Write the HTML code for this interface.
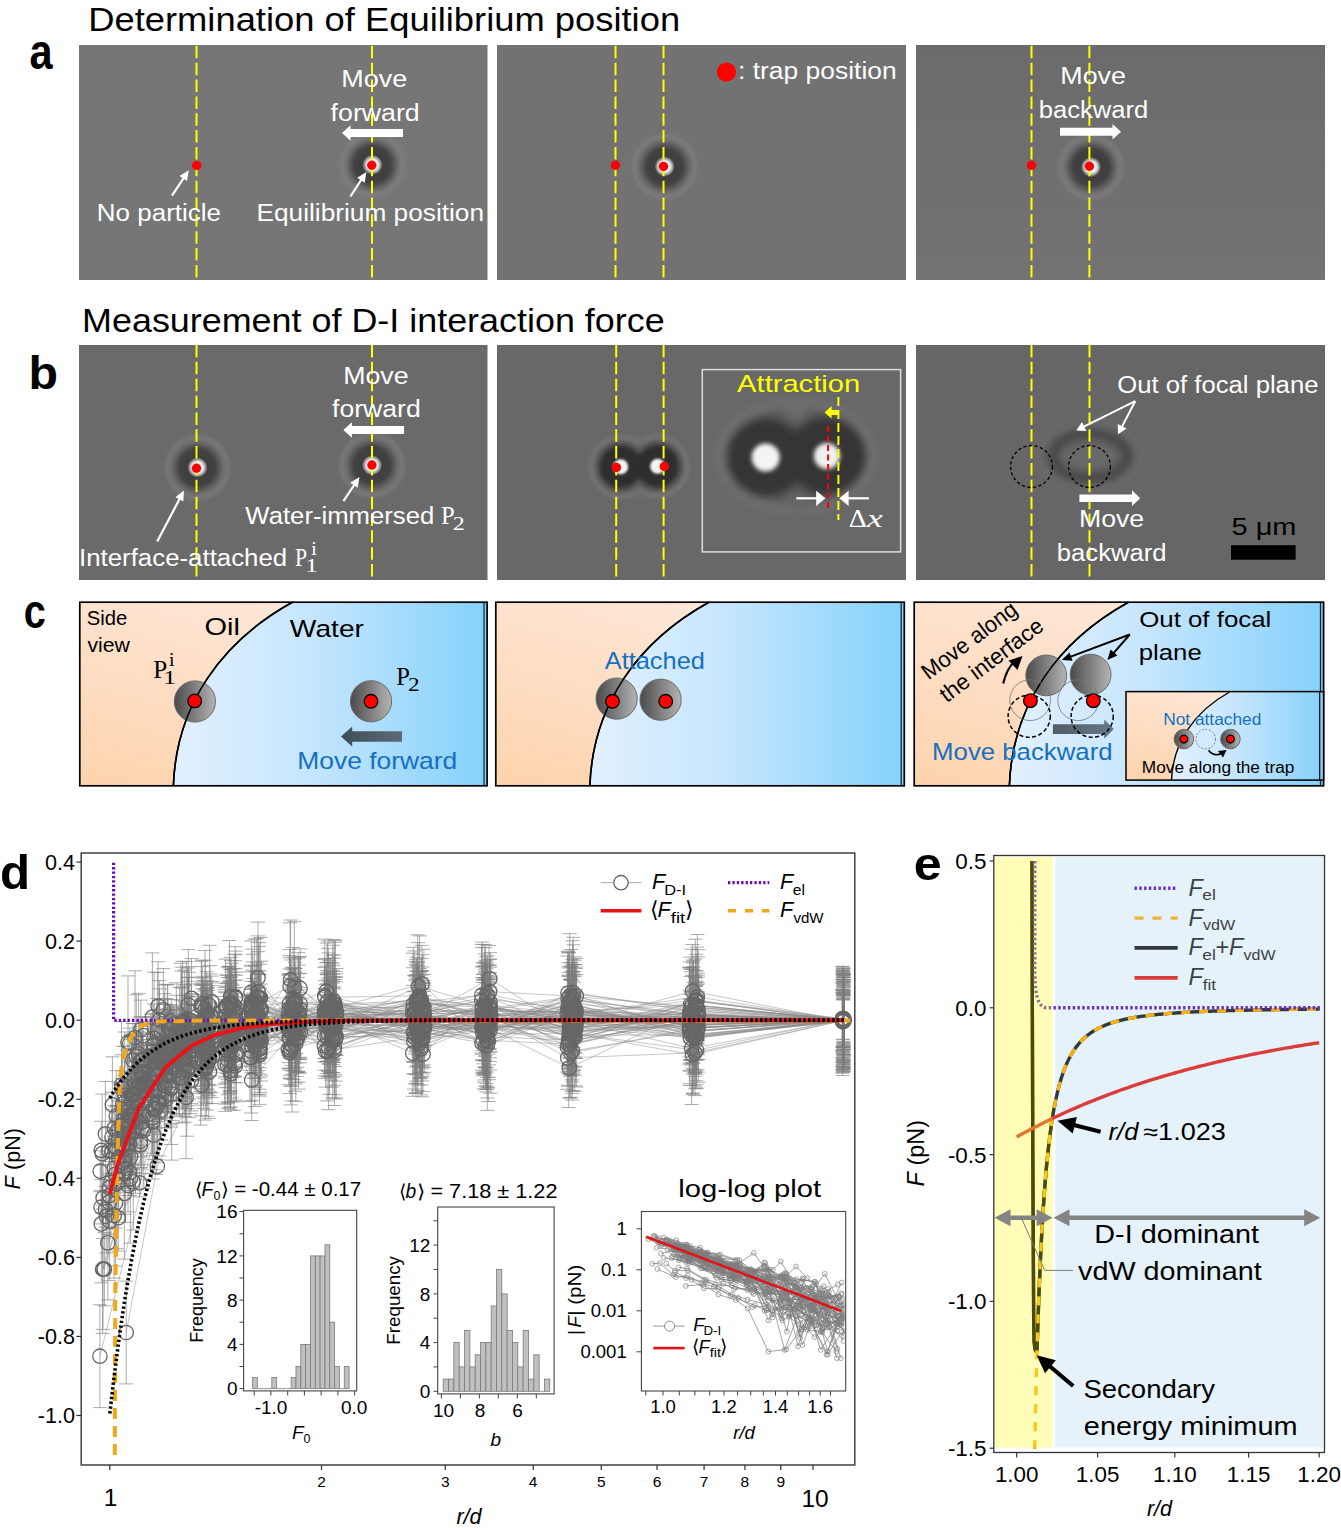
<!DOCTYPE html>
<html><head><meta charset="utf-8"><title>Figure</title>
<style>
html,body{margin:0;padding:0;background:#fff;}
body{width:1341px;height:1528px;overflow:hidden;}
svg{display:block;font-family:"Liberation Sans", sans-serif;}
</style></head><body>
<svg width="1341" height="1528" viewBox="0 0 1341 1528">
<defs>
<radialGradient id="pA" cx="0.5" cy="0.5" r="0.5">
 <stop offset="0" stop-color="#f8f8f8"/>
 <stop offset="0.15" stop-color="#f0f0f0"/>
 <stop offset="0.22" stop-color="#a0a0a0"/>
 <stop offset="0.28" stop-color="#3e3e3e"/>
 <stop offset="0.5" stop-color="#424242"/>
 <stop offset="0.61" stop-color="#585858"/>
 <stop offset="0.7" stop-color="#686868" stop-opacity="0.8"/>
 <stop offset="0.86" stop-color="#8a8a8a" stop-opacity="0.35"/>
 <stop offset="1" stop-color="#777777" stop-opacity="0"/>
</radialGradient>
<radialGradient id="pBig" cx="0.5" cy="0.5" r="0.5">
 <stop offset="0" stop-color="#ffffff"/>
 <stop offset="0.16" stop-color="#f0f0f0"/>
 <stop offset="0.26" stop-color="#6a6a6a"/>
 <stop offset="0.34" stop-color="#363636"/>
 <stop offset="0.7" stop-color="#383838"/>
 <stop offset="0.85" stop-color="#555555" stop-opacity="0.7"/>
 <stop offset="1" stop-color="#6a6a6a" stop-opacity="0"/>
</radialGradient>
<radialGradient id="blurRing" cx="0.5" cy="0.5" r="0.5">
 <stop offset="0" stop-color="#707070" stop-opacity="0.2"/>
 <stop offset="0.55" stop-color="#6c6c6c" stop-opacity="0.3"/>
 <stop offset="0.78" stop-color="#454545" stop-opacity="0.9"/>
 <stop offset="0.9" stop-color="#555555" stop-opacity="0.5"/>
 <stop offset="1" stop-color="#666666" stop-opacity="0"/>
</radialGradient>
<linearGradient id="peach" x1="0" y1="1" x2="0.6" y2="0">
 <stop offset="0" stop-color="#fdd3ad"/>
 <stop offset="1" stop-color="#fee8da"/>
</linearGradient>
<linearGradient id="blue" x1="0" y1="0" x2="1" y2="0">
 <stop offset="0" stop-color="#e2f0ff"/>
 <stop offset="0.45" stop-color="#c4e5fd"/>
 <stop offset="1" stop-color="#84d1fb"/>
</linearGradient>
<linearGradient id="ball" x1="0" y1="0" x2="1" y2="0">
 <stop offset="0" stop-color="#4a4a4a"/>
 <stop offset="1" stop-color="#b4b4b4"/>
</linearGradient>
<linearGradient id="ballH" x1="0" y1="0" x2="1" y2="0">
 <stop offset="0" stop-color="#505050"/>
 <stop offset="1" stop-color="#a8a8a8"/>
</linearGradient>
<linearGradient id="slate" x1="0" y1="0" x2="1" y2="0">
 <stop offset="0" stop-color="#3f4d59"/>
 <stop offset="1" stop-color="#5d6b78"/>
</linearGradient>
<linearGradient id="ga3" x1="0" y1="0" x2="0" y2="1"><stop offset="0" stop-color="#6b6b6b"/><stop offset="1" stop-color="#737373"/></linearGradient><filter id="bl2" x="-50%" y="-50%" width="200%" height="200%"><feGaussianBlur stdDeviation="2.2"/></filter><filter id="bl1" x="-50%" y="-50%" width="200%" height="200%"><feGaussianBlur stdDeviation="1.2"/></filter><filter id="bl4" x="-50%" y="-50%" width="200%" height="200%"><feGaussianBlur stdDeviation="4"/></filter><clipPath id="cp79"><rect x="79.8" y="602" width="407.3" height="184"/></clipPath><clipPath id="cp495"><rect x="495.8" y="602" width="408.49999999999994" height="184"/></clipPath><clipPath id="cp914"><rect x="914.2" y="602" width="409.39999999999986" height="184"/></clipPath><clipPath id="clipD"><rect x="82.2" y="854" width="771.5999999999999" height="610"/></clipPath><clipPath id="clipL"><rect x="642.4" y="1212.5" width="202.30000000000007" height="177.5"/></clipPath><clipPath id="clipY"><rect x="994" y="857" width="58.6" height="591"/></clipPath></defs>
<rect width="1341" height="1528" fill="#fff"/>
<text x="88.22" y="31.0" font-size="32.40" fill="#000" textLength="591.9" lengthAdjust="spacingAndGlyphs">Determination of Equilibrium position</text>
<text x="82.05" y="331.8" font-size="32.40" fill="#000" textLength="582.6" lengthAdjust="spacingAndGlyphs">Measurement of D-I interaction force</text>
<text x="29.49" y="69.0" font-size="50.00" fill="#000" textLength="23.1" lengthAdjust="spacingAndGlyphs" font-weight="bold">a</text>
<text x="28.52" y="388.8" font-size="46.50" fill="#000" textLength="29.5" lengthAdjust="spacingAndGlyphs" font-weight="bold">b</text>
<text x="23.85" y="628.0" font-size="48.00" fill="#000" textLength="22.0" lengthAdjust="spacingAndGlyphs" font-weight="bold">c</text>
<text x="-0.02" y="888.6" font-size="49.00" fill="#000" textLength="30.1" lengthAdjust="spacingAndGlyphs" font-weight="bold">d</text>
<text x="913.84" y="880.0" font-size="47.00" fill="#000" textLength="27.9" lengthAdjust="spacingAndGlyphs" font-weight="bold">e</text>
<rect x="79" y="45" width="408.5" height="235" fill="#767676"/>
<rect x="497" y="45" width="409" height="235" fill="#727272"/>
<rect x="916" y="45" width="409" height="235" fill="url(#ga3)"/>
<rect x="79" y="345" width="408.5" height="235" fill="#6a6a6a"/>
<rect x="497" y="345" width="409" height="235" fill="#686868"/>
<rect x="916" y="345" width="409" height="235" fill="#666666"/>
<circle cx="372.5" cy="164.8" r="36" fill="url(#pA)"/>
<line x1="196.5" y1="45" x2="196.5" y2="280" stroke="#ffff00" stroke-width="2" stroke-dasharray="12.5 4.35" stroke-dashoffset="-0.85"/>
<line x1="372" y1="45" x2="372" y2="280" stroke="#ffff00" stroke-width="2" stroke-dasharray="12.5 4.35" stroke-dashoffset="-0.85"/>
<circle cx="196.7" cy="165.4" r="4.7" fill="#ff0000"/>
<circle cx="371.8" cy="165.2" r="4.7" fill="#ff0000"/>
<line x1="172.0" y1="195.6" x2="183.8" y2="177.8" stroke="#ffffff" stroke-width="2.2"/>
<polygon points="188.8,170.3 187.0,181.1 179.5,176.1" fill="#ffffff"/>
<line x1="350.4" y1="196.5" x2="361.5" y2="179.4" stroke="#ffffff" stroke-width="2.2"/>
<polygon points="366.4,171.9 364.7,182.7 357.2,177.8" fill="#ffffff"/>
<polygon points="403.0,129.0 350.5,129.0 350.5,125.2 342.0,133.0 350.5,140.8 350.5,137.0 403.0,137.0" fill="#ffffff" />
<text x="341.29" y="87.0" font-size="23.18" fill="#ffffff" textLength="65.9" lengthAdjust="spacingAndGlyphs">Move</text>
<text x="330.62" y="120.5" font-size="23.18" fill="#ffffff" textLength="89.1" lengthAdjust="spacingAndGlyphs">forward</text>
<text x="96.87" y="220.5" font-size="23.18" fill="#ffffff" textLength="124.1" lengthAdjust="spacingAndGlyphs">No particle</text>
<text x="256.45" y="220.8" font-size="23.18" fill="#ffffff" textLength="227.6" lengthAdjust="spacingAndGlyphs">Equilibrium position</text>
<circle cx="664.7" cy="166.5" r="36" fill="url(#pA)"/>
<line x1="615.5" y1="45" x2="615.5" y2="280" stroke="#ffff00" stroke-width="2" stroke-dasharray="12.5 4.35" stroke-dashoffset="-0.85"/>
<line x1="663.5" y1="45" x2="663.5" y2="280" stroke="#ffff00" stroke-width="2" stroke-dasharray="12.5 4.35" stroke-dashoffset="-0.85"/>
<circle cx="615.5" cy="165.3" r="4.7" fill="#ff0000"/>
<circle cx="663.5" cy="166.5" r="4.7" fill="#ff0000"/>
<circle cx="726.5" cy="72" r="9.6" fill="#ff0000"/>
<text x="737.99" y="79.1" font-size="23.18" fill="#ffffff" textLength="158.7" lengthAdjust="spacingAndGlyphs">: trap position</text>
<circle cx="1091" cy="167" r="36" fill="url(#pA)"/>
<line x1="1031.5" y1="45" x2="1031.5" y2="280" stroke="#ffff00" stroke-width="2" stroke-dasharray="12.5 4.35" stroke-dashoffset="-0.85"/>
<line x1="1089.4" y1="45" x2="1089.4" y2="280" stroke="#ffff00" stroke-width="2" stroke-dasharray="12.5 4.35" stroke-dashoffset="-0.85"/>
<circle cx="1031.5" cy="165.2" r="4.7" fill="#ff0000"/>
<circle cx="1089.4" cy="166.3" r="4.7" fill="#ff0000"/>
<polygon points="1060.0,127.7 1112.5,127.7 1112.5,123.9 1121.0,131.7 1112.5,139.4 1112.5,135.7 1060.0,135.7" fill="#ffffff" />
<text x="1060.30" y="84.0" font-size="23.18" fill="#ffffff" textLength="65.7" lengthAdjust="spacingAndGlyphs">Move</text>
<text x="1038.75" y="117.8" font-size="23.18" fill="#ffffff" textLength="109.5" lengthAdjust="spacingAndGlyphs">backward</text>
<circle cx="197.5" cy="467.5" r="36" fill="url(#pA)"/>
<circle cx="372" cy="465.2" r="36" fill="url(#pA)"/>
<line x1="196.5" y1="345" x2="196.5" y2="580" stroke="#ffff00" stroke-width="2" stroke-dasharray="12.5 4.35" stroke-dashoffset="0"/>
<line x1="372" y1="345" x2="372" y2="580" stroke="#ffff00" stroke-width="2" stroke-dasharray="12.5 4.35" stroke-dashoffset="0"/>
<circle cx="196.5" cy="468.2" r="4.7" fill="#ff0000"/>
<circle cx="371.9" cy="465" r="4.7" fill="#ff0000"/>
<line x1="157.2" y1="541.6" x2="179.8" y2="498.5" stroke="#ffffff" stroke-width="2.2"/>
<polygon points="184.0,490.5 183.3,501.4 175.4,497.3" fill="#ffffff"/>
<line x1="343.4" y1="501.2" x2="354.5" y2="484.5" stroke="#ffffff" stroke-width="2.2"/>
<polygon points="359.5,477.0 357.7,487.8 350.2,482.8" fill="#ffffff"/>
<polygon points="404.1,426.0 351.9,426.0 351.9,422.2 343.4,430.0 351.9,437.8 351.9,434.0 404.1,434.0" fill="#ffffff" />
<text x="343.21" y="384.0" font-size="23.18" fill="#ffffff" textLength="65.4" lengthAdjust="spacingAndGlyphs">Move</text>
<text x="332.02" y="416.9" font-size="23.18" fill="#ffffff" textLength="88.7" lengthAdjust="spacingAndGlyphs">forward</text>
<text x="245.39" y="523.5" font-size="23.18" fill="#ffffff" textLength="188.9" lengthAdjust="spacingAndGlyphs">Water-immersed</text>
<text x="441.09" y="523.5" font-size="25.00" fill="#ffffff" font-family='"Liberation Serif", serif' textLength="13.7" lengthAdjust="spacingAndGlyphs">P</text>
<text x="452.75" y="529.8" font-size="18.50" fill="#ffffff" font-family='"Liberation Serif", serif' textLength="12.0" lengthAdjust="spacingAndGlyphs">2</text>
<text x="79.02" y="566.0" font-size="23.18" fill="#ffffff" textLength="208.2" lengthAdjust="spacingAndGlyphs">Interface-attached</text>
<text x="295.07" y="566.0" font-size="25.00" fill="#ffffff" font-family='"Liberation Serif", serif' textLength="12.1" lengthAdjust="spacingAndGlyphs">P</text>
<text x="305.38" y="572.3" font-size="18.50" fill="#ffffff" font-family='"Liberation Serif", serif' textLength="12.6" lengthAdjust="spacingAndGlyphs">1</text>
<text x="311.39" y="555.2" font-size="18.50" fill="#ffffff" font-family='"Liberation Serif", serif' textLength="5.5" lengthAdjust="spacingAndGlyphs">i</text>
<g filter="url(#bl2)">
<circle cx="620.7" cy="466.8" r="31" fill="#7c7c7c"/><circle cx="657.6" cy="466.3" r="31" fill="#7c7c7c"/>
<circle cx="620.7" cy="466.8" r="27.5" fill="#5a5a5a"/><circle cx="657.6" cy="466.3" r="27.5" fill="#5a5a5a"/>
<circle cx="620.7" cy="466.8" r="22" fill="#2e2e2e"/><circle cx="657.6" cy="466.3" r="22" fill="#2e2e2e"/>
<ellipse cx="639" cy="442" rx="6" ry="4" fill="#707070"/><ellipse cx="639" cy="491" rx="6" ry="4" fill="#707070"/>
</g>
<g filter="url(#bl1)"><circle cx="620.7" cy="466.8" r="7.5" fill="#f4f4f4"/><circle cx="657.6" cy="466.3" r="7.5" fill="#f4f4f4"/></g>
<line x1="616.2" y1="345" x2="616.2" y2="580" stroke="#ffff00" stroke-width="2" stroke-dasharray="12.5 4.35" stroke-dashoffset="0"/>
<line x1="663.6" y1="345" x2="663.6" y2="580" stroke="#ffff00" stroke-width="2" stroke-dasharray="12.5 4.35" stroke-dashoffset="0"/>
<circle cx="616.4" cy="467.5" r="4.7" fill="#ff0000"/>
<circle cx="664.3" cy="466.5" r="4.7" fill="#ff0000"/>
<rect x="702.3" y="369.6" width="198.3" height="182.3" fill="none" stroke="#dcdcdc" stroke-width="1.5"/>
<g filter="url(#bl4)">
<ellipse cx="796" cy="456" rx="80" ry="56" fill="#747474"/>
<ellipse cx="796" cy="456" rx="72" ry="50" fill="#5c5c5c"/>
<circle cx="765.7" cy="457.5" r="40" fill="#343434"/><circle cx="826.9" cy="456" r="40" fill="#343434"/>
<ellipse cx="796" cy="411" rx="11" ry="9" fill="#6c6c6c"/><ellipse cx="798" cy="502" rx="11" ry="9" fill="#666666"/>
</g>
<g filter="url(#bl2)"><circle cx="765.7" cy="457.5" r="14" fill="#f4f4f4"/><circle cx="826.9" cy="456" r="13" fill="#f0f0f0"/></g>
<line x1="828.1" y1="426" x2="828.1" y2="508" stroke="#ff0000" stroke-width="2" stroke-dasharray="6 3.5"/>
<line x1="838.4" y1="397" x2="838.4" y2="520" stroke="#ffff00" stroke-width="2" stroke-dasharray="9 4"/>
<polygon points="838.4,409.9 831.6,409.9 831.6,406.1 824.6,412.4 831.6,418.6 831.6,414.9 838.4,414.9" fill="#ffff00" />
<line x1="796.3" y1="498.3" x2="817.2" y2="498.3" stroke="#ffffff" stroke-width="2.2"/>
<polygon points="825.4,498.3 816.2,505.9 816.2,490.7" fill="#ffffff"/>
<line x1="869.0" y1="498.3" x2="847.6" y2="498.3" stroke="#ffffff" stroke-width="2.2"/>
<polygon points="839.4,498.3 848.6,490.7 848.6,505.9" fill="#ffffff"/>
<text x="737.14" y="392.2" font-size="23.46" fill="#ffff00" textLength="123.0" lengthAdjust="spacingAndGlyphs">Attraction</text>
<text x="848.73" y="527.0" font-size="25.00" fill="#ffffff" font-family='"Liberation Serif", serif' textLength="18.1" lengthAdjust="spacingAndGlyphs">Δ</text>
<text x="866.94" y="527.0" font-size="25.00" fill="#ffffff" font-family='"Liberation Serif", serif' textLength="15.8" lengthAdjust="spacingAndGlyphs" font-style="italic">x</text>
<g filter="url(#bl4)"><ellipse cx="1090" cy="456" rx="37" ry="22" fill="#6a6a6a" stroke="#3e3e3e" stroke-width="12" opacity="0.8"/><ellipse cx="1090" cy="456" rx="50" ry="34" fill="none" stroke="#707070" stroke-width="5" opacity="0.6"/></g>
<line x1="1031.5" y1="345" x2="1031.5" y2="580" stroke="#ffff00" stroke-width="2" stroke-dasharray="12.5 4.35" stroke-dashoffset="0"/>
<line x1="1089.5" y1="345" x2="1089.5" y2="580" stroke="#ffff00" stroke-width="2" stroke-dasharray="12.5 4.35" stroke-dashoffset="0"/>
<circle cx="1031.5" cy="466.5" r="20.9" fill="none" stroke="#000" stroke-width="1.3" stroke-dasharray="3.2 2.4"/>
<circle cx="1089.5" cy="466.5" r="20.9" fill="none" stroke="#000" stroke-width="1.3" stroke-dasharray="3.2 2.4"/>
<line x1="1135.2" y1="401.2" x2="1083.4" y2="426.9" stroke="#ffffff" stroke-width="2"/>
<polygon points="1076.2,430.4 1082.0,421.9 1086.5,430.9" fill="#ffffff"/>
<line x1="1135.2" y1="401.2" x2="1121.7" y2="427.1" stroke="#ffffff" stroke-width="2"/>
<polygon points="1118.0,434.2 1117.7,423.9 1126.6,428.5" fill="#ffffff"/>
<polygon points="1079.4,494.4 1132.0,494.4 1132.0,490.3 1140.2,498.2 1132.0,506.1 1132.0,502.0 1079.4,502.0" fill="#ffffff" />
<text x="1117.18" y="393.2" font-size="23.18" fill="#ffffff" textLength="201.3" lengthAdjust="spacingAndGlyphs">Out of focal plane</text>
<text x="1078.91" y="526.7" font-size="23.18" fill="#ffffff" textLength="65.3" lengthAdjust="spacingAndGlyphs">Move</text>
<text x="1056.85" y="560.9" font-size="23.18" fill="#ffffff" textLength="109.6" lengthAdjust="spacingAndGlyphs">backward</text>
<text x="1231.54" y="535.2" font-size="23.18" fill="#000" textLength="64.9" lengthAdjust="spacingAndGlyphs">5 μm</text>
<rect x="1231" y="545.2" width="64.6" height="14.5" fill="#000"/>
<g clip-path="url(#cp79)">
<rect x="79.8" y="602" width="407.3" height="184" fill="url(#peach)"/>
<path transform="translate(0,0)" d="M292.8,602 C221.6,641.2 176.1,705.1 173.4,785.8 L489.1,785.8 L489.1,600 Z" fill="url(#blue)"/>
<path transform="translate(0,0)" d="M292.8,602 C221.6,641.2 176.1,705.1 173.4,785.8" fill="none" stroke="#000" stroke-width="1.6"/>
</g>
<line x1="484.0" y1="602.5" x2="484.0" y2="785.5" stroke="#1a2a33" stroke-width="1.3"/>
<rect x="79.8" y="602.2" width="407.3" height="183.6" fill="none" stroke="#000" stroke-width="1.7"/>
<g clip-path="url(#cp495)">
<rect x="495.8" y="602" width="408.49999999999994" height="184" fill="url(#peach)"/>
<path transform="translate(416.5,0)" d="M292.8,602 C221.6,641.2 176.1,705.1 173.4,785.8 L489.79999999999995,785.8 L489.79999999999995,600 Z" fill="url(#blue)"/>
<path transform="translate(416.5,0)" d="M292.8,602 C221.6,641.2 176.1,705.1 173.4,785.8" fill="none" stroke="#000" stroke-width="1.6"/>
</g>
<line x1="901.1999999999999" y1="602.5" x2="901.1999999999999" y2="785.5" stroke="#1a2a33" stroke-width="1.3"/>
<rect x="495.8" y="602.2" width="408.49999999999994" height="183.6" fill="none" stroke="#000" stroke-width="1.7"/>
<g clip-path="url(#cp914)">
<rect x="914.2" y="602" width="409.39999999999986" height="184" fill="url(#peach)"/>
<path transform="translate(836,0)" d="M292.8,602 C221.6,641.2 176.1,705.1 173.4,785.8 L489.5999999999999,785.8 L489.5999999999999,600 Z" fill="url(#blue)"/>
<path transform="translate(836,0)" d="M292.8,602 C221.6,641.2 176.1,705.1 173.4,785.8" fill="none" stroke="#000" stroke-width="1.6"/>
</g>
<line x1="1320.5" y1="602.5" x2="1320.5" y2="785.5" stroke="#1a2a33" stroke-width="1.3"/>
<rect x="914.2" y="602.2" width="409.39999999999986" height="183.6" fill="none" stroke="#000" stroke-width="1.7"/>
<circle cx="194.9" cy="701.5" r="20.6" fill="url(#ball)" stroke="#6a6a6a" stroke-width="1"/>
<path d="M292.8,602 C221.6,641.2 176.1,705.1 173.4,785.8" fill="none" stroke="#000" stroke-width="1.6"/>
<circle cx="194.7" cy="700.9" r="6.8" fill="#ff0000" stroke="#000" stroke-width="1.3"/>
<circle cx="371" cy="701.3" r="20.6" fill="url(#ball)" stroke="#6a6a6a" stroke-width="1"/>
<circle cx="371" cy="701.3" r="6.8" fill="#ff0000" stroke="#000" stroke-width="1.3"/>
<text x="86.68" y="624.7" font-size="19.55" fill="#000" textLength="40.5" lengthAdjust="spacingAndGlyphs">Side</text>
<text x="87.53" y="652.4" font-size="19.55" fill="#000" textLength="42.4" lengthAdjust="spacingAndGlyphs">view</text>
<text x="204.53" y="635.0" font-size="24.44" fill="#000" textLength="35.4" lengthAdjust="spacingAndGlyphs">Oil</text>
<text x="289.88" y="636.6" font-size="24.44" fill="#000" textLength="74.1" lengthAdjust="spacingAndGlyphs">Water</text>
<text x="153.27" y="677.5" font-size="25.50" fill="#000" font-family='"Liberation Serif", serif' textLength="14.0" lengthAdjust="spacingAndGlyphs">P</text>
<text x="163.25" y="683.5" font-size="18.50" fill="#000" font-family='"Liberation Serif", serif' textLength="12.8" lengthAdjust="spacingAndGlyphs">1</text>
<text x="169.09" y="666.0" font-size="18.50" fill="#000" font-family='"Liberation Serif", serif' textLength="5.5" lengthAdjust="spacingAndGlyphs">i</text>
<text x="396.29" y="685.0" font-size="25.50" fill="#000" font-family='"Liberation Serif", serif' textLength="13.7" lengthAdjust="spacingAndGlyphs">P</text>
<text x="407.98" y="691.3" font-size="18.50" fill="#000" font-family='"Liberation Serif", serif' textLength="11.6" lengthAdjust="spacingAndGlyphs">2</text>
<polygon points="402.0,731.3 352.2,731.3 352.2,726.6 341.0,736.5 352.2,746.4 352.2,741.7 402.0,741.7" fill="url(#slate)" />
<text x="297.23" y="769.0" font-size="23.46" fill="#1570c0" textLength="160.1" lengthAdjust="spacingAndGlyphs">Move forward</text>
<circle cx="616.6" cy="698.6" r="20.6" fill="url(#ball)" stroke="#6a6a6a" stroke-width="1"/>
<g transform="translate(416.5,0)"><path d="M292.8,602 C221.6,641.2 176.1,705.1 173.4,785.8" fill="none" stroke="#000" stroke-width="1.6"/></g>
<circle cx="612.5" cy="701.3" r="6.8" fill="#ff0000" stroke="#000" stroke-width="1.3"/>
<circle cx="660.6" cy="699.7" r="20.6" fill="url(#ball)" stroke="#6a6a6a" stroke-width="1"/>
<circle cx="665.7" cy="701.3" r="6.8" fill="#ff0000" stroke="#000" stroke-width="1.3"/>
<text x="604.75" y="668.6" font-size="23.46" fill="#1570c0" textLength="100.1" lengthAdjust="spacingAndGlyphs">Attached</text>
<circle cx="1046.2" cy="675.4" r="20.4" fill="url(#ball)" stroke="#6a6a6a" stroke-width="1"/>
<circle cx="1090.6" cy="674.6" r="20.4" fill="url(#ball)" stroke="#6a6a6a" stroke-width="1"/>
<g transform="translate(836,0)"><path d="M292.8,602 C221.6,641.2 176.1,705.1 173.4,785.8" fill="none" stroke="#000" stroke-width="1.6"/></g>
<circle cx="1030.1" cy="700.2" r="20.4" fill="none" stroke="#777" stroke-width="0.8"/>
<circle cx="1078.2" cy="700.2" r="20.4" fill="none" stroke="#777" stroke-width="0.8"/>
<polygon points="1052.9,724.3 1104.2,724.3 1104.2,719.5 1113.8,729.1 1104.2,738.7 1104.2,733.9 1052.9,733.9" fill="url(#slate)" opacity="0.9"/>
<circle cx="1029.2" cy="716.2" r="21.1" fill="none" stroke="#000" stroke-width="1.5" stroke-dasharray="4 2.5"/>
<circle cx="1092.2" cy="716.2" r="21.1" fill="none" stroke="#000" stroke-width="1.5" stroke-dasharray="4 2.5"/>
<circle cx="1030.4" cy="700.7" r="6.8" fill="#ff0000" stroke="#000" stroke-width="1.3"/>
<circle cx="1093.3" cy="700.7" r="6.8" fill="#ff0000" stroke="#000" stroke-width="1.3"/>
<text x="932.09" y="760.3" font-size="23.46" fill="#1570c0" textLength="180.5" lengthAdjust="spacingAndGlyphs">Move backward</text>
<line x1="1129.8" y1="634.5" x2="1070.1" y2="656.9" stroke="#000" stroke-width="2"/>
<polygon points="1061.7,660.1 1069.5,652.4 1072.6,660.8" fill="#000"/>
<line x1="1129.8" y1="634.5" x2="1113.3" y2="653.3" stroke="#000" stroke-width="2"/>
<polygon points="1107.4,660.1 1110.6,649.6 1117.4,655.5" fill="#000"/>
<text x="1139.18" y="626.6" font-size="22.91" fill="#000" textLength="132.1" lengthAdjust="spacingAndGlyphs">Out of focal</text>
<text x="1138.74" y="659.5" font-size="22.91" fill="#000" textLength="63.0" lengthAdjust="spacingAndGlyphs">plane</text>
<g transform="translate(930,679.5) rotate(-37)">
<text x="-1.80" y="0.0" font-size="22.63" fill="#000" textLength="113.2" lengthAdjust="spacingAndGlyphs">Move along</text>
</g>
<g transform="translate(947,703) rotate(-37)">
<text x="-0.34" y="0.0" font-size="22.63" fill="#000" textLength="123.3" lengthAdjust="spacingAndGlyphs">the interface</text>
</g>
<path d="M1003.2,683.4 Q1007,668 1015,661" fill="none" stroke="#000" stroke-width="2.2"/>
<polygon points="1022.5,656 1008.5,660.5 1017.5,670" fill="#000"/>
<g>
<clipPath id="clipIn"><rect x="1126" y="691.6" width="197.6" height="88.5"/></clipPath>
<g clip-path="url(#clipIn)">
<rect x="1126" y="691.6" width="197.6" height="88.5" fill="url(#peach)"/>
<path d="M1229.6,692 C1194.9,711.1 1172.8,742.2 1171.5,780.5 L1324,780.5 L1324,691.6 Z" fill="url(#blue)"/>
<path d="M1229.6,692 C1194.9,711.1 1172.8,742.2 1171.5,780.5" fill="none" stroke="#000" stroke-width="1.4"/>
</g>
<rect x="1126" y="691.6" width="197.6" height="88.5" fill="none" stroke="#000" stroke-width="1.5"/>
<line x1="1319.7" y1="691.6" x2="1319.7" y2="780" stroke="#000" stroke-width="1.2"/>
</g>
<circle cx="1183.9" cy="739.1" r="9.8" fill="url(#ball)" stroke="#6a6a6a" stroke-width="1"/>
<circle cx="1183.9" cy="739.1" r="3.9" fill="#ff0000" stroke="#000" stroke-width="1.3"/>
<circle cx="1205.7" cy="739.1" r="9.8" fill="none" stroke="#666" stroke-width="0.8" stroke-dasharray="2 1.5"/>
<circle cx="1230.4" cy="739.1" r="9.8" fill="url(#ball)" stroke="#6a6a6a" stroke-width="1"/>
<circle cx="1230.4" cy="739.1" r="3.9" fill="#ff0000" stroke="#000" stroke-width="1.3"/>
<text x="1163.18" y="724.5" font-size="16.48" fill="#1570c0" textLength="98.1" lengthAdjust="spacingAndGlyphs">Not attached</text>
<text x="1141.78" y="773.0" font-size="15.64" fill="#000" textLength="152.7" lengthAdjust="spacingAndGlyphs">Move along the trap</text>
<path d="M1208.5,750.3 Q1214,757.5 1222,753" fill="none" stroke="#000" stroke-width="1.6"/>
<polygon points="1226.5,750 1218,751 1223,757.5" fill="#000"/>
<rect x="81.2" y="853" width="773.5999999999999" height="612" fill="#fff" stroke="#333333" stroke-width="1.4"/>
<line x1="76.4" y1="862.1" x2="81.2" y2="862.1" stroke="#333333" stroke-width="1.2"/>
<text x="75.00" y="869.7" font-size="21.60" fill="#000" text-anchor="end">0.4</text>
<line x1="76.4" y1="941.1" x2="81.2" y2="941.1" stroke="#333333" stroke-width="1.2"/>
<text x="75.00" y="948.7" font-size="21.60" fill="#000" text-anchor="end">0.2</text>
<line x1="76.4" y1="1020.2" x2="81.2" y2="1020.2" stroke="#333333" stroke-width="1.2"/>
<text x="75.00" y="1027.8" font-size="21.60" fill="#000" text-anchor="end">0.0</text>
<line x1="76.4" y1="1099.3" x2="81.2" y2="1099.3" stroke="#333333" stroke-width="1.2"/>
<text x="75.00" y="1106.9" font-size="21.60" fill="#000" text-anchor="end">-0.2</text>
<line x1="76.4" y1="1178.3" x2="81.2" y2="1178.3" stroke="#333333" stroke-width="1.2"/>
<text x="75.00" y="1185.9" font-size="21.60" fill="#000" text-anchor="end">-0.4</text>
<line x1="76.4" y1="1257.4" x2="81.2" y2="1257.4" stroke="#333333" stroke-width="1.2"/>
<text x="75.00" y="1265.0" font-size="21.60" fill="#000" text-anchor="end">-0.6</text>
<line x1="76.4" y1="1336.4" x2="81.2" y2="1336.4" stroke="#333333" stroke-width="1.2"/>
<text x="75.00" y="1344.0" font-size="21.60" fill="#000" text-anchor="end">-0.8</text>
<line x1="76.4" y1="1415.5" x2="81.2" y2="1415.5" stroke="#333333" stroke-width="1.2"/>
<text x="75.00" y="1423.1" font-size="21.60" fill="#000" text-anchor="end">-1.0</text>
<line x1="109.8" y1="1465" x2="109.8" y2="1470" stroke="#333333" stroke-width="1.2"/>
<line x1="321.5" y1="1465" x2="321.5" y2="1470" stroke="#333333" stroke-width="1.2"/>
<line x1="445.3" y1="1465" x2="445.3" y2="1470" stroke="#333333" stroke-width="1.2"/>
<line x1="533.2" y1="1465" x2="533.2" y2="1470" stroke="#333333" stroke-width="1.2"/>
<line x1="601.3" y1="1465" x2="601.3" y2="1470" stroke="#333333" stroke-width="1.2"/>
<line x1="657.0" y1="1465" x2="657.0" y2="1470" stroke="#333333" stroke-width="1.2"/>
<line x1="704.1" y1="1465" x2="704.1" y2="1470" stroke="#333333" stroke-width="1.2"/>
<line x1="744.9" y1="1465" x2="744.9" y2="1470" stroke="#333333" stroke-width="1.2"/>
<line x1="780.8" y1="1465" x2="780.8" y2="1470" stroke="#333333" stroke-width="1.2"/>
<line x1="813.0" y1="1465" x2="813.0" y2="1470" stroke="#333333" stroke-width="1.2"/>
<text x="321.48" y="1486.5" font-size="15.50" fill="#000" text-anchor="middle">2</text>
<text x="445.31" y="1486.5" font-size="15.50" fill="#000" text-anchor="middle">3</text>
<text x="533.17" y="1486.5" font-size="15.50" fill="#000" text-anchor="middle">4</text>
<text x="601.32" y="1486.5" font-size="15.50" fill="#000" text-anchor="middle">5</text>
<text x="657.00" y="1486.5" font-size="15.50" fill="#000" text-anchor="middle">6</text>
<text x="704.07" y="1486.5" font-size="15.50" fill="#000" text-anchor="middle">7</text>
<text x="744.85" y="1486.5" font-size="15.50" fill="#000" text-anchor="middle">8</text>
<text x="780.82" y="1486.5" font-size="15.50" fill="#000" text-anchor="middle">9</text>
<text x="110.50" y="1506.0" font-size="24.44" fill="#000" text-anchor="middle">1</text>
<text x="815.00" y="1507.0" font-size="24.44" fill="#000" text-anchor="middle">10</text>
<text x="469.00" y="1524.0" font-size="21.60" fill="#000" text-anchor="middle" font-style="italic">r/d</text>
<g transform="translate(19.7,1189.5) rotate(-90)">
<text x="0.00" y="0.0" font-size="21.60" fill="#000" font-style="italic">F</text>
<text x="19.50" y="0.0" font-size="21.60" fill="#000">(pN)</text>
</g>
<g clip-path="url(#clipD)">
<path d="M129.0,1126.2 151.1,1060.7 182.1,1082.9 205.0,1009.8 225.1,1031.8 255.7,1016.0 288.7,1018.5 329.7,1028.8 413.4,1032.4 482.4,1007.7 571.1,1014.5 696.8,1000.1 842.5,1020.9M125.5,1168.2 160.9,1110.7 189.3,1066.9 209.4,1058.1 228.0,1045.4 261.4,1009.7 289.7,1028.9 329.5,1027.6 421.9,1039.4 483.0,1023.2 571.7,1006.9 689.6,1028.4 843.5,1020.1M117.0,1131.0 141.4,1071.8 151.2,1078.7 180.3,1049.6 207.2,1045.5 235.2,1010.8 259.5,1045.0 298.8,1023.1 327.8,1001.3 417.7,1034.5 484.9,1031.1 575.3,1011.5 698.0,1015.4 842.6,1020.1M105.5,1209.6 124.9,1135.0 157.4,1076.7 171.0,1029.7 211.1,1016.9 231.9,1035.4 251.3,1007.0 291.3,1019.6 328.6,1024.7 417.1,1030.5 482.7,1017.9 575.0,1037.1 698.4,1015.9 843.2,1018.8M109.1,1150.6 134.0,1094.7 157.2,1101.3 171.1,1088.7 200.8,1063.0 227.9,1059.9 252.7,1007.6 296.7,1038.1 336.0,1012.1 418.1,998.8 490.2,1006.7 576.3,1022.7 698.0,1021.5 843.0,1020.7M136.8,1102.6 170.4,1072.5 184.7,1050.3 204.8,1019.7 231.2,1008.2 251.1,1002.3 288.4,1049.6 336.2,1036.4 420.6,1037.4 486.5,1020.4 575.8,1028.4 693.3,1017.0 843.9,1019.8M124.6,1086.8 139.6,1087.1 151.8,1083.3 182.6,1021.6 203.5,1044.6 227.8,1030.7 258.9,1004.8 294.4,1017.9 331.3,1015.9 421.9,1020.0 490.0,1014.9 571.3,1013.8 694.9,1025.0 843.2,1019.2M121.5,1085.0 143.9,1066.3 167.4,1050.6 174.0,1024.4 205.8,1067.2 230.7,996.6 253.6,1015.1 290.6,1047.7 328.3,1006.1 421.4,1001.9 481.8,995.2 572.3,1016.2 693.3,1017.7 842.3,1018.5M101.3,1150.4 141.2,1072.7 159.4,1020.2 177.9,1028.1 207.3,1012.9 235.7,997.1 252.8,1019.2 289.8,1052.6 330.8,1015.2 415.5,1034.9 482.6,1013.5 568.7,1041.3 689.7,1021.1 842.7,1019.6M104.4,1269.2 124.3,1193.4 165.5,1046.5 176.1,1071.0 202.5,1007.8 225.4,1021.7 259.8,1027.9 298.8,1018.4 332.6,1006.1 416.1,1008.6 483.8,1012.8 569.9,1023.6 693.5,1010.7 842.6,1020.2M143.8,1130.3 152.8,1109.0 186.1,1097.5 208.4,1061.3 224.9,1064.4 259.7,1020.9 299.1,1015.2 332.1,1040.7 421.6,1027.6 489.1,1021.4 568.5,1020.1 694.1,1037.3 843.2,1020.2M111.0,1182.2 138.4,1075.2 154.0,1069.5 186.4,1044.1 212.4,1041.3 230.5,1050.4 254.2,1041.9 294.1,1018.4 332.7,1008.8 422.0,983.9 487.3,1045.0 573.1,1013.7 690.0,1021.3 842.6,1019.7M142.4,1075.1 152.4,1051.6 188.1,1034.6 206.7,1030.0 235.2,998.0 258.1,997.7 291.1,1024.4 335.3,1007.5 418.6,1031.3 481.8,1027.2 567.3,1014.1 693.8,1018.3 843.1,1019.6M142.5,1086.2 168.5,1027.8 187.9,1035.1 208.2,1043.2 235.6,1017.0 261.0,1025.9 295.0,1001.8 333.2,1027.5 413.2,1015.1 488.3,1006.7 571.4,1029.2 696.2,1005.1 843.5,1020.2M109.7,1221.1 128.4,1132.8 161.8,1070.4 189.5,1032.7 209.6,1005.5 229.5,1037.9 254.6,1000.6 294.7,1017.6 329.0,1021.2 416.8,1020.4 482.2,1007.8 569.8,1044.4 698.1,1014.0 842.5,1019.9M134.1,1131.7 159.4,1090.2 182.4,1077.8 200.9,1048.2 234.0,1045.3 252.3,1017.6 299.4,1014.6 332.3,1034.1 416.3,1000.0 482.8,1025.7 569.6,1041.0 695.1,1020.0 843.6,1021.1M130.4,1178.6 153.8,1135.1 187.6,1070.9 209.5,1071.7 230.6,1073.8 252.0,1023.3 300.0,988.4 328.2,1009.9 422.6,1015.4 483.7,1025.5 569.3,1067.9 696.2,1007.4 842.8,1018.5M114.2,1215.4 126.4,1148.3 149.5,1113.8 176.6,1029.9 204.8,1026.8 236.1,1052.6 251.0,992.4 300.0,1009.7 326.9,1010.8 417.0,1027.8 489.2,1028.2 574.8,1027.4 693.3,1020.4 842.4,1020.1M109.5,1187.7 133.1,1119.6 170.0,1057.4 190.9,1050.2 205.2,1037.1 227.5,1024.5 254.8,1045.9 294.3,987.9 335.7,1021.6 414.8,1014.6 489.0,1024.0 574.0,1034.8 696.8,1035.3 843.7,1021.0M112.4,1104.8 135.0,1037.5 157.6,1029.7 186.4,1019.9 202.9,1022.8 227.5,1025.7 252.5,1006.0 290.1,986.2 335.2,1039.6 419.7,1000.3 484.6,1014.4 570.9,1053.1 698.3,1027.3 843.2,1020.6M129.0,1138.1 153.9,1074.1 170.7,1054.6 204.5,1046.4 232.7,1011.9 251.7,1026.9 292.1,1045.0 326.9,1006.7 422.3,1012.9 486.7,999.1 567.8,1008.4 690.2,1028.6 843.0,1019.5M140.5,1144.7 151.4,1089.9 183.9,1046.6 205.0,1022.6 230.6,1031.3 251.3,1057.5 291.7,1045.5 330.8,1021.5 423.9,1007.0 482.6,1016.5 571.8,1011.4 696.6,1025.5 844.1,1019.9M133.8,1079.7 150.3,1056.3 188.5,1032.2 201.9,1003.8 231.8,1017.5 256.2,1006.7 295.9,1026.7 328.1,1018.1 417.8,1001.2 487.0,1015.2 571.2,1017.3 695.3,1036.5 843.1,1021.6M136.3,1056.2 153.7,1045.8 191.5,998.3 206.5,1015.0 236.1,1027.2 260.7,1022.9 290.2,1017.1 334.0,1001.1 424.0,1028.3 482.2,1018.7 570.5,1026.9 696.2,1038.1 842.6,1019.0M128.0,1042.2 158.1,1006.0 187.6,1030.6 203.7,1034.0 236.5,1008.0 256.6,1002.9 292.6,1014.5 333.7,1024.7 418.0,1019.2 483.2,1020.1 574.1,1026.3 689.7,1012.5 843.8,1019.9M105.4,1133.9 124.8,1085.3 163.3,1009.8 189.2,1041.9 210.0,1020.7 229.4,1004.5 252.7,1020.9 288.3,1015.2 332.3,1002.5 419.5,1016.9 484.8,1028.1 573.2,992.5 693.4,1011.5 844.0,1018.7M109.1,1202.3 125.0,1159.6 154.6,1109.2 171.3,1046.7 204.6,1036.9 233.6,1004.7 258.0,1034.3 298.5,1027.0 333.1,1012.1 415.9,1027.5 486.7,1039.4 571.3,1008.8 696.5,1038.3 843.3,1020.4M140.5,1141.3 152.7,1121.9 171.1,1087.3 201.8,1045.4 235.8,1037.8 253.7,1022.4 289.9,1026.6 324.7,995.9 413.1,1014.7 488.0,1011.4 573.1,1037.6 695.7,1001.2 843.6,1019.4M111.8,1151.7 138.2,1087.1 157.5,1056.6 177.5,1054.1 212.2,1027.8 230.6,1070.8 259.9,1051.9 295.8,1020.4 324.7,1035.9 417.7,998.9 485.6,1022.2 574.3,1010.8 692.5,1005.0 843.6,1019.5M115.3,1174.4 131.5,1116.5 158.1,1091.6 189.6,1067.3 201.5,1035.9 235.3,1055.1 249.8,1057.4 290.7,1017.0 327.6,1051.1 423.6,1013.9 486.2,1027.2 570.7,999.8 697.4,1014.4 842.7,1019.7M143.3,1092.5 165.2,1048.6 172.7,1049.9 212.2,1056.7 225.7,1037.9 254.2,1022.6 300.2,1023.3 334.1,1050.9 421.6,1020.3 485.6,1034.7 569.0,1002.8 695.1,1036.5 842.5,1020.7M118.3,1217.8 139.6,1182.9 164.9,1085.7 184.1,1050.0 203.5,1025.7 229.6,1019.7 255.1,1017.1 295.8,1043.6 329.4,1023.5 420.9,1048.9 490.1,1002.3 568.9,1038.5 695.3,1005.5 843.7,1020.4M118.4,1138.9 137.8,1102.2 157.2,1074.6 176.3,1030.0 203.2,1035.0 233.5,1018.0 260.9,1038.8 294.7,1002.6 327.1,1002.0 422.4,1021.7 485.2,1006.8 569.2,1019.8 690.5,1019.3 843.7,1020.2M115.6,1147.0 142.6,1077.3 167.8,1054.0 171.7,1061.6 210.6,1029.5 235.5,1014.1 259.1,997.7 289.9,1038.1 334.5,1047.2 420.4,1013.6 481.7,1000.2 567.3,1046.8 698.0,1009.4 843.5,1020.2M121.7,1125.5 133.5,1105.9 161.2,1069.2 189.0,1032.8 200.5,1046.0 234.7,1063.4 255.2,1023.2 295.1,1031.7 332.5,1030.3 422.9,1037.1 485.1,1017.6 571.1,1033.5 698.1,1014.5 842.4,1020.6M143.3,1035.6 163.6,1042.1 187.5,1030.9 204.5,1046.5 228.3,1039.7 253.2,1039.7 295.4,1033.6 332.2,1037.9 422.2,1032.2 482.0,1042.9 573.9,1014.1 697.4,997.0 843.3,1019.9M124.9,1102.5 128.4,1120.3 156.1,1108.3 179.7,1078.5 204.4,1051.2 229.7,1032.4 257.3,1028.5 299.6,1023.0 325.0,997.3 419.6,995.9 482.0,1018.6 568.3,1018.3 696.7,1021.1 843.4,1020.7M102.2,1153.6 136.3,1100.1 164.8,1047.8 180.5,1045.9 211.8,1041.7 227.5,1041.3 261.2,1040.9 297.0,1039.3 324.5,1014.9 412.8,1053.1 487.6,1021.6 574.7,1015.5 690.0,1014.4 842.9,1020.8M118.7,1157.7 141.8,1113.8 157.7,1103.6 185.3,1065.6 207.9,1058.7 235.4,1065.9 259.4,1055.0 291.7,1032.4 324.4,1013.0 415.8,1024.7 485.5,1029.5 572.6,1018.2 696.8,1016.2 843.9,1021.0M139.9,1084.1 168.5,1045.8 181.8,1022.7 206.3,1016.3 231.6,1036.9 251.8,1031.2 290.6,979.8 326.6,1011.7 421.2,1030.0 485.0,1024.6 572.4,997.9 693.0,1028.0 843.2,1020.2M124.7,1122.7 141.4,1103.4 159.5,1054.1 190.8,1029.7 211.6,1033.2 225.2,1049.5 256.8,996.9 293.1,998.6 325.8,1013.9 424.3,1015.6 484.0,1020.6 572.4,1000.9 695.2,1027.9 844.1,1020.2M106.3,1216.3 127.9,1107.5 152.6,1059.9 185.1,1059.3 200.6,1032.7 233.2,1033.3 251.9,1030.8 288.6,1025.8 335.7,1037.8 415.3,1021.7 490.2,1006.0 575.2,1013.5 697.4,1030.8 842.6,1020.9M129.8,1043.1 154.1,1038.3 180.9,1040.2 204.0,1018.5 227.6,1035.3 252.0,1011.4 292.7,1035.1 336.5,1012.0 424.8,1025.3 490.1,1010.1 568.1,998.7 691.9,1015.0 843.9,1020.0M131.6,1101.4 166.9,1048.4 183.1,1029.3 203.0,1039.2 225.2,1031.8 258.4,1015.2 293.2,1004.2 333.2,1019.9 413.3,1004.3 489.1,1005.1 570.3,1029.6 697.0,1000.5 843.9,1018.7M123.8,1119.6 123.2,1143.5 170.2,1065.0 175.4,1058.6 202.7,1047.4 225.7,1047.7 252.6,1029.2 298.2,1011.9 324.7,1008.5 413.8,1041.2 488.0,1030.4 569.0,1007.5 689.4,1025.4 843.4,1021.0M114.3,1168.0 132.2,1132.7 170.5,1067.4 187.8,1043.1 211.6,1037.7 234.4,1010.9 259.8,1035.3 288.9,1020.9 330.7,1024.0 424.3,1025.2 490.2,1030.2 569.5,1027.8 693.2,1027.5 843.5,1019.6M142.5,1078.6 160.6,1053.0 176.4,1067.4 206.2,1025.4 231.0,1002.9 251.3,1037.4 289.7,1031.6 326.0,1017.7 416.2,1003.9 485.4,1007.3 569.9,1019.2 691.5,1035.3 842.5,1020.5M101.3,1223.9 141.4,1122.5 159.1,1102.9 171.8,1066.6 205.2,1069.0 229.8,1028.6 258.5,1004.8 289.5,1003.7 327.1,1035.8 424.3,1028.7 488.4,1041.3 568.7,1008.3 692.4,1031.2 842.9,1019.6M116.7,1183.8 129.8,1172.4 166.4,1099.0 188.7,1031.0 206.6,1053.5 229.9,1036.3 251.7,1080.0 292.0,1033.7 326.1,1026.3 419.7,1032.9 487.0,1040.2 568.0,993.1 697.7,1009.3 842.9,1019.8M121.5,1088.3 132.3,1095.3 163.0,1057.2 191.8,1033.8 204.7,1045.0 230.9,1030.0 259.5,1037.9 290.3,1031.6 328.3,1008.4 424.5,1016.9 489.2,1020.8 572.0,1021.4 690.3,1037.8 843.9,1020.8M123.5,1134.0 144.0,1083.0 161.9,1061.1 179.4,1057.3 202.0,1004.2 226.3,1005.9 258.8,1037.3 289.5,1016.9 325.6,1050.9 414.7,1037.6 486.4,1020.2 574.8,1016.1 694.9,1031.9 843.8,1018.6M142.2,1059.5 154.8,1062.0 179.0,1058.4 209.3,1035.2 227.1,1006.9 253.3,1003.9 298.9,1017.7 330.3,1010.4 422.3,1026.8 483.9,1031.1 568.8,1011.0 692.6,1014.2 842.6,1021.6M116.3,1116.1 143.2,1081.1 154.0,1044.3 190.8,1059.1 206.7,1043.2 227.2,1044.6 255.0,1044.9 289.8,1016.6 333.0,1017.4 415.8,1024.0 489.9,1025.9 572.6,1031.8 692.7,1020.2 842.8,1020.1M134.6,1093.7 168.4,1087.1 189.0,1040.7 202.1,1029.2 227.8,1053.9 249.8,1025.3 296.5,1024.8 332.5,1026.7 416.9,1018.5 485.4,1009.2 573.3,996.4 695.7,1020.6 842.8,1019.4M112.0,1137.2 123.7,1144.9 167.8,1048.3 183.6,1058.9 201.0,1046.8 227.4,1065.3 250.8,1007.3 297.9,1017.5 326.9,1016.4 423.8,1023.8 488.5,1027.7 568.0,1044.2 695.6,1000.9 843.0,1020.4M107.9,1242.9 129.5,1143.4 152.5,1083.3 185.7,1056.0 208.7,1060.5 227.3,1022.3 252.4,1028.3 294.5,1008.9 329.8,1022.5 424.0,1011.2 484.9,1010.9 570.0,1012.2 697.4,1017.6 842.6,1019.9M143.6,1059.1 161.7,1032.2 172.9,1033.3 206.5,1057.3 229.8,1043.8 251.8,1045.7 294.9,1015.3 324.4,1046.0 423.8,1009.9 487.5,996.5 573.0,1032.8 697.8,1024.4 843.5,1019.2M142.0,1128.6 160.2,1062.4 181.3,1029.5 202.4,1024.2 228.1,1054.4 256.6,1036.9 289.2,1037.7 332.8,1040.5 414.6,1012.7 485.7,1014.3 576.1,1010.3 690.1,1025.5 842.4,1019.8M138.6,1054.1 170.3,1021.1 191.1,1020.6 208.1,1004.5 234.3,1031.9 250.2,1035.6 296.5,1038.7 331.8,1024.0 416.2,1008.0 486.9,993.9 576.0,1013.3 693.7,1028.3 843.5,1020.2M122.7,1104.1 135.5,1088.6 151.2,1057.3 179.4,1042.3 201.4,1043.2 229.8,1026.8 260.0,1009.0 295.0,1019.4 333.1,1009.7 421.9,1005.6 482.7,1032.6 576.3,995.9 695.9,1034.1 842.5,1020.9M132.9,1060.1 169.8,1028.4 186.1,1050.5 201.0,1006.8 231.8,1005.8 250.7,1028.5 295.0,1000.5 334.2,1008.3 414.0,1032.4 490.1,1018.0 573.4,1020.9 691.6,1048.3 842.7,1020.2M117.1,1149.0 133.1,1094.5 153.0,1082.7 188.6,1051.1 205.3,1026.7 235.1,1031.9 257.0,1015.3 289.1,1009.1 328.4,1033.6 415.3,1020.7 489.8,978.8 572.7,1031.7 689.7,1016.5 842.6,1021.8M135.5,1126.7 168.2,1050.7 190.6,1051.8 208.8,1026.2 228.2,1027.9 258.8,1022.8 297.3,1038.6 330.6,1014.8 420.4,1009.5 484.8,1015.5 572.3,1051.1 693.0,1030.5 842.4,1020.5M134.5,1111.3 158.8,1060.0 189.1,1020.1 201.3,1026.3 230.4,1002.5 260.5,997.8 291.6,1009.4 327.5,1014.8 412.9,1013.5 483.1,1040.2 569.7,1044.3 695.7,1020.3 842.7,1021.3M100.2,1171.2 136.3,1074.1 156.8,1055.4 181.2,1046.6 207.8,1050.7 227.6,1031.4 255.2,1034.7 288.4,1028.9 335.7,1026.3 419.5,1043.1 490.7,1014.8 567.7,1057.9 694.9,1052.8 843.6,1020.5M115.6,1203.2 143.9,1114.6 154.5,1090.6 186.8,1070.0 201.6,1084.8 224.7,1047.9 251.1,1051.2 288.9,1026.1 330.5,1025.0 419.4,1026.1 483.3,1017.3 575.8,1023.9 692.6,991.1 842.6,1021.1M109.4,1195.4 127.2,1111.4 165.8,1043.5 184.4,1021.3 204.1,1061.4 236.5,1040.9 252.1,1041.1 295.2,1002.7 326.3,991.2 423.1,1054.1 489.6,991.6 569.7,996.0 696.2,1007.0 843.8,1019.2M140.9,1029.5 164.9,1045.2 189.4,1023.6 212.4,1016.9 224.8,1016.6 252.4,1001.9 297.9,1028.0 332.8,1020.7 413.0,1009.1 486.3,1026.5 569.4,1003.5 693.2,1035.2 842.5,1020.2M115.6,1140.3 122.9,1146.3 164.3,1060.8 184.6,1033.4 207.1,1042.0 231.2,1046.2 257.9,1038.6 300.2,1004.1 335.0,1004.4 421.4,1000.3 485.3,1013.8 570.2,1031.7 693.1,1023.8 844.1,1020.2M128.0,1185.4 165.5,1066.3 178.7,1073.0 209.2,1050.5 229.3,1029.9 255.9,1044.8 295.7,1025.2 332.7,1020.3 416.6,1011.8 487.4,1036.7 572.2,1040.2 691.3,1007.1 843.4,1020.0M103.1,1197.9 130.5,1117.8 166.8,1062.8 181.8,1031.8 206.0,1025.7 225.5,1007.7 254.3,1026.1 300.4,1032.1 332.9,1017.6 418.1,1025.5 486.0,1015.9 574.6,1006.4 696.2,1023.1 842.6,1020.0M128.9,1126.8 166.9,1073.4 178.2,1026.2 205.2,1048.8 231.5,1043.7 260.8,1019.0 290.6,1050.2 336.2,1015.8 421.3,1046.0 485.0,1022.1 573.4,1023.4 692.3,1017.9 842.4,1020.0M103.0,1269.2 124.7,1173.7 165.7,1056.2 182.7,1035.9 201.1,1037.4 232.8,1027.5 258.2,991.9 294.1,1025.1 325.0,1018.4 421.1,1011.5 485.5,1046.0 572.6,1003.9 698.4,1014.7 843.8,1021.2M124.7,1095.6 123.8,1162.3 156.4,1056.7 182.1,1047.6 205.5,1037.1 231.4,1035.0 253.5,1029.6 291.6,1016.5 334.1,1036.1 416.2,1022.9 488.1,1011.1 574.6,1012.0 694.7,1024.8 843.1,1019.8M130.6,1157.1 152.9,1117.6 171.7,1094.0 209.0,1051.4 224.9,1037.0 259.7,1025.6 291.8,1007.2 327.2,1024.0 419.7,1034.9 484.6,1016.9 572.4,1026.4 690.7,1004.5 844.0,1020.6M102.6,1269.2 133.3,1181.8 168.0,1076.2 183.4,1064.1 207.1,1048.2 225.5,1047.9 251.2,1011.5 291.5,1016.4 335.3,1017.1 422.9,1038.5 483.7,1026.5 575.7,1020.7 689.6,1031.6 843.4,1020.5M114.2,1128.3 140.8,1060.6 168.2,1034.4 180.9,1023.4 202.3,1059.1 225.6,1023.3 260.2,1049.0 289.6,1018.8 330.5,1017.3 419.2,997.4 482.7,1006.6 571.5,1017.5 690.8,1015.7 843.3,1020.4M101.1,1207.2 128.1,1120.0 162.5,1082.3 191.5,1079.9 201.0,1044.1 232.0,1029.9 258.0,977.8 298.2,1033.0 328.6,1047.6 422.5,1020.4 485.9,1026.5 575.7,1027.2 689.4,1018.8 844.0,1020.5M133.2,1086.4 152.4,1017.1 188.3,1005.0 211.9,1001.9 235.5,1019.7 258.6,1033.3 298.4,1020.2 334.2,1004.8 419.8,1023.7 485.6,1033.6 574.8,1033.7 696.5,1050.3 843.9,1019.2M135.4,1119.0 149.6,1086.1 181.1,1050.9 200.6,1068.5 225.8,1029.2 259.4,1031.8 293.4,1029.3 331.8,1027.7 418.2,986.3 484.7,1005.8 569.2,1032.4 692.5,1054.8 843.8,1020.2M99.9,1356.2 164.4,1096.6 199.8,1037.4 251.6,1017.4 334.3,1026.3M126.2,1332.5 157.3,1166.1 206.6,1066.0 260.0,1047.7 335.7,1024.1" fill="none" stroke="#8a8a8a" stroke-width="0.6" opacity="0.8"/>
<path d="M129.0,1061.9V1190.5M122.0,1061.9h14M122.0,1190.5h14M151.1,1016.9V1104.5M144.1,1016.9h14M144.1,1104.5h14M182.1,1068.4V1097.3M175.1,1068.4h14M175.1,1097.3h14M205.0,950.4V1069.2M198.0,950.4h14M198.0,1069.2h14M225.1,1013.4V1050.2M218.1,1013.4h14M218.1,1050.2h14M255.7,987.0V1044.9M248.7,987.0h14M248.7,1044.9h14M288.7,974.5V1062.6M281.7,974.5h14M281.7,1062.6h14M329.7,981.6V1076.1M322.7,981.6h14M322.7,1076.1h14M413.4,1017.1V1047.7M406.4,1017.1h14M406.4,1047.7h14M482.4,992.5V1022.8M475.4,992.5h14M475.4,1022.8h14M571.1,979.0V1050.0M564.1,979.0h14M564.1,1050.0h14M696.8,970.9V1029.3M689.8,970.9h14M689.8,1029.3h14M842.5,972.9V1069.0M835.5,972.9h14M835.5,1069.0h14M125.5,1114.0V1222.4M118.5,1114.0h14M118.5,1222.4h14M160.9,1081.5V1139.9M153.9,1081.5h14M153.9,1139.9h14M189.3,1016.6V1117.3M182.3,1016.6h14M182.3,1117.3h14M209.4,1021.0V1095.2M202.4,1021.0h14M202.4,1095.2h14M228.0,987.0V1103.7M221.0,987.0h14M221.0,1103.7h14M261.4,961.1V1058.3M254.4,961.1h14M254.4,1058.3h14M289.7,1013.7V1044.1M282.7,1013.7h14M282.7,1044.1h14M329.5,960.7V1094.4M322.5,960.7h14M322.5,1094.4h14M421.9,982.1V1096.8M414.9,982.1h14M414.9,1096.8h14M483.0,974.3V1072.1M476.0,974.3h14M476.0,1072.1h14M571.7,993.8V1020.0M564.7,993.8h14M564.7,1020.0h14M689.6,1010.0V1046.7M682.6,1010.0h14M682.6,1046.7h14M843.5,973.0V1067.2M836.5,973.0h14M836.5,1067.2h14M117.0,1106.2V1155.7M110.0,1106.2h14M110.0,1155.7h14M141.4,1033.1V1110.5M134.4,1033.1h14M134.4,1110.5h14M151.2,1066.6V1090.8M144.2,1066.6h14M144.2,1090.8h14M180.3,1014.5V1084.6M173.3,1014.5h14M173.3,1084.6h14M207.2,980.9V1110.1M200.2,980.9h14M200.2,1110.1h14M235.2,960.7V1060.9M228.2,960.7h14M228.2,1060.9h14M259.5,995.7V1094.3M252.5,995.7h14M252.5,1094.3h14M298.8,1008.3V1038.0M291.8,1008.3h14M291.8,1038.0h14M327.8,941.0V1061.5M320.8,941.0h14M320.8,1061.5h14M417.7,978.4V1090.5M410.7,978.4h14M410.7,1090.5h14M484.9,1013.5V1048.7M477.9,1013.5h14M477.9,1048.7h14M575.3,964.5V1058.4M568.3,964.5h14M568.3,1058.4h14M698.0,992.0V1038.8M691.0,992.0h14M691.0,1038.8h14M842.6,988.2V1052.0M835.6,988.2h14M835.6,1052.0h14M105.5,1192.1V1227.1M98.5,1192.1h14M98.5,1227.1h14M124.9,1104.2V1165.8M117.9,1104.2h14M117.9,1165.8h14M157.4,1055.9V1097.5M150.4,1055.9h14M150.4,1097.5h14M171.0,1016.5V1042.8M164.0,1016.5h14M164.0,1042.8h14M211.1,996.9V1036.9M204.1,996.9h14M204.1,1036.9h14M231.9,993.5V1077.3M224.9,993.5h14M224.9,1077.3h14M251.3,941.0V1073.0M244.3,941.0h14M244.3,1073.0h14M291.3,960.0V1079.3M284.3,960.0h14M284.3,1079.3h14M328.6,992.6V1056.9M321.6,992.6h14M321.6,1056.9h14M417.1,1009.4V1051.6M410.1,1009.4h14M410.1,1051.6h14M482.7,962.9V1072.9M475.7,962.9h14M475.7,1072.9h14M575.0,1007.0V1067.2M568.0,1007.0h14M568.0,1067.2h14M698.4,949.6V1082.3M691.4,949.6h14M691.4,1082.3h14M843.2,970.3V1067.2M836.2,970.3h14M836.2,1067.2h14M109.1,1127.8V1173.3M102.1,1127.8h14M102.1,1173.3h14M134.0,1071.6V1117.9M127.0,1071.6h14M127.0,1117.9h14M157.2,1042.9V1159.7M150.2,1042.9h14M150.2,1159.7h14M171.1,1050.3V1127.1M164.1,1050.3h14M164.1,1127.1h14M200.8,1046.4V1079.5M193.8,1046.4h14M193.8,1079.5h14M227.9,1011.5V1108.4M220.9,1011.5h14M220.9,1108.4h14M252.7,954.2V1061.0M245.7,954.2h14M245.7,1061.0h14M296.7,999.8V1076.4M289.7,999.8h14M289.7,1076.4h14M336.0,981.8V1042.3M329.0,981.8h14M329.0,1042.3h14M418.1,942.6V1055.0M411.1,942.6h14M411.1,1055.0h14M490.2,972.6V1040.8M483.2,972.6h14M483.2,1040.8h14M576.3,958.4V1087.0M569.3,958.4h14M569.3,1087.0h14M698.0,1002.6V1040.4M691.0,1002.6h14M691.0,1040.4h14M843.0,968.7V1072.6M836.0,968.7h14M836.0,1072.6h14M136.8,1076.8V1128.4M129.8,1076.8h14M129.8,1128.4h14M170.4,1044.4V1100.5M163.4,1044.4h14M163.4,1100.5h14M184.7,1024.1V1076.6M177.7,1024.1h14M177.7,1076.6h14M204.8,984.6V1054.7M197.8,984.6h14M197.8,1054.7h14M231.2,976.8V1039.7M224.2,976.8h14M224.2,1039.7h14M251.1,965.1V1039.5M244.1,965.1h14M244.1,1039.5h14M288.4,1014.4V1084.7M281.4,1014.4h14M281.4,1084.7h14M336.2,973.8V1099.1M329.2,973.8h14M329.2,1099.1h14M420.6,996.6V1078.3M413.6,996.6h14M413.6,1078.3h14M486.5,1007.5V1033.3M479.5,1007.5h14M479.5,1033.3h14M575.8,1016.3V1040.5M568.8,1016.3h14M568.8,1040.5h14M693.3,960.9V1073.1M686.3,960.9h14M686.3,1073.1h14M843.9,980.2V1059.3M836.9,980.2h14M836.9,1059.3h14M124.6,1046.6V1127.0M117.6,1046.6h14M117.6,1127.0h14M139.6,1045.7V1128.4M132.6,1045.7h14M132.6,1128.4h14M151.8,1045.0V1121.6M144.8,1045.0h14M144.8,1121.6h14M182.6,961.3V1082.0M175.6,961.3h14M175.6,1082.0h14M203.5,980.6V1108.6M196.5,980.6h14M196.5,1108.6h14M227.8,966.6V1094.8M220.8,966.6h14M220.8,1094.8h14M258.9,946.4V1063.1M251.9,946.4h14M251.9,1063.1h14M294.4,981.5V1054.2M287.4,981.5h14M287.4,1054.2h14M331.3,1000.0V1031.8M324.3,1000.0h14M324.3,1031.8h14M421.9,971.1V1068.9M414.9,971.1h14M414.9,1068.9h14M490.0,959.6V1070.1M483.0,959.6h14M483.0,1070.1h14M571.3,962.3V1065.3M564.3,962.3h14M564.3,1065.3h14M694.9,976.6V1073.4M687.9,976.6h14M687.9,1073.4h14M843.2,991.6V1046.8M836.2,991.6h14M836.2,1046.8h14M121.5,1054.8V1115.2M114.5,1054.8h14M114.5,1115.2h14M143.9,1050.8V1081.7M136.9,1050.8h14M136.9,1081.7h14M167.4,984.3V1117.0M160.4,984.3h14M160.4,1117.0h14M174.0,1006.7V1042.1M167.0,1006.7h14M167.0,1042.1h14M205.8,1040.6V1093.7M198.8,1040.6h14M198.8,1093.7h14M230.7,969.8V1023.4M223.7,969.8h14M223.7,1023.4h14M253.6,996.0V1034.1M246.6,996.0h14M246.6,1034.1h14M290.6,990.5V1104.9M283.6,990.5h14M283.6,1104.9h14M328.3,979.9V1032.3M321.3,979.9h14M321.3,1032.3h14M421.4,958.4V1045.3M414.4,958.4h14M414.4,1045.3h14M481.8,944.5V1045.8M474.8,944.5h14M474.8,1045.8h14M572.3,966.2V1066.1M565.3,966.2h14M565.3,1066.1h14M693.3,982.3V1053.1M686.3,982.3h14M686.3,1053.1h14M842.3,970.2V1066.8M835.3,970.2h14M835.3,1066.8h14M101.3,1121.3V1179.6M94.3,1121.3h14M94.3,1179.6h14M141.2,1044.8V1100.6M134.2,1044.8h14M134.2,1100.6h14M159.4,980.6V1059.7M152.4,980.6h14M152.4,1059.7h14M177.9,1015.3V1041.0M170.9,1015.3h14M170.9,1041.0h14M207.3,987.2V1038.7M200.3,987.2h14M200.3,1038.7h14M235.7,954.7V1039.5M228.7,954.7h14M228.7,1039.5h14M252.8,996.9V1041.5M245.8,996.9h14M245.8,1041.5h14M289.8,1034.9V1070.3M282.8,1034.9h14M282.8,1070.3h14M330.8,958.1V1072.4M323.8,958.1h14M323.8,1072.4h14M415.5,976.9V1093.0M408.5,976.9h14M408.5,1093.0h14M482.6,979.9V1047.1M475.6,979.9h14M475.6,1047.1h14M568.7,975.1V1107.5M561.7,975.1h14M561.7,1107.5h14M689.7,990.3V1051.9M682.7,990.3h14M682.7,1051.9h14M842.7,985.4V1053.8M835.7,985.4h14M835.7,1053.8h14M104.4,1232.7V1305.8M97.4,1232.7h14M97.4,1305.8h14M124.3,1127.7V1259.1M117.3,1127.7h14M117.3,1259.1h14M165.5,1004.4V1088.6M158.5,1004.4h14M158.5,1088.6h14M176.1,1042.1V1100.0M169.1,1042.1h14M169.1,1100.0h14M202.5,976.3V1039.4M195.5,976.3h14M195.5,1039.4h14M225.4,983.6V1059.8M218.4,983.6h14M218.4,1059.8h14M259.8,988.2V1067.6M252.8,988.2h14M252.8,1067.6h14M298.8,1006.3V1030.6M291.8,1006.3h14M291.8,1030.6h14M332.6,979.6V1032.5M325.6,979.6h14M325.6,1032.5h14M416.1,994.4V1022.8M409.1,994.4h14M409.1,1022.8h14M483.8,999.7V1025.9M476.8,999.7h14M476.8,1025.9h14M569.9,979.3V1067.8M562.9,979.3h14M562.9,1067.8h14M693.5,969.6V1051.9M686.5,969.6h14M686.5,1051.9h14M842.6,969.2V1071.2M835.6,969.2h14M835.6,1071.2h14M143.8,1072.3V1188.4M136.8,1072.3h14M136.8,1188.4h14M152.8,1064.8V1153.2M145.8,1064.8h14M145.8,1153.2h14M186.1,1036.2V1158.7M179.1,1036.2h14M179.1,1158.7h14M208.4,1036.7V1085.8M201.4,1036.7h14M201.4,1085.8h14M224.9,1050.8V1078.0M217.9,1050.8h14M217.9,1078.0h14M259.7,1003.2V1038.5M252.7,1003.2h14M252.7,1038.5h14M299.1,957.1V1073.3M292.1,957.1h14M292.1,1073.3h14M332.1,994.2V1087.2M325.1,994.2h14M325.1,1087.2h14M421.6,978.0V1077.1M414.6,978.0h14M414.6,1077.1h14M489.1,965.4V1077.4M482.1,965.4h14M482.1,1077.4h14M568.5,966.9V1073.4M561.5,966.9h14M561.5,1073.4h14M694.1,989.0V1085.7M687.1,989.0h14M687.1,1085.7h14M843.2,974.2V1066.2M836.2,974.2h14M836.2,1066.2h14M111.0,1153.5V1210.9M104.0,1153.5h14M104.0,1210.9h14M138.4,1031.9V1118.5M131.4,1031.9h14M131.4,1118.5h14M154.0,1042.8V1096.3M147.0,1042.8h14M147.0,1096.3h14M186.4,995.0V1093.1M179.4,995.0h14M179.4,1093.1h14M212.4,1013.4V1069.3M205.4,1013.4h14M205.4,1069.3h14M230.5,1010.0V1090.9M223.5,1010.0h14M223.5,1090.9h14M254.2,1023.5V1060.4M247.2,1023.5h14M247.2,1060.4h14M294.1,957.1V1079.7M287.1,957.1h14M287.1,1079.7h14M332.7,945.2V1072.5M325.7,945.2h14M325.7,1072.5h14M422.0,971.1V996.8M415.0,971.1h14M415.0,996.8h14M487.3,979.5V1110.4M480.3,979.5h14M480.3,1110.4h14M573.1,976.9V1050.4M566.1,976.9h14M566.1,1050.4h14M690.0,957.1V1085.5M683.0,957.1h14M683.0,1085.5h14M842.6,979.2V1060.1M835.6,979.2h14M835.6,1060.1h14M142.4,1044.2V1105.9M135.4,1044.2h14M135.4,1105.9h14M152.4,1022.2V1080.9M145.4,1022.2h14M145.4,1080.9h14M188.1,981.2V1088.0M181.1,981.2h14M181.1,1088.0h14M206.7,971.7V1088.3M199.7,971.7h14M199.7,1088.3h14M235.2,946.7V1049.3M228.2,946.7h14M228.2,1049.3h14M258.1,935.9V1059.4M251.1,935.9h14M251.1,1059.4h14M291.1,990.8V1058.0M284.1,990.8h14M284.1,1058.0h14M335.3,940.4V1074.7M328.3,940.4h14M328.3,1074.7h14M418.6,995.8V1066.9M411.6,995.8h14M411.6,1066.9h14M481.8,1000.1V1054.2M474.8,1000.1h14M474.8,1054.2h14M567.3,956.0V1072.1M560.3,956.0h14M560.3,1072.1h14M693.8,990.6V1046.0M686.8,990.6h14M686.8,1046.0h14M843.1,981.7V1057.6M836.1,981.7h14M836.1,1057.6h14M142.5,1058.5V1113.9M135.5,1058.5h14M135.5,1113.9h14M168.5,1008.8V1046.7M161.5,1008.8h14M161.5,1046.7h14M187.9,997.1V1073.1M180.9,997.1h14M180.9,1073.1h14M208.2,990.4V1095.9M201.2,990.4h14M201.2,1095.9h14M235.6,951.1V1082.9M228.6,951.1h14M228.6,1082.9h14M261.0,997.4V1054.4M254.0,997.4h14M254.0,1054.4h14M295.0,959.1V1044.5M288.0,959.1h14M288.0,1044.5h14M333.2,1006.7V1048.3M326.2,1006.7h14M326.2,1048.3h14M413.2,991.8V1038.5M406.2,991.8h14M406.2,1038.5h14M488.3,982.7V1030.8M481.3,982.7h14M481.3,1030.8h14M571.4,967.2V1091.3M564.4,967.2h14M564.4,1091.3h14M696.2,985.5V1024.7M689.2,985.5h14M689.2,1024.7h14M843.5,997.2V1043.2M836.5,997.2h14M836.5,1043.2h14M109.7,1161.5V1280.7M102.7,1161.5h14M102.7,1280.7h14M128.4,1109.0V1156.6M121.4,1109.0h14M121.4,1156.6h14M161.8,1036.4V1104.4M154.8,1036.4h14M154.8,1104.4h14M189.5,996.2V1069.2M182.5,996.2h14M182.5,1069.2h14M209.6,945.3V1065.6M202.6,945.3h14M202.6,1065.6h14M229.5,1024.9V1051.0M222.5,1024.9h14M222.5,1051.0h14M254.6,939.2V1062.1M247.6,939.2h14M247.6,1062.1h14M294.7,979.5V1055.6M287.7,979.5h14M287.7,1055.6h14M329.0,987.6V1054.7M322.0,987.6h14M322.0,1054.7h14M416.8,957.3V1083.6M409.8,957.3h14M409.8,1083.6h14M482.2,942.1V1073.4M475.2,942.1h14M475.2,1073.4h14M569.8,1018.8V1070.0M562.8,1018.8h14M562.8,1070.0h14M698.1,973.2V1054.8M691.1,973.2h14M691.1,1054.8h14M842.5,966.6V1073.2M835.5,966.6h14M835.5,1073.2h14M134.1,1090.8V1172.6M127.1,1090.8h14M127.1,1172.6h14M159.4,1046.1V1134.3M152.4,1046.1h14M152.4,1134.3h14M182.4,1032.7V1122.9M175.4,1032.7h14M175.4,1122.9h14M200.9,1035.8V1060.6M193.9,1035.8h14M193.9,1060.6h14M234.0,980.4V1110.3M227.0,980.4h14M227.0,1110.3h14M252.3,970.1V1065.2M245.3,970.1h14M245.3,1065.2h14M299.4,989.7V1039.4M292.4,989.7h14M292.4,1039.4h14M332.3,1008.5V1059.6M325.3,1008.5h14M325.3,1059.6h14M416.3,971.1V1028.9M409.3,971.1h14M409.3,1028.9h14M482.8,1012.7V1038.8M475.8,1012.7h14M475.8,1038.8h14M569.6,1005.9V1076.1M562.6,1005.9h14M562.6,1076.1h14M695.1,993.9V1046.1M688.1,993.9h14M688.1,1046.1h14M843.6,1000.1V1042.1M836.6,1000.1h14M836.6,1042.1h14M130.4,1114.0V1243.1M123.4,1114.0h14M123.4,1243.1h14M153.8,1110.9V1159.3M146.8,1110.9h14M146.8,1159.3h14M187.6,1035.9V1105.8M180.6,1035.9h14M180.6,1105.8h14M209.5,1051.7V1091.7M202.5,1051.7h14M202.5,1091.7h14M230.6,1040.1V1107.4M223.6,1040.1h14M223.6,1107.4h14M252.0,1003.5V1043.0M245.0,1003.5h14M245.0,1043.0h14M300.0,973.7V1003.2M293.0,973.7h14M293.0,1003.2h14M328.2,948.3V1071.5M321.2,948.3h14M321.2,1071.5h14M422.6,954.7V1076.2M415.6,954.7h14M415.6,1076.2h14M483.7,962.1V1088.9M476.7,962.1h14M476.7,1088.9h14M569.3,1037.8V1098.0M562.3,1037.8h14M562.3,1098.0h14M696.2,954.3V1060.6M689.2,954.3h14M689.2,1060.6h14M842.8,975.1V1061.9M835.8,975.1h14M835.8,1061.9h14M114.2,1152.7V1278.2M107.2,1152.7h14M107.2,1278.2h14M126.4,1125.8V1170.9M119.4,1125.8h14M119.4,1170.9h14M149.5,1100.2V1127.3M142.5,1100.2h14M142.5,1127.3h14M176.6,995.3V1064.5M169.6,995.3h14M169.6,1064.5h14M204.8,1012.7V1040.9M197.8,1012.7h14M197.8,1040.9h14M236.1,1038.8V1066.4M229.1,1038.8h14M229.1,1066.4h14M251.0,966.3V1018.5M244.0,966.3h14M244.0,1018.5h14M300.0,956.5V1062.9M293.0,956.5h14M293.0,1062.9h14M326.9,983.8V1037.7M319.9,983.8h14M319.9,1037.7h14M417.0,962.9V1092.6M410.0,962.9h14M410.0,1092.6h14M489.2,976.7V1079.7M482.2,976.7h14M482.2,1079.7h14M574.8,998.1V1056.8M567.8,998.1h14M567.8,1056.8h14M693.3,966.7V1074.1M686.3,966.7h14M686.3,1074.1h14M842.4,977.8V1062.5M835.4,977.8h14M835.4,1062.5h14M109.5,1158.2V1217.3M102.5,1158.2h14M102.5,1217.3h14M133.1,1087.7V1151.5M126.1,1087.7h14M126.1,1151.5h14M170.0,1034.6V1080.2M163.0,1034.6h14M163.0,1080.2h14M190.9,996.6V1103.7M183.9,996.6h14M183.9,1103.7h14M205.2,1023.3V1050.8M198.2,1023.3h14M198.2,1050.8h14M227.5,982.1V1067.0M220.5,982.1h14M220.5,1067.0h14M254.8,985.1V1106.6M247.8,985.1h14M247.8,1106.6h14M294.3,921.4V1054.4M287.3,921.4h14M287.3,1054.4h14M335.7,1004.4V1038.8M328.7,1004.4h14M328.7,1038.8h14M414.8,975.1V1054.0M407.8,975.1h14M407.8,1054.0h14M489.0,999.2V1048.8M482.0,999.2h14M482.0,1048.8h14M574.0,999.9V1069.7M567.0,999.9h14M567.0,1069.7h14M696.8,982.0V1088.5M689.8,982.0h14M689.8,1088.5h14M843.7,977.6V1064.4M836.7,977.6h14M836.7,1064.4h14M112.4,1056.8V1152.8M105.4,1056.8h14M105.4,1152.8h14M135.0,970.8V1104.2M128.0,970.8h14M128.0,1104.2h14M157.6,972.5V1086.9M150.6,972.5h14M150.6,1086.9h14M186.4,961.5V1078.3M179.4,961.5h14M179.4,1078.3h14M202.9,994.7V1050.9M195.9,994.7h14M195.9,1050.9h14M227.5,1007.3V1044.2M220.5,1007.3h14M220.5,1044.2h14M252.5,961.9V1050.1M245.5,961.9h14M245.5,1050.1h14M290.1,922.9V1049.5M283.1,922.9h14M283.1,1049.5h14M335.2,1002.9V1076.3M328.2,1002.9h14M328.2,1076.3h14M419.7,974.0V1026.5M412.7,974.0h14M412.7,1026.5h14M484.6,996.7V1032.1M477.6,996.7h14M477.6,1032.1h14M570.9,1008.2V1097.9M563.9,1008.2h14M563.9,1097.9h14M698.3,995.0V1059.5M691.3,995.0h14M691.3,1059.5h14M843.2,993.6V1047.6M836.2,993.6h14M836.2,1047.6h14M129.0,1121.2V1155.0M122.0,1121.2h14M122.0,1155.0h14M153.9,1053.2V1095.1M146.9,1053.2h14M146.9,1095.1h14M170.7,1027.0V1082.1M163.7,1027.0h14M163.7,1082.1h14M204.5,1017.5V1075.3M197.5,1017.5h14M197.5,1075.3h14M232.7,968.7V1055.1M225.7,968.7h14M225.7,1055.1h14M251.7,995.3V1058.6M244.7,995.3h14M244.7,1058.6h14M292.1,978.0V1112.0M285.1,978.0h14M285.1,1112.0h14M326.9,974.7V1038.6M319.9,974.7h14M319.9,1038.6h14M422.3,989.8V1036.1M415.3,989.8h14M415.3,1036.1h14M486.7,986.9V1011.3M479.7,986.9h14M479.7,1011.3h14M567.8,951.1V1065.6M560.8,951.1h14M560.8,1065.6h14M690.2,994.3V1063.0M683.2,994.3h14M683.2,1063.0h14M843.0,999.3V1039.8M836.0,999.3h14M836.0,1039.8h14M140.5,1121.9V1167.5M133.5,1121.9h14M133.5,1167.5h14M151.4,1024.1V1155.8M144.4,1024.1h14M144.4,1155.8h14M183.9,1008.0V1085.2M176.9,1008.0h14M176.9,1085.2h14M205.0,989.3V1055.9M198.0,989.3h14M198.0,1055.9h14M230.6,969.4V1093.2M223.6,969.4h14M223.6,1093.2h14M251.3,1036.7V1078.2M244.3,1036.7h14M244.3,1078.2h14M291.7,990.2V1100.9M284.7,990.2h14M284.7,1100.9h14M330.8,962.8V1080.2M323.8,962.8h14M323.8,1080.2h14M423.9,949.3V1064.8M416.9,949.3h14M416.9,1064.8h14M482.6,982.5V1050.5M475.6,982.5h14M475.6,1050.5h14M571.8,970.9V1051.9M564.8,970.9h14M564.8,1051.9h14M696.6,999.9V1051.0M689.6,999.9h14M689.6,1051.0h14M844.1,968.2V1071.6M837.1,968.2h14M837.1,1071.6h14M133.8,1033.6V1125.8M126.8,1033.6h14M126.8,1125.8h14M150.3,1017.3V1095.2M143.3,1017.3h14M143.3,1095.2h14M188.5,977.2V1087.2M181.5,977.2h14M181.5,1087.2h14M201.9,966.6V1041.1M194.9,966.6h14M194.9,1041.1h14M231.8,999.7V1035.3M224.8,999.7h14M224.8,1035.3h14M256.2,987.7V1025.7M249.2,987.7h14M249.2,1025.7h14M295.9,990.4V1063.0M288.9,990.4h14M288.9,1063.0h14M328.1,978.0V1058.2M321.1,978.0h14M321.1,1058.2h14M417.8,984.8V1017.6M410.8,984.8h14M410.8,1017.6h14M487.0,962.8V1067.7M480.0,962.8h14M480.0,1067.7h14M571.2,1002.5V1032.2M564.2,1002.5h14M564.2,1032.2h14M695.3,996.8V1076.3M688.3,996.8h14M688.3,1076.3h14M843.1,971.3V1071.9M836.1,971.3h14M836.1,1071.9h14M136.3,994.7V1117.7M129.3,994.7h14M129.3,1117.7h14M153.7,1025.9V1065.6M146.7,1025.9h14M146.7,1065.6h14M191.5,958.6V1037.9M184.5,958.6h14M184.5,1037.9h14M206.5,988.6V1041.5M199.5,988.6h14M199.5,1041.5h14M236.1,987.3V1067.1M229.1,987.3h14M229.1,1067.1h14M260.7,1000.9V1044.8M253.7,1000.9h14M253.7,1044.8h14M290.2,996.3V1037.9M283.2,996.3h14M283.2,1037.9h14M334.0,939.6V1062.5M327.0,939.6h14M327.0,1062.5h14M424.0,1007.1V1049.5M417.0,1007.1h14M417.0,1049.5h14M482.2,977.5V1059.9M475.2,977.5h14M475.2,1059.9h14M570.5,979.8V1074.0M563.5,979.8h14M563.5,1074.0h14M696.2,995.5V1080.7M689.2,995.5h14M689.2,1080.7h14M842.6,967.8V1070.1M835.6,967.8h14M835.6,1070.1h14M128.0,975.9V1108.5M121.0,975.9h14M121.0,1108.5h14M158.1,961.8V1050.3M151.1,961.8h14M151.1,1050.3h14M187.6,1018.7V1042.6M180.6,1018.7h14M180.6,1042.6h14M203.7,1020.2V1047.7M196.7,1020.2h14M196.7,1047.7h14M236.5,972.2V1043.8M229.5,972.2h14M229.5,1043.8h14M256.6,962.7V1043.2M249.6,962.7h14M249.6,1043.2h14M292.6,990.1V1038.9M285.6,990.1h14M285.6,1038.9h14M333.7,976.7V1072.7M326.7,976.7h14M326.7,1072.7h14M418.0,987.7V1050.7M411.0,987.7h14M411.0,1050.7h14M483.2,1002.3V1037.8M476.2,1002.3h14M476.2,1037.8h14M574.1,982.2V1070.5M567.1,982.2h14M567.1,1070.5h14M689.7,968.0V1057.0M682.7,968.0h14M682.7,1057.0h14M843.8,995.3V1044.4M836.8,995.3h14M836.8,1044.4h14M105.4,1081.4V1186.3M98.4,1081.4h14M98.4,1186.3h14M124.8,1071.0V1099.6M117.8,1071.0h14M117.8,1099.6h14M163.3,968.6V1051.1M156.3,968.6h14M156.3,1051.1h14M189.2,1026.9V1057.0M182.2,1026.9h14M182.2,1057.0h14M210.0,965.7V1075.7M203.0,965.7h14M203.0,1075.7h14M229.4,940.5V1068.4M222.4,940.5h14M222.4,1068.4h14M252.7,1001.2V1040.7M245.7,1001.2h14M245.7,1040.7h14M288.3,975.3V1055.1M281.3,975.3h14M281.3,1055.1h14M332.3,955.1V1049.9M325.3,955.1h14M325.3,1049.9h14M419.5,987.9V1045.9M412.5,987.9h14M412.5,1045.9h14M484.8,999.6V1056.6M477.8,999.6h14M477.8,1056.6h14M573.2,937.3V1047.7M566.2,937.3h14M566.2,1047.7h14M693.4,960.0V1062.9M686.4,960.0h14M686.4,1062.9h14M844.0,982.4V1055.0M837.0,982.4h14M837.0,1055.0h14M109.1,1175.7V1228.8M102.1,1175.7h14M102.1,1228.8h14M125.0,1135.7V1183.5M118.0,1135.7h14M118.0,1183.5h14M154.6,1048.7V1169.8M147.6,1048.7h14M147.6,1169.8h14M171.3,1021.7V1071.6M164.3,1021.7h14M164.3,1071.6h14M204.6,983.8V1089.9M197.6,983.8h14M197.6,1089.9h14M233.6,974.7V1034.6M226.6,974.7h14M226.6,1034.6h14M258.0,973.7V1094.8M251.0,973.7h14M251.0,1094.8h14M298.5,965.0V1089.1M291.5,965.0h14M291.5,1089.1h14M333.1,965.3V1058.8M326.1,965.3h14M326.1,1058.8h14M415.9,961.5V1093.6M408.9,961.5h14M408.9,1093.6h14M486.7,1001.5V1077.2M479.7,1001.5h14M479.7,1077.2h14M571.3,949.5V1068.1M564.3,949.5h14M564.3,1068.1h14M696.5,1002.2V1074.3M689.5,1002.2h14M689.5,1074.3h14M843.3,993.1V1047.7M836.3,993.1h14M836.3,1047.7h14M140.5,1125.8V1156.8M133.5,1125.8h14M133.5,1156.8h14M152.7,1064.8V1179.0M145.7,1064.8h14M145.7,1179.0h14M171.1,1030.0V1144.5M164.1,1030.0h14M164.1,1144.5h14M201.8,985.5V1105.2M194.8,985.5h14M194.8,1105.2h14M235.8,975.3V1100.2M228.8,975.3h14M228.8,1100.2h14M253.7,999.2V1045.7M246.7,999.2h14M246.7,1045.7h14M289.9,1008.5V1044.6M282.9,1008.5h14M282.9,1044.6h14M324.7,939.1V1052.7M317.7,939.1h14M317.7,1052.7h14M413.1,967.7V1061.7M406.1,967.7h14M406.1,1061.7h14M488.0,983.6V1039.1M481.0,983.6h14M481.0,1039.1h14M573.1,1020.2V1055.0M566.1,1020.2h14M566.1,1055.0h14M695.7,978.0V1024.4M688.7,978.0h14M688.7,1024.4h14M843.6,984.6V1054.3M836.6,984.6h14M836.6,1054.3h14M111.8,1092.2V1211.3M104.8,1092.2h14M104.8,1211.3h14M138.2,1070.3V1104.0M131.2,1070.3h14M131.2,1104.0h14M157.5,1044.7V1068.5M150.5,1044.7h14M150.5,1068.5h14M177.5,1031.0V1077.1M170.5,1031.0h14M170.5,1077.1h14M212.2,1015.7V1039.9M205.2,1015.7h14M205.2,1039.9h14M230.6,1031.8V1109.8M223.6,1031.8h14M223.6,1109.8h14M259.9,1029.8V1074.0M252.9,1029.8h14M252.9,1074.0h14M295.8,981.1V1059.6M288.8,981.1h14M288.8,1059.6h14M324.7,1009.6V1062.2M317.7,1009.6h14M317.7,1062.2h14M417.7,934.8V1063.0M410.7,934.8h14M410.7,1063.0h14M485.6,971.7V1072.8M478.6,971.7h14M478.6,1072.8h14M574.3,971.4V1050.2M567.3,971.4h14M567.3,1050.2h14M692.5,988.7V1021.4M685.5,988.7h14M685.5,1021.4h14M843.6,974.9V1064.1M836.6,974.9h14M836.6,1064.1h14M115.3,1120.8V1228.0M108.3,1120.8h14M108.3,1228.0h14M131.5,1063.0V1170.1M124.5,1063.0h14M124.5,1170.1h14M158.1,1061.7V1121.5M151.1,1061.7h14M151.1,1121.5h14M189.6,1046.8V1087.7M182.6,1046.8h14M182.6,1087.7h14M201.5,983.0V1088.8M194.5,983.0h14M194.5,1088.8h14M235.3,1033.9V1076.4M228.3,1033.9h14M228.3,1076.4h14M249.8,1013.5V1101.3M242.8,1013.5h14M242.8,1101.3h14M290.7,998.1V1035.8M283.7,998.1h14M283.7,1035.8h14M327.6,1026.1V1076.1M320.6,1026.1h14M320.6,1076.1h14M423.6,991.5V1036.4M416.6,991.5h14M416.6,1036.4h14M486.2,968.7V1085.8M479.2,968.7h14M479.2,1085.8h14M570.7,979.4V1020.2M563.7,979.4h14M563.7,1020.2h14M697.4,984.5V1044.3M690.4,984.5h14M690.4,1044.3h14M842.7,994.2V1045.2M835.7,994.2h14M835.7,1045.2h14M143.3,1078.7V1106.2M136.3,1078.7h14M136.3,1106.2h14M165.2,1014.7V1082.6M158.2,1014.7h14M158.2,1082.6h14M172.7,1010.3V1089.4M165.7,1010.3h14M165.7,1089.4h14M212.2,1009.8V1103.5M205.2,1009.8h14M205.2,1103.5h14M225.7,992.6V1083.1M218.7,992.6h14M218.7,1083.1h14M254.2,988.3V1056.8M247.2,988.3h14M247.2,1056.8h14M300.2,987.6V1058.9M293.2,987.6h14M293.2,1058.9h14M334.1,1007.3V1094.6M327.1,1007.3h14M327.1,1094.6h14M421.6,995.8V1044.8M414.6,995.8h14M414.6,1044.8h14M485.6,982.9V1086.5M478.6,982.9h14M478.6,1086.5h14M569.0,952.2V1053.4M562.0,952.2h14M562.0,1053.4h14M695.1,977.5V1095.6M688.1,977.5h14M688.1,1095.6h14M842.5,989.8V1051.6M835.5,989.8h14M835.5,1051.6h14M118.3,1184.4V1251.1M111.3,1184.4h14M111.3,1251.1h14M139.6,1168.9V1196.9M132.6,1168.9h14M132.6,1196.9h14M164.9,1043.8V1127.7M157.9,1043.8h14M157.9,1127.7h14M184.1,986.1V1113.9M177.1,986.1h14M177.1,1113.9h14M203.5,985.1V1066.3M196.5,985.1h14M196.5,1066.3h14M229.6,977.9V1061.5M222.6,977.9h14M222.6,1061.5h14M255.1,965.6V1068.7M248.1,965.6h14M248.1,1068.7h14M295.8,985.9V1101.3M288.8,985.9h14M288.8,1101.3h14M329.4,982.7V1064.2M322.4,982.7h14M322.4,1064.2h14M420.9,1025.4V1072.4M413.9,1025.4h14M413.9,1072.4h14M490.1,952.6V1052.0M483.1,952.6h14M483.1,1052.0h14M568.9,1019.9V1057.2M561.9,1019.9h14M561.9,1057.2h14M695.3,939.2V1071.9M688.3,939.2h14M688.3,1071.9h14M843.7,986.4V1054.4M836.7,986.4h14M836.7,1054.4h14M118.4,1082.3V1195.6M111.4,1082.3h14M111.4,1195.6h14M137.8,1059.2V1145.2M130.8,1059.2h14M130.8,1145.2h14M157.2,1050.2V1098.9M150.2,1050.2h14M150.2,1098.9h14M176.3,982.8V1077.2M169.3,982.8h14M169.3,1077.2h14M203.2,977.8V1092.2M196.2,977.8h14M196.2,1092.2h14M233.5,989.8V1046.1M226.5,989.8h14M226.5,1046.1h14M260.9,996.6V1081.0M253.9,996.6h14M253.9,1081.0h14M294.7,971.1V1034.1M287.7,971.1h14M287.7,1034.1h14M327.1,943.1V1061.0M320.1,943.1h14M320.1,1061.0h14M422.4,995.8V1047.6M415.4,995.8h14M415.4,1047.6h14M485.2,971.4V1042.3M478.2,971.4h14M478.2,1042.3h14M569.2,968.0V1071.6M562.2,968.0h14M562.2,1071.6h14M690.5,991.8V1046.7M683.5,991.8h14M683.5,1046.7h14M843.7,985.2V1055.2M836.7,985.2h14M836.7,1055.2h14M115.6,1121.3V1172.7M108.6,1121.3h14M108.6,1172.7h14M142.6,1052.5V1102.1M135.6,1052.5h14M135.6,1102.1h14M167.8,999.2V1108.8M160.8,999.2h14M160.8,1108.8h14M171.7,999.7V1123.4M164.7,999.7h14M164.7,1123.4h14M210.6,973.9V1085.2M203.6,973.9h14M203.6,1085.2h14M235.5,968.6V1059.6M228.5,968.6h14M228.5,1059.6h14M259.1,942.6V1052.8M252.1,942.6h14M252.1,1052.8h14M289.9,982.6V1093.6M282.9,982.6h14M282.9,1093.6h14M334.5,988.9V1105.5M327.5,988.9h14M327.5,1105.5h14M420.4,972.3V1054.8M413.4,972.3h14M413.4,1054.8h14M481.7,947.3V1053.1M474.7,947.3h14M474.7,1053.1h14M567.3,1004.2V1089.3M560.3,1004.2h14M560.3,1089.3h14M698.0,982.9V1035.9M691.0,982.9h14M691.0,1035.9h14M843.5,998.3V1042.0M836.5,998.3h14M836.5,1042.0h14M121.7,1078.4V1172.6M114.7,1078.4h14M114.7,1172.6h14M133.5,1060.3V1151.5M126.5,1060.3h14M126.5,1151.5h14M161.2,1019.6V1118.8M154.2,1019.6h14M154.2,1118.8h14M189.0,966.6V1099.0M182.0,966.6h14M182.0,1099.0h14M200.5,1005.9V1086.2M193.5,1005.9h14M193.5,1086.2h14M234.7,1049.7V1077.2M227.7,1049.7h14M227.7,1077.2h14M255.2,971.6V1074.8M248.2,971.6h14M248.2,1074.8h14M295.1,972.2V1091.3M288.1,972.2h14M288.1,1091.3h14M332.5,998.2V1062.4M325.5,998.2h14M325.5,1062.4h14M422.9,982.5V1091.6M415.9,982.5h14M415.9,1091.6h14M485.1,994.0V1041.1M478.1,994.0h14M478.1,1041.1h14M571.1,991.0V1076.0M564.1,991.0h14M564.1,1076.0h14M698.1,956.8V1072.1M691.1,956.8h14M691.1,1072.1h14M842.4,982.9V1058.3M835.4,982.9h14M835.4,1058.3h14M143.3,1020.9V1050.2M136.3,1020.9h14M136.3,1050.2h14M163.6,1019.7V1064.5M156.6,1019.7h14M156.6,1064.5h14M187.5,968.0V1093.7M180.5,968.0h14M180.5,1093.7h14M204.5,991.0V1102.1M197.5,991.0h14M197.5,1102.1h14M228.3,977.5V1101.9M221.3,977.5h14M221.3,1101.9h14M253.2,993.1V1086.2M246.2,993.1h14M246.2,1086.2h14M295.4,983.2V1084.0M288.4,983.2h14M288.4,1084.0h14M332.2,1014.2V1061.5M325.2,1014.2h14M325.2,1061.5h14M422.2,983.4V1080.9M415.2,983.4h14M415.2,1080.9h14M482.0,1025.4V1060.3M475.0,1025.4h14M475.0,1060.3h14M573.9,992.2V1036.0M566.9,992.2h14M566.9,1036.0h14M697.4,934.5V1059.4M690.4,934.5h14M690.4,1059.4h14M843.3,987.0V1052.8M836.3,987.0h14M836.3,1052.8h14M124.9,1089.9V1115.1M117.9,1089.9h14M117.9,1115.1h14M128.4,1087.0V1153.6M121.4,1087.0h14M121.4,1153.6h14M156.1,1042.2V1174.5M149.1,1042.2h14M149.1,1174.5h14M179.7,1040.3V1116.7M172.7,1040.3h14M172.7,1116.7h14M204.4,1003.7V1098.8M197.4,1003.7h14M197.4,1098.8h14M229.7,1008.8V1056.0M222.7,1008.8h14M222.7,1056.0h14M257.3,1016.4V1040.7M250.3,1016.4h14M250.3,1040.7h14M299.6,973.3V1072.7M292.6,973.3h14M292.6,1072.7h14M325.0,980.6V1014.0M318.0,980.6h14M318.0,1014.0h14M419.6,935.9V1055.9M412.6,935.9h14M412.6,1055.9h14M482.0,966.9V1070.3M475.0,966.9h14M475.0,1070.3h14M568.3,993.1V1043.6M561.3,993.1h14M561.3,1043.6h14M696.7,1006.5V1035.8M689.7,1006.5h14M689.7,1035.8h14M843.4,975.6V1065.9M836.4,975.6h14M836.4,1065.9h14M102.2,1094.1V1213.1M95.2,1094.1h14M95.2,1213.1h14M136.3,1061.4V1138.9M129.3,1061.4h14M129.3,1138.9h14M164.8,1004.2V1091.5M157.8,1004.2h14M157.8,1091.5h14M180.5,1009.7V1082.0M173.5,1009.7h14M173.5,1082.0h14M211.8,985.7V1097.6M204.8,985.7h14M204.8,1097.6h14M227.5,1009.3V1073.2M220.5,1009.3h14M220.5,1073.2h14M261.2,1005.9V1075.9M254.2,1005.9h14M254.2,1075.9h14M297.0,1006.1V1072.5M290.0,1006.1h14M290.0,1072.5h14M324.5,959.6V1070.2M317.5,959.6h14M317.5,1070.2h14M412.8,1009.9V1096.3M405.8,1009.9h14M405.8,1096.3h14M487.6,955.8V1087.4M480.6,955.8h14M480.6,1087.4h14M574.7,964.7V1066.3M567.7,964.7h14M567.7,1066.3h14M690.0,969.0V1059.8M683.0,969.0h14M683.0,1059.8h14M842.9,971.5V1070.2M835.9,971.5h14M835.9,1070.2h14M118.7,1100.9V1214.5M111.7,1100.9h14M111.7,1214.5h14M141.8,1053.9V1173.6M134.8,1053.9h14M134.8,1173.6h14M157.7,1044.7V1162.6M150.7,1044.7h14M150.7,1162.6h14M185.3,1009.1V1122.1M178.3,1009.1h14M178.3,1122.1h14M207.9,1027.7V1089.8M200.9,1027.7h14M200.9,1089.8h14M235.4,1049.3V1082.5M228.4,1049.3h14M228.4,1082.5h14M259.4,1032.0V1077.9M252.4,1032.0h14M252.4,1077.9h14M291.7,979.1V1085.8M284.7,979.1h14M284.7,1085.8h14M324.4,967.6V1058.5M317.4,967.6h14M317.4,1058.5h14M415.8,975.3V1074.0M408.8,975.3h14M408.8,1074.0h14M485.5,1003.5V1055.4M478.5,1003.5h14M478.5,1055.4h14M572.6,964.7V1071.6M565.6,964.7h14M565.6,1071.6h14M696.8,999.5V1032.9M689.8,999.5h14M689.8,1032.9h14M843.9,973.8V1068.3M836.9,973.8h14M836.9,1068.3h14M139.9,1017.1V1151.2M132.9,1017.1h14M132.9,1151.2h14M168.5,1013.2V1078.3M161.5,1013.2h14M161.5,1078.3h14M181.8,967.2V1078.1M174.8,967.2h14M174.8,1078.1h14M206.3,995.8V1036.8M199.3,995.8h14M199.3,1036.8h14M231.6,996.3V1077.5M224.6,996.3h14M224.6,1077.5h14M251.8,1018.2V1044.2M244.8,1018.2h14M244.8,1044.2h14M290.6,920.0V1039.6M283.6,920.0h14M283.6,1039.6h14M326.6,972.9V1050.5M319.6,972.9h14M319.6,1050.5h14M421.2,975.1V1085.0M414.2,975.1h14M414.2,1085.0h14M485.0,989.2V1060.0M478.0,989.2h14M478.0,1060.0h14M572.4,940.7V1055.1M565.4,940.7h14M565.4,1055.1h14M693.0,962.8V1093.2M686.0,962.8h14M686.0,1093.2h14M843.2,994.0V1046.4M836.2,994.0h14M836.2,1046.4h14M124.7,1073.8V1171.6M117.7,1073.8h14M117.7,1171.6h14M141.4,1082.7V1124.1M134.4,1082.7h14M134.4,1124.1h14M159.5,988.8V1119.4M152.5,988.8h14M152.5,1119.4h14M190.8,1015.7V1043.7M183.8,1015.7h14M183.8,1043.7h14M211.6,1007.1V1059.2M204.6,1007.1h14M204.6,1059.2h14M225.2,987.5V1111.4M218.2,987.5h14M218.2,1111.4h14M256.8,938.7V1055.1M249.8,938.7h14M249.8,1055.1h14M293.1,947.5V1049.7M286.1,947.5h14M286.1,1049.7h14M325.8,966.2V1061.5M318.8,966.2h14M318.8,1061.5h14M424.3,995.7V1035.5M417.3,995.7h14M417.3,1035.5h14M484.0,967.0V1074.3M477.0,967.0h14M477.0,1074.3h14M572.4,972.5V1029.3M565.4,972.5h14M565.4,1029.3h14M695.2,983.3V1072.5M688.2,983.3h14M688.2,1072.5h14M844.1,991.3V1049.1M837.1,991.3h14M837.1,1049.1h14M106.3,1179.7V1253.0M99.3,1179.7h14M99.3,1253.0h14M127.9,1049.0V1165.9M120.9,1049.0h14M120.9,1165.9h14M152.6,1013.2V1106.5M145.6,1013.2h14M145.6,1106.5h14M185.1,1001.9V1116.7M178.1,1001.9h14M178.1,1116.7h14M200.6,994.4V1071.0M193.6,994.4h14M193.6,1071.0h14M233.2,1009.2V1057.4M226.2,1009.2h14M226.2,1057.4h14M251.9,1015.8V1045.8M244.9,1015.8h14M244.9,1045.8h14M288.6,1005.9V1045.6M281.6,1005.9h14M281.6,1045.6h14M335.7,977.7V1097.8M328.7,977.7h14M328.7,1097.8h14M415.3,1001.2V1042.2M408.3,1001.2h14M408.3,1042.2h14M490.2,979.2V1032.9M483.2,979.2h14M483.2,1032.9h14M575.2,992.4V1034.7M568.2,992.4h14M568.2,1034.7h14M697.4,991.7V1069.8M690.4,991.7h14M690.4,1069.8h14M842.6,966.3V1075.5M835.6,966.3h14M835.6,1075.5h14M129.8,1028.1V1058.2M122.8,1028.1h14M122.8,1058.2h14M154.1,972.2V1104.3M147.1,972.2h14M147.1,1104.3h14M180.9,1027.4V1052.9M173.9,1027.4h14M173.9,1052.9h14M204.0,998.9V1038.1M197.0,998.9h14M197.0,1038.1h14M227.6,1023.4V1047.3M220.6,1023.4h14M220.6,1047.3h14M252.0,989.2V1033.5M245.0,989.2h14M245.0,1033.5h14M292.7,999.2V1071.1M285.7,999.2h14M285.7,1071.1h14M336.5,968.5V1055.5M329.5,968.5h14M329.5,1055.5h14M424.8,1005.8V1044.8M417.8,1005.8h14M417.8,1044.8h14M490.1,958.9V1061.4M483.1,958.9h14M483.1,1061.4h14M568.1,976.0V1021.5M561.1,976.0h14M561.1,1021.5h14M691.9,969.5V1060.5M684.9,969.5h14M684.9,1060.5h14M843.9,990.5V1049.5M836.9,990.5h14M836.9,1049.5h14M131.6,1039.2V1163.6M124.6,1039.2h14M124.6,1163.6h14M166.9,1010.1V1086.6M159.9,1010.1h14M159.9,1086.6h14M183.1,1007.2V1051.5M176.1,1007.2h14M176.1,1051.5h14M203.0,981.3V1097.1M196.0,981.3h14M196.0,1097.1h14M225.2,999.4V1064.2M218.2,999.4h14M218.2,1064.2h14M258.4,970.4V1060.0M251.4,970.4h14M251.4,1060.0h14M293.2,967.7V1040.7M286.2,967.7h14M286.2,1040.7h14M333.2,979.6V1060.3M326.2,979.6h14M326.2,1060.3h14M413.3,947.3V1061.4M406.3,947.3h14M406.3,1061.4h14M489.1,945.4V1064.9M482.1,945.4h14M482.1,1064.9h14M570.3,996.6V1062.6M563.3,996.6h14M563.3,1062.6h14M697.0,947.1V1054.0M690.0,947.1h14M690.0,1054.0h14M843.9,981.3V1056.1M836.9,981.3h14M836.9,1056.1h14M123.8,1075.8V1163.4M116.8,1075.8h14M116.8,1163.4h14M123.2,1126.0V1161.1M116.2,1126.0h14M116.2,1161.1h14M170.2,1005.0V1124.9M163.2,1005.0h14M163.2,1124.9h14M175.4,1039.9V1077.3M168.4,1039.9h14M168.4,1077.3h14M202.7,1008.2V1086.6M195.7,1008.2h14M195.7,1086.6h14M225.7,1029.1V1066.3M218.7,1029.1h14M218.7,1066.3h14M252.6,994.8V1063.5M245.6,994.8h14M245.6,1063.5h14M298.2,952.4V1071.4M291.2,952.4h14M291.2,1071.4h14M324.7,988.5V1028.5M317.7,988.5h14M317.7,1028.5h14M413.8,1020.3V1062.2M406.8,1020.3h14M406.8,1062.2h14M488.0,972.9V1088.0M481.0,972.9h14M481.0,1088.0h14M569.0,972.4V1042.7M562.0,972.4h14M562.0,1042.7h14M689.4,967.1V1083.8M682.4,967.1h14M682.4,1083.8h14M843.4,973.6V1068.4M836.4,973.6h14M836.4,1068.4h14M114.3,1136.0V1200.1M107.3,1136.0h14M107.3,1200.1h14M132.2,1096.8V1168.5M125.2,1096.8h14M125.2,1168.5h14M170.5,1027.6V1107.2M163.5,1027.6h14M163.5,1107.2h14M187.8,977.6V1108.6M180.8,977.6h14M180.8,1108.6h14M211.6,982.9V1092.6M204.6,982.9h14M204.6,1092.6h14M234.4,954.2V1067.5M227.4,954.2h14M227.4,1067.5h14M259.8,974.5V1096.1M252.8,974.5h14M252.8,1096.1h14M288.9,973.5V1068.3M281.9,973.5h14M281.9,1068.3h14M330.7,997.4V1050.6M323.7,997.4h14M323.7,1050.6h14M424.3,983.3V1067.1M417.3,983.3h14M417.3,1067.1h14M490.2,967.2V1093.2M483.2,967.2h14M483.2,1093.2h14M569.5,987.2V1068.5M562.5,987.2h14M562.5,1068.5h14M693.2,991.6V1063.3M686.2,991.6h14M686.2,1063.3h14M843.5,976.8V1062.4M836.5,976.8h14M836.5,1062.4h14M142.5,1036.5V1120.7M135.5,1036.5h14M135.5,1120.7h14M160.6,1009.6V1096.4M153.6,1009.6h14M153.6,1096.4h14M176.4,1019.5V1115.2M169.4,1019.5h14M169.4,1115.2h14M206.2,988.1V1062.8M199.2,988.1h14M199.2,1062.8h14M231.0,960.7V1045.1M224.0,960.7h14M224.0,1045.1h14M251.3,1008.4V1066.4M244.3,1008.4h14M244.3,1066.4h14M289.7,1006.4V1056.9M282.7,1006.4h14M282.7,1056.9h14M326.0,984.7V1050.8M319.0,984.7h14M319.0,1050.8h14M416.2,959.6V1048.2M409.2,959.6h14M409.2,1048.2h14M485.4,947.8V1066.9M478.4,947.8h14M478.4,1066.9h14M569.9,994.2V1044.3M562.9,994.2h14M562.9,1044.3h14M691.5,1007.7V1062.9M684.5,1007.7h14M684.5,1062.9h14M842.5,990.2V1050.8M835.5,990.2h14M835.5,1050.8h14M101.3,1165.0V1282.8M94.3,1165.0h14M94.3,1282.8h14M141.4,1065.2V1179.8M134.4,1065.2h14M134.4,1179.8h14M159.1,1049.9V1155.9M152.1,1049.9h14M152.1,1155.9h14M171.8,1012.7V1120.5M164.8,1012.7h14M164.8,1120.5h14M205.2,1017.9V1120.1M198.2,1017.9h14M198.2,1120.1h14M229.8,966.2V1091.1M222.8,966.2h14M222.8,1091.1h14M258.5,992.7V1016.9M251.5,992.7h14M251.5,1016.9h14M289.5,949.5V1058.0M282.5,949.5h14M282.5,1058.0h14M327.1,970.6V1100.9M320.1,970.6h14M320.1,1100.9h14M424.3,985.2V1072.3M417.3,985.2h14M417.3,1072.3h14M488.4,981.2V1101.5M481.4,981.2h14M481.4,1101.5h14M568.7,962.8V1053.7M561.7,962.8h14M561.7,1053.7h14M692.4,994.0V1068.4M685.4,994.0h14M685.4,1068.4h14M842.9,989.4V1049.8M835.9,989.4h14M835.9,1049.8h14M116.7,1118.8V1248.7M109.7,1118.8h14M109.7,1248.7h14M129.8,1149.2V1195.5M122.8,1149.2h14M122.8,1195.5h14M166.4,1086.5V1111.4M159.4,1086.5h14M159.4,1111.4h14M188.7,1016.5V1045.4M181.7,1016.5h14M181.7,1045.4h14M206.6,990.7V1116.3M199.6,990.7h14M199.6,1116.3h14M229.9,981.6V1091.0M222.9,981.6h14M222.9,1091.0h14M251.7,1039.5V1120.5M244.7,1039.5h14M244.7,1120.5h14M292.0,993.2V1074.2M285.0,993.2h14M285.0,1074.2h14M326.1,994.7V1058.0M319.1,994.7h14M319.1,1058.0h14M419.7,988.1V1077.6M412.7,988.1h14M412.7,1077.6h14M487.0,990.9V1089.5M480.0,990.9h14M480.0,1089.5h14M568.0,952.2V1034.1M561.0,952.2h14M561.0,1034.1h14M697.7,975.3V1043.4M690.7,975.3h14M690.7,1043.4h14M842.9,979.6V1059.9M835.9,979.6h14M835.9,1059.9h14M121.5,1021.6V1154.9M114.5,1021.6h14M114.5,1154.9h14M132.3,1034.3V1156.4M125.3,1034.3h14M125.3,1156.4h14M163.0,1029.3V1085.1M156.0,1029.3h14M156.0,1085.1h14M191.8,993.7V1074.0M184.8,993.7h14M184.8,1074.0h14M204.7,1023.0V1066.9M197.7,1023.0h14M197.7,1066.9h14M230.9,983.3V1076.7M223.9,983.3h14M223.9,1076.7h14M259.5,971.0V1104.7M252.5,971.0h14M252.5,1104.7h14M290.3,984.5V1078.6M283.3,984.5h14M283.3,1078.6h14M328.3,952.9V1063.8M321.3,952.9h14M321.3,1063.8h14M424.5,988.0V1045.7M417.5,988.0h14M417.5,1045.7h14M489.2,992.1V1049.5M482.2,992.1h14M482.2,1049.5h14M572.0,962.9V1079.8M565.0,962.9h14M565.0,1079.8h14M690.3,1015.1V1060.6M683.3,1015.1h14M683.3,1060.6h14M843.9,981.4V1060.3M836.9,981.4h14M836.9,1060.3h14M123.5,1079.5V1188.5M116.5,1079.5h14M116.5,1188.5h14M144.0,1053.3V1112.7M137.0,1053.3h14M137.0,1112.7h14M161.9,1039.9V1082.4M154.9,1039.9h14M154.9,1082.4h14M179.4,1030.6V1083.9M172.4,1030.6h14M172.4,1083.9h14M202.0,960.1V1048.2M195.0,960.1h14M195.0,1048.2h14M226.3,974.8V1037.1M219.3,974.8h14M219.3,1037.1h14M258.8,1022.4V1052.1M251.8,1022.4h14M251.8,1052.1h14M289.5,955.7V1078.0M282.5,955.7h14M282.5,1078.0h14M325.6,1014.8V1087.1M318.6,1014.8h14M318.6,1087.1h14M414.7,991.4V1083.8M407.7,991.4h14M407.7,1083.8h14M486.4,956.8V1083.6M479.4,956.8h14M479.4,1083.6h14M574.8,956.9V1075.2M567.8,956.9h14M567.8,1075.2h14M694.9,974.9V1088.9M687.9,974.9h14M687.9,1088.9h14M843.8,977.4V1059.8M836.8,977.4h14M836.8,1059.8h14M142.2,1016.6V1102.5M135.2,1016.6h14M135.2,1102.5h14M154.8,1043.7V1080.2M147.8,1043.7h14M147.8,1080.2h14M179.0,1024.3V1092.6M172.0,1024.3h14M172.0,1092.6h14M209.3,1019.7V1050.6M202.3,1019.7h14M202.3,1050.6h14M227.1,975.6V1038.2M220.1,975.6h14M220.1,1038.2h14M253.3,978.5V1029.3M246.3,978.5h14M246.3,1029.3h14M298.9,992.7V1042.7M291.9,992.7h14M291.9,1042.7h14M330.3,996.7V1024.2M323.3,996.7h14M323.3,1024.2h14M422.3,1006.3V1047.3M415.3,1006.3h14M415.3,1047.3h14M483.9,980.2V1082.0M476.9,980.2h14M476.9,1082.0h14M568.8,953.0V1069.1M561.8,953.0h14M561.8,1069.1h14M692.6,995.2V1033.1M685.6,995.2h14M685.6,1033.1h14M842.6,996.2V1047.0M835.6,996.2h14M835.6,1047.0h14M116.3,1070.6V1161.6M109.3,1070.6h14M109.3,1161.6h14M143.2,1062.4V1099.8M136.2,1062.4h14M136.2,1099.8h14M154.0,1004.0V1084.5M147.0,1004.0h14M147.0,1084.5h14M190.8,1004.6V1113.7M183.8,1004.6h14M183.8,1113.7h14M206.7,1010.0V1076.3M199.7,1010.0h14M199.7,1076.3h14M227.2,1015.5V1073.6M220.2,1015.5h14M220.2,1073.6h14M255.0,1011.5V1078.3M248.0,1011.5h14M248.0,1078.3h14M289.8,957.7V1075.6M282.8,957.7h14M282.8,1075.6h14M333.0,987.8V1047.0M326.0,987.8h14M326.0,1047.0h14M415.8,981.0V1066.9M408.8,981.0h14M408.8,1066.9h14M489.9,994.1V1057.8M482.9,994.1h14M482.9,1057.8h14M572.6,1016.3V1047.3M565.6,1016.3h14M565.6,1047.3h14M692.7,991.1V1049.3M685.7,991.1h14M685.7,1049.3h14M842.8,990.3V1050.0M835.8,990.3h14M835.8,1050.0h14M134.6,1034.9V1152.4M127.6,1034.9h14M127.6,1152.4h14M168.4,1065.2V1109.1M161.4,1065.2h14M161.4,1109.1h14M189.0,1022.5V1058.9M182.0,1022.5h14M182.0,1058.9h14M202.1,977.9V1080.5M195.1,977.9h14M195.1,1080.5h14M227.8,1039.9V1068.0M220.8,1039.9h14M220.8,1068.0h14M249.8,1002.5V1048.1M242.8,1002.5h14M242.8,1048.1h14M296.5,996.1V1053.4M289.5,996.1h14M289.5,1053.4h14M332.5,997.7V1055.8M325.5,997.7h14M325.5,1055.8h14M416.9,971.3V1065.6M409.9,971.3h14M409.9,1065.6h14M485.4,965.8V1052.6M478.4,965.8h14M478.4,1052.6h14M573.3,944.8V1047.9M566.3,944.8h14M566.3,1047.9h14M695.7,970.9V1070.4M688.7,970.9h14M688.7,1070.4h14M842.8,999.6V1039.2M835.8,999.6h14M835.8,1039.2h14M112.0,1109.7V1164.6M105.0,1109.7h14M105.0,1164.6h14M123.7,1128.0V1161.7M116.7,1128.0h14M116.7,1161.7h14M167.8,984.9V1111.6M160.8,984.9h14M160.8,1111.6h14M183.6,1008.7V1109.0M176.6,1008.7h14M176.6,1109.0h14M201.0,1000.1V1093.4M194.0,1000.1h14M194.0,1093.4h14M227.4,1028.4V1102.2M220.4,1028.4h14M220.4,1102.2h14M250.8,971.8V1042.9M243.8,971.8h14M243.8,1042.9h14M297.9,977.3V1057.7M290.9,977.3h14M290.9,1057.7h14M326.9,962.4V1070.4M319.9,962.4h14M319.9,1070.4h14M423.8,1009.6V1038.1M416.8,1009.6h14M416.8,1038.1h14M488.5,1001.4V1054.0M481.5,1001.4h14M481.5,1054.0h14M568.0,1002.1V1086.3M561.0,1002.1h14M561.0,1086.3h14M695.6,958.9V1042.8M688.6,958.9h14M688.6,1042.8h14M843.0,998.5V1042.3M836.0,998.5h14M836.0,1042.3h14M107.9,1185.9V1299.9M100.9,1185.9h14M100.9,1299.9h14M129.5,1101.2V1185.6M122.5,1101.2h14M122.5,1185.6h14M152.5,1034.5V1132.0M145.5,1034.5h14M145.5,1132.0h14M185.7,1011.0V1101.0M178.7,1011.0h14M178.7,1101.0h14M208.7,1002.7V1118.4M201.7,1002.7h14M201.7,1118.4h14M227.3,1004.1V1040.5M220.3,1004.1h14M220.3,1040.5h14M252.4,1005.0V1051.5M245.4,1005.0h14M245.4,1051.5h14M294.5,993.7V1024.1M287.5,993.7h14M287.5,1024.1h14M329.8,971.8V1073.2M322.8,971.8h14M322.8,1073.2h14M424.0,974.6V1047.9M417.0,974.6h14M417.0,1047.9h14M484.9,973.1V1048.7M477.9,973.1h14M477.9,1048.7h14M570.0,980.3V1044.2M563.0,980.3h14M563.0,1044.2h14M697.4,1005.1V1030.0M690.4,1005.1h14M690.4,1030.0h14M842.6,973.5V1066.4M835.6,973.5h14M835.6,1066.4h14M143.6,1039.5V1078.6M136.6,1039.5h14M136.6,1078.6h14M161.7,1018.8V1045.6M154.7,1018.8h14M154.7,1045.6h14M172.9,1005.0V1061.5M165.9,1005.0h14M165.9,1061.5h14M206.5,1035.2V1079.5M199.5,1035.2h14M199.5,1079.5h14M229.8,980.7V1107.0M222.8,980.7h14M222.8,1107.0h14M251.8,1024.5V1066.9M244.8,1024.5h14M244.8,1066.9h14M294.9,962.3V1068.2M287.9,962.3h14M287.9,1068.2h14M324.4,1016.0V1075.9M317.4,1016.0h14M317.4,1075.9h14M423.8,980.3V1039.5M416.8,980.3h14M416.8,1039.5h14M487.5,964.3V1028.8M480.5,964.3h14M480.5,1028.8h14M573.0,974.9V1090.7M566.0,974.9h14M566.0,1090.7h14M697.8,999.3V1049.5M690.8,999.3h14M690.8,1049.5h14M843.5,970.3V1068.1M836.5,970.3h14M836.5,1068.1h14M142.0,1092.4V1164.8M135.0,1092.4h14M135.0,1164.8h14M160.2,1050.3V1074.4M153.2,1050.3h14M153.2,1074.4h14M181.3,971.1V1087.9M174.3,971.1h14M174.3,1087.9h14M202.4,988.8V1059.6M195.4,988.8h14M195.4,1059.6h14M228.1,1026.8V1081.9M221.1,1026.8h14M221.1,1081.9h14M256.6,1001.8V1072.1M249.6,1001.8h14M249.6,1072.1h14M289.2,1007.1V1068.3M282.2,1007.1h14M282.2,1068.3h14M332.8,983.0V1098.1M325.8,983.0h14M325.8,1098.1h14M414.6,950.9V1074.6M407.6,950.9h14M407.6,1074.6h14M485.7,977.9V1050.7M478.7,977.9h14M478.7,1050.7h14M576.1,967.2V1053.3M569.1,967.2h14M569.1,1053.3h14M690.1,1008.9V1042.0M683.1,1008.9h14M683.1,1042.0h14M842.4,983.6V1055.9M835.4,983.6h14M835.4,1055.9h14M138.6,993.3V1114.9M131.6,993.3h14M131.6,1114.9h14M170.3,1007.7V1034.5M163.3,1007.7h14M163.3,1034.5h14M191.1,984.0V1057.2M184.1,984.0h14M184.1,1057.2h14M208.1,988.0V1021.1M201.1,988.0h14M201.1,1021.1h14M234.3,987.9V1075.9M227.3,987.9h14M227.3,1075.9h14M250.2,1000.7V1070.5M243.2,1000.7h14M243.2,1070.5h14M296.5,1004.9V1072.4M289.5,1004.9h14M289.5,1072.4h14M331.8,1005.8V1042.1M324.8,1005.8h14M324.8,1042.1h14M416.2,965.8V1050.2M409.2,965.8h14M409.2,1050.2h14M486.9,975.8V1011.9M479.9,975.8h14M479.9,1011.9h14M576.0,996.2V1030.5M569.0,996.2h14M569.0,1030.5h14M693.7,987.0V1069.5M686.7,987.0h14M686.7,1069.5h14M843.5,992.4V1048.0M836.5,992.4h14M836.5,1048.0h14M122.7,1046.2V1161.9M115.7,1046.2h14M115.7,1161.9h14M135.5,1023.7V1153.6M128.5,1023.7h14M128.5,1153.6h14M151.2,1014.3V1100.4M144.2,1014.3h14M144.2,1100.4h14M179.4,987.5V1097.1M172.4,987.5h14M172.4,1097.1h14M201.4,1028.2V1058.2M194.4,1028.2h14M194.4,1058.2h14M229.8,1014.1V1039.5M222.8,1014.1h14M222.8,1039.5h14M260.0,964.3V1053.8M253.0,964.3h14M253.0,1053.8h14M295.0,968.4V1070.4M288.0,968.4h14M288.0,1070.4h14M333.1,974.2V1045.1M326.1,974.2h14M326.1,1045.1h14M421.9,945.4V1065.7M414.9,945.4h14M414.9,1065.7h14M482.7,989.6V1075.7M475.7,989.6h14M475.7,1075.7h14M576.3,974.7V1017.0M569.3,974.7h14M569.3,1017.0h14M695.9,981.0V1087.2M688.9,981.0h14M688.9,1087.2h14M842.5,971.8V1070.1M835.5,971.8h14M835.5,1070.1h14M132.9,1023.5V1096.7M125.9,1023.5h14M125.9,1096.7h14M169.8,1010.3V1046.5M162.8,1010.3h14M162.8,1046.5h14M186.1,1037.4V1063.5M179.1,1037.4h14M179.1,1063.5h14M201.0,984.7V1028.9M194.0,984.7h14M194.0,1028.9h14M231.8,963.3V1048.3M224.8,963.3h14M224.8,1048.3h14M250.7,995.6V1061.4M243.7,995.6h14M243.7,1061.4h14M295.0,980.6V1020.3M288.0,980.6h14M288.0,1020.3h14M334.2,958.2V1058.3M327.2,958.2h14M327.2,1058.3h14M414.0,975.8V1089.0M407.0,975.8h14M407.0,1089.0h14M490.1,987.2V1048.8M483.1,987.2h14M483.1,1048.8h14M573.4,1000.7V1041.1M566.4,1000.7h14M566.4,1041.1h14M691.6,992.2V1104.5M684.6,992.2h14M684.6,1104.5h14M842.7,994.0V1046.5M835.7,994.0h14M835.7,1046.5h14M117.1,1105.2V1192.8M110.1,1105.2h14M110.1,1192.8h14M133.1,1061.2V1127.8M126.1,1061.2h14M126.1,1127.8h14M153.0,1038.8V1126.6M146.0,1038.8h14M146.0,1126.6h14M188.6,1020.8V1081.4M181.6,1020.8h14M181.6,1081.4h14M205.3,960.3V1093.2M198.3,960.3h14M198.3,1093.2h14M235.1,1017.6V1046.3M228.1,1017.6h14M228.1,1046.3h14M257.0,988.3V1042.2M250.0,988.3h14M250.0,1042.2h14M289.1,982.1V1036.1M282.1,982.1h14M282.1,1036.1h14M328.4,990.2V1076.9M321.4,990.2h14M321.4,1076.9h14M415.3,979.7V1061.8M408.3,979.7h14M408.3,1061.8h14M489.8,965.1V992.6M482.8,965.1h14M482.8,992.6h14M572.7,988.9V1074.6M565.7,988.9h14M565.7,1074.6h14M689.7,961.8V1071.2M682.7,961.8h14M682.7,1071.2h14M842.6,979.4V1064.1M835.6,979.4h14M835.6,1064.1h14M135.5,1060.1V1193.3M128.5,1060.1h14M128.5,1193.3h14M168.2,1012.1V1089.2M161.2,1012.1h14M161.2,1089.2h14M190.6,1027.0V1076.7M183.6,1027.0h14M183.6,1076.7h14M208.8,995.0V1057.4M201.8,995.0h14M201.8,1057.4h14M228.2,967.8V1087.9M221.2,967.8h14M221.2,1087.9h14M258.8,985.9V1059.7M251.8,985.9h14M251.8,1059.7h14M297.3,1010.0V1067.2M290.3,1010.0h14M290.3,1067.2h14M330.6,993.6V1036.0M323.6,993.6h14M323.6,1036.0h14M420.4,980.6V1038.5M413.4,980.6h14M413.4,1038.5h14M484.8,963.4V1067.5M477.8,963.4h14M477.8,1067.5h14M572.3,1020.4V1081.8M565.3,1020.4h14M565.3,1081.8h14M693.0,967.7V1093.4M686.0,967.7h14M686.0,1093.4h14M842.4,980.1V1060.9M835.4,980.1h14M835.4,1060.9h14M134.5,1077.4V1145.3M127.5,1077.4h14M127.5,1145.3h14M158.8,1000.3V1119.7M151.8,1000.3h14M151.8,1119.7h14M189.1,972.3V1067.8M182.1,972.3h14M182.1,1067.8h14M201.3,961.2V1091.5M194.3,961.2h14M194.3,1091.5h14M230.4,957.4V1047.6M223.4,957.4h14M223.4,1047.6h14M260.5,937.5V1058.1M253.5,937.5h14M253.5,1058.1h14M291.6,978.7V1040.1M284.6,978.7h14M284.6,1040.1h14M327.5,973.3V1056.4M320.5,973.3h14M320.5,1056.4h14M412.9,953.2V1073.8M405.9,953.2h14M405.9,1073.8h14M483.1,1016.6V1063.8M476.1,1016.6h14M476.1,1063.8h14M569.7,1014.4V1074.3M562.7,1014.4h14M562.7,1074.3h14M695.7,986.0V1054.6M688.7,986.0h14M688.7,1054.6h14M842.7,989.6V1053.1M835.7,989.6h14M835.7,1053.1h14M100.2,1150.7V1191.7M93.2,1150.7h14M93.2,1191.7h14M136.3,1054.3V1093.8M129.3,1054.3h14M129.3,1093.8h14M156.8,998.5V1112.3M149.8,998.5h14M149.8,1112.3h14M181.2,1011.3V1081.8M174.2,1011.3h14M174.2,1081.8h14M207.8,1008.1V1093.3M200.8,1008.1h14M200.8,1093.3h14M227.6,983.2V1079.7M220.6,983.2h14M220.6,1079.7h14M255.2,981.8V1087.5M248.2,981.8h14M248.2,1087.5h14M288.4,1002.8V1055.1M281.4,1002.8h14M281.4,1055.1h14M335.7,971.4V1081.1M328.7,971.4h14M328.7,1081.1h14M419.5,1014.1V1072.0M412.5,1014.1h14M412.5,1072.0h14M490.7,977.9V1051.8M483.7,977.9h14M483.7,1051.8h14M567.7,1030.6V1085.2M560.7,1030.6h14M560.7,1085.2h14M694.9,1033.6V1071.9M687.9,1033.6h14M687.9,1071.9h14M843.6,983.8V1057.2M836.6,983.8h14M836.6,1057.2h14M115.6,1140.4V1266.1M108.6,1140.4h14M108.6,1266.1h14M143.9,1093.7V1135.4M136.9,1093.7h14M136.9,1135.4h14M154.5,1065.3V1115.9M147.5,1065.3h14M147.5,1115.9h14M186.8,1003.8V1136.2M179.8,1003.8h14M179.8,1136.2h14M201.6,1053.9V1115.7M194.6,1053.9h14M194.6,1115.7h14M224.7,991.8V1104.1M217.7,991.8h14M217.7,1104.1h14M251.1,989.3V1113.0M244.1,989.3h14M244.1,1113.0h14M288.9,1008.2V1043.9M281.9,1008.2h14M281.9,1043.9h14M330.5,977.4V1072.5M323.5,977.4h14M323.5,1072.5h14M419.4,992.0V1060.2M412.4,992.0h14M412.4,1060.2h14M483.3,974.2V1060.4M476.3,974.2h14M476.3,1060.4h14M575.8,989.4V1058.5M568.8,989.4h14M568.8,1058.5h14M692.6,944.5V1037.7M685.6,944.5h14M685.6,1037.7h14M842.6,992.4V1049.9M835.6,992.4h14M835.6,1049.9h14M109.4,1156.7V1234.2M102.4,1156.7h14M102.4,1234.2h14M127.2,1050.3V1172.6M120.2,1050.3h14M120.2,1172.6h14M165.8,998.6V1088.4M158.8,998.6h14M158.8,1088.4h14M184.4,984.4V1058.3M177.4,984.4h14M177.4,1058.3h14M204.1,1037.9V1084.9M197.1,1037.9h14M197.1,1084.9h14M236.5,980.1V1101.6M229.5,980.1h14M229.5,1101.6h14M252.1,981.4V1100.7M245.1,981.4h14M245.1,1100.7h14M295.2,980.7V1024.6M288.2,980.7h14M288.2,1024.6h14M326.3,962.8V1019.5M319.3,962.8h14M319.3,1019.5h14M423.1,1040.9V1067.3M416.1,1040.9h14M416.1,1067.3h14M489.6,979.2V1004.0M482.6,979.2h14M482.6,1004.0h14M569.7,933.7V1058.4M562.7,933.7h14M562.7,1058.4h14M696.2,989.8V1024.3M689.2,989.8h14M689.2,1024.3h14M843.8,975.1V1063.2M836.8,975.1h14M836.8,1063.2h14M140.9,1000.1V1058.9M133.9,1000.1h14M133.9,1058.9h14M164.9,984.7V1105.7M157.9,984.7h14M157.9,1105.7h14M189.4,1004.2V1043.0M182.4,1004.2h14M182.4,1043.0h14M212.4,981.4V1052.5M205.4,981.4h14M205.4,1052.5h14M224.8,996.5V1036.6M217.8,996.5h14M217.8,1036.6h14M252.4,949.1V1054.6M245.4,949.1h14M245.4,1054.6h14M297.9,996.6V1059.4M290.9,996.6h14M290.9,1059.4h14M332.8,981.3V1060.0M325.8,981.3h14M325.8,1060.0h14M413.0,985.3V1032.8M406.0,985.3h14M406.0,1032.8h14M486.3,961.1V1091.9M479.3,961.1h14M479.3,1091.9h14M569.4,976.6V1030.5M562.4,976.6h14M562.4,1030.5h14M693.2,1013.6V1056.9M686.2,1013.6h14M686.2,1056.9h14M842.5,982.4V1058.1M835.5,982.4h14M835.5,1058.1h14M115.6,1107.0V1173.6M108.6,1107.0h14M108.6,1173.6h14M122.9,1126.6V1166.1M115.9,1126.6h14M115.9,1166.1h14M164.3,993.7V1128.0M157.3,993.7h14M157.3,1128.0h14M184.6,970.2V1096.5M177.6,970.2h14M177.6,1096.5h14M207.1,1016.1V1068.0M200.1,1016.1h14M200.1,1068.0h14M231.2,1021.0V1071.4M224.2,1021.0h14M224.2,1071.4h14M257.9,1015.7V1061.4M250.9,1015.7h14M250.9,1061.4h14M300.2,948.9V1059.4M293.2,948.9h14M293.2,1059.4h14M335.0,942.2V1066.5M328.0,942.2h14M328.0,1066.5h14M421.4,970.5V1030.1M414.4,970.5h14M414.4,1030.1h14M485.3,966.2V1061.4M478.3,966.2h14M478.3,1061.4h14M570.2,966.1V1097.3M563.2,966.1h14M563.2,1097.3h14M693.1,1011.9V1035.8M686.1,1011.9h14M686.1,1035.8h14M844.1,979.4V1061.1M837.1,979.4h14M837.1,1061.1h14M128.0,1158.9V1211.9M121.0,1158.9h14M121.0,1211.9h14M165.5,1014.6V1118.1M158.5,1014.6h14M158.5,1118.1h14M178.7,1032.3V1113.8M171.7,1032.3h14M171.7,1113.8h14M209.2,1030.8V1070.3M202.2,1030.8h14M202.2,1070.3h14M229.3,966.7V1093.1M222.3,966.7h14M222.3,1093.1h14M255.9,1003.7V1085.8M248.9,1003.7h14M248.9,1085.8h14M295.7,968.3V1082.1M288.7,968.3h14M288.7,1082.1h14M332.7,963.0V1077.7M325.7,963.0h14M325.7,1077.7h14M416.6,974.5V1049.1M409.6,974.5h14M409.6,1049.1h14M487.4,975.3V1098.0M480.4,975.3h14M480.4,1098.0h14M572.2,980.4V1100.1M565.2,980.4h14M565.2,1100.1h14M691.3,949.2V1065.1M684.3,949.2h14M684.3,1065.1h14M843.4,995.8V1044.1M836.4,995.8h14M836.4,1044.1h14M103.1,1157.2V1238.6M96.1,1157.2h14M96.1,1238.6h14M130.5,1092.8V1142.8M123.5,1092.8h14M123.5,1142.8h14M166.8,1029.8V1095.8M159.8,1029.8h14M159.8,1095.8h14M181.8,1019.0V1044.7M174.8,1019.0h14M174.8,1044.7h14M206.0,1010.7V1040.8M199.0,1010.7h14M199.0,1040.8h14M225.5,986.0V1029.4M218.5,986.0h14M218.5,1029.4h14M254.3,996.3V1055.9M247.3,996.3h14M247.3,1055.9h14M300.4,1006.8V1057.3M293.4,1006.8h14M293.4,1057.3h14M332.9,970.5V1064.6M325.9,970.5h14M325.9,1064.6h14M418.1,966.1V1084.9M411.1,966.1h14M411.1,1084.9h14M486.0,960.2V1071.6M479.0,960.2h14M479.0,1071.6h14M574.6,960.3V1052.4M567.6,960.3h14M567.6,1052.4h14M696.2,986.7V1059.4M689.2,986.7h14M689.2,1059.4h14M842.6,974.9V1065.1M835.6,974.9h14M835.6,1065.1h14M128.9,1085.8V1167.7M121.9,1085.8h14M121.9,1167.7h14M166.9,1034.0V1112.7M159.9,1034.0h14M159.9,1112.7h14M178.2,1013.0V1039.5M171.2,1013.0h14M171.2,1039.5h14M205.2,1004.2V1093.5M198.2,1004.2h14M198.2,1093.5h14M231.5,985.4V1102.1M224.5,985.4h14M224.5,1102.1h14M260.8,984.1V1053.8M253.8,984.1h14M253.8,1053.8h14M290.6,1014.0V1086.4M283.6,1014.0h14M283.6,1086.4h14M336.2,976.7V1054.8M329.2,976.7h14M329.2,1054.8h14M421.3,997.0V1094.9M414.3,997.0h14M414.3,1094.9h14M485.0,969.3V1075.0M478.0,969.3h14M478.0,1075.0h14M573.4,974.0V1072.9M566.4,974.0h14M566.4,1072.9h14M692.3,975.4V1060.4M685.3,975.4h14M685.3,1060.4h14M842.4,992.4V1047.7M835.4,992.4h14M835.4,1047.7h14M103.0,1209.1V1329.4M96.0,1209.1h14M96.0,1329.4h14M124.7,1133.2V1214.3M117.7,1133.2h14M117.7,1214.3h14M165.7,1044.0V1068.4M158.7,1044.0h14M158.7,1068.4h14M182.7,1009.6V1062.3M175.7,1009.6h14M175.7,1062.3h14M201.1,1008.2V1066.6M194.1,1008.2h14M194.1,1066.6h14M232.8,984.9V1070.1M225.8,984.9h14M225.8,1070.1h14M258.2,951.7V1032.0M251.2,951.7h14M251.2,1032.0h14M294.1,996.4V1053.8M287.1,996.4h14M287.1,1053.8h14M325.0,958.6V1078.3M318.0,958.6h14M318.0,1078.3h14M421.1,985.4V1037.6M414.1,985.4h14M414.1,1037.6h14M485.5,1023.0V1069.1M478.5,1023.0h14M478.5,1069.1h14M572.6,971.4V1036.5M565.6,971.4h14M565.6,1036.5h14M698.4,977.1V1052.2M691.4,977.1h14M691.4,1052.2h14M843.8,973.0V1069.5M836.8,973.0h14M836.8,1069.5h14M124.7,1032.0V1159.2M117.7,1032.0h14M117.7,1159.2h14M123.8,1147.2V1177.3M116.8,1147.2h14M116.8,1177.3h14M156.4,1020.8V1092.5M149.4,1020.8h14M149.4,1092.5h14M182.1,988.0V1107.2M175.1,988.0h14M175.1,1107.2h14M205.5,1021.3V1052.9M198.5,1021.3h14M198.5,1052.9h14M231.4,972.1V1097.9M224.4,972.1h14M224.4,1097.9h14M253.5,986.7V1072.5M246.5,986.7h14M246.5,1072.5h14M291.6,967.3V1065.6M284.6,967.3h14M284.6,1065.6h14M334.1,986.9V1085.3M327.1,986.9h14M327.1,1085.3h14M416.2,964.7V1081.2M409.2,964.7h14M409.2,1081.2h14M488.1,991.1V1031.0M481.1,991.1h14M481.1,1031.0h14M574.6,994.6V1029.4M567.6,994.6h14M567.6,1029.4h14M694.7,1007.7V1042.0M687.7,1007.7h14M687.7,1042.0h14M843.1,976.6V1063.0M836.1,976.6h14M836.1,1063.0h14M130.6,1127.3V1186.9M123.6,1127.3h14M123.6,1186.9h14M152.9,1061.5V1173.7M145.9,1061.5h14M145.9,1173.7h14M171.7,1027.9V1160.1M164.7,1027.9h14M164.7,1160.1h14M209.0,1018.5V1084.3M202.0,1018.5h14M202.0,1084.3h14M224.9,989.7V1084.3M217.9,989.7h14M217.9,1084.3h14M259.7,1008.5V1042.6M252.7,1008.5h14M252.7,1042.6h14M291.8,969.6V1044.8M284.8,969.6h14M284.8,1044.8h14M327.2,974.6V1073.5M320.2,974.6h14M320.2,1073.5h14M419.7,1016.8V1053.1M412.7,1016.8h14M412.7,1053.1h14M484.6,953.9V1079.9M477.6,953.9h14M477.6,1079.9h14M572.4,959.4V1093.4M565.4,959.4h14M565.4,1093.4h14M690.7,976.5V1032.4M683.7,976.5h14M683.7,1032.4h14M844.0,974.1V1067.0M837.0,974.1h14M837.0,1067.0h14M102.6,1205.1V1333.4M95.6,1205.1h14M95.6,1333.4h14M133.3,1133.6V1230.0M126.3,1133.6h14M126.3,1230.0h14M168.0,1039.5V1113.0M161.0,1039.5h14M161.0,1113.0h14M183.4,1038.5V1089.6M176.4,1038.5h14M176.4,1089.6h14M207.1,992.8V1103.7M200.1,992.8h14M200.1,1103.7h14M225.5,1019.6V1076.3M218.5,1019.6h14M218.5,1076.3h14M251.2,994.4V1028.7M244.2,994.4h14M244.2,1028.7h14M291.5,974.1V1058.8M284.5,974.1h14M284.5,1058.8h14M335.3,979.7V1054.5M328.3,979.7h14M328.3,1054.5h14M422.9,1024.7V1052.2M415.9,1024.7h14M415.9,1052.2h14M483.7,978.8V1074.1M476.7,978.8h14M476.7,1074.1h14M575.7,1001.6V1039.9M568.7,1001.6h14M568.7,1039.9h14M689.6,999.0V1064.2M682.6,999.0h14M682.6,1064.2h14M843.4,995.0V1046.1M836.4,995.0h14M836.4,1046.1h14M114.2,1105.5V1151.1M107.2,1105.5h14M107.2,1151.1h14M140.8,1026.4V1094.8M133.8,1026.4h14M133.8,1094.8h14M168.2,1009.3V1059.6M161.2,1009.3h14M161.2,1059.6h14M180.9,963.3V1083.5M173.9,963.3h14M173.9,1083.5h14M202.3,1046.4V1071.8M195.3,1046.4h14M195.3,1071.8h14M225.6,959.2V1087.3M218.6,959.2h14M218.6,1087.3h14M260.2,1005.6V1092.4M253.2,1005.6h14M253.2,1092.4h14M289.6,968.8V1068.8M282.6,968.8h14M282.6,1068.8h14M330.5,996.9V1037.7M323.5,996.9h14M323.5,1037.7h14M419.2,970.9V1023.8M412.2,970.9h14M412.2,1023.8h14M482.7,966.1V1047.2M475.7,966.1h14M475.7,1047.2h14M571.5,989.5V1045.5M564.5,989.5h14M564.5,1045.5h14M690.8,971.8V1059.6M683.8,971.8h14M683.8,1059.6h14M843.3,979.5V1061.4M836.3,979.5h14M836.3,1061.4h14M101.1,1190.4V1223.9M94.1,1190.4h14M94.1,1223.9h14M128.1,1094.6V1145.5M121.1,1094.6h14M121.1,1145.5h14M162.5,1062.1V1102.5M155.5,1062.1h14M155.5,1102.5h14M191.5,1049.0V1110.9M184.5,1049.0h14M184.5,1110.9h14M201.0,1020.1V1068.1M194.0,1020.1h14M194.0,1068.1h14M232.0,999.7V1060.1M225.0,999.7h14M225.0,1060.1h14M258.0,922.1V1033.5M251.0,922.1h14M251.0,1033.5h14M298.2,994.6V1071.4M291.2,994.6h14M291.2,1071.4h14M328.6,985.5V1109.7M321.6,985.5h14M321.6,1109.7h14M422.5,967.0V1073.9M415.5,967.0h14M415.5,1073.9h14M485.9,980.0V1072.9M478.9,980.0h14M478.9,1072.9h14M575.7,968.5V1085.9M568.7,968.5h14M568.7,1085.9h14M689.4,967.3V1070.4M682.4,967.3h14M682.4,1070.4h14M844.0,995.0V1046.1M837.0,995.0h14M837.0,1046.1h14M133.2,1045.1V1127.7M126.2,1045.1h14M126.2,1127.7h14M152.4,952.9V1081.3M145.4,952.9h14M145.4,1081.3h14M188.3,949.6V1060.5M181.3,949.6h14M181.3,1060.5h14M211.9,976.1V1027.7M204.9,976.1h14M204.9,1027.7h14M235.5,996.9V1042.5M228.5,996.9h14M228.5,1042.5h14M258.6,996.1V1070.5M251.6,996.1h14M251.6,1070.5h14M298.4,958.1V1082.3M291.4,958.1h14M291.4,1082.3h14M334.2,955.0V1054.5M327.2,955.0h14M327.2,1054.5h14M419.8,968.5V1078.9M412.8,968.5h14M412.8,1078.9h14M485.6,977.8V1089.4M478.6,977.8h14M478.6,1089.4h14M574.8,976.2V1091.3M567.8,976.2h14M567.8,1091.3h14M696.5,1016.0V1084.6M689.5,1016.0h14M689.5,1084.6h14M843.9,987.4V1051.1M836.9,987.4h14M836.9,1051.1h14M135.4,1072.8V1165.1M128.4,1072.8h14M128.4,1165.1h14M149.6,1059.2V1112.9M142.6,1059.2h14M142.6,1112.9h14M181.1,1000.2V1101.5M174.1,1000.2h14M174.1,1101.5h14M200.6,1012.0V1125.1M193.6,1012.0h14M193.6,1125.1h14M225.8,1010.6V1047.7M218.8,1010.6h14M218.8,1047.7h14M259.4,974.3V1089.2M252.4,974.3h14M252.4,1089.2h14M293.4,1007.2V1051.3M286.4,1007.2h14M286.4,1051.3h14M331.8,995.7V1059.6M324.8,995.7h14M324.8,1059.6h14M418.2,962.1V1010.6M411.2,962.1h14M411.2,1010.6h14M484.7,944.4V1067.1M477.7,944.4h14M477.7,1067.1h14M569.2,998.7V1066.0M562.2,998.7h14M562.2,1066.0h14M692.5,1014.9V1094.7M685.5,1014.9h14M685.5,1094.7h14M843.8,993.7V1046.7M836.8,993.7h14M836.8,1046.7h14M99.9,1304.8V1407.6M92.9,1304.8h14M92.9,1407.6h14M126.2,1281.1V1383.9M119.2,1281.1h14M119.2,1383.9h14" fill="none" stroke="#7c7c7c" stroke-width="0.8" opacity="0.8"/>
<path d="M121.8,1126.2a7.2,7.2 0 1,0 14.4,0a7.2,7.2 0 1,0 -14.4,0M143.9,1060.7a7.2,7.2 0 1,0 14.4,0a7.2,7.2 0 1,0 -14.4,0M174.9,1082.9a7.2,7.2 0 1,0 14.4,0a7.2,7.2 0 1,0 -14.4,0M197.8,1009.8a7.2,7.2 0 1,0 14.4,0a7.2,7.2 0 1,0 -14.4,0M217.9,1031.8a7.2,7.2 0 1,0 14.4,0a7.2,7.2 0 1,0 -14.4,0M248.5,1016.0a7.2,7.2 0 1,0 14.4,0a7.2,7.2 0 1,0 -14.4,0M281.5,1018.5a7.2,7.2 0 1,0 14.4,0a7.2,7.2 0 1,0 -14.4,0M322.5,1028.8a7.2,7.2 0 1,0 14.4,0a7.2,7.2 0 1,0 -14.4,0M406.2,1032.4a7.2,7.2 0 1,0 14.4,0a7.2,7.2 0 1,0 -14.4,0M475.2,1007.7a7.2,7.2 0 1,0 14.4,0a7.2,7.2 0 1,0 -14.4,0M563.9,1014.5a7.2,7.2 0 1,0 14.4,0a7.2,7.2 0 1,0 -14.4,0M689.6,1000.1a7.2,7.2 0 1,0 14.4,0a7.2,7.2 0 1,0 -14.4,0M835.3,1020.9a7.2,7.2 0 1,0 14.4,0a7.2,7.2 0 1,0 -14.4,0M118.3,1168.2a7.2,7.2 0 1,0 14.4,0a7.2,7.2 0 1,0 -14.4,0M153.7,1110.7a7.2,7.2 0 1,0 14.4,0a7.2,7.2 0 1,0 -14.4,0M182.1,1066.9a7.2,7.2 0 1,0 14.4,0a7.2,7.2 0 1,0 -14.4,0M202.2,1058.1a7.2,7.2 0 1,0 14.4,0a7.2,7.2 0 1,0 -14.4,0M220.8,1045.4a7.2,7.2 0 1,0 14.4,0a7.2,7.2 0 1,0 -14.4,0M254.2,1009.7a7.2,7.2 0 1,0 14.4,0a7.2,7.2 0 1,0 -14.4,0M282.5,1028.9a7.2,7.2 0 1,0 14.4,0a7.2,7.2 0 1,0 -14.4,0M322.3,1027.6a7.2,7.2 0 1,0 14.4,0a7.2,7.2 0 1,0 -14.4,0M414.7,1039.4a7.2,7.2 0 1,0 14.4,0a7.2,7.2 0 1,0 -14.4,0M475.8,1023.2a7.2,7.2 0 1,0 14.4,0a7.2,7.2 0 1,0 -14.4,0M564.5,1006.9a7.2,7.2 0 1,0 14.4,0a7.2,7.2 0 1,0 -14.4,0M682.4,1028.4a7.2,7.2 0 1,0 14.4,0a7.2,7.2 0 1,0 -14.4,0M836.3,1020.1a7.2,7.2 0 1,0 14.4,0a7.2,7.2 0 1,0 -14.4,0M109.8,1131.0a7.2,7.2 0 1,0 14.4,0a7.2,7.2 0 1,0 -14.4,0M134.2,1071.8a7.2,7.2 0 1,0 14.4,0a7.2,7.2 0 1,0 -14.4,0M144.0,1078.7a7.2,7.2 0 1,0 14.4,0a7.2,7.2 0 1,0 -14.4,0M173.1,1049.6a7.2,7.2 0 1,0 14.4,0a7.2,7.2 0 1,0 -14.4,0M200.0,1045.5a7.2,7.2 0 1,0 14.4,0a7.2,7.2 0 1,0 -14.4,0M228.0,1010.8a7.2,7.2 0 1,0 14.4,0a7.2,7.2 0 1,0 -14.4,0M252.3,1045.0a7.2,7.2 0 1,0 14.4,0a7.2,7.2 0 1,0 -14.4,0M291.6,1023.1a7.2,7.2 0 1,0 14.4,0a7.2,7.2 0 1,0 -14.4,0M320.6,1001.3a7.2,7.2 0 1,0 14.4,0a7.2,7.2 0 1,0 -14.4,0M410.5,1034.5a7.2,7.2 0 1,0 14.4,0a7.2,7.2 0 1,0 -14.4,0M477.7,1031.1a7.2,7.2 0 1,0 14.4,0a7.2,7.2 0 1,0 -14.4,0M568.1,1011.5a7.2,7.2 0 1,0 14.4,0a7.2,7.2 0 1,0 -14.4,0M690.8,1015.4a7.2,7.2 0 1,0 14.4,0a7.2,7.2 0 1,0 -14.4,0M835.4,1020.1a7.2,7.2 0 1,0 14.4,0a7.2,7.2 0 1,0 -14.4,0M98.3,1209.6a7.2,7.2 0 1,0 14.4,0a7.2,7.2 0 1,0 -14.4,0M117.7,1135.0a7.2,7.2 0 1,0 14.4,0a7.2,7.2 0 1,0 -14.4,0M150.2,1076.7a7.2,7.2 0 1,0 14.4,0a7.2,7.2 0 1,0 -14.4,0M163.8,1029.7a7.2,7.2 0 1,0 14.4,0a7.2,7.2 0 1,0 -14.4,0M203.9,1016.9a7.2,7.2 0 1,0 14.4,0a7.2,7.2 0 1,0 -14.4,0M224.7,1035.4a7.2,7.2 0 1,0 14.4,0a7.2,7.2 0 1,0 -14.4,0M244.1,1007.0a7.2,7.2 0 1,0 14.4,0a7.2,7.2 0 1,0 -14.4,0M284.1,1019.6a7.2,7.2 0 1,0 14.4,0a7.2,7.2 0 1,0 -14.4,0M321.4,1024.7a7.2,7.2 0 1,0 14.4,0a7.2,7.2 0 1,0 -14.4,0M409.9,1030.5a7.2,7.2 0 1,0 14.4,0a7.2,7.2 0 1,0 -14.4,0M475.5,1017.9a7.2,7.2 0 1,0 14.4,0a7.2,7.2 0 1,0 -14.4,0M567.8,1037.1a7.2,7.2 0 1,0 14.4,0a7.2,7.2 0 1,0 -14.4,0M691.2,1015.9a7.2,7.2 0 1,0 14.4,0a7.2,7.2 0 1,0 -14.4,0M836.0,1018.8a7.2,7.2 0 1,0 14.4,0a7.2,7.2 0 1,0 -14.4,0M101.9,1150.6a7.2,7.2 0 1,0 14.4,0a7.2,7.2 0 1,0 -14.4,0M126.8,1094.7a7.2,7.2 0 1,0 14.4,0a7.2,7.2 0 1,0 -14.4,0M150.0,1101.3a7.2,7.2 0 1,0 14.4,0a7.2,7.2 0 1,0 -14.4,0M163.9,1088.7a7.2,7.2 0 1,0 14.4,0a7.2,7.2 0 1,0 -14.4,0M193.6,1063.0a7.2,7.2 0 1,0 14.4,0a7.2,7.2 0 1,0 -14.4,0M220.7,1059.9a7.2,7.2 0 1,0 14.4,0a7.2,7.2 0 1,0 -14.4,0M245.5,1007.6a7.2,7.2 0 1,0 14.4,0a7.2,7.2 0 1,0 -14.4,0M289.5,1038.1a7.2,7.2 0 1,0 14.4,0a7.2,7.2 0 1,0 -14.4,0M328.8,1012.1a7.2,7.2 0 1,0 14.4,0a7.2,7.2 0 1,0 -14.4,0M410.9,998.8a7.2,7.2 0 1,0 14.4,0a7.2,7.2 0 1,0 -14.4,0M483.0,1006.7a7.2,7.2 0 1,0 14.4,0a7.2,7.2 0 1,0 -14.4,0M569.1,1022.7a7.2,7.2 0 1,0 14.4,0a7.2,7.2 0 1,0 -14.4,0M690.8,1021.5a7.2,7.2 0 1,0 14.4,0a7.2,7.2 0 1,0 -14.4,0M835.8,1020.7a7.2,7.2 0 1,0 14.4,0a7.2,7.2 0 1,0 -14.4,0M129.6,1102.6a7.2,7.2 0 1,0 14.4,0a7.2,7.2 0 1,0 -14.4,0M163.2,1072.5a7.2,7.2 0 1,0 14.4,0a7.2,7.2 0 1,0 -14.4,0M177.5,1050.3a7.2,7.2 0 1,0 14.4,0a7.2,7.2 0 1,0 -14.4,0M197.6,1019.7a7.2,7.2 0 1,0 14.4,0a7.2,7.2 0 1,0 -14.4,0M224.0,1008.2a7.2,7.2 0 1,0 14.4,0a7.2,7.2 0 1,0 -14.4,0M243.9,1002.3a7.2,7.2 0 1,0 14.4,0a7.2,7.2 0 1,0 -14.4,0M281.2,1049.6a7.2,7.2 0 1,0 14.4,0a7.2,7.2 0 1,0 -14.4,0M329.0,1036.4a7.2,7.2 0 1,0 14.4,0a7.2,7.2 0 1,0 -14.4,0M413.4,1037.4a7.2,7.2 0 1,0 14.4,0a7.2,7.2 0 1,0 -14.4,0M479.3,1020.4a7.2,7.2 0 1,0 14.4,0a7.2,7.2 0 1,0 -14.4,0M568.6,1028.4a7.2,7.2 0 1,0 14.4,0a7.2,7.2 0 1,0 -14.4,0M686.1,1017.0a7.2,7.2 0 1,0 14.4,0a7.2,7.2 0 1,0 -14.4,0M836.7,1019.8a7.2,7.2 0 1,0 14.4,0a7.2,7.2 0 1,0 -14.4,0M117.4,1086.8a7.2,7.2 0 1,0 14.4,0a7.2,7.2 0 1,0 -14.4,0M132.4,1087.1a7.2,7.2 0 1,0 14.4,0a7.2,7.2 0 1,0 -14.4,0M144.6,1083.3a7.2,7.2 0 1,0 14.4,0a7.2,7.2 0 1,0 -14.4,0M175.4,1021.6a7.2,7.2 0 1,0 14.4,0a7.2,7.2 0 1,0 -14.4,0M196.3,1044.6a7.2,7.2 0 1,0 14.4,0a7.2,7.2 0 1,0 -14.4,0M220.6,1030.7a7.2,7.2 0 1,0 14.4,0a7.2,7.2 0 1,0 -14.4,0M251.7,1004.8a7.2,7.2 0 1,0 14.4,0a7.2,7.2 0 1,0 -14.4,0M287.2,1017.9a7.2,7.2 0 1,0 14.4,0a7.2,7.2 0 1,0 -14.4,0M324.1,1015.9a7.2,7.2 0 1,0 14.4,0a7.2,7.2 0 1,0 -14.4,0M414.7,1020.0a7.2,7.2 0 1,0 14.4,0a7.2,7.2 0 1,0 -14.4,0M482.8,1014.9a7.2,7.2 0 1,0 14.4,0a7.2,7.2 0 1,0 -14.4,0M564.1,1013.8a7.2,7.2 0 1,0 14.4,0a7.2,7.2 0 1,0 -14.4,0M687.7,1025.0a7.2,7.2 0 1,0 14.4,0a7.2,7.2 0 1,0 -14.4,0M836.0,1019.2a7.2,7.2 0 1,0 14.4,0a7.2,7.2 0 1,0 -14.4,0M114.3,1085.0a7.2,7.2 0 1,0 14.4,0a7.2,7.2 0 1,0 -14.4,0M136.7,1066.3a7.2,7.2 0 1,0 14.4,0a7.2,7.2 0 1,0 -14.4,0M160.2,1050.6a7.2,7.2 0 1,0 14.4,0a7.2,7.2 0 1,0 -14.4,0M166.8,1024.4a7.2,7.2 0 1,0 14.4,0a7.2,7.2 0 1,0 -14.4,0M198.6,1067.2a7.2,7.2 0 1,0 14.4,0a7.2,7.2 0 1,0 -14.4,0M223.5,996.6a7.2,7.2 0 1,0 14.4,0a7.2,7.2 0 1,0 -14.4,0M246.4,1015.1a7.2,7.2 0 1,0 14.4,0a7.2,7.2 0 1,0 -14.4,0M283.4,1047.7a7.2,7.2 0 1,0 14.4,0a7.2,7.2 0 1,0 -14.4,0M321.1,1006.1a7.2,7.2 0 1,0 14.4,0a7.2,7.2 0 1,0 -14.4,0M414.2,1001.9a7.2,7.2 0 1,0 14.4,0a7.2,7.2 0 1,0 -14.4,0M474.6,995.2a7.2,7.2 0 1,0 14.4,0a7.2,7.2 0 1,0 -14.4,0M565.1,1016.2a7.2,7.2 0 1,0 14.4,0a7.2,7.2 0 1,0 -14.4,0M686.1,1017.7a7.2,7.2 0 1,0 14.4,0a7.2,7.2 0 1,0 -14.4,0M835.1,1018.5a7.2,7.2 0 1,0 14.4,0a7.2,7.2 0 1,0 -14.4,0M94.1,1150.4a7.2,7.2 0 1,0 14.4,0a7.2,7.2 0 1,0 -14.4,0M134.0,1072.7a7.2,7.2 0 1,0 14.4,0a7.2,7.2 0 1,0 -14.4,0M152.2,1020.2a7.2,7.2 0 1,0 14.4,0a7.2,7.2 0 1,0 -14.4,0M170.7,1028.1a7.2,7.2 0 1,0 14.4,0a7.2,7.2 0 1,0 -14.4,0M200.1,1012.9a7.2,7.2 0 1,0 14.4,0a7.2,7.2 0 1,0 -14.4,0M228.5,997.1a7.2,7.2 0 1,0 14.4,0a7.2,7.2 0 1,0 -14.4,0M245.6,1019.2a7.2,7.2 0 1,0 14.4,0a7.2,7.2 0 1,0 -14.4,0M282.6,1052.6a7.2,7.2 0 1,0 14.4,0a7.2,7.2 0 1,0 -14.4,0M323.6,1015.2a7.2,7.2 0 1,0 14.4,0a7.2,7.2 0 1,0 -14.4,0M408.3,1034.9a7.2,7.2 0 1,0 14.4,0a7.2,7.2 0 1,0 -14.4,0M475.4,1013.5a7.2,7.2 0 1,0 14.4,0a7.2,7.2 0 1,0 -14.4,0M561.5,1041.3a7.2,7.2 0 1,0 14.4,0a7.2,7.2 0 1,0 -14.4,0M682.5,1021.1a7.2,7.2 0 1,0 14.4,0a7.2,7.2 0 1,0 -14.4,0M835.5,1019.6a7.2,7.2 0 1,0 14.4,0a7.2,7.2 0 1,0 -14.4,0M97.2,1269.2a7.2,7.2 0 1,0 14.4,0a7.2,7.2 0 1,0 -14.4,0M117.1,1193.4a7.2,7.2 0 1,0 14.4,0a7.2,7.2 0 1,0 -14.4,0M158.3,1046.5a7.2,7.2 0 1,0 14.4,0a7.2,7.2 0 1,0 -14.4,0M168.9,1071.0a7.2,7.2 0 1,0 14.4,0a7.2,7.2 0 1,0 -14.4,0M195.3,1007.8a7.2,7.2 0 1,0 14.4,0a7.2,7.2 0 1,0 -14.4,0M218.2,1021.7a7.2,7.2 0 1,0 14.4,0a7.2,7.2 0 1,0 -14.4,0M252.6,1027.9a7.2,7.2 0 1,0 14.4,0a7.2,7.2 0 1,0 -14.4,0M291.6,1018.4a7.2,7.2 0 1,0 14.4,0a7.2,7.2 0 1,0 -14.4,0M325.4,1006.1a7.2,7.2 0 1,0 14.4,0a7.2,7.2 0 1,0 -14.4,0M408.9,1008.6a7.2,7.2 0 1,0 14.4,0a7.2,7.2 0 1,0 -14.4,0M476.6,1012.8a7.2,7.2 0 1,0 14.4,0a7.2,7.2 0 1,0 -14.4,0M562.7,1023.6a7.2,7.2 0 1,0 14.4,0a7.2,7.2 0 1,0 -14.4,0M686.3,1010.7a7.2,7.2 0 1,0 14.4,0a7.2,7.2 0 1,0 -14.4,0M835.4,1020.2a7.2,7.2 0 1,0 14.4,0a7.2,7.2 0 1,0 -14.4,0M136.6,1130.3a7.2,7.2 0 1,0 14.4,0a7.2,7.2 0 1,0 -14.4,0M145.6,1109.0a7.2,7.2 0 1,0 14.4,0a7.2,7.2 0 1,0 -14.4,0M178.9,1097.5a7.2,7.2 0 1,0 14.4,0a7.2,7.2 0 1,0 -14.4,0M201.2,1061.3a7.2,7.2 0 1,0 14.4,0a7.2,7.2 0 1,0 -14.4,0M217.7,1064.4a7.2,7.2 0 1,0 14.4,0a7.2,7.2 0 1,0 -14.4,0M252.5,1020.9a7.2,7.2 0 1,0 14.4,0a7.2,7.2 0 1,0 -14.4,0M291.9,1015.2a7.2,7.2 0 1,0 14.4,0a7.2,7.2 0 1,0 -14.4,0M324.9,1040.7a7.2,7.2 0 1,0 14.4,0a7.2,7.2 0 1,0 -14.4,0M414.4,1027.6a7.2,7.2 0 1,0 14.4,0a7.2,7.2 0 1,0 -14.4,0M481.9,1021.4a7.2,7.2 0 1,0 14.4,0a7.2,7.2 0 1,0 -14.4,0M561.3,1020.1a7.2,7.2 0 1,0 14.4,0a7.2,7.2 0 1,0 -14.4,0M686.9,1037.3a7.2,7.2 0 1,0 14.4,0a7.2,7.2 0 1,0 -14.4,0M836.0,1020.2a7.2,7.2 0 1,0 14.4,0a7.2,7.2 0 1,0 -14.4,0M103.8,1182.2a7.2,7.2 0 1,0 14.4,0a7.2,7.2 0 1,0 -14.4,0M131.2,1075.2a7.2,7.2 0 1,0 14.4,0a7.2,7.2 0 1,0 -14.4,0M146.8,1069.5a7.2,7.2 0 1,0 14.4,0a7.2,7.2 0 1,0 -14.4,0M179.2,1044.1a7.2,7.2 0 1,0 14.4,0a7.2,7.2 0 1,0 -14.4,0M205.2,1041.3a7.2,7.2 0 1,0 14.4,0a7.2,7.2 0 1,0 -14.4,0M223.3,1050.4a7.2,7.2 0 1,0 14.4,0a7.2,7.2 0 1,0 -14.4,0M247.0,1041.9a7.2,7.2 0 1,0 14.4,0a7.2,7.2 0 1,0 -14.4,0M286.9,1018.4a7.2,7.2 0 1,0 14.4,0a7.2,7.2 0 1,0 -14.4,0M325.5,1008.8a7.2,7.2 0 1,0 14.4,0a7.2,7.2 0 1,0 -14.4,0M414.8,983.9a7.2,7.2 0 1,0 14.4,0a7.2,7.2 0 1,0 -14.4,0M480.1,1045.0a7.2,7.2 0 1,0 14.4,0a7.2,7.2 0 1,0 -14.4,0M565.9,1013.7a7.2,7.2 0 1,0 14.4,0a7.2,7.2 0 1,0 -14.4,0M682.8,1021.3a7.2,7.2 0 1,0 14.4,0a7.2,7.2 0 1,0 -14.4,0M835.4,1019.7a7.2,7.2 0 1,0 14.4,0a7.2,7.2 0 1,0 -14.4,0M135.2,1075.1a7.2,7.2 0 1,0 14.4,0a7.2,7.2 0 1,0 -14.4,0M145.2,1051.6a7.2,7.2 0 1,0 14.4,0a7.2,7.2 0 1,0 -14.4,0M180.9,1034.6a7.2,7.2 0 1,0 14.4,0a7.2,7.2 0 1,0 -14.4,0M199.5,1030.0a7.2,7.2 0 1,0 14.4,0a7.2,7.2 0 1,0 -14.4,0M228.0,998.0a7.2,7.2 0 1,0 14.4,0a7.2,7.2 0 1,0 -14.4,0M250.9,997.7a7.2,7.2 0 1,0 14.4,0a7.2,7.2 0 1,0 -14.4,0M283.9,1024.4a7.2,7.2 0 1,0 14.4,0a7.2,7.2 0 1,0 -14.4,0M328.1,1007.5a7.2,7.2 0 1,0 14.4,0a7.2,7.2 0 1,0 -14.4,0M411.4,1031.3a7.2,7.2 0 1,0 14.4,0a7.2,7.2 0 1,0 -14.4,0M474.6,1027.2a7.2,7.2 0 1,0 14.4,0a7.2,7.2 0 1,0 -14.4,0M560.1,1014.1a7.2,7.2 0 1,0 14.4,0a7.2,7.2 0 1,0 -14.4,0M686.6,1018.3a7.2,7.2 0 1,0 14.4,0a7.2,7.2 0 1,0 -14.4,0M835.9,1019.6a7.2,7.2 0 1,0 14.4,0a7.2,7.2 0 1,0 -14.4,0M135.3,1086.2a7.2,7.2 0 1,0 14.4,0a7.2,7.2 0 1,0 -14.4,0M161.3,1027.8a7.2,7.2 0 1,0 14.4,0a7.2,7.2 0 1,0 -14.4,0M180.7,1035.1a7.2,7.2 0 1,0 14.4,0a7.2,7.2 0 1,0 -14.4,0M201.0,1043.2a7.2,7.2 0 1,0 14.4,0a7.2,7.2 0 1,0 -14.4,0M228.4,1017.0a7.2,7.2 0 1,0 14.4,0a7.2,7.2 0 1,0 -14.4,0M253.8,1025.9a7.2,7.2 0 1,0 14.4,0a7.2,7.2 0 1,0 -14.4,0M287.8,1001.8a7.2,7.2 0 1,0 14.4,0a7.2,7.2 0 1,0 -14.4,0M326.0,1027.5a7.2,7.2 0 1,0 14.4,0a7.2,7.2 0 1,0 -14.4,0M406.0,1015.1a7.2,7.2 0 1,0 14.4,0a7.2,7.2 0 1,0 -14.4,0M481.1,1006.7a7.2,7.2 0 1,0 14.4,0a7.2,7.2 0 1,0 -14.4,0M564.2,1029.2a7.2,7.2 0 1,0 14.4,0a7.2,7.2 0 1,0 -14.4,0M689.0,1005.1a7.2,7.2 0 1,0 14.4,0a7.2,7.2 0 1,0 -14.4,0M836.3,1020.2a7.2,7.2 0 1,0 14.4,0a7.2,7.2 0 1,0 -14.4,0M102.5,1221.1a7.2,7.2 0 1,0 14.4,0a7.2,7.2 0 1,0 -14.4,0M121.2,1132.8a7.2,7.2 0 1,0 14.4,0a7.2,7.2 0 1,0 -14.4,0M154.6,1070.4a7.2,7.2 0 1,0 14.4,0a7.2,7.2 0 1,0 -14.4,0M182.3,1032.7a7.2,7.2 0 1,0 14.4,0a7.2,7.2 0 1,0 -14.4,0M202.4,1005.5a7.2,7.2 0 1,0 14.4,0a7.2,7.2 0 1,0 -14.4,0M222.3,1037.9a7.2,7.2 0 1,0 14.4,0a7.2,7.2 0 1,0 -14.4,0M247.4,1000.6a7.2,7.2 0 1,0 14.4,0a7.2,7.2 0 1,0 -14.4,0M287.5,1017.6a7.2,7.2 0 1,0 14.4,0a7.2,7.2 0 1,0 -14.4,0M321.8,1021.2a7.2,7.2 0 1,0 14.4,0a7.2,7.2 0 1,0 -14.4,0M409.6,1020.4a7.2,7.2 0 1,0 14.4,0a7.2,7.2 0 1,0 -14.4,0M475.0,1007.8a7.2,7.2 0 1,0 14.4,0a7.2,7.2 0 1,0 -14.4,0M562.6,1044.4a7.2,7.2 0 1,0 14.4,0a7.2,7.2 0 1,0 -14.4,0M690.9,1014.0a7.2,7.2 0 1,0 14.4,0a7.2,7.2 0 1,0 -14.4,0M835.3,1019.9a7.2,7.2 0 1,0 14.4,0a7.2,7.2 0 1,0 -14.4,0M126.9,1131.7a7.2,7.2 0 1,0 14.4,0a7.2,7.2 0 1,0 -14.4,0M152.2,1090.2a7.2,7.2 0 1,0 14.4,0a7.2,7.2 0 1,0 -14.4,0M175.2,1077.8a7.2,7.2 0 1,0 14.4,0a7.2,7.2 0 1,0 -14.4,0M193.7,1048.2a7.2,7.2 0 1,0 14.4,0a7.2,7.2 0 1,0 -14.4,0M226.8,1045.3a7.2,7.2 0 1,0 14.4,0a7.2,7.2 0 1,0 -14.4,0M245.1,1017.6a7.2,7.2 0 1,0 14.4,0a7.2,7.2 0 1,0 -14.4,0M292.2,1014.6a7.2,7.2 0 1,0 14.4,0a7.2,7.2 0 1,0 -14.4,0M325.1,1034.1a7.2,7.2 0 1,0 14.4,0a7.2,7.2 0 1,0 -14.4,0M409.1,1000.0a7.2,7.2 0 1,0 14.4,0a7.2,7.2 0 1,0 -14.4,0M475.6,1025.7a7.2,7.2 0 1,0 14.4,0a7.2,7.2 0 1,0 -14.4,0M562.4,1041.0a7.2,7.2 0 1,0 14.4,0a7.2,7.2 0 1,0 -14.4,0M687.9,1020.0a7.2,7.2 0 1,0 14.4,0a7.2,7.2 0 1,0 -14.4,0M836.4,1021.1a7.2,7.2 0 1,0 14.4,0a7.2,7.2 0 1,0 -14.4,0M123.2,1178.6a7.2,7.2 0 1,0 14.4,0a7.2,7.2 0 1,0 -14.4,0M146.6,1135.1a7.2,7.2 0 1,0 14.4,0a7.2,7.2 0 1,0 -14.4,0M180.4,1070.9a7.2,7.2 0 1,0 14.4,0a7.2,7.2 0 1,0 -14.4,0M202.3,1071.7a7.2,7.2 0 1,0 14.4,0a7.2,7.2 0 1,0 -14.4,0M223.4,1073.8a7.2,7.2 0 1,0 14.4,0a7.2,7.2 0 1,0 -14.4,0M244.8,1023.3a7.2,7.2 0 1,0 14.4,0a7.2,7.2 0 1,0 -14.4,0M292.8,988.4a7.2,7.2 0 1,0 14.4,0a7.2,7.2 0 1,0 -14.4,0M321.0,1009.9a7.2,7.2 0 1,0 14.4,0a7.2,7.2 0 1,0 -14.4,0M415.4,1015.4a7.2,7.2 0 1,0 14.4,0a7.2,7.2 0 1,0 -14.4,0M476.5,1025.5a7.2,7.2 0 1,0 14.4,0a7.2,7.2 0 1,0 -14.4,0M562.1,1067.9a7.2,7.2 0 1,0 14.4,0a7.2,7.2 0 1,0 -14.4,0M689.0,1007.4a7.2,7.2 0 1,0 14.4,0a7.2,7.2 0 1,0 -14.4,0M835.6,1018.5a7.2,7.2 0 1,0 14.4,0a7.2,7.2 0 1,0 -14.4,0M107.0,1215.4a7.2,7.2 0 1,0 14.4,0a7.2,7.2 0 1,0 -14.4,0M119.2,1148.3a7.2,7.2 0 1,0 14.4,0a7.2,7.2 0 1,0 -14.4,0M142.3,1113.8a7.2,7.2 0 1,0 14.4,0a7.2,7.2 0 1,0 -14.4,0M169.4,1029.9a7.2,7.2 0 1,0 14.4,0a7.2,7.2 0 1,0 -14.4,0M197.6,1026.8a7.2,7.2 0 1,0 14.4,0a7.2,7.2 0 1,0 -14.4,0M228.9,1052.6a7.2,7.2 0 1,0 14.4,0a7.2,7.2 0 1,0 -14.4,0M243.8,992.4a7.2,7.2 0 1,0 14.4,0a7.2,7.2 0 1,0 -14.4,0M292.8,1009.7a7.2,7.2 0 1,0 14.4,0a7.2,7.2 0 1,0 -14.4,0M319.7,1010.8a7.2,7.2 0 1,0 14.4,0a7.2,7.2 0 1,0 -14.4,0M409.8,1027.8a7.2,7.2 0 1,0 14.4,0a7.2,7.2 0 1,0 -14.4,0M482.0,1028.2a7.2,7.2 0 1,0 14.4,0a7.2,7.2 0 1,0 -14.4,0M567.6,1027.4a7.2,7.2 0 1,0 14.4,0a7.2,7.2 0 1,0 -14.4,0M686.1,1020.4a7.2,7.2 0 1,0 14.4,0a7.2,7.2 0 1,0 -14.4,0M835.2,1020.1a7.2,7.2 0 1,0 14.4,0a7.2,7.2 0 1,0 -14.4,0M102.3,1187.7a7.2,7.2 0 1,0 14.4,0a7.2,7.2 0 1,0 -14.4,0M125.9,1119.6a7.2,7.2 0 1,0 14.4,0a7.2,7.2 0 1,0 -14.4,0M162.8,1057.4a7.2,7.2 0 1,0 14.4,0a7.2,7.2 0 1,0 -14.4,0M183.7,1050.2a7.2,7.2 0 1,0 14.4,0a7.2,7.2 0 1,0 -14.4,0M198.0,1037.1a7.2,7.2 0 1,0 14.4,0a7.2,7.2 0 1,0 -14.4,0M220.3,1024.5a7.2,7.2 0 1,0 14.4,0a7.2,7.2 0 1,0 -14.4,0M247.6,1045.9a7.2,7.2 0 1,0 14.4,0a7.2,7.2 0 1,0 -14.4,0M287.1,987.9a7.2,7.2 0 1,0 14.4,0a7.2,7.2 0 1,0 -14.4,0M328.5,1021.6a7.2,7.2 0 1,0 14.4,0a7.2,7.2 0 1,0 -14.4,0M407.6,1014.6a7.2,7.2 0 1,0 14.4,0a7.2,7.2 0 1,0 -14.4,0M481.8,1024.0a7.2,7.2 0 1,0 14.4,0a7.2,7.2 0 1,0 -14.4,0M566.8,1034.8a7.2,7.2 0 1,0 14.4,0a7.2,7.2 0 1,0 -14.4,0M689.6,1035.3a7.2,7.2 0 1,0 14.4,0a7.2,7.2 0 1,0 -14.4,0M836.5,1021.0a7.2,7.2 0 1,0 14.4,0a7.2,7.2 0 1,0 -14.4,0M105.2,1104.8a7.2,7.2 0 1,0 14.4,0a7.2,7.2 0 1,0 -14.4,0M127.8,1037.5a7.2,7.2 0 1,0 14.4,0a7.2,7.2 0 1,0 -14.4,0M150.4,1029.7a7.2,7.2 0 1,0 14.4,0a7.2,7.2 0 1,0 -14.4,0M179.2,1019.9a7.2,7.2 0 1,0 14.4,0a7.2,7.2 0 1,0 -14.4,0M195.7,1022.8a7.2,7.2 0 1,0 14.4,0a7.2,7.2 0 1,0 -14.4,0M220.3,1025.7a7.2,7.2 0 1,0 14.4,0a7.2,7.2 0 1,0 -14.4,0M245.3,1006.0a7.2,7.2 0 1,0 14.4,0a7.2,7.2 0 1,0 -14.4,0M282.9,986.2a7.2,7.2 0 1,0 14.4,0a7.2,7.2 0 1,0 -14.4,0M328.0,1039.6a7.2,7.2 0 1,0 14.4,0a7.2,7.2 0 1,0 -14.4,0M412.5,1000.3a7.2,7.2 0 1,0 14.4,0a7.2,7.2 0 1,0 -14.4,0M477.4,1014.4a7.2,7.2 0 1,0 14.4,0a7.2,7.2 0 1,0 -14.4,0M563.7,1053.1a7.2,7.2 0 1,0 14.4,0a7.2,7.2 0 1,0 -14.4,0M691.1,1027.3a7.2,7.2 0 1,0 14.4,0a7.2,7.2 0 1,0 -14.4,0M836.0,1020.6a7.2,7.2 0 1,0 14.4,0a7.2,7.2 0 1,0 -14.4,0M121.8,1138.1a7.2,7.2 0 1,0 14.4,0a7.2,7.2 0 1,0 -14.4,0M146.7,1074.1a7.2,7.2 0 1,0 14.4,0a7.2,7.2 0 1,0 -14.4,0M163.5,1054.6a7.2,7.2 0 1,0 14.4,0a7.2,7.2 0 1,0 -14.4,0M197.3,1046.4a7.2,7.2 0 1,0 14.4,0a7.2,7.2 0 1,0 -14.4,0M225.5,1011.9a7.2,7.2 0 1,0 14.4,0a7.2,7.2 0 1,0 -14.4,0M244.5,1026.9a7.2,7.2 0 1,0 14.4,0a7.2,7.2 0 1,0 -14.4,0M284.9,1045.0a7.2,7.2 0 1,0 14.4,0a7.2,7.2 0 1,0 -14.4,0M319.7,1006.7a7.2,7.2 0 1,0 14.4,0a7.2,7.2 0 1,0 -14.4,0M415.1,1012.9a7.2,7.2 0 1,0 14.4,0a7.2,7.2 0 1,0 -14.4,0M479.5,999.1a7.2,7.2 0 1,0 14.4,0a7.2,7.2 0 1,0 -14.4,0M560.6,1008.4a7.2,7.2 0 1,0 14.4,0a7.2,7.2 0 1,0 -14.4,0M683.0,1028.6a7.2,7.2 0 1,0 14.4,0a7.2,7.2 0 1,0 -14.4,0M835.8,1019.5a7.2,7.2 0 1,0 14.4,0a7.2,7.2 0 1,0 -14.4,0M133.3,1144.7a7.2,7.2 0 1,0 14.4,0a7.2,7.2 0 1,0 -14.4,0M144.2,1089.9a7.2,7.2 0 1,0 14.4,0a7.2,7.2 0 1,0 -14.4,0M176.7,1046.6a7.2,7.2 0 1,0 14.4,0a7.2,7.2 0 1,0 -14.4,0M197.8,1022.6a7.2,7.2 0 1,0 14.4,0a7.2,7.2 0 1,0 -14.4,0M223.4,1031.3a7.2,7.2 0 1,0 14.4,0a7.2,7.2 0 1,0 -14.4,0M244.1,1057.5a7.2,7.2 0 1,0 14.4,0a7.2,7.2 0 1,0 -14.4,0M284.5,1045.5a7.2,7.2 0 1,0 14.4,0a7.2,7.2 0 1,0 -14.4,0M323.6,1021.5a7.2,7.2 0 1,0 14.4,0a7.2,7.2 0 1,0 -14.4,0M416.7,1007.0a7.2,7.2 0 1,0 14.4,0a7.2,7.2 0 1,0 -14.4,0M475.4,1016.5a7.2,7.2 0 1,0 14.4,0a7.2,7.2 0 1,0 -14.4,0M564.6,1011.4a7.2,7.2 0 1,0 14.4,0a7.2,7.2 0 1,0 -14.4,0M689.4,1025.5a7.2,7.2 0 1,0 14.4,0a7.2,7.2 0 1,0 -14.4,0M836.9,1019.9a7.2,7.2 0 1,0 14.4,0a7.2,7.2 0 1,0 -14.4,0M126.6,1079.7a7.2,7.2 0 1,0 14.4,0a7.2,7.2 0 1,0 -14.4,0M143.1,1056.3a7.2,7.2 0 1,0 14.4,0a7.2,7.2 0 1,0 -14.4,0M181.3,1032.2a7.2,7.2 0 1,0 14.4,0a7.2,7.2 0 1,0 -14.4,0M194.7,1003.8a7.2,7.2 0 1,0 14.4,0a7.2,7.2 0 1,0 -14.4,0M224.6,1017.5a7.2,7.2 0 1,0 14.4,0a7.2,7.2 0 1,0 -14.4,0M249.0,1006.7a7.2,7.2 0 1,0 14.4,0a7.2,7.2 0 1,0 -14.4,0M288.7,1026.7a7.2,7.2 0 1,0 14.4,0a7.2,7.2 0 1,0 -14.4,0M320.9,1018.1a7.2,7.2 0 1,0 14.4,0a7.2,7.2 0 1,0 -14.4,0M410.6,1001.2a7.2,7.2 0 1,0 14.4,0a7.2,7.2 0 1,0 -14.4,0M479.8,1015.2a7.2,7.2 0 1,0 14.4,0a7.2,7.2 0 1,0 -14.4,0M564.0,1017.3a7.2,7.2 0 1,0 14.4,0a7.2,7.2 0 1,0 -14.4,0M688.1,1036.5a7.2,7.2 0 1,0 14.4,0a7.2,7.2 0 1,0 -14.4,0M835.9,1021.6a7.2,7.2 0 1,0 14.4,0a7.2,7.2 0 1,0 -14.4,0M129.1,1056.2a7.2,7.2 0 1,0 14.4,0a7.2,7.2 0 1,0 -14.4,0M146.5,1045.8a7.2,7.2 0 1,0 14.4,0a7.2,7.2 0 1,0 -14.4,0M184.3,998.3a7.2,7.2 0 1,0 14.4,0a7.2,7.2 0 1,0 -14.4,0M199.3,1015.0a7.2,7.2 0 1,0 14.4,0a7.2,7.2 0 1,0 -14.4,0M228.9,1027.2a7.2,7.2 0 1,0 14.4,0a7.2,7.2 0 1,0 -14.4,0M253.5,1022.9a7.2,7.2 0 1,0 14.4,0a7.2,7.2 0 1,0 -14.4,0M283.0,1017.1a7.2,7.2 0 1,0 14.4,0a7.2,7.2 0 1,0 -14.4,0M326.8,1001.1a7.2,7.2 0 1,0 14.4,0a7.2,7.2 0 1,0 -14.4,0M416.8,1028.3a7.2,7.2 0 1,0 14.4,0a7.2,7.2 0 1,0 -14.4,0M475.0,1018.7a7.2,7.2 0 1,0 14.4,0a7.2,7.2 0 1,0 -14.4,0M563.3,1026.9a7.2,7.2 0 1,0 14.4,0a7.2,7.2 0 1,0 -14.4,0M689.0,1038.1a7.2,7.2 0 1,0 14.4,0a7.2,7.2 0 1,0 -14.4,0M835.4,1019.0a7.2,7.2 0 1,0 14.4,0a7.2,7.2 0 1,0 -14.4,0M120.8,1042.2a7.2,7.2 0 1,0 14.4,0a7.2,7.2 0 1,0 -14.4,0M150.9,1006.0a7.2,7.2 0 1,0 14.4,0a7.2,7.2 0 1,0 -14.4,0M180.4,1030.6a7.2,7.2 0 1,0 14.4,0a7.2,7.2 0 1,0 -14.4,0M196.5,1034.0a7.2,7.2 0 1,0 14.4,0a7.2,7.2 0 1,0 -14.4,0M229.3,1008.0a7.2,7.2 0 1,0 14.4,0a7.2,7.2 0 1,0 -14.4,0M249.4,1002.9a7.2,7.2 0 1,0 14.4,0a7.2,7.2 0 1,0 -14.4,0M285.4,1014.5a7.2,7.2 0 1,0 14.4,0a7.2,7.2 0 1,0 -14.4,0M326.5,1024.7a7.2,7.2 0 1,0 14.4,0a7.2,7.2 0 1,0 -14.4,0M410.8,1019.2a7.2,7.2 0 1,0 14.4,0a7.2,7.2 0 1,0 -14.4,0M476.0,1020.1a7.2,7.2 0 1,0 14.4,0a7.2,7.2 0 1,0 -14.4,0M566.9,1026.3a7.2,7.2 0 1,0 14.4,0a7.2,7.2 0 1,0 -14.4,0M682.5,1012.5a7.2,7.2 0 1,0 14.4,0a7.2,7.2 0 1,0 -14.4,0M836.6,1019.9a7.2,7.2 0 1,0 14.4,0a7.2,7.2 0 1,0 -14.4,0M98.2,1133.9a7.2,7.2 0 1,0 14.4,0a7.2,7.2 0 1,0 -14.4,0M117.6,1085.3a7.2,7.2 0 1,0 14.4,0a7.2,7.2 0 1,0 -14.4,0M156.1,1009.8a7.2,7.2 0 1,0 14.4,0a7.2,7.2 0 1,0 -14.4,0M182.0,1041.9a7.2,7.2 0 1,0 14.4,0a7.2,7.2 0 1,0 -14.4,0M202.8,1020.7a7.2,7.2 0 1,0 14.4,0a7.2,7.2 0 1,0 -14.4,0M222.2,1004.5a7.2,7.2 0 1,0 14.4,0a7.2,7.2 0 1,0 -14.4,0M245.5,1020.9a7.2,7.2 0 1,0 14.4,0a7.2,7.2 0 1,0 -14.4,0M281.1,1015.2a7.2,7.2 0 1,0 14.4,0a7.2,7.2 0 1,0 -14.4,0M325.1,1002.5a7.2,7.2 0 1,0 14.4,0a7.2,7.2 0 1,0 -14.4,0M412.3,1016.9a7.2,7.2 0 1,0 14.4,0a7.2,7.2 0 1,0 -14.4,0M477.6,1028.1a7.2,7.2 0 1,0 14.4,0a7.2,7.2 0 1,0 -14.4,0M566.0,992.5a7.2,7.2 0 1,0 14.4,0a7.2,7.2 0 1,0 -14.4,0M686.2,1011.5a7.2,7.2 0 1,0 14.4,0a7.2,7.2 0 1,0 -14.4,0M836.8,1018.7a7.2,7.2 0 1,0 14.4,0a7.2,7.2 0 1,0 -14.4,0M101.9,1202.3a7.2,7.2 0 1,0 14.4,0a7.2,7.2 0 1,0 -14.4,0M117.8,1159.6a7.2,7.2 0 1,0 14.4,0a7.2,7.2 0 1,0 -14.4,0M147.4,1109.2a7.2,7.2 0 1,0 14.4,0a7.2,7.2 0 1,0 -14.4,0M164.1,1046.7a7.2,7.2 0 1,0 14.4,0a7.2,7.2 0 1,0 -14.4,0M197.4,1036.9a7.2,7.2 0 1,0 14.4,0a7.2,7.2 0 1,0 -14.4,0M226.4,1004.7a7.2,7.2 0 1,0 14.4,0a7.2,7.2 0 1,0 -14.4,0M250.8,1034.3a7.2,7.2 0 1,0 14.4,0a7.2,7.2 0 1,0 -14.4,0M291.3,1027.0a7.2,7.2 0 1,0 14.4,0a7.2,7.2 0 1,0 -14.4,0M325.9,1012.1a7.2,7.2 0 1,0 14.4,0a7.2,7.2 0 1,0 -14.4,0M408.7,1027.5a7.2,7.2 0 1,0 14.4,0a7.2,7.2 0 1,0 -14.4,0M479.5,1039.4a7.2,7.2 0 1,0 14.4,0a7.2,7.2 0 1,0 -14.4,0M564.1,1008.8a7.2,7.2 0 1,0 14.4,0a7.2,7.2 0 1,0 -14.4,0M689.3,1038.3a7.2,7.2 0 1,0 14.4,0a7.2,7.2 0 1,0 -14.4,0M836.1,1020.4a7.2,7.2 0 1,0 14.4,0a7.2,7.2 0 1,0 -14.4,0M133.3,1141.3a7.2,7.2 0 1,0 14.4,0a7.2,7.2 0 1,0 -14.4,0M145.5,1121.9a7.2,7.2 0 1,0 14.4,0a7.2,7.2 0 1,0 -14.4,0M163.9,1087.3a7.2,7.2 0 1,0 14.4,0a7.2,7.2 0 1,0 -14.4,0M194.6,1045.4a7.2,7.2 0 1,0 14.4,0a7.2,7.2 0 1,0 -14.4,0M228.6,1037.8a7.2,7.2 0 1,0 14.4,0a7.2,7.2 0 1,0 -14.4,0M246.5,1022.4a7.2,7.2 0 1,0 14.4,0a7.2,7.2 0 1,0 -14.4,0M282.7,1026.6a7.2,7.2 0 1,0 14.4,0a7.2,7.2 0 1,0 -14.4,0M317.5,995.9a7.2,7.2 0 1,0 14.4,0a7.2,7.2 0 1,0 -14.4,0M405.9,1014.7a7.2,7.2 0 1,0 14.4,0a7.2,7.2 0 1,0 -14.4,0M480.8,1011.4a7.2,7.2 0 1,0 14.4,0a7.2,7.2 0 1,0 -14.4,0M565.9,1037.6a7.2,7.2 0 1,0 14.4,0a7.2,7.2 0 1,0 -14.4,0M688.5,1001.2a7.2,7.2 0 1,0 14.4,0a7.2,7.2 0 1,0 -14.4,0M836.4,1019.4a7.2,7.2 0 1,0 14.4,0a7.2,7.2 0 1,0 -14.4,0M104.6,1151.7a7.2,7.2 0 1,0 14.4,0a7.2,7.2 0 1,0 -14.4,0M131.0,1087.1a7.2,7.2 0 1,0 14.4,0a7.2,7.2 0 1,0 -14.4,0M150.3,1056.6a7.2,7.2 0 1,0 14.4,0a7.2,7.2 0 1,0 -14.4,0M170.3,1054.1a7.2,7.2 0 1,0 14.4,0a7.2,7.2 0 1,0 -14.4,0M205.0,1027.8a7.2,7.2 0 1,0 14.4,0a7.2,7.2 0 1,0 -14.4,0M223.4,1070.8a7.2,7.2 0 1,0 14.4,0a7.2,7.2 0 1,0 -14.4,0M252.7,1051.9a7.2,7.2 0 1,0 14.4,0a7.2,7.2 0 1,0 -14.4,0M288.6,1020.4a7.2,7.2 0 1,0 14.4,0a7.2,7.2 0 1,0 -14.4,0M317.5,1035.9a7.2,7.2 0 1,0 14.4,0a7.2,7.2 0 1,0 -14.4,0M410.5,998.9a7.2,7.2 0 1,0 14.4,0a7.2,7.2 0 1,0 -14.4,0M478.4,1022.2a7.2,7.2 0 1,0 14.4,0a7.2,7.2 0 1,0 -14.4,0M567.1,1010.8a7.2,7.2 0 1,0 14.4,0a7.2,7.2 0 1,0 -14.4,0M685.3,1005.0a7.2,7.2 0 1,0 14.4,0a7.2,7.2 0 1,0 -14.4,0M836.4,1019.5a7.2,7.2 0 1,0 14.4,0a7.2,7.2 0 1,0 -14.4,0M108.1,1174.4a7.2,7.2 0 1,0 14.4,0a7.2,7.2 0 1,0 -14.4,0M124.3,1116.5a7.2,7.2 0 1,0 14.4,0a7.2,7.2 0 1,0 -14.4,0M150.9,1091.6a7.2,7.2 0 1,0 14.4,0a7.2,7.2 0 1,0 -14.4,0M182.4,1067.3a7.2,7.2 0 1,0 14.4,0a7.2,7.2 0 1,0 -14.4,0M194.3,1035.9a7.2,7.2 0 1,0 14.4,0a7.2,7.2 0 1,0 -14.4,0M228.1,1055.1a7.2,7.2 0 1,0 14.4,0a7.2,7.2 0 1,0 -14.4,0M242.6,1057.4a7.2,7.2 0 1,0 14.4,0a7.2,7.2 0 1,0 -14.4,0M283.5,1017.0a7.2,7.2 0 1,0 14.4,0a7.2,7.2 0 1,0 -14.4,0M320.4,1051.1a7.2,7.2 0 1,0 14.4,0a7.2,7.2 0 1,0 -14.4,0M416.4,1013.9a7.2,7.2 0 1,0 14.4,0a7.2,7.2 0 1,0 -14.4,0M479.0,1027.2a7.2,7.2 0 1,0 14.4,0a7.2,7.2 0 1,0 -14.4,0M563.5,999.8a7.2,7.2 0 1,0 14.4,0a7.2,7.2 0 1,0 -14.4,0M690.2,1014.4a7.2,7.2 0 1,0 14.4,0a7.2,7.2 0 1,0 -14.4,0M835.5,1019.7a7.2,7.2 0 1,0 14.4,0a7.2,7.2 0 1,0 -14.4,0M136.1,1092.5a7.2,7.2 0 1,0 14.4,0a7.2,7.2 0 1,0 -14.4,0M158.0,1048.6a7.2,7.2 0 1,0 14.4,0a7.2,7.2 0 1,0 -14.4,0M165.5,1049.9a7.2,7.2 0 1,0 14.4,0a7.2,7.2 0 1,0 -14.4,0M205.0,1056.7a7.2,7.2 0 1,0 14.4,0a7.2,7.2 0 1,0 -14.4,0M218.5,1037.9a7.2,7.2 0 1,0 14.4,0a7.2,7.2 0 1,0 -14.4,0M247.0,1022.6a7.2,7.2 0 1,0 14.4,0a7.2,7.2 0 1,0 -14.4,0M293.0,1023.3a7.2,7.2 0 1,0 14.4,0a7.2,7.2 0 1,0 -14.4,0M326.9,1050.9a7.2,7.2 0 1,0 14.4,0a7.2,7.2 0 1,0 -14.4,0M414.4,1020.3a7.2,7.2 0 1,0 14.4,0a7.2,7.2 0 1,0 -14.4,0M478.4,1034.7a7.2,7.2 0 1,0 14.4,0a7.2,7.2 0 1,0 -14.4,0M561.8,1002.8a7.2,7.2 0 1,0 14.4,0a7.2,7.2 0 1,0 -14.4,0M687.9,1036.5a7.2,7.2 0 1,0 14.4,0a7.2,7.2 0 1,0 -14.4,0M835.3,1020.7a7.2,7.2 0 1,0 14.4,0a7.2,7.2 0 1,0 -14.4,0M111.1,1217.8a7.2,7.2 0 1,0 14.4,0a7.2,7.2 0 1,0 -14.4,0M132.4,1182.9a7.2,7.2 0 1,0 14.4,0a7.2,7.2 0 1,0 -14.4,0M157.7,1085.7a7.2,7.2 0 1,0 14.4,0a7.2,7.2 0 1,0 -14.4,0M176.9,1050.0a7.2,7.2 0 1,0 14.4,0a7.2,7.2 0 1,0 -14.4,0M196.3,1025.7a7.2,7.2 0 1,0 14.4,0a7.2,7.2 0 1,0 -14.4,0M222.4,1019.7a7.2,7.2 0 1,0 14.4,0a7.2,7.2 0 1,0 -14.4,0M247.9,1017.1a7.2,7.2 0 1,0 14.4,0a7.2,7.2 0 1,0 -14.4,0M288.6,1043.6a7.2,7.2 0 1,0 14.4,0a7.2,7.2 0 1,0 -14.4,0M322.2,1023.5a7.2,7.2 0 1,0 14.4,0a7.2,7.2 0 1,0 -14.4,0M413.7,1048.9a7.2,7.2 0 1,0 14.4,0a7.2,7.2 0 1,0 -14.4,0M482.9,1002.3a7.2,7.2 0 1,0 14.4,0a7.2,7.2 0 1,0 -14.4,0M561.7,1038.5a7.2,7.2 0 1,0 14.4,0a7.2,7.2 0 1,0 -14.4,0M688.1,1005.5a7.2,7.2 0 1,0 14.4,0a7.2,7.2 0 1,0 -14.4,0M836.5,1020.4a7.2,7.2 0 1,0 14.4,0a7.2,7.2 0 1,0 -14.4,0M111.2,1138.9a7.2,7.2 0 1,0 14.4,0a7.2,7.2 0 1,0 -14.4,0M130.6,1102.2a7.2,7.2 0 1,0 14.4,0a7.2,7.2 0 1,0 -14.4,0M150.0,1074.6a7.2,7.2 0 1,0 14.4,0a7.2,7.2 0 1,0 -14.4,0M169.1,1030.0a7.2,7.2 0 1,0 14.4,0a7.2,7.2 0 1,0 -14.4,0M196.0,1035.0a7.2,7.2 0 1,0 14.4,0a7.2,7.2 0 1,0 -14.4,0M226.3,1018.0a7.2,7.2 0 1,0 14.4,0a7.2,7.2 0 1,0 -14.4,0M253.7,1038.8a7.2,7.2 0 1,0 14.4,0a7.2,7.2 0 1,0 -14.4,0M287.5,1002.6a7.2,7.2 0 1,0 14.4,0a7.2,7.2 0 1,0 -14.4,0M319.9,1002.0a7.2,7.2 0 1,0 14.4,0a7.2,7.2 0 1,0 -14.4,0M415.2,1021.7a7.2,7.2 0 1,0 14.4,0a7.2,7.2 0 1,0 -14.4,0M478.0,1006.8a7.2,7.2 0 1,0 14.4,0a7.2,7.2 0 1,0 -14.4,0M562.0,1019.8a7.2,7.2 0 1,0 14.4,0a7.2,7.2 0 1,0 -14.4,0M683.3,1019.3a7.2,7.2 0 1,0 14.4,0a7.2,7.2 0 1,0 -14.4,0M836.5,1020.2a7.2,7.2 0 1,0 14.4,0a7.2,7.2 0 1,0 -14.4,0M108.4,1147.0a7.2,7.2 0 1,0 14.4,0a7.2,7.2 0 1,0 -14.4,0M135.4,1077.3a7.2,7.2 0 1,0 14.4,0a7.2,7.2 0 1,0 -14.4,0M160.6,1054.0a7.2,7.2 0 1,0 14.4,0a7.2,7.2 0 1,0 -14.4,0M164.5,1061.6a7.2,7.2 0 1,0 14.4,0a7.2,7.2 0 1,0 -14.4,0M203.4,1029.5a7.2,7.2 0 1,0 14.4,0a7.2,7.2 0 1,0 -14.4,0M228.3,1014.1a7.2,7.2 0 1,0 14.4,0a7.2,7.2 0 1,0 -14.4,0M251.9,997.7a7.2,7.2 0 1,0 14.4,0a7.2,7.2 0 1,0 -14.4,0M282.7,1038.1a7.2,7.2 0 1,0 14.4,0a7.2,7.2 0 1,0 -14.4,0M327.3,1047.2a7.2,7.2 0 1,0 14.4,0a7.2,7.2 0 1,0 -14.4,0M413.2,1013.6a7.2,7.2 0 1,0 14.4,0a7.2,7.2 0 1,0 -14.4,0M474.5,1000.2a7.2,7.2 0 1,0 14.4,0a7.2,7.2 0 1,0 -14.4,0M560.1,1046.8a7.2,7.2 0 1,0 14.4,0a7.2,7.2 0 1,0 -14.4,0M690.8,1009.4a7.2,7.2 0 1,0 14.4,0a7.2,7.2 0 1,0 -14.4,0M836.3,1020.2a7.2,7.2 0 1,0 14.4,0a7.2,7.2 0 1,0 -14.4,0M114.5,1125.5a7.2,7.2 0 1,0 14.4,0a7.2,7.2 0 1,0 -14.4,0M126.3,1105.9a7.2,7.2 0 1,0 14.4,0a7.2,7.2 0 1,0 -14.4,0M154.0,1069.2a7.2,7.2 0 1,0 14.4,0a7.2,7.2 0 1,0 -14.4,0M181.8,1032.8a7.2,7.2 0 1,0 14.4,0a7.2,7.2 0 1,0 -14.4,0M193.3,1046.0a7.2,7.2 0 1,0 14.4,0a7.2,7.2 0 1,0 -14.4,0M227.5,1063.4a7.2,7.2 0 1,0 14.4,0a7.2,7.2 0 1,0 -14.4,0M248.0,1023.2a7.2,7.2 0 1,0 14.4,0a7.2,7.2 0 1,0 -14.4,0M287.9,1031.7a7.2,7.2 0 1,0 14.4,0a7.2,7.2 0 1,0 -14.4,0M325.3,1030.3a7.2,7.2 0 1,0 14.4,0a7.2,7.2 0 1,0 -14.4,0M415.7,1037.1a7.2,7.2 0 1,0 14.4,0a7.2,7.2 0 1,0 -14.4,0M477.9,1017.6a7.2,7.2 0 1,0 14.4,0a7.2,7.2 0 1,0 -14.4,0M563.9,1033.5a7.2,7.2 0 1,0 14.4,0a7.2,7.2 0 1,0 -14.4,0M690.9,1014.5a7.2,7.2 0 1,0 14.4,0a7.2,7.2 0 1,0 -14.4,0M835.2,1020.6a7.2,7.2 0 1,0 14.4,0a7.2,7.2 0 1,0 -14.4,0M136.1,1035.6a7.2,7.2 0 1,0 14.4,0a7.2,7.2 0 1,0 -14.4,0M156.4,1042.1a7.2,7.2 0 1,0 14.4,0a7.2,7.2 0 1,0 -14.4,0M180.3,1030.9a7.2,7.2 0 1,0 14.4,0a7.2,7.2 0 1,0 -14.4,0M197.3,1046.5a7.2,7.2 0 1,0 14.4,0a7.2,7.2 0 1,0 -14.4,0M221.1,1039.7a7.2,7.2 0 1,0 14.4,0a7.2,7.2 0 1,0 -14.4,0M246.0,1039.7a7.2,7.2 0 1,0 14.4,0a7.2,7.2 0 1,0 -14.4,0M288.2,1033.6a7.2,7.2 0 1,0 14.4,0a7.2,7.2 0 1,0 -14.4,0M325.0,1037.9a7.2,7.2 0 1,0 14.4,0a7.2,7.2 0 1,0 -14.4,0M415.0,1032.2a7.2,7.2 0 1,0 14.4,0a7.2,7.2 0 1,0 -14.4,0M474.8,1042.9a7.2,7.2 0 1,0 14.4,0a7.2,7.2 0 1,0 -14.4,0M566.7,1014.1a7.2,7.2 0 1,0 14.4,0a7.2,7.2 0 1,0 -14.4,0M690.2,997.0a7.2,7.2 0 1,0 14.4,0a7.2,7.2 0 1,0 -14.4,0M836.1,1019.9a7.2,7.2 0 1,0 14.4,0a7.2,7.2 0 1,0 -14.4,0M117.7,1102.5a7.2,7.2 0 1,0 14.4,0a7.2,7.2 0 1,0 -14.4,0M121.2,1120.3a7.2,7.2 0 1,0 14.4,0a7.2,7.2 0 1,0 -14.4,0M148.9,1108.3a7.2,7.2 0 1,0 14.4,0a7.2,7.2 0 1,0 -14.4,0M172.5,1078.5a7.2,7.2 0 1,0 14.4,0a7.2,7.2 0 1,0 -14.4,0M197.2,1051.2a7.2,7.2 0 1,0 14.4,0a7.2,7.2 0 1,0 -14.4,0M222.5,1032.4a7.2,7.2 0 1,0 14.4,0a7.2,7.2 0 1,0 -14.4,0M250.1,1028.5a7.2,7.2 0 1,0 14.4,0a7.2,7.2 0 1,0 -14.4,0M292.4,1023.0a7.2,7.2 0 1,0 14.4,0a7.2,7.2 0 1,0 -14.4,0M317.8,997.3a7.2,7.2 0 1,0 14.4,0a7.2,7.2 0 1,0 -14.4,0M412.4,995.9a7.2,7.2 0 1,0 14.4,0a7.2,7.2 0 1,0 -14.4,0M474.8,1018.6a7.2,7.2 0 1,0 14.4,0a7.2,7.2 0 1,0 -14.4,0M561.1,1018.3a7.2,7.2 0 1,0 14.4,0a7.2,7.2 0 1,0 -14.4,0M689.5,1021.1a7.2,7.2 0 1,0 14.4,0a7.2,7.2 0 1,0 -14.4,0M836.2,1020.7a7.2,7.2 0 1,0 14.4,0a7.2,7.2 0 1,0 -14.4,0M95.0,1153.6a7.2,7.2 0 1,0 14.4,0a7.2,7.2 0 1,0 -14.4,0M129.1,1100.1a7.2,7.2 0 1,0 14.4,0a7.2,7.2 0 1,0 -14.4,0M157.6,1047.8a7.2,7.2 0 1,0 14.4,0a7.2,7.2 0 1,0 -14.4,0M173.3,1045.9a7.2,7.2 0 1,0 14.4,0a7.2,7.2 0 1,0 -14.4,0M204.6,1041.7a7.2,7.2 0 1,0 14.4,0a7.2,7.2 0 1,0 -14.4,0M220.3,1041.3a7.2,7.2 0 1,0 14.4,0a7.2,7.2 0 1,0 -14.4,0M254.0,1040.9a7.2,7.2 0 1,0 14.4,0a7.2,7.2 0 1,0 -14.4,0M289.8,1039.3a7.2,7.2 0 1,0 14.4,0a7.2,7.2 0 1,0 -14.4,0M317.3,1014.9a7.2,7.2 0 1,0 14.4,0a7.2,7.2 0 1,0 -14.4,0M405.6,1053.1a7.2,7.2 0 1,0 14.4,0a7.2,7.2 0 1,0 -14.4,0M480.4,1021.6a7.2,7.2 0 1,0 14.4,0a7.2,7.2 0 1,0 -14.4,0M567.5,1015.5a7.2,7.2 0 1,0 14.4,0a7.2,7.2 0 1,0 -14.4,0M682.8,1014.4a7.2,7.2 0 1,0 14.4,0a7.2,7.2 0 1,0 -14.4,0M835.7,1020.8a7.2,7.2 0 1,0 14.4,0a7.2,7.2 0 1,0 -14.4,0M111.5,1157.7a7.2,7.2 0 1,0 14.4,0a7.2,7.2 0 1,0 -14.4,0M134.6,1113.8a7.2,7.2 0 1,0 14.4,0a7.2,7.2 0 1,0 -14.4,0M150.5,1103.6a7.2,7.2 0 1,0 14.4,0a7.2,7.2 0 1,0 -14.4,0M178.1,1065.6a7.2,7.2 0 1,0 14.4,0a7.2,7.2 0 1,0 -14.4,0M200.7,1058.7a7.2,7.2 0 1,0 14.4,0a7.2,7.2 0 1,0 -14.4,0M228.2,1065.9a7.2,7.2 0 1,0 14.4,0a7.2,7.2 0 1,0 -14.4,0M252.2,1055.0a7.2,7.2 0 1,0 14.4,0a7.2,7.2 0 1,0 -14.4,0M284.5,1032.4a7.2,7.2 0 1,0 14.4,0a7.2,7.2 0 1,0 -14.4,0M317.2,1013.0a7.2,7.2 0 1,0 14.4,0a7.2,7.2 0 1,0 -14.4,0M408.6,1024.7a7.2,7.2 0 1,0 14.4,0a7.2,7.2 0 1,0 -14.4,0M478.3,1029.5a7.2,7.2 0 1,0 14.4,0a7.2,7.2 0 1,0 -14.4,0M565.4,1018.2a7.2,7.2 0 1,0 14.4,0a7.2,7.2 0 1,0 -14.4,0M689.6,1016.2a7.2,7.2 0 1,0 14.4,0a7.2,7.2 0 1,0 -14.4,0M836.7,1021.0a7.2,7.2 0 1,0 14.4,0a7.2,7.2 0 1,0 -14.4,0M132.7,1084.1a7.2,7.2 0 1,0 14.4,0a7.2,7.2 0 1,0 -14.4,0M161.3,1045.8a7.2,7.2 0 1,0 14.4,0a7.2,7.2 0 1,0 -14.4,0M174.6,1022.7a7.2,7.2 0 1,0 14.4,0a7.2,7.2 0 1,0 -14.4,0M199.1,1016.3a7.2,7.2 0 1,0 14.4,0a7.2,7.2 0 1,0 -14.4,0M224.4,1036.9a7.2,7.2 0 1,0 14.4,0a7.2,7.2 0 1,0 -14.4,0M244.6,1031.2a7.2,7.2 0 1,0 14.4,0a7.2,7.2 0 1,0 -14.4,0M283.4,979.8a7.2,7.2 0 1,0 14.4,0a7.2,7.2 0 1,0 -14.4,0M319.4,1011.7a7.2,7.2 0 1,0 14.4,0a7.2,7.2 0 1,0 -14.4,0M414.0,1030.0a7.2,7.2 0 1,0 14.4,0a7.2,7.2 0 1,0 -14.4,0M477.8,1024.6a7.2,7.2 0 1,0 14.4,0a7.2,7.2 0 1,0 -14.4,0M565.2,997.9a7.2,7.2 0 1,0 14.4,0a7.2,7.2 0 1,0 -14.4,0M685.8,1028.0a7.2,7.2 0 1,0 14.4,0a7.2,7.2 0 1,0 -14.4,0M836.0,1020.2a7.2,7.2 0 1,0 14.4,0a7.2,7.2 0 1,0 -14.4,0M117.5,1122.7a7.2,7.2 0 1,0 14.4,0a7.2,7.2 0 1,0 -14.4,0M134.2,1103.4a7.2,7.2 0 1,0 14.4,0a7.2,7.2 0 1,0 -14.4,0M152.3,1054.1a7.2,7.2 0 1,0 14.4,0a7.2,7.2 0 1,0 -14.4,0M183.6,1029.7a7.2,7.2 0 1,0 14.4,0a7.2,7.2 0 1,0 -14.4,0M204.4,1033.2a7.2,7.2 0 1,0 14.4,0a7.2,7.2 0 1,0 -14.4,0M218.0,1049.5a7.2,7.2 0 1,0 14.4,0a7.2,7.2 0 1,0 -14.4,0M249.6,996.9a7.2,7.2 0 1,0 14.4,0a7.2,7.2 0 1,0 -14.4,0M285.9,998.6a7.2,7.2 0 1,0 14.4,0a7.2,7.2 0 1,0 -14.4,0M318.6,1013.9a7.2,7.2 0 1,0 14.4,0a7.2,7.2 0 1,0 -14.4,0M417.1,1015.6a7.2,7.2 0 1,0 14.4,0a7.2,7.2 0 1,0 -14.4,0M476.8,1020.6a7.2,7.2 0 1,0 14.4,0a7.2,7.2 0 1,0 -14.4,0M565.2,1000.9a7.2,7.2 0 1,0 14.4,0a7.2,7.2 0 1,0 -14.4,0M688.0,1027.9a7.2,7.2 0 1,0 14.4,0a7.2,7.2 0 1,0 -14.4,0M836.9,1020.2a7.2,7.2 0 1,0 14.4,0a7.2,7.2 0 1,0 -14.4,0M99.1,1216.3a7.2,7.2 0 1,0 14.4,0a7.2,7.2 0 1,0 -14.4,0M120.7,1107.5a7.2,7.2 0 1,0 14.4,0a7.2,7.2 0 1,0 -14.4,0M145.4,1059.9a7.2,7.2 0 1,0 14.4,0a7.2,7.2 0 1,0 -14.4,0M177.9,1059.3a7.2,7.2 0 1,0 14.4,0a7.2,7.2 0 1,0 -14.4,0M193.4,1032.7a7.2,7.2 0 1,0 14.4,0a7.2,7.2 0 1,0 -14.4,0M226.0,1033.3a7.2,7.2 0 1,0 14.4,0a7.2,7.2 0 1,0 -14.4,0M244.7,1030.8a7.2,7.2 0 1,0 14.4,0a7.2,7.2 0 1,0 -14.4,0M281.4,1025.8a7.2,7.2 0 1,0 14.4,0a7.2,7.2 0 1,0 -14.4,0M328.5,1037.8a7.2,7.2 0 1,0 14.4,0a7.2,7.2 0 1,0 -14.4,0M408.1,1021.7a7.2,7.2 0 1,0 14.4,0a7.2,7.2 0 1,0 -14.4,0M483.0,1006.0a7.2,7.2 0 1,0 14.4,0a7.2,7.2 0 1,0 -14.4,0M568.0,1013.5a7.2,7.2 0 1,0 14.4,0a7.2,7.2 0 1,0 -14.4,0M690.2,1030.8a7.2,7.2 0 1,0 14.4,0a7.2,7.2 0 1,0 -14.4,0M835.4,1020.9a7.2,7.2 0 1,0 14.4,0a7.2,7.2 0 1,0 -14.4,0M122.6,1043.1a7.2,7.2 0 1,0 14.4,0a7.2,7.2 0 1,0 -14.4,0M146.9,1038.3a7.2,7.2 0 1,0 14.4,0a7.2,7.2 0 1,0 -14.4,0M173.7,1040.2a7.2,7.2 0 1,0 14.4,0a7.2,7.2 0 1,0 -14.4,0M196.8,1018.5a7.2,7.2 0 1,0 14.4,0a7.2,7.2 0 1,0 -14.4,0M220.4,1035.3a7.2,7.2 0 1,0 14.4,0a7.2,7.2 0 1,0 -14.4,0M244.8,1011.4a7.2,7.2 0 1,0 14.4,0a7.2,7.2 0 1,0 -14.4,0M285.5,1035.1a7.2,7.2 0 1,0 14.4,0a7.2,7.2 0 1,0 -14.4,0M329.3,1012.0a7.2,7.2 0 1,0 14.4,0a7.2,7.2 0 1,0 -14.4,0M417.6,1025.3a7.2,7.2 0 1,0 14.4,0a7.2,7.2 0 1,0 -14.4,0M482.9,1010.1a7.2,7.2 0 1,0 14.4,0a7.2,7.2 0 1,0 -14.4,0M560.9,998.7a7.2,7.2 0 1,0 14.4,0a7.2,7.2 0 1,0 -14.4,0M684.7,1015.0a7.2,7.2 0 1,0 14.4,0a7.2,7.2 0 1,0 -14.4,0M836.7,1020.0a7.2,7.2 0 1,0 14.4,0a7.2,7.2 0 1,0 -14.4,0M124.4,1101.4a7.2,7.2 0 1,0 14.4,0a7.2,7.2 0 1,0 -14.4,0M159.7,1048.4a7.2,7.2 0 1,0 14.4,0a7.2,7.2 0 1,0 -14.4,0M175.9,1029.3a7.2,7.2 0 1,0 14.4,0a7.2,7.2 0 1,0 -14.4,0M195.8,1039.2a7.2,7.2 0 1,0 14.4,0a7.2,7.2 0 1,0 -14.4,0M218.0,1031.8a7.2,7.2 0 1,0 14.4,0a7.2,7.2 0 1,0 -14.4,0M251.2,1015.2a7.2,7.2 0 1,0 14.4,0a7.2,7.2 0 1,0 -14.4,0M286.0,1004.2a7.2,7.2 0 1,0 14.4,0a7.2,7.2 0 1,0 -14.4,0M326.0,1019.9a7.2,7.2 0 1,0 14.4,0a7.2,7.2 0 1,0 -14.4,0M406.1,1004.3a7.2,7.2 0 1,0 14.4,0a7.2,7.2 0 1,0 -14.4,0M481.9,1005.1a7.2,7.2 0 1,0 14.4,0a7.2,7.2 0 1,0 -14.4,0M563.1,1029.6a7.2,7.2 0 1,0 14.4,0a7.2,7.2 0 1,0 -14.4,0M689.8,1000.5a7.2,7.2 0 1,0 14.4,0a7.2,7.2 0 1,0 -14.4,0M836.7,1018.7a7.2,7.2 0 1,0 14.4,0a7.2,7.2 0 1,0 -14.4,0M116.6,1119.6a7.2,7.2 0 1,0 14.4,0a7.2,7.2 0 1,0 -14.4,0M116.0,1143.5a7.2,7.2 0 1,0 14.4,0a7.2,7.2 0 1,0 -14.4,0M163.0,1065.0a7.2,7.2 0 1,0 14.4,0a7.2,7.2 0 1,0 -14.4,0M168.2,1058.6a7.2,7.2 0 1,0 14.4,0a7.2,7.2 0 1,0 -14.4,0M195.5,1047.4a7.2,7.2 0 1,0 14.4,0a7.2,7.2 0 1,0 -14.4,0M218.5,1047.7a7.2,7.2 0 1,0 14.4,0a7.2,7.2 0 1,0 -14.4,0M245.4,1029.2a7.2,7.2 0 1,0 14.4,0a7.2,7.2 0 1,0 -14.4,0M291.0,1011.9a7.2,7.2 0 1,0 14.4,0a7.2,7.2 0 1,0 -14.4,0M317.5,1008.5a7.2,7.2 0 1,0 14.4,0a7.2,7.2 0 1,0 -14.4,0M406.6,1041.2a7.2,7.2 0 1,0 14.4,0a7.2,7.2 0 1,0 -14.4,0M480.8,1030.4a7.2,7.2 0 1,0 14.4,0a7.2,7.2 0 1,0 -14.4,0M561.8,1007.5a7.2,7.2 0 1,0 14.4,0a7.2,7.2 0 1,0 -14.4,0M682.2,1025.4a7.2,7.2 0 1,0 14.4,0a7.2,7.2 0 1,0 -14.4,0M836.2,1021.0a7.2,7.2 0 1,0 14.4,0a7.2,7.2 0 1,0 -14.4,0M107.1,1168.0a7.2,7.2 0 1,0 14.4,0a7.2,7.2 0 1,0 -14.4,0M125.0,1132.7a7.2,7.2 0 1,0 14.4,0a7.2,7.2 0 1,0 -14.4,0M163.3,1067.4a7.2,7.2 0 1,0 14.4,0a7.2,7.2 0 1,0 -14.4,0M180.6,1043.1a7.2,7.2 0 1,0 14.4,0a7.2,7.2 0 1,0 -14.4,0M204.4,1037.7a7.2,7.2 0 1,0 14.4,0a7.2,7.2 0 1,0 -14.4,0M227.2,1010.9a7.2,7.2 0 1,0 14.4,0a7.2,7.2 0 1,0 -14.4,0M252.6,1035.3a7.2,7.2 0 1,0 14.4,0a7.2,7.2 0 1,0 -14.4,0M281.7,1020.9a7.2,7.2 0 1,0 14.4,0a7.2,7.2 0 1,0 -14.4,0M323.5,1024.0a7.2,7.2 0 1,0 14.4,0a7.2,7.2 0 1,0 -14.4,0M417.1,1025.2a7.2,7.2 0 1,0 14.4,0a7.2,7.2 0 1,0 -14.4,0M483.0,1030.2a7.2,7.2 0 1,0 14.4,0a7.2,7.2 0 1,0 -14.4,0M562.3,1027.8a7.2,7.2 0 1,0 14.4,0a7.2,7.2 0 1,0 -14.4,0M686.0,1027.5a7.2,7.2 0 1,0 14.4,0a7.2,7.2 0 1,0 -14.4,0M836.3,1019.6a7.2,7.2 0 1,0 14.4,0a7.2,7.2 0 1,0 -14.4,0M135.3,1078.6a7.2,7.2 0 1,0 14.4,0a7.2,7.2 0 1,0 -14.4,0M153.4,1053.0a7.2,7.2 0 1,0 14.4,0a7.2,7.2 0 1,0 -14.4,0M169.2,1067.4a7.2,7.2 0 1,0 14.4,0a7.2,7.2 0 1,0 -14.4,0M199.0,1025.4a7.2,7.2 0 1,0 14.4,0a7.2,7.2 0 1,0 -14.4,0M223.8,1002.9a7.2,7.2 0 1,0 14.4,0a7.2,7.2 0 1,0 -14.4,0M244.1,1037.4a7.2,7.2 0 1,0 14.4,0a7.2,7.2 0 1,0 -14.4,0M282.5,1031.6a7.2,7.2 0 1,0 14.4,0a7.2,7.2 0 1,0 -14.4,0M318.8,1017.7a7.2,7.2 0 1,0 14.4,0a7.2,7.2 0 1,0 -14.4,0M409.0,1003.9a7.2,7.2 0 1,0 14.4,0a7.2,7.2 0 1,0 -14.4,0M478.2,1007.3a7.2,7.2 0 1,0 14.4,0a7.2,7.2 0 1,0 -14.4,0M562.7,1019.2a7.2,7.2 0 1,0 14.4,0a7.2,7.2 0 1,0 -14.4,0M684.3,1035.3a7.2,7.2 0 1,0 14.4,0a7.2,7.2 0 1,0 -14.4,0M835.3,1020.5a7.2,7.2 0 1,0 14.4,0a7.2,7.2 0 1,0 -14.4,0M94.1,1223.9a7.2,7.2 0 1,0 14.4,0a7.2,7.2 0 1,0 -14.4,0M134.2,1122.5a7.2,7.2 0 1,0 14.4,0a7.2,7.2 0 1,0 -14.4,0M151.9,1102.9a7.2,7.2 0 1,0 14.4,0a7.2,7.2 0 1,0 -14.4,0M164.6,1066.6a7.2,7.2 0 1,0 14.4,0a7.2,7.2 0 1,0 -14.4,0M198.0,1069.0a7.2,7.2 0 1,0 14.4,0a7.2,7.2 0 1,0 -14.4,0M222.6,1028.6a7.2,7.2 0 1,0 14.4,0a7.2,7.2 0 1,0 -14.4,0M251.3,1004.8a7.2,7.2 0 1,0 14.4,0a7.2,7.2 0 1,0 -14.4,0M282.3,1003.7a7.2,7.2 0 1,0 14.4,0a7.2,7.2 0 1,0 -14.4,0M319.9,1035.8a7.2,7.2 0 1,0 14.4,0a7.2,7.2 0 1,0 -14.4,0M417.1,1028.7a7.2,7.2 0 1,0 14.4,0a7.2,7.2 0 1,0 -14.4,0M481.2,1041.3a7.2,7.2 0 1,0 14.4,0a7.2,7.2 0 1,0 -14.4,0M561.5,1008.3a7.2,7.2 0 1,0 14.4,0a7.2,7.2 0 1,0 -14.4,0M685.2,1031.2a7.2,7.2 0 1,0 14.4,0a7.2,7.2 0 1,0 -14.4,0M835.7,1019.6a7.2,7.2 0 1,0 14.4,0a7.2,7.2 0 1,0 -14.4,0M109.5,1183.8a7.2,7.2 0 1,0 14.4,0a7.2,7.2 0 1,0 -14.4,0M122.6,1172.4a7.2,7.2 0 1,0 14.4,0a7.2,7.2 0 1,0 -14.4,0M159.2,1099.0a7.2,7.2 0 1,0 14.4,0a7.2,7.2 0 1,0 -14.4,0M181.5,1031.0a7.2,7.2 0 1,0 14.4,0a7.2,7.2 0 1,0 -14.4,0M199.4,1053.5a7.2,7.2 0 1,0 14.4,0a7.2,7.2 0 1,0 -14.4,0M222.7,1036.3a7.2,7.2 0 1,0 14.4,0a7.2,7.2 0 1,0 -14.4,0M244.5,1080.0a7.2,7.2 0 1,0 14.4,0a7.2,7.2 0 1,0 -14.4,0M284.8,1033.7a7.2,7.2 0 1,0 14.4,0a7.2,7.2 0 1,0 -14.4,0M318.9,1026.3a7.2,7.2 0 1,0 14.4,0a7.2,7.2 0 1,0 -14.4,0M412.5,1032.9a7.2,7.2 0 1,0 14.4,0a7.2,7.2 0 1,0 -14.4,0M479.8,1040.2a7.2,7.2 0 1,0 14.4,0a7.2,7.2 0 1,0 -14.4,0M560.8,993.1a7.2,7.2 0 1,0 14.4,0a7.2,7.2 0 1,0 -14.4,0M690.5,1009.3a7.2,7.2 0 1,0 14.4,0a7.2,7.2 0 1,0 -14.4,0M835.7,1019.8a7.2,7.2 0 1,0 14.4,0a7.2,7.2 0 1,0 -14.4,0M114.3,1088.3a7.2,7.2 0 1,0 14.4,0a7.2,7.2 0 1,0 -14.4,0M125.1,1095.3a7.2,7.2 0 1,0 14.4,0a7.2,7.2 0 1,0 -14.4,0M155.8,1057.2a7.2,7.2 0 1,0 14.4,0a7.2,7.2 0 1,0 -14.4,0M184.6,1033.8a7.2,7.2 0 1,0 14.4,0a7.2,7.2 0 1,0 -14.4,0M197.5,1045.0a7.2,7.2 0 1,0 14.4,0a7.2,7.2 0 1,0 -14.4,0M223.7,1030.0a7.2,7.2 0 1,0 14.4,0a7.2,7.2 0 1,0 -14.4,0M252.3,1037.9a7.2,7.2 0 1,0 14.4,0a7.2,7.2 0 1,0 -14.4,0M283.1,1031.6a7.2,7.2 0 1,0 14.4,0a7.2,7.2 0 1,0 -14.4,0M321.1,1008.4a7.2,7.2 0 1,0 14.4,0a7.2,7.2 0 1,0 -14.4,0M417.3,1016.9a7.2,7.2 0 1,0 14.4,0a7.2,7.2 0 1,0 -14.4,0M482.0,1020.8a7.2,7.2 0 1,0 14.4,0a7.2,7.2 0 1,0 -14.4,0M564.8,1021.4a7.2,7.2 0 1,0 14.4,0a7.2,7.2 0 1,0 -14.4,0M683.1,1037.8a7.2,7.2 0 1,0 14.4,0a7.2,7.2 0 1,0 -14.4,0M836.7,1020.8a7.2,7.2 0 1,0 14.4,0a7.2,7.2 0 1,0 -14.4,0M116.3,1134.0a7.2,7.2 0 1,0 14.4,0a7.2,7.2 0 1,0 -14.4,0M136.8,1083.0a7.2,7.2 0 1,0 14.4,0a7.2,7.2 0 1,0 -14.4,0M154.7,1061.1a7.2,7.2 0 1,0 14.4,0a7.2,7.2 0 1,0 -14.4,0M172.2,1057.3a7.2,7.2 0 1,0 14.4,0a7.2,7.2 0 1,0 -14.4,0M194.8,1004.2a7.2,7.2 0 1,0 14.4,0a7.2,7.2 0 1,0 -14.4,0M219.1,1005.9a7.2,7.2 0 1,0 14.4,0a7.2,7.2 0 1,0 -14.4,0M251.6,1037.3a7.2,7.2 0 1,0 14.4,0a7.2,7.2 0 1,0 -14.4,0M282.3,1016.9a7.2,7.2 0 1,0 14.4,0a7.2,7.2 0 1,0 -14.4,0M318.4,1050.9a7.2,7.2 0 1,0 14.4,0a7.2,7.2 0 1,0 -14.4,0M407.5,1037.6a7.2,7.2 0 1,0 14.4,0a7.2,7.2 0 1,0 -14.4,0M479.2,1020.2a7.2,7.2 0 1,0 14.4,0a7.2,7.2 0 1,0 -14.4,0M567.6,1016.1a7.2,7.2 0 1,0 14.4,0a7.2,7.2 0 1,0 -14.4,0M687.7,1031.9a7.2,7.2 0 1,0 14.4,0a7.2,7.2 0 1,0 -14.4,0M836.6,1018.6a7.2,7.2 0 1,0 14.4,0a7.2,7.2 0 1,0 -14.4,0M135.0,1059.5a7.2,7.2 0 1,0 14.4,0a7.2,7.2 0 1,0 -14.4,0M147.6,1062.0a7.2,7.2 0 1,0 14.4,0a7.2,7.2 0 1,0 -14.4,0M171.8,1058.4a7.2,7.2 0 1,0 14.4,0a7.2,7.2 0 1,0 -14.4,0M202.1,1035.2a7.2,7.2 0 1,0 14.4,0a7.2,7.2 0 1,0 -14.4,0M219.9,1006.9a7.2,7.2 0 1,0 14.4,0a7.2,7.2 0 1,0 -14.4,0M246.1,1003.9a7.2,7.2 0 1,0 14.4,0a7.2,7.2 0 1,0 -14.4,0M291.7,1017.7a7.2,7.2 0 1,0 14.4,0a7.2,7.2 0 1,0 -14.4,0M323.1,1010.4a7.2,7.2 0 1,0 14.4,0a7.2,7.2 0 1,0 -14.4,0M415.1,1026.8a7.2,7.2 0 1,0 14.4,0a7.2,7.2 0 1,0 -14.4,0M476.7,1031.1a7.2,7.2 0 1,0 14.4,0a7.2,7.2 0 1,0 -14.4,0M561.6,1011.0a7.2,7.2 0 1,0 14.4,0a7.2,7.2 0 1,0 -14.4,0M685.4,1014.2a7.2,7.2 0 1,0 14.4,0a7.2,7.2 0 1,0 -14.4,0M835.4,1021.6a7.2,7.2 0 1,0 14.4,0a7.2,7.2 0 1,0 -14.4,0M109.1,1116.1a7.2,7.2 0 1,0 14.4,0a7.2,7.2 0 1,0 -14.4,0M136.0,1081.1a7.2,7.2 0 1,0 14.4,0a7.2,7.2 0 1,0 -14.4,0M146.8,1044.3a7.2,7.2 0 1,0 14.4,0a7.2,7.2 0 1,0 -14.4,0M183.6,1059.1a7.2,7.2 0 1,0 14.4,0a7.2,7.2 0 1,0 -14.4,0M199.5,1043.2a7.2,7.2 0 1,0 14.4,0a7.2,7.2 0 1,0 -14.4,0M220.0,1044.6a7.2,7.2 0 1,0 14.4,0a7.2,7.2 0 1,0 -14.4,0M247.8,1044.9a7.2,7.2 0 1,0 14.4,0a7.2,7.2 0 1,0 -14.4,0M282.6,1016.6a7.2,7.2 0 1,0 14.4,0a7.2,7.2 0 1,0 -14.4,0M325.8,1017.4a7.2,7.2 0 1,0 14.4,0a7.2,7.2 0 1,0 -14.4,0M408.6,1024.0a7.2,7.2 0 1,0 14.4,0a7.2,7.2 0 1,0 -14.4,0M482.7,1025.9a7.2,7.2 0 1,0 14.4,0a7.2,7.2 0 1,0 -14.4,0M565.4,1031.8a7.2,7.2 0 1,0 14.4,0a7.2,7.2 0 1,0 -14.4,0M685.5,1020.2a7.2,7.2 0 1,0 14.4,0a7.2,7.2 0 1,0 -14.4,0M835.6,1020.1a7.2,7.2 0 1,0 14.4,0a7.2,7.2 0 1,0 -14.4,0M127.4,1093.7a7.2,7.2 0 1,0 14.4,0a7.2,7.2 0 1,0 -14.4,0M161.2,1087.1a7.2,7.2 0 1,0 14.4,0a7.2,7.2 0 1,0 -14.4,0M181.8,1040.7a7.2,7.2 0 1,0 14.4,0a7.2,7.2 0 1,0 -14.4,0M194.9,1029.2a7.2,7.2 0 1,0 14.4,0a7.2,7.2 0 1,0 -14.4,0M220.6,1053.9a7.2,7.2 0 1,0 14.4,0a7.2,7.2 0 1,0 -14.4,0M242.6,1025.3a7.2,7.2 0 1,0 14.4,0a7.2,7.2 0 1,0 -14.4,0M289.3,1024.8a7.2,7.2 0 1,0 14.4,0a7.2,7.2 0 1,0 -14.4,0M325.3,1026.7a7.2,7.2 0 1,0 14.4,0a7.2,7.2 0 1,0 -14.4,0M409.7,1018.5a7.2,7.2 0 1,0 14.4,0a7.2,7.2 0 1,0 -14.4,0M478.2,1009.2a7.2,7.2 0 1,0 14.4,0a7.2,7.2 0 1,0 -14.4,0M566.1,996.4a7.2,7.2 0 1,0 14.4,0a7.2,7.2 0 1,0 -14.4,0M688.5,1020.6a7.2,7.2 0 1,0 14.4,0a7.2,7.2 0 1,0 -14.4,0M835.6,1019.4a7.2,7.2 0 1,0 14.4,0a7.2,7.2 0 1,0 -14.4,0M104.8,1137.2a7.2,7.2 0 1,0 14.4,0a7.2,7.2 0 1,0 -14.4,0M116.5,1144.9a7.2,7.2 0 1,0 14.4,0a7.2,7.2 0 1,0 -14.4,0M160.6,1048.3a7.2,7.2 0 1,0 14.4,0a7.2,7.2 0 1,0 -14.4,0M176.4,1058.9a7.2,7.2 0 1,0 14.4,0a7.2,7.2 0 1,0 -14.4,0M193.8,1046.8a7.2,7.2 0 1,0 14.4,0a7.2,7.2 0 1,0 -14.4,0M220.2,1065.3a7.2,7.2 0 1,0 14.4,0a7.2,7.2 0 1,0 -14.4,0M243.6,1007.3a7.2,7.2 0 1,0 14.4,0a7.2,7.2 0 1,0 -14.4,0M290.7,1017.5a7.2,7.2 0 1,0 14.4,0a7.2,7.2 0 1,0 -14.4,0M319.7,1016.4a7.2,7.2 0 1,0 14.4,0a7.2,7.2 0 1,0 -14.4,0M416.6,1023.8a7.2,7.2 0 1,0 14.4,0a7.2,7.2 0 1,0 -14.4,0M481.3,1027.7a7.2,7.2 0 1,0 14.4,0a7.2,7.2 0 1,0 -14.4,0M560.8,1044.2a7.2,7.2 0 1,0 14.4,0a7.2,7.2 0 1,0 -14.4,0M688.4,1000.9a7.2,7.2 0 1,0 14.4,0a7.2,7.2 0 1,0 -14.4,0M835.8,1020.4a7.2,7.2 0 1,0 14.4,0a7.2,7.2 0 1,0 -14.4,0M100.7,1242.9a7.2,7.2 0 1,0 14.4,0a7.2,7.2 0 1,0 -14.4,0M122.3,1143.4a7.2,7.2 0 1,0 14.4,0a7.2,7.2 0 1,0 -14.4,0M145.3,1083.3a7.2,7.2 0 1,0 14.4,0a7.2,7.2 0 1,0 -14.4,0M178.5,1056.0a7.2,7.2 0 1,0 14.4,0a7.2,7.2 0 1,0 -14.4,0M201.5,1060.5a7.2,7.2 0 1,0 14.4,0a7.2,7.2 0 1,0 -14.4,0M220.1,1022.3a7.2,7.2 0 1,0 14.4,0a7.2,7.2 0 1,0 -14.4,0M245.2,1028.3a7.2,7.2 0 1,0 14.4,0a7.2,7.2 0 1,0 -14.4,0M287.3,1008.9a7.2,7.2 0 1,0 14.4,0a7.2,7.2 0 1,0 -14.4,0M322.6,1022.5a7.2,7.2 0 1,0 14.4,0a7.2,7.2 0 1,0 -14.4,0M416.8,1011.2a7.2,7.2 0 1,0 14.4,0a7.2,7.2 0 1,0 -14.4,0M477.7,1010.9a7.2,7.2 0 1,0 14.4,0a7.2,7.2 0 1,0 -14.4,0M562.8,1012.2a7.2,7.2 0 1,0 14.4,0a7.2,7.2 0 1,0 -14.4,0M690.2,1017.6a7.2,7.2 0 1,0 14.4,0a7.2,7.2 0 1,0 -14.4,0M835.4,1019.9a7.2,7.2 0 1,0 14.4,0a7.2,7.2 0 1,0 -14.4,0M136.4,1059.1a7.2,7.2 0 1,0 14.4,0a7.2,7.2 0 1,0 -14.4,0M154.5,1032.2a7.2,7.2 0 1,0 14.4,0a7.2,7.2 0 1,0 -14.4,0M165.7,1033.3a7.2,7.2 0 1,0 14.4,0a7.2,7.2 0 1,0 -14.4,0M199.3,1057.3a7.2,7.2 0 1,0 14.4,0a7.2,7.2 0 1,0 -14.4,0M222.6,1043.8a7.2,7.2 0 1,0 14.4,0a7.2,7.2 0 1,0 -14.4,0M244.6,1045.7a7.2,7.2 0 1,0 14.4,0a7.2,7.2 0 1,0 -14.4,0M287.7,1015.3a7.2,7.2 0 1,0 14.4,0a7.2,7.2 0 1,0 -14.4,0M317.2,1046.0a7.2,7.2 0 1,0 14.4,0a7.2,7.2 0 1,0 -14.4,0M416.6,1009.9a7.2,7.2 0 1,0 14.4,0a7.2,7.2 0 1,0 -14.4,0M480.3,996.5a7.2,7.2 0 1,0 14.4,0a7.2,7.2 0 1,0 -14.4,0M565.8,1032.8a7.2,7.2 0 1,0 14.4,0a7.2,7.2 0 1,0 -14.4,0M690.6,1024.4a7.2,7.2 0 1,0 14.4,0a7.2,7.2 0 1,0 -14.4,0M836.3,1019.2a7.2,7.2 0 1,0 14.4,0a7.2,7.2 0 1,0 -14.4,0M134.8,1128.6a7.2,7.2 0 1,0 14.4,0a7.2,7.2 0 1,0 -14.4,0M153.0,1062.4a7.2,7.2 0 1,0 14.4,0a7.2,7.2 0 1,0 -14.4,0M174.1,1029.5a7.2,7.2 0 1,0 14.4,0a7.2,7.2 0 1,0 -14.4,0M195.2,1024.2a7.2,7.2 0 1,0 14.4,0a7.2,7.2 0 1,0 -14.4,0M220.9,1054.4a7.2,7.2 0 1,0 14.4,0a7.2,7.2 0 1,0 -14.4,0M249.4,1036.9a7.2,7.2 0 1,0 14.4,0a7.2,7.2 0 1,0 -14.4,0M282.0,1037.7a7.2,7.2 0 1,0 14.4,0a7.2,7.2 0 1,0 -14.4,0M325.6,1040.5a7.2,7.2 0 1,0 14.4,0a7.2,7.2 0 1,0 -14.4,0M407.4,1012.7a7.2,7.2 0 1,0 14.4,0a7.2,7.2 0 1,0 -14.4,0M478.5,1014.3a7.2,7.2 0 1,0 14.4,0a7.2,7.2 0 1,0 -14.4,0M568.9,1010.3a7.2,7.2 0 1,0 14.4,0a7.2,7.2 0 1,0 -14.4,0M682.9,1025.5a7.2,7.2 0 1,0 14.4,0a7.2,7.2 0 1,0 -14.4,0M835.2,1019.8a7.2,7.2 0 1,0 14.4,0a7.2,7.2 0 1,0 -14.4,0M131.4,1054.1a7.2,7.2 0 1,0 14.4,0a7.2,7.2 0 1,0 -14.4,0M163.1,1021.1a7.2,7.2 0 1,0 14.4,0a7.2,7.2 0 1,0 -14.4,0M183.9,1020.6a7.2,7.2 0 1,0 14.4,0a7.2,7.2 0 1,0 -14.4,0M200.9,1004.5a7.2,7.2 0 1,0 14.4,0a7.2,7.2 0 1,0 -14.4,0M227.1,1031.9a7.2,7.2 0 1,0 14.4,0a7.2,7.2 0 1,0 -14.4,0M243.0,1035.6a7.2,7.2 0 1,0 14.4,0a7.2,7.2 0 1,0 -14.4,0M289.3,1038.7a7.2,7.2 0 1,0 14.4,0a7.2,7.2 0 1,0 -14.4,0M324.6,1024.0a7.2,7.2 0 1,0 14.4,0a7.2,7.2 0 1,0 -14.4,0M409.0,1008.0a7.2,7.2 0 1,0 14.4,0a7.2,7.2 0 1,0 -14.4,0M479.7,993.9a7.2,7.2 0 1,0 14.4,0a7.2,7.2 0 1,0 -14.4,0M568.8,1013.3a7.2,7.2 0 1,0 14.4,0a7.2,7.2 0 1,0 -14.4,0M686.5,1028.3a7.2,7.2 0 1,0 14.4,0a7.2,7.2 0 1,0 -14.4,0M836.3,1020.2a7.2,7.2 0 1,0 14.4,0a7.2,7.2 0 1,0 -14.4,0M115.5,1104.1a7.2,7.2 0 1,0 14.4,0a7.2,7.2 0 1,0 -14.4,0M128.3,1088.6a7.2,7.2 0 1,0 14.4,0a7.2,7.2 0 1,0 -14.4,0M144.0,1057.3a7.2,7.2 0 1,0 14.4,0a7.2,7.2 0 1,0 -14.4,0M172.2,1042.3a7.2,7.2 0 1,0 14.4,0a7.2,7.2 0 1,0 -14.4,0M194.2,1043.2a7.2,7.2 0 1,0 14.4,0a7.2,7.2 0 1,0 -14.4,0M222.6,1026.8a7.2,7.2 0 1,0 14.4,0a7.2,7.2 0 1,0 -14.4,0M252.8,1009.0a7.2,7.2 0 1,0 14.4,0a7.2,7.2 0 1,0 -14.4,0M287.8,1019.4a7.2,7.2 0 1,0 14.4,0a7.2,7.2 0 1,0 -14.4,0M325.9,1009.7a7.2,7.2 0 1,0 14.4,0a7.2,7.2 0 1,0 -14.4,0M414.7,1005.6a7.2,7.2 0 1,0 14.4,0a7.2,7.2 0 1,0 -14.4,0M475.5,1032.6a7.2,7.2 0 1,0 14.4,0a7.2,7.2 0 1,0 -14.4,0M569.1,995.9a7.2,7.2 0 1,0 14.4,0a7.2,7.2 0 1,0 -14.4,0M688.7,1034.1a7.2,7.2 0 1,0 14.4,0a7.2,7.2 0 1,0 -14.4,0M835.3,1020.9a7.2,7.2 0 1,0 14.4,0a7.2,7.2 0 1,0 -14.4,0M125.7,1060.1a7.2,7.2 0 1,0 14.4,0a7.2,7.2 0 1,0 -14.4,0M162.6,1028.4a7.2,7.2 0 1,0 14.4,0a7.2,7.2 0 1,0 -14.4,0M178.9,1050.5a7.2,7.2 0 1,0 14.4,0a7.2,7.2 0 1,0 -14.4,0M193.8,1006.8a7.2,7.2 0 1,0 14.4,0a7.2,7.2 0 1,0 -14.4,0M224.6,1005.8a7.2,7.2 0 1,0 14.4,0a7.2,7.2 0 1,0 -14.4,0M243.5,1028.5a7.2,7.2 0 1,0 14.4,0a7.2,7.2 0 1,0 -14.4,0M287.8,1000.5a7.2,7.2 0 1,0 14.4,0a7.2,7.2 0 1,0 -14.4,0M327.0,1008.3a7.2,7.2 0 1,0 14.4,0a7.2,7.2 0 1,0 -14.4,0M406.8,1032.4a7.2,7.2 0 1,0 14.4,0a7.2,7.2 0 1,0 -14.4,0M482.9,1018.0a7.2,7.2 0 1,0 14.4,0a7.2,7.2 0 1,0 -14.4,0M566.2,1020.9a7.2,7.2 0 1,0 14.4,0a7.2,7.2 0 1,0 -14.4,0M684.4,1048.3a7.2,7.2 0 1,0 14.4,0a7.2,7.2 0 1,0 -14.4,0M835.5,1020.2a7.2,7.2 0 1,0 14.4,0a7.2,7.2 0 1,0 -14.4,0M109.9,1149.0a7.2,7.2 0 1,0 14.4,0a7.2,7.2 0 1,0 -14.4,0M125.9,1094.5a7.2,7.2 0 1,0 14.4,0a7.2,7.2 0 1,0 -14.4,0M145.8,1082.7a7.2,7.2 0 1,0 14.4,0a7.2,7.2 0 1,0 -14.4,0M181.4,1051.1a7.2,7.2 0 1,0 14.4,0a7.2,7.2 0 1,0 -14.4,0M198.1,1026.7a7.2,7.2 0 1,0 14.4,0a7.2,7.2 0 1,0 -14.4,0M227.9,1031.9a7.2,7.2 0 1,0 14.4,0a7.2,7.2 0 1,0 -14.4,0M249.8,1015.3a7.2,7.2 0 1,0 14.4,0a7.2,7.2 0 1,0 -14.4,0M281.9,1009.1a7.2,7.2 0 1,0 14.4,0a7.2,7.2 0 1,0 -14.4,0M321.2,1033.6a7.2,7.2 0 1,0 14.4,0a7.2,7.2 0 1,0 -14.4,0M408.1,1020.7a7.2,7.2 0 1,0 14.4,0a7.2,7.2 0 1,0 -14.4,0M482.6,978.8a7.2,7.2 0 1,0 14.4,0a7.2,7.2 0 1,0 -14.4,0M565.5,1031.7a7.2,7.2 0 1,0 14.4,0a7.2,7.2 0 1,0 -14.4,0M682.5,1016.5a7.2,7.2 0 1,0 14.4,0a7.2,7.2 0 1,0 -14.4,0M835.4,1021.8a7.2,7.2 0 1,0 14.4,0a7.2,7.2 0 1,0 -14.4,0M128.3,1126.7a7.2,7.2 0 1,0 14.4,0a7.2,7.2 0 1,0 -14.4,0M161.0,1050.7a7.2,7.2 0 1,0 14.4,0a7.2,7.2 0 1,0 -14.4,0M183.4,1051.8a7.2,7.2 0 1,0 14.4,0a7.2,7.2 0 1,0 -14.4,0M201.6,1026.2a7.2,7.2 0 1,0 14.4,0a7.2,7.2 0 1,0 -14.4,0M221.0,1027.9a7.2,7.2 0 1,0 14.4,0a7.2,7.2 0 1,0 -14.4,0M251.6,1022.8a7.2,7.2 0 1,0 14.4,0a7.2,7.2 0 1,0 -14.4,0M290.1,1038.6a7.2,7.2 0 1,0 14.4,0a7.2,7.2 0 1,0 -14.4,0M323.4,1014.8a7.2,7.2 0 1,0 14.4,0a7.2,7.2 0 1,0 -14.4,0M413.2,1009.5a7.2,7.2 0 1,0 14.4,0a7.2,7.2 0 1,0 -14.4,0M477.6,1015.5a7.2,7.2 0 1,0 14.4,0a7.2,7.2 0 1,0 -14.4,0M565.1,1051.1a7.2,7.2 0 1,0 14.4,0a7.2,7.2 0 1,0 -14.4,0M685.8,1030.5a7.2,7.2 0 1,0 14.4,0a7.2,7.2 0 1,0 -14.4,0M835.2,1020.5a7.2,7.2 0 1,0 14.4,0a7.2,7.2 0 1,0 -14.4,0M127.3,1111.3a7.2,7.2 0 1,0 14.4,0a7.2,7.2 0 1,0 -14.4,0M151.6,1060.0a7.2,7.2 0 1,0 14.4,0a7.2,7.2 0 1,0 -14.4,0M181.9,1020.1a7.2,7.2 0 1,0 14.4,0a7.2,7.2 0 1,0 -14.4,0M194.1,1026.3a7.2,7.2 0 1,0 14.4,0a7.2,7.2 0 1,0 -14.4,0M223.2,1002.5a7.2,7.2 0 1,0 14.4,0a7.2,7.2 0 1,0 -14.4,0M253.3,997.8a7.2,7.2 0 1,0 14.4,0a7.2,7.2 0 1,0 -14.4,0M284.4,1009.4a7.2,7.2 0 1,0 14.4,0a7.2,7.2 0 1,0 -14.4,0M320.3,1014.8a7.2,7.2 0 1,0 14.4,0a7.2,7.2 0 1,0 -14.4,0M405.7,1013.5a7.2,7.2 0 1,0 14.4,0a7.2,7.2 0 1,0 -14.4,0M475.9,1040.2a7.2,7.2 0 1,0 14.4,0a7.2,7.2 0 1,0 -14.4,0M562.5,1044.3a7.2,7.2 0 1,0 14.4,0a7.2,7.2 0 1,0 -14.4,0M688.5,1020.3a7.2,7.2 0 1,0 14.4,0a7.2,7.2 0 1,0 -14.4,0M835.5,1021.3a7.2,7.2 0 1,0 14.4,0a7.2,7.2 0 1,0 -14.4,0M93.0,1171.2a7.2,7.2 0 1,0 14.4,0a7.2,7.2 0 1,0 -14.4,0M129.1,1074.1a7.2,7.2 0 1,0 14.4,0a7.2,7.2 0 1,0 -14.4,0M149.6,1055.4a7.2,7.2 0 1,0 14.4,0a7.2,7.2 0 1,0 -14.4,0M174.0,1046.6a7.2,7.2 0 1,0 14.4,0a7.2,7.2 0 1,0 -14.4,0M200.6,1050.7a7.2,7.2 0 1,0 14.4,0a7.2,7.2 0 1,0 -14.4,0M220.4,1031.4a7.2,7.2 0 1,0 14.4,0a7.2,7.2 0 1,0 -14.4,0M248.0,1034.7a7.2,7.2 0 1,0 14.4,0a7.2,7.2 0 1,0 -14.4,0M281.2,1028.9a7.2,7.2 0 1,0 14.4,0a7.2,7.2 0 1,0 -14.4,0M328.5,1026.3a7.2,7.2 0 1,0 14.4,0a7.2,7.2 0 1,0 -14.4,0M412.3,1043.1a7.2,7.2 0 1,0 14.4,0a7.2,7.2 0 1,0 -14.4,0M483.5,1014.8a7.2,7.2 0 1,0 14.4,0a7.2,7.2 0 1,0 -14.4,0M560.5,1057.9a7.2,7.2 0 1,0 14.4,0a7.2,7.2 0 1,0 -14.4,0M687.7,1052.8a7.2,7.2 0 1,0 14.4,0a7.2,7.2 0 1,0 -14.4,0M836.4,1020.5a7.2,7.2 0 1,0 14.4,0a7.2,7.2 0 1,0 -14.4,0M108.4,1203.2a7.2,7.2 0 1,0 14.4,0a7.2,7.2 0 1,0 -14.4,0M136.7,1114.6a7.2,7.2 0 1,0 14.4,0a7.2,7.2 0 1,0 -14.4,0M147.3,1090.6a7.2,7.2 0 1,0 14.4,0a7.2,7.2 0 1,0 -14.4,0M179.6,1070.0a7.2,7.2 0 1,0 14.4,0a7.2,7.2 0 1,0 -14.4,0M194.4,1084.8a7.2,7.2 0 1,0 14.4,0a7.2,7.2 0 1,0 -14.4,0M217.5,1047.9a7.2,7.2 0 1,0 14.4,0a7.2,7.2 0 1,0 -14.4,0M243.9,1051.2a7.2,7.2 0 1,0 14.4,0a7.2,7.2 0 1,0 -14.4,0M281.7,1026.1a7.2,7.2 0 1,0 14.4,0a7.2,7.2 0 1,0 -14.4,0M323.3,1025.0a7.2,7.2 0 1,0 14.4,0a7.2,7.2 0 1,0 -14.4,0M412.2,1026.1a7.2,7.2 0 1,0 14.4,0a7.2,7.2 0 1,0 -14.4,0M476.1,1017.3a7.2,7.2 0 1,0 14.4,0a7.2,7.2 0 1,0 -14.4,0M568.6,1023.9a7.2,7.2 0 1,0 14.4,0a7.2,7.2 0 1,0 -14.4,0M685.4,991.1a7.2,7.2 0 1,0 14.4,0a7.2,7.2 0 1,0 -14.4,0M835.4,1021.1a7.2,7.2 0 1,0 14.4,0a7.2,7.2 0 1,0 -14.4,0M102.2,1195.4a7.2,7.2 0 1,0 14.4,0a7.2,7.2 0 1,0 -14.4,0M120.0,1111.4a7.2,7.2 0 1,0 14.4,0a7.2,7.2 0 1,0 -14.4,0M158.6,1043.5a7.2,7.2 0 1,0 14.4,0a7.2,7.2 0 1,0 -14.4,0M177.2,1021.3a7.2,7.2 0 1,0 14.4,0a7.2,7.2 0 1,0 -14.4,0M196.9,1061.4a7.2,7.2 0 1,0 14.4,0a7.2,7.2 0 1,0 -14.4,0M229.3,1040.9a7.2,7.2 0 1,0 14.4,0a7.2,7.2 0 1,0 -14.4,0M244.9,1041.1a7.2,7.2 0 1,0 14.4,0a7.2,7.2 0 1,0 -14.4,0M288.0,1002.7a7.2,7.2 0 1,0 14.4,0a7.2,7.2 0 1,0 -14.4,0M319.1,991.2a7.2,7.2 0 1,0 14.4,0a7.2,7.2 0 1,0 -14.4,0M415.9,1054.1a7.2,7.2 0 1,0 14.4,0a7.2,7.2 0 1,0 -14.4,0M482.4,991.6a7.2,7.2 0 1,0 14.4,0a7.2,7.2 0 1,0 -14.4,0M562.5,996.0a7.2,7.2 0 1,0 14.4,0a7.2,7.2 0 1,0 -14.4,0M689.0,1007.0a7.2,7.2 0 1,0 14.4,0a7.2,7.2 0 1,0 -14.4,0M836.6,1019.2a7.2,7.2 0 1,0 14.4,0a7.2,7.2 0 1,0 -14.4,0M133.7,1029.5a7.2,7.2 0 1,0 14.4,0a7.2,7.2 0 1,0 -14.4,0M157.7,1045.2a7.2,7.2 0 1,0 14.4,0a7.2,7.2 0 1,0 -14.4,0M182.2,1023.6a7.2,7.2 0 1,0 14.4,0a7.2,7.2 0 1,0 -14.4,0M205.2,1016.9a7.2,7.2 0 1,0 14.4,0a7.2,7.2 0 1,0 -14.4,0M217.6,1016.6a7.2,7.2 0 1,0 14.4,0a7.2,7.2 0 1,0 -14.4,0M245.2,1001.9a7.2,7.2 0 1,0 14.4,0a7.2,7.2 0 1,0 -14.4,0M290.7,1028.0a7.2,7.2 0 1,0 14.4,0a7.2,7.2 0 1,0 -14.4,0M325.6,1020.7a7.2,7.2 0 1,0 14.4,0a7.2,7.2 0 1,0 -14.4,0M405.8,1009.1a7.2,7.2 0 1,0 14.4,0a7.2,7.2 0 1,0 -14.4,0M479.1,1026.5a7.2,7.2 0 1,0 14.4,0a7.2,7.2 0 1,0 -14.4,0M562.2,1003.5a7.2,7.2 0 1,0 14.4,0a7.2,7.2 0 1,0 -14.4,0M686.0,1035.2a7.2,7.2 0 1,0 14.4,0a7.2,7.2 0 1,0 -14.4,0M835.3,1020.2a7.2,7.2 0 1,0 14.4,0a7.2,7.2 0 1,0 -14.4,0M108.4,1140.3a7.2,7.2 0 1,0 14.4,0a7.2,7.2 0 1,0 -14.4,0M115.7,1146.3a7.2,7.2 0 1,0 14.4,0a7.2,7.2 0 1,0 -14.4,0M157.1,1060.8a7.2,7.2 0 1,0 14.4,0a7.2,7.2 0 1,0 -14.4,0M177.4,1033.4a7.2,7.2 0 1,0 14.4,0a7.2,7.2 0 1,0 -14.4,0M199.9,1042.0a7.2,7.2 0 1,0 14.4,0a7.2,7.2 0 1,0 -14.4,0M224.0,1046.2a7.2,7.2 0 1,0 14.4,0a7.2,7.2 0 1,0 -14.4,0M250.7,1038.6a7.2,7.2 0 1,0 14.4,0a7.2,7.2 0 1,0 -14.4,0M293.0,1004.1a7.2,7.2 0 1,0 14.4,0a7.2,7.2 0 1,0 -14.4,0M327.8,1004.4a7.2,7.2 0 1,0 14.4,0a7.2,7.2 0 1,0 -14.4,0M414.2,1000.3a7.2,7.2 0 1,0 14.4,0a7.2,7.2 0 1,0 -14.4,0M478.1,1013.8a7.2,7.2 0 1,0 14.4,0a7.2,7.2 0 1,0 -14.4,0M563.0,1031.7a7.2,7.2 0 1,0 14.4,0a7.2,7.2 0 1,0 -14.4,0M685.9,1023.8a7.2,7.2 0 1,0 14.4,0a7.2,7.2 0 1,0 -14.4,0M836.9,1020.2a7.2,7.2 0 1,0 14.4,0a7.2,7.2 0 1,0 -14.4,0M120.8,1185.4a7.2,7.2 0 1,0 14.4,0a7.2,7.2 0 1,0 -14.4,0M158.3,1066.3a7.2,7.2 0 1,0 14.4,0a7.2,7.2 0 1,0 -14.4,0M171.5,1073.0a7.2,7.2 0 1,0 14.4,0a7.2,7.2 0 1,0 -14.4,0M202.0,1050.5a7.2,7.2 0 1,0 14.4,0a7.2,7.2 0 1,0 -14.4,0M222.1,1029.9a7.2,7.2 0 1,0 14.4,0a7.2,7.2 0 1,0 -14.4,0M248.7,1044.8a7.2,7.2 0 1,0 14.4,0a7.2,7.2 0 1,0 -14.4,0M288.5,1025.2a7.2,7.2 0 1,0 14.4,0a7.2,7.2 0 1,0 -14.4,0M325.5,1020.3a7.2,7.2 0 1,0 14.4,0a7.2,7.2 0 1,0 -14.4,0M409.4,1011.8a7.2,7.2 0 1,0 14.4,0a7.2,7.2 0 1,0 -14.4,0M480.2,1036.7a7.2,7.2 0 1,0 14.4,0a7.2,7.2 0 1,0 -14.4,0M565.0,1040.2a7.2,7.2 0 1,0 14.4,0a7.2,7.2 0 1,0 -14.4,0M684.1,1007.1a7.2,7.2 0 1,0 14.4,0a7.2,7.2 0 1,0 -14.4,0M836.2,1020.0a7.2,7.2 0 1,0 14.4,0a7.2,7.2 0 1,0 -14.4,0M95.9,1197.9a7.2,7.2 0 1,0 14.4,0a7.2,7.2 0 1,0 -14.4,0M123.3,1117.8a7.2,7.2 0 1,0 14.4,0a7.2,7.2 0 1,0 -14.4,0M159.6,1062.8a7.2,7.2 0 1,0 14.4,0a7.2,7.2 0 1,0 -14.4,0M174.6,1031.8a7.2,7.2 0 1,0 14.4,0a7.2,7.2 0 1,0 -14.4,0M198.8,1025.7a7.2,7.2 0 1,0 14.4,0a7.2,7.2 0 1,0 -14.4,0M218.3,1007.7a7.2,7.2 0 1,0 14.4,0a7.2,7.2 0 1,0 -14.4,0M247.1,1026.1a7.2,7.2 0 1,0 14.4,0a7.2,7.2 0 1,0 -14.4,0M293.2,1032.1a7.2,7.2 0 1,0 14.4,0a7.2,7.2 0 1,0 -14.4,0M325.7,1017.6a7.2,7.2 0 1,0 14.4,0a7.2,7.2 0 1,0 -14.4,0M410.9,1025.5a7.2,7.2 0 1,0 14.4,0a7.2,7.2 0 1,0 -14.4,0M478.8,1015.9a7.2,7.2 0 1,0 14.4,0a7.2,7.2 0 1,0 -14.4,0M567.4,1006.4a7.2,7.2 0 1,0 14.4,0a7.2,7.2 0 1,0 -14.4,0M689.0,1023.1a7.2,7.2 0 1,0 14.4,0a7.2,7.2 0 1,0 -14.4,0M835.4,1020.0a7.2,7.2 0 1,0 14.4,0a7.2,7.2 0 1,0 -14.4,0M121.7,1126.8a7.2,7.2 0 1,0 14.4,0a7.2,7.2 0 1,0 -14.4,0M159.7,1073.4a7.2,7.2 0 1,0 14.4,0a7.2,7.2 0 1,0 -14.4,0M171.0,1026.2a7.2,7.2 0 1,0 14.4,0a7.2,7.2 0 1,0 -14.4,0M198.0,1048.8a7.2,7.2 0 1,0 14.4,0a7.2,7.2 0 1,0 -14.4,0M224.3,1043.7a7.2,7.2 0 1,0 14.4,0a7.2,7.2 0 1,0 -14.4,0M253.6,1019.0a7.2,7.2 0 1,0 14.4,0a7.2,7.2 0 1,0 -14.4,0M283.4,1050.2a7.2,7.2 0 1,0 14.4,0a7.2,7.2 0 1,0 -14.4,0M329.0,1015.8a7.2,7.2 0 1,0 14.4,0a7.2,7.2 0 1,0 -14.4,0M414.1,1046.0a7.2,7.2 0 1,0 14.4,0a7.2,7.2 0 1,0 -14.4,0M477.8,1022.1a7.2,7.2 0 1,0 14.4,0a7.2,7.2 0 1,0 -14.4,0M566.2,1023.4a7.2,7.2 0 1,0 14.4,0a7.2,7.2 0 1,0 -14.4,0M685.1,1017.9a7.2,7.2 0 1,0 14.4,0a7.2,7.2 0 1,0 -14.4,0M835.2,1020.0a7.2,7.2 0 1,0 14.4,0a7.2,7.2 0 1,0 -14.4,0M95.8,1269.2a7.2,7.2 0 1,0 14.4,0a7.2,7.2 0 1,0 -14.4,0M117.5,1173.7a7.2,7.2 0 1,0 14.4,0a7.2,7.2 0 1,0 -14.4,0M158.5,1056.2a7.2,7.2 0 1,0 14.4,0a7.2,7.2 0 1,0 -14.4,0M175.5,1035.9a7.2,7.2 0 1,0 14.4,0a7.2,7.2 0 1,0 -14.4,0M193.9,1037.4a7.2,7.2 0 1,0 14.4,0a7.2,7.2 0 1,0 -14.4,0M225.6,1027.5a7.2,7.2 0 1,0 14.4,0a7.2,7.2 0 1,0 -14.4,0M251.0,991.9a7.2,7.2 0 1,0 14.4,0a7.2,7.2 0 1,0 -14.4,0M286.9,1025.1a7.2,7.2 0 1,0 14.4,0a7.2,7.2 0 1,0 -14.4,0M317.8,1018.4a7.2,7.2 0 1,0 14.4,0a7.2,7.2 0 1,0 -14.4,0M413.9,1011.5a7.2,7.2 0 1,0 14.4,0a7.2,7.2 0 1,0 -14.4,0M478.3,1046.0a7.2,7.2 0 1,0 14.4,0a7.2,7.2 0 1,0 -14.4,0M565.4,1003.9a7.2,7.2 0 1,0 14.4,0a7.2,7.2 0 1,0 -14.4,0M691.2,1014.7a7.2,7.2 0 1,0 14.4,0a7.2,7.2 0 1,0 -14.4,0M836.6,1021.2a7.2,7.2 0 1,0 14.4,0a7.2,7.2 0 1,0 -14.4,0M117.5,1095.6a7.2,7.2 0 1,0 14.4,0a7.2,7.2 0 1,0 -14.4,0M116.6,1162.3a7.2,7.2 0 1,0 14.4,0a7.2,7.2 0 1,0 -14.4,0M149.2,1056.7a7.2,7.2 0 1,0 14.4,0a7.2,7.2 0 1,0 -14.4,0M174.9,1047.6a7.2,7.2 0 1,0 14.4,0a7.2,7.2 0 1,0 -14.4,0M198.3,1037.1a7.2,7.2 0 1,0 14.4,0a7.2,7.2 0 1,0 -14.4,0M224.2,1035.0a7.2,7.2 0 1,0 14.4,0a7.2,7.2 0 1,0 -14.4,0M246.3,1029.6a7.2,7.2 0 1,0 14.4,0a7.2,7.2 0 1,0 -14.4,0M284.4,1016.5a7.2,7.2 0 1,0 14.4,0a7.2,7.2 0 1,0 -14.4,0M326.9,1036.1a7.2,7.2 0 1,0 14.4,0a7.2,7.2 0 1,0 -14.4,0M409.0,1022.9a7.2,7.2 0 1,0 14.4,0a7.2,7.2 0 1,0 -14.4,0M480.9,1011.1a7.2,7.2 0 1,0 14.4,0a7.2,7.2 0 1,0 -14.4,0M567.4,1012.0a7.2,7.2 0 1,0 14.4,0a7.2,7.2 0 1,0 -14.4,0M687.5,1024.8a7.2,7.2 0 1,0 14.4,0a7.2,7.2 0 1,0 -14.4,0M835.9,1019.8a7.2,7.2 0 1,0 14.4,0a7.2,7.2 0 1,0 -14.4,0M123.4,1157.1a7.2,7.2 0 1,0 14.4,0a7.2,7.2 0 1,0 -14.4,0M145.7,1117.6a7.2,7.2 0 1,0 14.4,0a7.2,7.2 0 1,0 -14.4,0M164.5,1094.0a7.2,7.2 0 1,0 14.4,0a7.2,7.2 0 1,0 -14.4,0M201.8,1051.4a7.2,7.2 0 1,0 14.4,0a7.2,7.2 0 1,0 -14.4,0M217.7,1037.0a7.2,7.2 0 1,0 14.4,0a7.2,7.2 0 1,0 -14.4,0M252.5,1025.6a7.2,7.2 0 1,0 14.4,0a7.2,7.2 0 1,0 -14.4,0M284.6,1007.2a7.2,7.2 0 1,0 14.4,0a7.2,7.2 0 1,0 -14.4,0M320.0,1024.0a7.2,7.2 0 1,0 14.4,0a7.2,7.2 0 1,0 -14.4,0M412.5,1034.9a7.2,7.2 0 1,0 14.4,0a7.2,7.2 0 1,0 -14.4,0M477.4,1016.9a7.2,7.2 0 1,0 14.4,0a7.2,7.2 0 1,0 -14.4,0M565.2,1026.4a7.2,7.2 0 1,0 14.4,0a7.2,7.2 0 1,0 -14.4,0M683.5,1004.5a7.2,7.2 0 1,0 14.4,0a7.2,7.2 0 1,0 -14.4,0M836.8,1020.6a7.2,7.2 0 1,0 14.4,0a7.2,7.2 0 1,0 -14.4,0M95.4,1269.2a7.2,7.2 0 1,0 14.4,0a7.2,7.2 0 1,0 -14.4,0M126.1,1181.8a7.2,7.2 0 1,0 14.4,0a7.2,7.2 0 1,0 -14.4,0M160.8,1076.2a7.2,7.2 0 1,0 14.4,0a7.2,7.2 0 1,0 -14.4,0M176.2,1064.1a7.2,7.2 0 1,0 14.4,0a7.2,7.2 0 1,0 -14.4,0M199.9,1048.2a7.2,7.2 0 1,0 14.4,0a7.2,7.2 0 1,0 -14.4,0M218.3,1047.9a7.2,7.2 0 1,0 14.4,0a7.2,7.2 0 1,0 -14.4,0M244.0,1011.5a7.2,7.2 0 1,0 14.4,0a7.2,7.2 0 1,0 -14.4,0M284.3,1016.4a7.2,7.2 0 1,0 14.4,0a7.2,7.2 0 1,0 -14.4,0M328.1,1017.1a7.2,7.2 0 1,0 14.4,0a7.2,7.2 0 1,0 -14.4,0M415.7,1038.5a7.2,7.2 0 1,0 14.4,0a7.2,7.2 0 1,0 -14.4,0M476.5,1026.5a7.2,7.2 0 1,0 14.4,0a7.2,7.2 0 1,0 -14.4,0M568.5,1020.7a7.2,7.2 0 1,0 14.4,0a7.2,7.2 0 1,0 -14.4,0M682.4,1031.6a7.2,7.2 0 1,0 14.4,0a7.2,7.2 0 1,0 -14.4,0M836.2,1020.5a7.2,7.2 0 1,0 14.4,0a7.2,7.2 0 1,0 -14.4,0M107.0,1128.3a7.2,7.2 0 1,0 14.4,0a7.2,7.2 0 1,0 -14.4,0M133.6,1060.6a7.2,7.2 0 1,0 14.4,0a7.2,7.2 0 1,0 -14.4,0M161.0,1034.4a7.2,7.2 0 1,0 14.4,0a7.2,7.2 0 1,0 -14.4,0M173.7,1023.4a7.2,7.2 0 1,0 14.4,0a7.2,7.2 0 1,0 -14.4,0M195.1,1059.1a7.2,7.2 0 1,0 14.4,0a7.2,7.2 0 1,0 -14.4,0M218.4,1023.3a7.2,7.2 0 1,0 14.4,0a7.2,7.2 0 1,0 -14.4,0M253.0,1049.0a7.2,7.2 0 1,0 14.4,0a7.2,7.2 0 1,0 -14.4,0M282.4,1018.8a7.2,7.2 0 1,0 14.4,0a7.2,7.2 0 1,0 -14.4,0M323.3,1017.3a7.2,7.2 0 1,0 14.4,0a7.2,7.2 0 1,0 -14.4,0M412.0,997.4a7.2,7.2 0 1,0 14.4,0a7.2,7.2 0 1,0 -14.4,0M475.5,1006.6a7.2,7.2 0 1,0 14.4,0a7.2,7.2 0 1,0 -14.4,0M564.3,1017.5a7.2,7.2 0 1,0 14.4,0a7.2,7.2 0 1,0 -14.4,0M683.6,1015.7a7.2,7.2 0 1,0 14.4,0a7.2,7.2 0 1,0 -14.4,0M836.1,1020.4a7.2,7.2 0 1,0 14.4,0a7.2,7.2 0 1,0 -14.4,0M93.9,1207.2a7.2,7.2 0 1,0 14.4,0a7.2,7.2 0 1,0 -14.4,0M120.9,1120.0a7.2,7.2 0 1,0 14.4,0a7.2,7.2 0 1,0 -14.4,0M155.3,1082.3a7.2,7.2 0 1,0 14.4,0a7.2,7.2 0 1,0 -14.4,0M184.3,1079.9a7.2,7.2 0 1,0 14.4,0a7.2,7.2 0 1,0 -14.4,0M193.8,1044.1a7.2,7.2 0 1,0 14.4,0a7.2,7.2 0 1,0 -14.4,0M224.8,1029.9a7.2,7.2 0 1,0 14.4,0a7.2,7.2 0 1,0 -14.4,0M250.8,977.8a7.2,7.2 0 1,0 14.4,0a7.2,7.2 0 1,0 -14.4,0M291.0,1033.0a7.2,7.2 0 1,0 14.4,0a7.2,7.2 0 1,0 -14.4,0M321.4,1047.6a7.2,7.2 0 1,0 14.4,0a7.2,7.2 0 1,0 -14.4,0M415.3,1020.4a7.2,7.2 0 1,0 14.4,0a7.2,7.2 0 1,0 -14.4,0M478.7,1026.5a7.2,7.2 0 1,0 14.4,0a7.2,7.2 0 1,0 -14.4,0M568.5,1027.2a7.2,7.2 0 1,0 14.4,0a7.2,7.2 0 1,0 -14.4,0M682.2,1018.8a7.2,7.2 0 1,0 14.4,0a7.2,7.2 0 1,0 -14.4,0M836.8,1020.5a7.2,7.2 0 1,0 14.4,0a7.2,7.2 0 1,0 -14.4,0M126.0,1086.4a7.2,7.2 0 1,0 14.4,0a7.2,7.2 0 1,0 -14.4,0M145.2,1017.1a7.2,7.2 0 1,0 14.4,0a7.2,7.2 0 1,0 -14.4,0M181.1,1005.0a7.2,7.2 0 1,0 14.4,0a7.2,7.2 0 1,0 -14.4,0M204.7,1001.9a7.2,7.2 0 1,0 14.4,0a7.2,7.2 0 1,0 -14.4,0M228.3,1019.7a7.2,7.2 0 1,0 14.4,0a7.2,7.2 0 1,0 -14.4,0M251.4,1033.3a7.2,7.2 0 1,0 14.4,0a7.2,7.2 0 1,0 -14.4,0M291.2,1020.2a7.2,7.2 0 1,0 14.4,0a7.2,7.2 0 1,0 -14.4,0M327.0,1004.8a7.2,7.2 0 1,0 14.4,0a7.2,7.2 0 1,0 -14.4,0M412.6,1023.7a7.2,7.2 0 1,0 14.4,0a7.2,7.2 0 1,0 -14.4,0M478.4,1033.6a7.2,7.2 0 1,0 14.4,0a7.2,7.2 0 1,0 -14.4,0M567.6,1033.7a7.2,7.2 0 1,0 14.4,0a7.2,7.2 0 1,0 -14.4,0M689.3,1050.3a7.2,7.2 0 1,0 14.4,0a7.2,7.2 0 1,0 -14.4,0M836.7,1019.2a7.2,7.2 0 1,0 14.4,0a7.2,7.2 0 1,0 -14.4,0M128.2,1119.0a7.2,7.2 0 1,0 14.4,0a7.2,7.2 0 1,0 -14.4,0M142.4,1086.1a7.2,7.2 0 1,0 14.4,0a7.2,7.2 0 1,0 -14.4,0M173.9,1050.9a7.2,7.2 0 1,0 14.4,0a7.2,7.2 0 1,0 -14.4,0M193.4,1068.5a7.2,7.2 0 1,0 14.4,0a7.2,7.2 0 1,0 -14.4,0M218.6,1029.2a7.2,7.2 0 1,0 14.4,0a7.2,7.2 0 1,0 -14.4,0M252.2,1031.8a7.2,7.2 0 1,0 14.4,0a7.2,7.2 0 1,0 -14.4,0M286.2,1029.3a7.2,7.2 0 1,0 14.4,0a7.2,7.2 0 1,0 -14.4,0M324.6,1027.7a7.2,7.2 0 1,0 14.4,0a7.2,7.2 0 1,0 -14.4,0M411.0,986.3a7.2,7.2 0 1,0 14.4,0a7.2,7.2 0 1,0 -14.4,0M477.5,1005.8a7.2,7.2 0 1,0 14.4,0a7.2,7.2 0 1,0 -14.4,0M562.0,1032.4a7.2,7.2 0 1,0 14.4,0a7.2,7.2 0 1,0 -14.4,0M685.3,1054.8a7.2,7.2 0 1,0 14.4,0a7.2,7.2 0 1,0 -14.4,0M836.6,1020.2a7.2,7.2 0 1,0 14.4,0a7.2,7.2 0 1,0 -14.4,0M92.7,1356.2a7.2,7.2 0 1,0 14.4,0a7.2,7.2 0 1,0 -14.4,0M157.2,1096.6a7.2,7.2 0 1,0 14.4,0a7.2,7.2 0 1,0 -14.4,0M192.6,1037.4a7.2,7.2 0 1,0 14.4,0a7.2,7.2 0 1,0 -14.4,0M244.4,1017.4a7.2,7.2 0 1,0 14.4,0a7.2,7.2 0 1,0 -14.4,0M327.1,1026.3a7.2,7.2 0 1,0 14.4,0a7.2,7.2 0 1,0 -14.4,0M119.0,1332.5a7.2,7.2 0 1,0 14.4,0a7.2,7.2 0 1,0 -14.4,0M150.1,1166.1a7.2,7.2 0 1,0 14.4,0a7.2,7.2 0 1,0 -14.4,0M199.4,1066.0a7.2,7.2 0 1,0 14.4,0a7.2,7.2 0 1,0 -14.4,0M252.8,1047.7a7.2,7.2 0 1,0 14.4,0a7.2,7.2 0 1,0 -14.4,0M328.5,1024.1a7.2,7.2 0 1,0 14.4,0a7.2,7.2 0 1,0 -14.4,0" fill="none" stroke="#666" stroke-width="1.3"/>
</g>
<path d="M113.6,862.7 V1020.3 H852" fill="none" stroke="#6a0dbf" stroke-width="3.2" stroke-dasharray="2.3 2.1"/>
<path d="M114.8,1455 L115.2,1300 L116.3,1220 L117.6,1151 L119.7,1088.6 L121.5,1068 L123.9,1055 L130.2,1038.3 L140.7,1025.7 L155.3,1021.5 L200,1020.6 L852,1020.4" fill="none" stroke="#f0a818" stroke-width="4" stroke-dasharray="11 7"/>
<path d="M109.8,1194.1 118.2,1162.8 138.6,1108.5 165.5,1067.2 192.3,1045.2 216.0,1034.5 241.7,1028.0 271.9,1024.1 305.8,1021.9 350.6,1020.8 418.7,1020.3 486.2,1020.2 571.8,1020.2 693.9,1020.2 843.2,1020.2" fill="none" stroke="#e8141a" stroke-width="4"/>
<path d="M109.8,1413.5 113.5,1382.0 117.2,1352.9 120.8,1326.2 124.5,1301.7 128.2,1279.1 131.9,1258.3 135.5,1239.2 139.2,1221.6 142.9,1205.5 146.6,1190.6 150.2,1176.9 153.9,1164.4 157.6,1152.8 161.3,1142.2 164.9,1132.4 168.6,1123.4 172.3,1115.1 176.0,1107.5 179.6,1100.5 183.3,1094.0 187.0,1088.1 190.7,1082.7 194.3,1077.6 198.0,1073.0 201.7,1068.8 205.4,1064.9 209.0,1061.3 212.7,1058.0 216.4,1055.0 220.1,1052.2 223.7,1049.6 227.4,1047.3 231.1,1045.1 234.8,1043.1 238.4,1041.3 242.1,1039.6 245.8,1038.0 249.5,1036.6 253.1,1035.3 256.8,1034.1 260.5,1032.9 264.2,1031.9 267.8,1031.0 271.5,1030.1 275.2,1029.3 278.9,1028.6 282.5,1027.9 286.2,1027.3 289.9,1026.7 293.6,1026.2 297.2,1025.7 300.9,1025.3 304.6,1024.9 308.3,1024.5 311.9,1024.2 315.6,1023.8 319.3,1023.5 323.0,1023.3 326.6,1023.0 330.3,1022.8 334.0,1022.6 337.7,1022.4 341.3,1022.2 345.0,1022.1 348.7,1021.9 352.4,1021.8 356.0,1021.6 359.7,1021.5 363.4,1021.4 367.1,1021.3 370.8,1021.2 374.4,1021.2 378.1,1021.1 381.8,1021.0 385.5,1020.9 389.1,1020.9 392.8,1020.8 396.5,1020.8 400.2,1020.7 403.8,1020.7 407.5,1020.6 411.2,1020.6 414.9,1020.6 418.5,1020.5 422.2,1020.5 425.9,1020.5 429.6,1020.5 433.2,1020.5 436.9,1020.4 440.6,1020.4 444.3,1020.4 447.9,1020.4 451.6,1020.4 455.3,1020.4 459.0,1020.3 462.6,1020.3 466.3,1020.3 470.0,1020.3 473.7,1020.3 477.3,1020.3 481.0,1020.3 484.7,1020.3 488.4,1020.3 492.0,1020.3 495.7,1020.3 499.4,1020.3 503.1,1020.3 506.7,1020.2 510.4,1020.2 514.1,1020.2 517.8,1020.2 521.4,1020.2 525.1,1020.2 528.8,1020.2 532.5,1020.2 536.1,1020.2 539.8,1020.2 543.5,1020.2 547.2,1020.2 550.8,1020.2 554.5,1020.2 558.2,1020.2 561.9,1020.2 565.5,1020.2 569.2,1020.2 572.9,1020.2 576.6,1020.2 580.2,1020.2 583.9,1020.2 587.6,1020.2 591.3,1020.2 594.9,1020.2 598.6,1020.2 602.3,1020.2 606.0,1020.2 609.6,1020.2 613.3,1020.2 617.0,1020.2 620.7,1020.2 624.3,1020.2 628.0,1020.2 631.7,1020.2 635.4,1020.2 639.1,1020.2 642.7,1020.2 646.4,1020.2 650.1,1020.2 653.8,1020.2 657.4,1020.2 661.1,1020.2 664.8,1020.2 668.5,1020.2 672.1,1020.2 675.8,1020.2 679.5,1020.2 683.2,1020.2 686.8,1020.2 690.5,1020.2 694.2,1020.2 697.9,1020.2 701.5,1020.2 705.2,1020.2 708.9,1020.2 712.6,1020.2 716.2,1020.2 719.9,1020.2 723.6,1020.2 727.3,1020.2 730.9,1020.2 734.6,1020.2 738.3,1020.2 742.0,1020.2 745.6,1020.2 749.3,1020.2 753.0,1020.2 756.7,1020.2 760.3,1020.2 764.0,1020.2 767.7,1020.2 771.4,1020.2 775.0,1020.2 778.7,1020.2 782.4,1020.2 786.1,1020.2 789.7,1020.2 793.4,1020.2 797.1,1020.2 800.8,1020.2 804.4,1020.2 808.1,1020.2 811.8,1020.2 815.5,1020.2 819.1,1020.2 822.8,1020.2 826.5,1020.2 830.2,1020.2 833.8,1020.2 837.5,1020.2 841.2,1020.2 844.9,1020.2" fill="none" stroke="#000" stroke-width="3.6" stroke-dasharray="2.4 2.4"/>
<path d="M109.8,1098.1 113.5,1092.0 117.2,1086.5 120.8,1081.3 124.5,1076.6 128.2,1072.2 131.9,1068.2 135.5,1064.5 139.2,1061.1 142.9,1057.9 146.6,1055.0 150.2,1052.3 153.9,1049.8 157.6,1047.5 161.3,1045.4 164.9,1043.4 168.6,1041.6 172.3,1040.0 176.0,1038.4 179.6,1037.0 183.3,1035.7 187.0,1034.5 190.7,1033.4 194.3,1032.4 198.0,1031.4 201.7,1030.6 205.4,1029.8 209.0,1029.0 212.7,1028.3 216.4,1027.7 220.1,1027.1 223.7,1026.6 227.4,1026.1 231.1,1025.6 234.8,1025.2 238.4,1024.8 242.1,1024.5 245.8,1024.1 249.5,1023.8 253.1,1023.6 256.8,1023.3 260.5,1023.1 264.2,1022.8 267.8,1022.6 271.5,1022.4 275.2,1022.3 278.9,1022.1 282.5,1022.0 286.2,1021.8 289.9,1021.7 293.6,1021.6 297.2,1021.5 300.9,1021.4 304.6,1021.3 308.3,1021.2 311.9,1021.1 315.6,1021.1 319.3,1021.0 323.0,1020.9 326.6,1020.9 330.3,1020.8 334.0,1020.8 337.7,1020.7 341.3,1020.7 345.0,1020.6 348.7,1020.6 352.4,1020.6 356.0,1020.6 359.7,1020.5 363.4,1020.5 367.1,1020.5 370.8,1020.5 374.4,1020.4 378.1,1020.4 381.8,1020.4 385.5,1020.4 389.1,1020.4 392.8,1020.4 396.5,1020.3 400.2,1020.3 403.8,1020.3 407.5,1020.3 411.2,1020.3 414.9,1020.3 418.5,1020.3 422.2,1020.3 425.9,1020.3 429.6,1020.3 433.2,1020.3 436.9,1020.3 440.6,1020.3 444.3,1020.3 447.9,1020.2 451.6,1020.2 455.3,1020.2 459.0,1020.2 462.6,1020.2 466.3,1020.2 470.0,1020.2 473.7,1020.2 477.3,1020.2 481.0,1020.2 484.7,1020.2 488.4,1020.2 492.0,1020.2 495.7,1020.2 499.4,1020.2 503.1,1020.2 506.7,1020.2 510.4,1020.2 514.1,1020.2 517.8,1020.2 521.4,1020.2 525.1,1020.2 528.8,1020.2 532.5,1020.2 536.1,1020.2 539.8,1020.2 543.5,1020.2 547.2,1020.2 550.8,1020.2 554.5,1020.2 558.2,1020.2 561.9,1020.2 565.5,1020.2 569.2,1020.2 572.9,1020.2 576.6,1020.2 580.2,1020.2 583.9,1020.2 587.6,1020.2 591.3,1020.2 594.9,1020.2 598.6,1020.2 602.3,1020.2 606.0,1020.2 609.6,1020.2 613.3,1020.2 617.0,1020.2 620.7,1020.2 624.3,1020.2 628.0,1020.2 631.7,1020.2 635.4,1020.2 639.1,1020.2 642.7,1020.2 646.4,1020.2 650.1,1020.2 653.8,1020.2 657.4,1020.2 661.1,1020.2 664.8,1020.2 668.5,1020.2 672.1,1020.2 675.8,1020.2 679.5,1020.2 683.2,1020.2 686.8,1020.2 690.5,1020.2 694.2,1020.2 697.9,1020.2 701.5,1020.2 705.2,1020.2 708.9,1020.2 712.6,1020.2 716.2,1020.2 719.9,1020.2 723.6,1020.2 727.3,1020.2 730.9,1020.2 734.6,1020.2 738.3,1020.2 742.0,1020.2 745.6,1020.2 749.3,1020.2 753.0,1020.2 756.7,1020.2 760.3,1020.2 764.0,1020.2 767.7,1020.2 771.4,1020.2 775.0,1020.2 778.7,1020.2 782.4,1020.2 786.1,1020.2 789.7,1020.2 793.4,1020.2 797.1,1020.2 800.8,1020.2 804.4,1020.2 808.1,1020.2 811.8,1020.2 815.5,1020.2 819.1,1020.2 822.8,1020.2 826.5,1020.2 830.2,1020.2 833.8,1020.2 837.5,1020.2 841.2,1020.2 844.9,1020.2" fill="none" stroke="#000" stroke-width="3.6" stroke-dasharray="2.4 2.4"/>
<line x1="600.7" y1="882.7" x2="641.4" y2="882.7" stroke="#aaa" stroke-width="1"/>
<circle cx="621" cy="882.7" r="7.2" fill="#fff" stroke="#666" stroke-width="1.3"/>
<text x="652.00" y="889.0" font-size="21.60" fill="#000" font-style="italic">F</text>
<text x="664.25" y="894.5" font-size="14.50" fill="#000" textLength="21.9" lengthAdjust="spacingAndGlyphs">D-I</text>
<line x1="600.7" y1="910.8" x2="641.4" y2="910.8" stroke="#e8141a" stroke-width="3.6"/>
<text x="650.00" y="917.2" font-size="21.60" fill="#000">⟨</text>
<text x="657.50" y="917.2" font-size="21.60" fill="#000" font-style="italic">F</text>
<text x="670.74" y="922.5" font-size="14.50" fill="#000" textLength="14.4" lengthAdjust="spacingAndGlyphs">fit</text>
<text x="685.00" y="917.2" font-size="21.60" fill="#000">⟩</text>
<line x1="728" y1="882.7" x2="769.3" y2="882.7" stroke="#6a0dbf" stroke-width="3.2" stroke-dasharray="2.3 2.1"/>
<text x="780.00" y="889.0" font-size="21.60" fill="#000" font-style="italic">F</text>
<text x="792.83" y="894.5" font-size="14.50" fill="#000" textLength="12.2" lengthAdjust="spacingAndGlyphs">el</text>
<line x1="728" y1="910.8" x2="769.3" y2="910.8" stroke="#f0a818" stroke-width="3.6" stroke-dasharray="8 9"/>
<text x="780.00" y="917.2" font-size="21.60" fill="#000" font-style="italic">F</text>
<text x="793.45" y="922.5" font-size="14.50" fill="#000" textLength="30.1" lengthAdjust="spacingAndGlyphs">vdW</text>
<rect x="243.6" y="1210.3" width="113.1" height="180.60000000000014" fill="#fff" stroke="#444" stroke-width="1.1"/>
<rect x="252.50" y="1377.5" width="4.83" height="11.1" fill="#c0c0c0" stroke="#7a7a7a" stroke-width="0.8"/>
<line x1="257.3" y1="1388.6" x2="262.2" y2="1388.6" stroke="#999" stroke-width="1"/>
<line x1="262.2" y1="1388.6" x2="267.0" y2="1388.6" stroke="#999" stroke-width="1"/>
<line x1="267.0" y1="1388.6" x2="271.8" y2="1388.6" stroke="#999" stroke-width="1"/>
<rect x="271.82" y="1377.5" width="4.83" height="11.1" fill="#c0c0c0" stroke="#7a7a7a" stroke-width="0.8"/>
<line x1="276.6" y1="1388.6" x2="281.5" y2="1388.6" stroke="#999" stroke-width="1"/>
<line x1="281.5" y1="1388.6" x2="286.3" y2="1388.6" stroke="#999" stroke-width="1"/>
<line x1="286.3" y1="1388.6" x2="291.1" y2="1388.6" stroke="#999" stroke-width="1"/>
<rect x="291.14" y="1377.5" width="4.83" height="11.1" fill="#c0c0c0" stroke="#7a7a7a" stroke-width="0.8"/>
<rect x="295.97" y="1366.5" width="4.83" height="22.1" fill="#c0c0c0" stroke="#7a7a7a" stroke-width="0.8"/>
<rect x="300.80" y="1344.4" width="4.83" height="44.2" fill="#c0c0c0" stroke="#7a7a7a" stroke-width="0.8"/>
<rect x="305.63" y="1344.4" width="4.83" height="44.2" fill="#c0c0c0" stroke="#7a7a7a" stroke-width="0.8"/>
<rect x="310.46" y="1255.9" width="4.83" height="132.7" fill="#c0c0c0" stroke="#7a7a7a" stroke-width="0.8"/>
<rect x="315.29" y="1255.9" width="4.83" height="132.7" fill="#c0c0c0" stroke="#7a7a7a" stroke-width="0.8"/>
<rect x="320.12" y="1255.9" width="4.83" height="132.7" fill="#c0c0c0" stroke="#7a7a7a" stroke-width="0.8"/>
<rect x="324.95" y="1244.8" width="4.83" height="143.8" fill="#c0c0c0" stroke="#7a7a7a" stroke-width="0.8"/>
<rect x="329.78" y="1322.2" width="4.83" height="66.4" fill="#c0c0c0" stroke="#7a7a7a" stroke-width="0.8"/>
<rect x="334.61" y="1366.5" width="4.83" height="22.1" fill="#c0c0c0" stroke="#7a7a7a" stroke-width="0.8"/>
<line x1="339.4" y1="1388.6" x2="344.3" y2="1388.6" stroke="#999" stroke-width="1"/>
<rect x="344.27" y="1366.5" width="4.83" height="22.1" fill="#c0c0c0" stroke="#7a7a7a" stroke-width="0.8"/>
<line x1="239.5" y1="1388.6" x2="243.6" y2="1388.6" stroke="#444" stroke-width="1"/>
<line x1="239.5" y1="1366.5" x2="243.6" y2="1366.5" stroke="#444" stroke-width="1"/>
<line x1="239.5" y1="1344.4" x2="243.6" y2="1344.4" stroke="#444" stroke-width="1"/>
<line x1="239.5" y1="1322.2" x2="243.6" y2="1322.2" stroke="#444" stroke-width="1"/>
<line x1="239.5" y1="1300.1" x2="243.6" y2="1300.1" stroke="#444" stroke-width="1"/>
<line x1="239.5" y1="1278.0" x2="243.6" y2="1278.0" stroke="#444" stroke-width="1"/>
<line x1="239.5" y1="1255.9" x2="243.6" y2="1255.9" stroke="#444" stroke-width="1"/>
<line x1="239.5" y1="1233.8" x2="243.6" y2="1233.8" stroke="#444" stroke-width="1"/>
<line x1="239.5" y1="1211.6" x2="243.6" y2="1211.6" stroke="#444" stroke-width="1"/>
<text x="237.50" y="1395.4" font-size="19.00" fill="#000" text-anchor="end">0</text>
<text x="237.50" y="1351.2" font-size="19.00" fill="#000" text-anchor="end">4</text>
<text x="237.50" y="1306.9" font-size="19.00" fill="#000" text-anchor="end">8</text>
<text x="237.50" y="1262.7" font-size="19.00" fill="#000" text-anchor="end">12</text>
<text x="237.50" y="1218.4" font-size="19.00" fill="#000" text-anchor="end">16</text>
<line x1="254.2" y1="1390.9" x2="254.2" y2="1395.5" stroke="#444" stroke-width="1"/>
<line x1="270.9" y1="1390.9" x2="270.9" y2="1395.5" stroke="#444" stroke-width="1"/>
<line x1="287.7" y1="1390.9" x2="287.7" y2="1395.5" stroke="#444" stroke-width="1"/>
<line x1="304.4" y1="1390.9" x2="304.4" y2="1395.5" stroke="#444" stroke-width="1"/>
<line x1="321.1" y1="1390.9" x2="321.1" y2="1395.5" stroke="#444" stroke-width="1"/>
<line x1="337.9" y1="1390.9" x2="337.9" y2="1395.5" stroke="#444" stroke-width="1"/>
<line x1="354.6" y1="1390.9" x2="354.6" y2="1395.5" stroke="#444" stroke-width="1"/>
<text x="271.00" y="1413.9" font-size="19.00" fill="#000" text-anchor="middle">-1.0</text>
<text x="354.10" y="1413.9" font-size="19.00" fill="#000" text-anchor="middle">0.0</text>
<text x="292.00" y="1438.6" font-size="19.00" fill="#000" font-style="italic">F</text>
<text x="303.50" y="1443.0" font-size="12.50" fill="#000">0</text>
<g transform="translate(202.5,1341.4) rotate(-90)">
<text x="-1.47" y="0.0" font-size="19.00" fill="#000" textLength="84.5" lengthAdjust="spacingAndGlyphs">Frequency</text>
</g>
<text x="195.00" y="1196.2" font-size="19.30" fill="#000">⟨</text>
<text x="201.50" y="1196.2" font-size="19.30" fill="#000" font-style="italic">F</text>
<text x="213.50" y="1200.0" font-size="12.50" fill="#000">0</text>
<text x="221.00" y="1196.2" font-size="19.30" fill="#000" textLength="140.2" lengthAdjust="spacingAndGlyphs">⟩ = -0.44 ± 0.17</text>
<rect x="437.7" y="1207" width="116.40000000000003" height="186.9000000000001" fill="#fff" stroke="#444" stroke-width="1.1"/>
<rect x="443.20" y="1379.1" width="5.33" height="12.2" fill="#c0c0c0" stroke="#7a7a7a" stroke-width="0.8"/>
<rect x="448.53" y="1379.1" width="5.33" height="12.2" fill="#c0c0c0" stroke="#7a7a7a" stroke-width="0.8"/>
<rect x="453.86" y="1342.6" width="5.33" height="48.7" fill="#c0c0c0" stroke="#7a7a7a" stroke-width="0.8"/>
<rect x="459.19" y="1366.9" width="5.33" height="24.4" fill="#c0c0c0" stroke="#7a7a7a" stroke-width="0.8"/>
<rect x="464.52" y="1330.4" width="5.33" height="60.9" fill="#c0c0c0" stroke="#7a7a7a" stroke-width="0.8"/>
<rect x="469.85" y="1366.9" width="5.33" height="24.4" fill="#c0c0c0" stroke="#7a7a7a" stroke-width="0.8"/>
<rect x="475.18" y="1354.8" width="5.33" height="36.5" fill="#c0c0c0" stroke="#7a7a7a" stroke-width="0.8"/>
<rect x="480.51" y="1342.6" width="5.33" height="48.7" fill="#c0c0c0" stroke="#7a7a7a" stroke-width="0.8"/>
<rect x="485.84" y="1342.6" width="5.33" height="48.7" fill="#c0c0c0" stroke="#7a7a7a" stroke-width="0.8"/>
<rect x="491.17" y="1306.0" width="5.33" height="85.3" fill="#c0c0c0" stroke="#7a7a7a" stroke-width="0.8"/>
<rect x="496.50" y="1269.5" width="5.33" height="121.8" fill="#c0c0c0" stroke="#7a7a7a" stroke-width="0.8"/>
<rect x="501.83" y="1293.9" width="5.33" height="97.4" fill="#c0c0c0" stroke="#7a7a7a" stroke-width="0.8"/>
<rect x="507.16" y="1330.4" width="5.33" height="60.9" fill="#c0c0c0" stroke="#7a7a7a" stroke-width="0.8"/>
<rect x="512.49" y="1342.6" width="5.33" height="48.7" fill="#c0c0c0" stroke="#7a7a7a" stroke-width="0.8"/>
<rect x="517.82" y="1366.9" width="5.33" height="24.4" fill="#c0c0c0" stroke="#7a7a7a" stroke-width="0.8"/>
<rect x="523.15" y="1330.4" width="5.33" height="60.9" fill="#c0c0c0" stroke="#7a7a7a" stroke-width="0.8"/>
<rect x="528.48" y="1379.1" width="5.33" height="12.2" fill="#c0c0c0" stroke="#7a7a7a" stroke-width="0.8"/>
<rect x="533.81" y="1354.8" width="5.33" height="36.5" fill="#c0c0c0" stroke="#7a7a7a" stroke-width="0.8"/>
<line x1="539.1" y1="1391.3" x2="544.5" y2="1391.3" stroke="#999" stroke-width="1"/>
<rect x="544.47" y="1379.1" width="5.33" height="12.2" fill="#c0c0c0" stroke="#7a7a7a" stroke-width="0.8"/>
<line x1="433.5" y1="1391.3" x2="437.7" y2="1391.3" stroke="#444" stroke-width="1"/>
<line x1="433.5" y1="1366.9" x2="437.7" y2="1366.9" stroke="#444" stroke-width="1"/>
<line x1="433.5" y1="1342.6" x2="437.7" y2="1342.6" stroke="#444" stroke-width="1"/>
<line x1="433.5" y1="1318.2" x2="437.7" y2="1318.2" stroke="#444" stroke-width="1"/>
<line x1="433.5" y1="1293.9" x2="437.7" y2="1293.9" stroke="#444" stroke-width="1"/>
<line x1="433.5" y1="1269.5" x2="437.7" y2="1269.5" stroke="#444" stroke-width="1"/>
<line x1="433.5" y1="1245.1" x2="437.7" y2="1245.1" stroke="#444" stroke-width="1"/>
<line x1="433.5" y1="1220.8" x2="437.7" y2="1220.8" stroke="#444" stroke-width="1"/>
<text x="430.40" y="1398.1" font-size="19.00" fill="#000" text-anchor="end">0</text>
<text x="430.40" y="1349.4" font-size="19.00" fill="#000" text-anchor="end">4</text>
<text x="430.40" y="1300.7" font-size="19.00" fill="#000" text-anchor="end">8</text>
<text x="430.40" y="1251.9" font-size="19.00" fill="#000" text-anchor="end">12</text>
<line x1="441.4" y1="1393.9" x2="441.4" y2="1398.5" stroke="#444" stroke-width="1"/>
<line x1="460.4" y1="1393.9" x2="460.4" y2="1398.5" stroke="#444" stroke-width="1"/>
<line x1="479.4" y1="1393.9" x2="479.4" y2="1398.5" stroke="#444" stroke-width="1"/>
<line x1="498.3" y1="1393.9" x2="498.3" y2="1398.5" stroke="#444" stroke-width="1"/>
<line x1="517.3" y1="1393.9" x2="517.3" y2="1398.5" stroke="#444" stroke-width="1"/>
<line x1="536.3" y1="1393.9" x2="536.3" y2="1398.5" stroke="#444" stroke-width="1"/>
<text x="443.50" y="1417.3" font-size="19.00" fill="#000" text-anchor="middle">10</text>
<text x="480.00" y="1417.3" font-size="19.00" fill="#000" text-anchor="middle">8</text>
<text x="517.60" y="1417.3" font-size="19.00" fill="#000" text-anchor="middle">6</text>
<text x="495.80" y="1445.7" font-size="19.00" fill="#000" text-anchor="middle" font-style="italic">b</text>
<g transform="translate(400,1343.1) rotate(-90)">
<text x="-1.54" y="0.0" font-size="19.00" fill="#000" textLength="88.6" lengthAdjust="spacingAndGlyphs">Frequency</text>
</g>
<text x="399.20" y="1197.8" font-size="19.30" fill="#000">⟨</text>
<text x="405.50" y="1197.8" font-size="19.30" fill="#000" font-style="italic">b</text>
<text x="416.50" y="1197.8" font-size="19.30" fill="#000" textLength="141.0" lengthAdjust="spacingAndGlyphs">⟩ = 7.18 ± 1.22</text>
<rect x="641.4" y="1211.5" width="204.30000000000007" height="179.5" fill="#fff" stroke="#444" stroke-width="1.1"/>
<line x1="636.5" y1="1228.8" x2="641.4" y2="1228.8" stroke="#444" stroke-width="1"/>
<text x="626.70" y="1235.3" font-size="18.50" fill="#000" text-anchor="end">1</text>
<line x1="636.5" y1="1269.8" x2="641.4" y2="1269.8" stroke="#444" stroke-width="1"/>
<text x="626.70" y="1276.3" font-size="18.50" fill="#000" text-anchor="end">0.1</text>
<line x1="636.5" y1="1310.8" x2="641.4" y2="1310.8" stroke="#444" stroke-width="1"/>
<text x="626.70" y="1317.3" font-size="18.50" fill="#000" text-anchor="end">0.01</text>
<line x1="636.5" y1="1351.8" x2="641.4" y2="1351.8" stroke="#444" stroke-width="1"/>
<text x="626.70" y="1358.3" font-size="18.50" fill="#000" text-anchor="end">0.001</text>
<line x1="645.8" y1="1391" x2="645.8" y2="1395.5" stroke="#444" stroke-width="1"/>
<line x1="663.0" y1="1391" x2="663.0" y2="1395.5" stroke="#444" stroke-width="1"/>
<line x1="679.3" y1="1391" x2="679.3" y2="1395.5" stroke="#444" stroke-width="1"/>
<line x1="694.9" y1="1391" x2="694.9" y2="1395.5" stroke="#444" stroke-width="1"/>
<line x1="709.7" y1="1391" x2="709.7" y2="1395.5" stroke="#444" stroke-width="1"/>
<line x1="724.0" y1="1391" x2="724.0" y2="1395.5" stroke="#444" stroke-width="1"/>
<line x1="737.6" y1="1391" x2="737.6" y2="1395.5" stroke="#444" stroke-width="1"/>
<line x1="750.7" y1="1391" x2="750.7" y2="1395.5" stroke="#444" stroke-width="1"/>
<line x1="763.4" y1="1391" x2="763.4" y2="1395.5" stroke="#444" stroke-width="1"/>
<line x1="775.5" y1="1391" x2="775.5" y2="1395.5" stroke="#444" stroke-width="1"/>
<line x1="787.3" y1="1391" x2="787.3" y2="1395.5" stroke="#444" stroke-width="1"/>
<line x1="798.6" y1="1391" x2="798.6" y2="1395.5" stroke="#444" stroke-width="1"/>
<line x1="809.6" y1="1391" x2="809.6" y2="1395.5" stroke="#444" stroke-width="1"/>
<line x1="820.2" y1="1391" x2="820.2" y2="1395.5" stroke="#444" stroke-width="1"/>
<line x1="830.5" y1="1391" x2="830.5" y2="1395.5" stroke="#444" stroke-width="1"/>
<text x="663.00" y="1413.0" font-size="18.50" fill="#000" text-anchor="middle">1.0</text>
<text x="723.97" y="1413.0" font-size="18.50" fill="#000" text-anchor="middle">1.2</text>
<text x="775.52" y="1413.0" font-size="18.50" fill="#000" text-anchor="middle">1.4</text>
<text x="820.17" y="1413.0" font-size="18.50" fill="#000" text-anchor="middle">1.6</text>
<text x="744.00" y="1439.0" font-size="18.50" fill="#000" text-anchor="middle" font-style="italic">r/d</text>
<g transform="translate(581,1335) rotate(-90)">
<text x="0.00" y="0.0" font-size="18.50" fill="#000">|</text>
<text x="7.50" y="0.0" font-size="18.50" fill="#000" font-style="italic">F</text>
<text x="19.16" y="0.0" font-size="18.50" fill="#000" textLength="51.1" lengthAdjust="spacingAndGlyphs">| (pN)</text>
</g>
<text x="678.33" y="1196.8" font-size="24.02" fill="#000" textLength="142.8" lengthAdjust="spacingAndGlyphs">log-log plot</text>
<g clip-path="url(#clipL)">
<path d="M685.8,1286.0 703.5,1284.2 718.4,1294.5 735.8,1300.0 747.6,1308.4 768.4,1351.6 786.2,1349.3 801.5,1329.4 807.6,1330.0 822.3,1332.5 836.3,1351.6M659.6,1242.6 681.1,1247.2 693.7,1252.8 707.3,1255.3 720.4,1263.0 733.1,1263.8 748.0,1271.2 766.2,1266.8 780.6,1276.7 801.3,1282.4 810.7,1288.0 827.8,1312.4 839.3,1297.2M666.6,1239.6 673.0,1242.7 691.1,1255.0 700.1,1251.4 719.8,1261.5 731.1,1269.9 749.9,1277.1 765.4,1284.5 782.6,1320.5 803.3,1307.5 814.7,1310.4 822.4,1330.2 844.3,1314.6M654.3,1237.1 667.1,1241.7 679.3,1247.2 686.2,1246.8 700.7,1255.9 720.7,1260.8 739.3,1265.8 747.7,1270.2 772.8,1282.0 788.8,1299.3 799.6,1294.3 810.9,1313.0 820.3,1298.7 835.8,1296.9M663.1,1244.0 680.0,1250.3 693.5,1253.5 705.4,1259.4 720.3,1262.0 735.8,1268.3 747.1,1275.7 763.6,1282.0 780.1,1285.2 802.7,1304.7 813.7,1303.4 828.9,1291.8 835.6,1316.3M663.9,1237.6 676.9,1243.0 689.8,1246.0 699.6,1251.4 719.7,1259.8 739.8,1264.4 754.5,1272.2 770.6,1283.2 783.8,1298.9 800.9,1286.8 812.5,1286.1 823.7,1286.4 843.8,1313.2M666.0,1242.1 679.2,1245.4 692.9,1253.3 707.7,1256.5 717.2,1260.0 735.8,1265.2 748.9,1273.8 764.6,1284.5 784.9,1273.1 802.0,1329.3 815.2,1294.6 826.4,1302.0 844.9,1333.7M682.1,1244.8 686.1,1244.8 700.2,1247.8 713.8,1255.1 736.2,1263.9 750.2,1270.1 769.6,1277.0 786.5,1274.9 801.7,1298.0 816.3,1302.1 826.2,1294.1 837.4,1303.0M673.9,1248.8 692.8,1253.2 702.6,1253.9 719.0,1259.5 738.7,1274.4 753.7,1293.9 772.7,1291.4 784.6,1279.9 800.1,1337.8 808.7,1316.5 826.5,1354.7 843.6,1305.1M653.7,1235.8 659.5,1238.1 676.3,1240.2 691.0,1248.9 707.3,1252.9 720.2,1254.5 739.4,1260.2 750.7,1270.4 772.8,1269.9 780.8,1261.6 795.8,1286.5 812.0,1289.5 822.2,1292.0 842.7,1298.6M671.4,1258.1 688.6,1263.3 705.8,1268.7 714.0,1271.5 735.3,1279.2 749.9,1287.3 772.8,1300.3 789.2,1300.3 796.3,1307.9 811.4,1318.6 820.6,1349.9 839.8,1320.9M666.2,1263.6 674.9,1270.7 687.9,1270.6 704.2,1279.7 714.9,1284.9 732.0,1285.4 752.1,1292.3 769.7,1277.0 785.2,1307.4 802.1,1313.8 812.8,1310.1 827.9,1319.9 837.8,1326.8M676.2,1247.7 692.8,1253.0 708.5,1259.9 714.5,1261.8 735.0,1269.2 753.3,1272.5 768.3,1270.6 786.8,1331.5 795.5,1286.6 807.4,1302.7 820.4,1314.9 835.8,1309.9M682.7,1249.6 700.7,1254.0 717.9,1260.8 737.3,1268.8 749.8,1273.1 765.2,1263.2 781.6,1285.6 798.7,1291.2 806.8,1307.7 828.2,1289.0 843.5,1318.1M677.8,1251.0 684.4,1252.9 702.3,1257.1 718.0,1258.8 730.0,1265.8 749.3,1273.2 769.7,1291.8 786.2,1273.3 795.9,1285.8 816.1,1296.2 826.0,1295.8 838.8,1296.5M687.5,1250.9 704.6,1254.8 723.3,1264.0 736.3,1265.2 753.8,1252.9 764.0,1267.3 785.9,1291.9 801.2,1288.0 807.1,1293.9 828.6,1303.5 837.0,1298.1M679.1,1248.5 687.6,1249.5 707.8,1257.3 720.8,1267.2 730.4,1275.6 755.6,1275.8 772.7,1317.3 780.6,1300.4 802.6,1298.8 811.0,1300.5 824.1,1319.6 845.2,1312.9M680.0,1257.4 689.0,1260.6 708.8,1266.8 722.9,1270.1 737.3,1276.6 748.1,1279.0 764.4,1262.5 788.9,1316.9 801.4,1299.6 813.0,1304.7 822.9,1328.3 838.1,1315.5M656.7,1247.9 674.5,1249.6 691.2,1255.6 707.2,1263.1 714.1,1268.7 731.1,1272.2 753.8,1271.4 769.5,1288.2 787.6,1296.9 795.7,1283.7 810.9,1310.4 821.9,1300.8 843.5,1304.4M677.9,1245.2 690.7,1253.7 701.7,1256.5 714.7,1264.4 733.5,1271.4 753.0,1271.4 766.9,1269.1 781.1,1297.4 800.7,1304.0 812.4,1298.1 828.5,1307.1 844.8,1307.8M655.2,1236.5 665.6,1240.7 679.9,1249.5 686.5,1244.5 699.0,1249.6 718.5,1255.3 735.4,1260.1 751.4,1271.7 772.9,1279.9 786.5,1278.5 801.6,1294.0 807.3,1297.2 824.8,1273.9 843.3,1310.3M681.9,1255.0 690.4,1257.0 707.4,1265.2 721.4,1277.4 738.3,1279.0 754.6,1281.7 772.8,1290.6 786.3,1290.7 798.8,1332.8 813.8,1308.1 827.3,1315.1 839.7,1319.1M652.3,1263.8 659.8,1263.2 673.3,1274.9 686.1,1278.1 706.0,1281.9 719.3,1286.7 732.2,1294.6 747.6,1299.6 766.1,1304.1 781.6,1309.9 801.2,1327.3 809.8,1326.7 824.8,1304.5 843.6,1326.6M673.1,1249.5 685.3,1254.5 700.4,1258.8 716.6,1270.9 732.5,1273.2 754.4,1285.5 768.4,1320.4 786.3,1282.9 803.5,1292.3 809.4,1307.8 824.7,1309.1 836.9,1358.2M669.9,1244.7 685.3,1249.1 707.2,1263.7 716.5,1267.2 733.0,1274.7 746.5,1282.8 766.3,1280.5 784.6,1349.9 800.7,1308.1 810.3,1305.9 826.2,1305.3 836.5,1327.1M658.6,1241.3 673.1,1246.9 691.1,1254.7 702.2,1252.6 722.8,1262.3 735.6,1266.2 753.0,1270.6 766.6,1271.0 788.2,1285.1 794.5,1282.8 808.1,1300.5 820.2,1293.7 842.2,1305.3M676.9,1245.4 693.5,1257.4 706.8,1260.3 720.0,1265.9 736.0,1271.6 745.9,1281.0 766.6,1292.5 783.4,1294.9 800.1,1305.4 807.7,1326.3 823.1,1307.3 840.5,1322.2M658.1,1242.3 676.9,1243.7 690.7,1258.5 702.2,1258.3 722.6,1270.4 733.5,1269.3 750.4,1276.1 764.5,1288.7 789.7,1278.2 794.9,1294.4 815.7,1328.4 824.8,1298.9 841.1,1294.1M678.4,1250.2 687.5,1258.6 704.8,1262.3 721.4,1269.5 730.0,1275.8 747.7,1281.3 768.0,1277.8 781.3,1308.1 797.4,1305.8 812.4,1313.5 821.0,1331.4 840.6,1318.7M685.0,1259.6 704.1,1267.6 718.6,1271.0 734.3,1275.8 754.8,1275.7 766.5,1279.5 780.4,1292.2 800.8,1295.0 815.7,1300.9 826.6,1298.0 841.4,1293.5M665.6,1243.6 679.2,1245.7 685.9,1245.5 706.3,1254.7 719.0,1259.7 739.0,1269.1 746.7,1271.4 771.2,1288.0 781.1,1275.5 799.0,1290.9 816.2,1283.5 819.3,1294.8 837.9,1284.5M667.7,1249.5 672.8,1256.4 692.5,1259.8 708.8,1266.2 715.3,1269.2 736.3,1280.7 747.6,1283.2 772.1,1291.8 780.4,1299.2 794.6,1308.8 814.0,1318.8 822.4,1327.2 844.4,1316.0M675.6,1248.0 686.5,1252.9 705.3,1259.3 714.2,1258.1 739.7,1270.3 750.1,1272.2 768.6,1285.2 785.2,1287.5 794.0,1280.3 812.7,1293.6 822.2,1290.2 837.9,1308.2M675.2,1272.4 691.6,1279.8 704.0,1288.3 718.4,1289.1 738.4,1297.9 752.6,1306.9 768.5,1306.3 789.4,1316.0 795.3,1315.8 814.5,1337.0 821.0,1331.8 841.5,1322.4M680.8,1249.7 684.4,1249.5 707.9,1258.1 719.0,1261.6 735.4,1266.2 753.6,1277.5 765.6,1277.3 781.4,1277.8 796.7,1287.2 807.1,1294.2 822.5,1323.1 841.7,1282.5M667.0,1243.7 678.6,1246.6 684.1,1246.0 701.3,1255.1 722.2,1260.8 731.3,1264.8 749.7,1274.4 766.2,1291.6 784.2,1296.0 794.3,1292.2 807.0,1297.6 829.3,1296.8 843.1,1317.1M663.9,1257.9 678.9,1260.2 685.9,1261.9 702.3,1268.3 715.2,1275.5 735.4,1287.1 747.3,1290.0 765.3,1294.3 782.1,1306.2 798.3,1302.8 809.8,1325.0 823.8,1314.7 845.4,1319.6M648.5,1239.1 661.2,1245.2 675.0,1245.3 684.5,1246.9 707.7,1252.8 716.6,1257.9 737.6,1259.9 750.9,1269.1 763.8,1274.2 783.9,1278.1 796.0,1266.5 807.1,1278.1 820.8,1289.9 841.4,1325.3M687.8,1248.4 701.8,1253.2 720.1,1260.4 739.1,1264.9 747.9,1269.4 770.2,1269.7 786.6,1280.2 803.1,1279.6 815.4,1281.9 821.7,1306.3 841.8,1299.6M676.9,1247.0 683.9,1251.2 702.8,1256.2 717.0,1265.2 730.5,1268.6 749.8,1272.2 763.8,1276.9 784.9,1279.8 799.5,1300.2 811.4,1289.7 822.6,1309.5 838.0,1315.3M684.0,1251.1 702.7,1263.3 722.4,1272.7 730.3,1278.6 747.1,1285.2 768.3,1294.2 783.0,1292.6 797.2,1316.0 816.5,1325.3 820.8,1323.8 837.3,1321.7M676.4,1246.8 693.4,1252.7 707.1,1255.7 714.9,1259.8 736.2,1266.2 750.6,1270.2 768.9,1275.1 783.6,1274.4 796.4,1279.2 814.2,1281.9 824.7,1304.4 837.8,1311.7M677.5,1248.7 687.0,1252.2 702.2,1260.1 720.9,1267.8 738.4,1272.8 754.0,1277.5 769.0,1300.7 784.1,1299.8 800.7,1299.4 812.9,1308.5 827.6,1321.2 843.5,1340.9M688.5,1256.8 700.0,1263.5 716.6,1277.8 730.2,1280.6 751.2,1280.0 768.1,1309.6 783.7,1307.1 796.7,1294.5 814.7,1305.9 827.7,1351.3 838.3,1323.6M657.4,1269.1 675.9,1277.1 687.4,1275.8 701.4,1283.4 713.8,1286.7 730.5,1296.0 754.7,1305.2 766.4,1310.2 780.7,1315.2 795.4,1307.2 811.5,1321.8 829.3,1326.9 837.4,1348.8M660.9,1253.6 676.3,1250.1 683.8,1254.6 700.9,1268.2 722.9,1273.5 730.0,1278.6 751.0,1270.5 771.4,1286.9 787.9,1303.2 800.9,1318.6 810.7,1306.4 827.4,1327.4 843.7,1335.6M661.9,1243.7 678.5,1256.6 685.8,1255.7 706.3,1261.5 718.8,1263.6 736.7,1276.6 747.5,1276.1 764.3,1267.7 781.3,1278.1 797.1,1297.8 811.0,1296.9 819.4,1310.1 840.5,1305.0M688.3,1253.4 700.3,1256.4 719.7,1269.1 733.7,1275.4 752.2,1276.8 765.4,1292.8 786.1,1291.0 802.5,1345.0 815.3,1311.5 825.6,1320.7 840.5,1324.0M678.4,1267.4 686.9,1268.6 706.2,1279.9 723.2,1283.7 734.0,1289.0 754.4,1288.8 764.5,1310.8 789.8,1309.0 798.5,1324.0 809.0,1317.9 827.7,1354.4 841.9,1331.6M679.7,1258.8 689.2,1261.7 707.9,1269.6 721.3,1279.3 731.4,1280.4 749.4,1289.0 764.2,1289.3 780.3,1301.8 797.0,1309.1 815.3,1321.2 827.7,1313.7 836.6,1324.0M676.7,1254.7 685.5,1256.6 700.1,1260.7 720.3,1272.2 734.6,1277.1 747.0,1284.9 764.4,1297.4 789.3,1310.0 799.7,1302.5 810.3,1319.2 821.3,1306.8 845.4,1331.5M666.9,1240.0 680.4,1246.5 687.6,1249.2 706.3,1255.7 719.4,1260.6 734.4,1269.4 746.3,1275.2 767.5,1279.1 782.7,1282.9 798.0,1346.2 816.2,1297.2 822.2,1302.2 842.4,1318.5M674.2,1253.8 688.4,1260.1 702.5,1262.2 718.0,1269.1 733.1,1277.1 752.4,1280.7 769.3,1292.4 789.6,1301.9 803.3,1305.7 816.6,1304.6 823.3,1306.3 843.7,1316.1M681.3,1250.5 691.0,1253.2 706.6,1260.7 714.5,1262.7 734.6,1268.6 745.8,1273.4 771.9,1314.5 789.4,1291.0 802.5,1278.4 806.9,1287.9 822.8,1296.8 840.8,1358.2M669.8,1240.6 687.8,1248.5 705.0,1254.9 722.0,1263.0 739.6,1269.3 749.9,1277.7 763.3,1281.8 781.4,1318.4 801.8,1287.3 814.0,1295.1 826.5,1321.9 837.0,1331.0" fill="none" stroke="#7a7a7a" stroke-width="0.7"/>
<path d="M683.4,1286.0a2.4,2.4 0 1,0 4.8,0a2.4,2.4 0 1,0 -4.8,0M701.1,1284.2a2.4,2.4 0 1,0 4.8,0a2.4,2.4 0 1,0 -4.8,0M716.0,1294.5a2.4,2.4 0 1,0 4.8,0a2.4,2.4 0 1,0 -4.8,0M733.4,1300.0a2.4,2.4 0 1,0 4.8,0a2.4,2.4 0 1,0 -4.8,0M745.2,1308.4a2.4,2.4 0 1,0 4.8,0a2.4,2.4 0 1,0 -4.8,0M766.0,1351.6a2.4,2.4 0 1,0 4.8,0a2.4,2.4 0 1,0 -4.8,0M783.8,1349.3a2.4,2.4 0 1,0 4.8,0a2.4,2.4 0 1,0 -4.8,0M799.1,1329.4a2.4,2.4 0 1,0 4.8,0a2.4,2.4 0 1,0 -4.8,0M805.2,1330.0a2.4,2.4 0 1,0 4.8,0a2.4,2.4 0 1,0 -4.8,0M819.9,1332.5a2.4,2.4 0 1,0 4.8,0a2.4,2.4 0 1,0 -4.8,0M833.9,1351.6a2.4,2.4 0 1,0 4.8,0a2.4,2.4 0 1,0 -4.8,0M657.2,1242.6a2.4,2.4 0 1,0 4.8,0a2.4,2.4 0 1,0 -4.8,0M678.7,1247.2a2.4,2.4 0 1,0 4.8,0a2.4,2.4 0 1,0 -4.8,0M691.3,1252.8a2.4,2.4 0 1,0 4.8,0a2.4,2.4 0 1,0 -4.8,0M704.9,1255.3a2.4,2.4 0 1,0 4.8,0a2.4,2.4 0 1,0 -4.8,0M718.0,1263.0a2.4,2.4 0 1,0 4.8,0a2.4,2.4 0 1,0 -4.8,0M730.7,1263.8a2.4,2.4 0 1,0 4.8,0a2.4,2.4 0 1,0 -4.8,0M745.6,1271.2a2.4,2.4 0 1,0 4.8,0a2.4,2.4 0 1,0 -4.8,0M763.8,1266.8a2.4,2.4 0 1,0 4.8,0a2.4,2.4 0 1,0 -4.8,0M778.2,1276.7a2.4,2.4 0 1,0 4.8,0a2.4,2.4 0 1,0 -4.8,0M798.9,1282.4a2.4,2.4 0 1,0 4.8,0a2.4,2.4 0 1,0 -4.8,0M808.3,1288.0a2.4,2.4 0 1,0 4.8,0a2.4,2.4 0 1,0 -4.8,0M825.4,1312.4a2.4,2.4 0 1,0 4.8,0a2.4,2.4 0 1,0 -4.8,0M836.9,1297.2a2.4,2.4 0 1,0 4.8,0a2.4,2.4 0 1,0 -4.8,0M664.2,1239.6a2.4,2.4 0 1,0 4.8,0a2.4,2.4 0 1,0 -4.8,0M670.6,1242.7a2.4,2.4 0 1,0 4.8,0a2.4,2.4 0 1,0 -4.8,0M688.7,1255.0a2.4,2.4 0 1,0 4.8,0a2.4,2.4 0 1,0 -4.8,0M697.7,1251.4a2.4,2.4 0 1,0 4.8,0a2.4,2.4 0 1,0 -4.8,0M717.4,1261.5a2.4,2.4 0 1,0 4.8,0a2.4,2.4 0 1,0 -4.8,0M728.7,1269.9a2.4,2.4 0 1,0 4.8,0a2.4,2.4 0 1,0 -4.8,0M747.5,1277.1a2.4,2.4 0 1,0 4.8,0a2.4,2.4 0 1,0 -4.8,0M763.0,1284.5a2.4,2.4 0 1,0 4.8,0a2.4,2.4 0 1,0 -4.8,0M780.2,1320.5a2.4,2.4 0 1,0 4.8,0a2.4,2.4 0 1,0 -4.8,0M800.9,1307.5a2.4,2.4 0 1,0 4.8,0a2.4,2.4 0 1,0 -4.8,0M812.3,1310.4a2.4,2.4 0 1,0 4.8,0a2.4,2.4 0 1,0 -4.8,0M820.0,1330.2a2.4,2.4 0 1,0 4.8,0a2.4,2.4 0 1,0 -4.8,0M841.9,1314.6a2.4,2.4 0 1,0 4.8,0a2.4,2.4 0 1,0 -4.8,0M651.9,1237.1a2.4,2.4 0 1,0 4.8,0a2.4,2.4 0 1,0 -4.8,0M664.7,1241.7a2.4,2.4 0 1,0 4.8,0a2.4,2.4 0 1,0 -4.8,0M676.9,1247.2a2.4,2.4 0 1,0 4.8,0a2.4,2.4 0 1,0 -4.8,0M683.8,1246.8a2.4,2.4 0 1,0 4.8,0a2.4,2.4 0 1,0 -4.8,0M698.3,1255.9a2.4,2.4 0 1,0 4.8,0a2.4,2.4 0 1,0 -4.8,0M718.3,1260.8a2.4,2.4 0 1,0 4.8,0a2.4,2.4 0 1,0 -4.8,0M736.9,1265.8a2.4,2.4 0 1,0 4.8,0a2.4,2.4 0 1,0 -4.8,0M745.3,1270.2a2.4,2.4 0 1,0 4.8,0a2.4,2.4 0 1,0 -4.8,0M770.4,1282.0a2.4,2.4 0 1,0 4.8,0a2.4,2.4 0 1,0 -4.8,0M786.4,1299.3a2.4,2.4 0 1,0 4.8,0a2.4,2.4 0 1,0 -4.8,0M797.2,1294.3a2.4,2.4 0 1,0 4.8,0a2.4,2.4 0 1,0 -4.8,0M808.5,1313.0a2.4,2.4 0 1,0 4.8,0a2.4,2.4 0 1,0 -4.8,0M817.9,1298.7a2.4,2.4 0 1,0 4.8,0a2.4,2.4 0 1,0 -4.8,0M833.4,1296.9a2.4,2.4 0 1,0 4.8,0a2.4,2.4 0 1,0 -4.8,0M660.7,1244.0a2.4,2.4 0 1,0 4.8,0a2.4,2.4 0 1,0 -4.8,0M677.6,1250.3a2.4,2.4 0 1,0 4.8,0a2.4,2.4 0 1,0 -4.8,0M691.1,1253.5a2.4,2.4 0 1,0 4.8,0a2.4,2.4 0 1,0 -4.8,0M703.0,1259.4a2.4,2.4 0 1,0 4.8,0a2.4,2.4 0 1,0 -4.8,0M717.9,1262.0a2.4,2.4 0 1,0 4.8,0a2.4,2.4 0 1,0 -4.8,0M733.4,1268.3a2.4,2.4 0 1,0 4.8,0a2.4,2.4 0 1,0 -4.8,0M744.7,1275.7a2.4,2.4 0 1,0 4.8,0a2.4,2.4 0 1,0 -4.8,0M761.2,1282.0a2.4,2.4 0 1,0 4.8,0a2.4,2.4 0 1,0 -4.8,0M777.7,1285.2a2.4,2.4 0 1,0 4.8,0a2.4,2.4 0 1,0 -4.8,0M800.3,1304.7a2.4,2.4 0 1,0 4.8,0a2.4,2.4 0 1,0 -4.8,0M811.3,1303.4a2.4,2.4 0 1,0 4.8,0a2.4,2.4 0 1,0 -4.8,0M826.5,1291.8a2.4,2.4 0 1,0 4.8,0a2.4,2.4 0 1,0 -4.8,0M833.2,1316.3a2.4,2.4 0 1,0 4.8,0a2.4,2.4 0 1,0 -4.8,0M661.5,1237.6a2.4,2.4 0 1,0 4.8,0a2.4,2.4 0 1,0 -4.8,0M674.5,1243.0a2.4,2.4 0 1,0 4.8,0a2.4,2.4 0 1,0 -4.8,0M687.4,1246.0a2.4,2.4 0 1,0 4.8,0a2.4,2.4 0 1,0 -4.8,0M697.2,1251.4a2.4,2.4 0 1,0 4.8,0a2.4,2.4 0 1,0 -4.8,0M717.3,1259.8a2.4,2.4 0 1,0 4.8,0a2.4,2.4 0 1,0 -4.8,0M737.4,1264.4a2.4,2.4 0 1,0 4.8,0a2.4,2.4 0 1,0 -4.8,0M752.1,1272.2a2.4,2.4 0 1,0 4.8,0a2.4,2.4 0 1,0 -4.8,0M768.2,1283.2a2.4,2.4 0 1,0 4.8,0a2.4,2.4 0 1,0 -4.8,0M781.4,1298.9a2.4,2.4 0 1,0 4.8,0a2.4,2.4 0 1,0 -4.8,0M798.5,1286.8a2.4,2.4 0 1,0 4.8,0a2.4,2.4 0 1,0 -4.8,0M810.1,1286.1a2.4,2.4 0 1,0 4.8,0a2.4,2.4 0 1,0 -4.8,0M821.3,1286.4a2.4,2.4 0 1,0 4.8,0a2.4,2.4 0 1,0 -4.8,0M841.4,1313.2a2.4,2.4 0 1,0 4.8,0a2.4,2.4 0 1,0 -4.8,0M663.6,1242.1a2.4,2.4 0 1,0 4.8,0a2.4,2.4 0 1,0 -4.8,0M676.8,1245.4a2.4,2.4 0 1,0 4.8,0a2.4,2.4 0 1,0 -4.8,0M690.5,1253.3a2.4,2.4 0 1,0 4.8,0a2.4,2.4 0 1,0 -4.8,0M705.3,1256.5a2.4,2.4 0 1,0 4.8,0a2.4,2.4 0 1,0 -4.8,0M714.8,1260.0a2.4,2.4 0 1,0 4.8,0a2.4,2.4 0 1,0 -4.8,0M733.4,1265.2a2.4,2.4 0 1,0 4.8,0a2.4,2.4 0 1,0 -4.8,0M746.5,1273.8a2.4,2.4 0 1,0 4.8,0a2.4,2.4 0 1,0 -4.8,0M762.2,1284.5a2.4,2.4 0 1,0 4.8,0a2.4,2.4 0 1,0 -4.8,0M782.5,1273.1a2.4,2.4 0 1,0 4.8,0a2.4,2.4 0 1,0 -4.8,0M799.6,1329.3a2.4,2.4 0 1,0 4.8,0a2.4,2.4 0 1,0 -4.8,0M812.8,1294.6a2.4,2.4 0 1,0 4.8,0a2.4,2.4 0 1,0 -4.8,0M824.0,1302.0a2.4,2.4 0 1,0 4.8,0a2.4,2.4 0 1,0 -4.8,0M842.5,1333.7a2.4,2.4 0 1,0 4.8,0a2.4,2.4 0 1,0 -4.8,0M679.7,1244.8a2.4,2.4 0 1,0 4.8,0a2.4,2.4 0 1,0 -4.8,0M683.7,1244.8a2.4,2.4 0 1,0 4.8,0a2.4,2.4 0 1,0 -4.8,0M697.8,1247.8a2.4,2.4 0 1,0 4.8,0a2.4,2.4 0 1,0 -4.8,0M711.4,1255.1a2.4,2.4 0 1,0 4.8,0a2.4,2.4 0 1,0 -4.8,0M733.8,1263.9a2.4,2.4 0 1,0 4.8,0a2.4,2.4 0 1,0 -4.8,0M747.8,1270.1a2.4,2.4 0 1,0 4.8,0a2.4,2.4 0 1,0 -4.8,0M767.2,1277.0a2.4,2.4 0 1,0 4.8,0a2.4,2.4 0 1,0 -4.8,0M784.1,1274.9a2.4,2.4 0 1,0 4.8,0a2.4,2.4 0 1,0 -4.8,0M799.3,1298.0a2.4,2.4 0 1,0 4.8,0a2.4,2.4 0 1,0 -4.8,0M813.9,1302.1a2.4,2.4 0 1,0 4.8,0a2.4,2.4 0 1,0 -4.8,0M823.8,1294.1a2.4,2.4 0 1,0 4.8,0a2.4,2.4 0 1,0 -4.8,0M835.0,1303.0a2.4,2.4 0 1,0 4.8,0a2.4,2.4 0 1,0 -4.8,0M671.5,1248.8a2.4,2.4 0 1,0 4.8,0a2.4,2.4 0 1,0 -4.8,0M690.4,1253.2a2.4,2.4 0 1,0 4.8,0a2.4,2.4 0 1,0 -4.8,0M700.2,1253.9a2.4,2.4 0 1,0 4.8,0a2.4,2.4 0 1,0 -4.8,0M716.6,1259.5a2.4,2.4 0 1,0 4.8,0a2.4,2.4 0 1,0 -4.8,0M736.3,1274.4a2.4,2.4 0 1,0 4.8,0a2.4,2.4 0 1,0 -4.8,0M751.3,1293.9a2.4,2.4 0 1,0 4.8,0a2.4,2.4 0 1,0 -4.8,0M770.3,1291.4a2.4,2.4 0 1,0 4.8,0a2.4,2.4 0 1,0 -4.8,0M782.2,1279.9a2.4,2.4 0 1,0 4.8,0a2.4,2.4 0 1,0 -4.8,0M797.7,1337.8a2.4,2.4 0 1,0 4.8,0a2.4,2.4 0 1,0 -4.8,0M806.3,1316.5a2.4,2.4 0 1,0 4.8,0a2.4,2.4 0 1,0 -4.8,0M824.1,1354.7a2.4,2.4 0 1,0 4.8,0a2.4,2.4 0 1,0 -4.8,0M841.2,1305.1a2.4,2.4 0 1,0 4.8,0a2.4,2.4 0 1,0 -4.8,0M651.3,1235.8a2.4,2.4 0 1,0 4.8,0a2.4,2.4 0 1,0 -4.8,0M657.1,1238.1a2.4,2.4 0 1,0 4.8,0a2.4,2.4 0 1,0 -4.8,0M673.9,1240.2a2.4,2.4 0 1,0 4.8,0a2.4,2.4 0 1,0 -4.8,0M688.6,1248.9a2.4,2.4 0 1,0 4.8,0a2.4,2.4 0 1,0 -4.8,0M704.9,1252.9a2.4,2.4 0 1,0 4.8,0a2.4,2.4 0 1,0 -4.8,0M717.8,1254.5a2.4,2.4 0 1,0 4.8,0a2.4,2.4 0 1,0 -4.8,0M737.0,1260.2a2.4,2.4 0 1,0 4.8,0a2.4,2.4 0 1,0 -4.8,0M748.3,1270.4a2.4,2.4 0 1,0 4.8,0a2.4,2.4 0 1,0 -4.8,0M770.4,1269.9a2.4,2.4 0 1,0 4.8,0a2.4,2.4 0 1,0 -4.8,0M778.4,1261.6a2.4,2.4 0 1,0 4.8,0a2.4,2.4 0 1,0 -4.8,0M793.4,1286.5a2.4,2.4 0 1,0 4.8,0a2.4,2.4 0 1,0 -4.8,0M809.6,1289.5a2.4,2.4 0 1,0 4.8,0a2.4,2.4 0 1,0 -4.8,0M819.8,1292.0a2.4,2.4 0 1,0 4.8,0a2.4,2.4 0 1,0 -4.8,0M840.3,1298.6a2.4,2.4 0 1,0 4.8,0a2.4,2.4 0 1,0 -4.8,0M669.0,1258.1a2.4,2.4 0 1,0 4.8,0a2.4,2.4 0 1,0 -4.8,0M686.2,1263.3a2.4,2.4 0 1,0 4.8,0a2.4,2.4 0 1,0 -4.8,0M703.4,1268.7a2.4,2.4 0 1,0 4.8,0a2.4,2.4 0 1,0 -4.8,0M711.6,1271.5a2.4,2.4 0 1,0 4.8,0a2.4,2.4 0 1,0 -4.8,0M732.9,1279.2a2.4,2.4 0 1,0 4.8,0a2.4,2.4 0 1,0 -4.8,0M747.5,1287.3a2.4,2.4 0 1,0 4.8,0a2.4,2.4 0 1,0 -4.8,0M770.4,1300.3a2.4,2.4 0 1,0 4.8,0a2.4,2.4 0 1,0 -4.8,0M786.8,1300.3a2.4,2.4 0 1,0 4.8,0a2.4,2.4 0 1,0 -4.8,0M793.9,1307.9a2.4,2.4 0 1,0 4.8,0a2.4,2.4 0 1,0 -4.8,0M809.0,1318.6a2.4,2.4 0 1,0 4.8,0a2.4,2.4 0 1,0 -4.8,0M818.2,1349.9a2.4,2.4 0 1,0 4.8,0a2.4,2.4 0 1,0 -4.8,0M837.4,1320.9a2.4,2.4 0 1,0 4.8,0a2.4,2.4 0 1,0 -4.8,0M663.8,1263.6a2.4,2.4 0 1,0 4.8,0a2.4,2.4 0 1,0 -4.8,0M672.5,1270.7a2.4,2.4 0 1,0 4.8,0a2.4,2.4 0 1,0 -4.8,0M685.5,1270.6a2.4,2.4 0 1,0 4.8,0a2.4,2.4 0 1,0 -4.8,0M701.8,1279.7a2.4,2.4 0 1,0 4.8,0a2.4,2.4 0 1,0 -4.8,0M712.5,1284.9a2.4,2.4 0 1,0 4.8,0a2.4,2.4 0 1,0 -4.8,0M729.6,1285.4a2.4,2.4 0 1,0 4.8,0a2.4,2.4 0 1,0 -4.8,0M749.7,1292.3a2.4,2.4 0 1,0 4.8,0a2.4,2.4 0 1,0 -4.8,0M767.3,1277.0a2.4,2.4 0 1,0 4.8,0a2.4,2.4 0 1,0 -4.8,0M782.8,1307.4a2.4,2.4 0 1,0 4.8,0a2.4,2.4 0 1,0 -4.8,0M799.7,1313.8a2.4,2.4 0 1,0 4.8,0a2.4,2.4 0 1,0 -4.8,0M810.4,1310.1a2.4,2.4 0 1,0 4.8,0a2.4,2.4 0 1,0 -4.8,0M825.5,1319.9a2.4,2.4 0 1,0 4.8,0a2.4,2.4 0 1,0 -4.8,0M835.4,1326.8a2.4,2.4 0 1,0 4.8,0a2.4,2.4 0 1,0 -4.8,0M673.8,1247.7a2.4,2.4 0 1,0 4.8,0a2.4,2.4 0 1,0 -4.8,0M690.4,1253.0a2.4,2.4 0 1,0 4.8,0a2.4,2.4 0 1,0 -4.8,0M706.1,1259.9a2.4,2.4 0 1,0 4.8,0a2.4,2.4 0 1,0 -4.8,0M712.1,1261.8a2.4,2.4 0 1,0 4.8,0a2.4,2.4 0 1,0 -4.8,0M732.6,1269.2a2.4,2.4 0 1,0 4.8,0a2.4,2.4 0 1,0 -4.8,0M750.9,1272.5a2.4,2.4 0 1,0 4.8,0a2.4,2.4 0 1,0 -4.8,0M765.9,1270.6a2.4,2.4 0 1,0 4.8,0a2.4,2.4 0 1,0 -4.8,0M784.4,1331.5a2.4,2.4 0 1,0 4.8,0a2.4,2.4 0 1,0 -4.8,0M793.1,1286.6a2.4,2.4 0 1,0 4.8,0a2.4,2.4 0 1,0 -4.8,0M805.0,1302.7a2.4,2.4 0 1,0 4.8,0a2.4,2.4 0 1,0 -4.8,0M818.0,1314.9a2.4,2.4 0 1,0 4.8,0a2.4,2.4 0 1,0 -4.8,0M833.4,1309.9a2.4,2.4 0 1,0 4.8,0a2.4,2.4 0 1,0 -4.8,0M680.3,1249.6a2.4,2.4 0 1,0 4.8,0a2.4,2.4 0 1,0 -4.8,0M698.3,1254.0a2.4,2.4 0 1,0 4.8,0a2.4,2.4 0 1,0 -4.8,0M715.5,1260.8a2.4,2.4 0 1,0 4.8,0a2.4,2.4 0 1,0 -4.8,0M734.9,1268.8a2.4,2.4 0 1,0 4.8,0a2.4,2.4 0 1,0 -4.8,0M747.4,1273.1a2.4,2.4 0 1,0 4.8,0a2.4,2.4 0 1,0 -4.8,0M762.8,1263.2a2.4,2.4 0 1,0 4.8,0a2.4,2.4 0 1,0 -4.8,0M779.2,1285.6a2.4,2.4 0 1,0 4.8,0a2.4,2.4 0 1,0 -4.8,0M796.3,1291.2a2.4,2.4 0 1,0 4.8,0a2.4,2.4 0 1,0 -4.8,0M804.4,1307.7a2.4,2.4 0 1,0 4.8,0a2.4,2.4 0 1,0 -4.8,0M825.8,1289.0a2.4,2.4 0 1,0 4.8,0a2.4,2.4 0 1,0 -4.8,0M841.1,1318.1a2.4,2.4 0 1,0 4.8,0a2.4,2.4 0 1,0 -4.8,0M675.4,1251.0a2.4,2.4 0 1,0 4.8,0a2.4,2.4 0 1,0 -4.8,0M682.0,1252.9a2.4,2.4 0 1,0 4.8,0a2.4,2.4 0 1,0 -4.8,0M699.9,1257.1a2.4,2.4 0 1,0 4.8,0a2.4,2.4 0 1,0 -4.8,0M715.6,1258.8a2.4,2.4 0 1,0 4.8,0a2.4,2.4 0 1,0 -4.8,0M727.6,1265.8a2.4,2.4 0 1,0 4.8,0a2.4,2.4 0 1,0 -4.8,0M746.9,1273.2a2.4,2.4 0 1,0 4.8,0a2.4,2.4 0 1,0 -4.8,0M767.3,1291.8a2.4,2.4 0 1,0 4.8,0a2.4,2.4 0 1,0 -4.8,0M783.8,1273.3a2.4,2.4 0 1,0 4.8,0a2.4,2.4 0 1,0 -4.8,0M793.5,1285.8a2.4,2.4 0 1,0 4.8,0a2.4,2.4 0 1,0 -4.8,0M813.7,1296.2a2.4,2.4 0 1,0 4.8,0a2.4,2.4 0 1,0 -4.8,0M823.6,1295.8a2.4,2.4 0 1,0 4.8,0a2.4,2.4 0 1,0 -4.8,0M836.4,1296.5a2.4,2.4 0 1,0 4.8,0a2.4,2.4 0 1,0 -4.8,0M685.1,1250.9a2.4,2.4 0 1,0 4.8,0a2.4,2.4 0 1,0 -4.8,0M702.2,1254.8a2.4,2.4 0 1,0 4.8,0a2.4,2.4 0 1,0 -4.8,0M720.9,1264.0a2.4,2.4 0 1,0 4.8,0a2.4,2.4 0 1,0 -4.8,0M733.9,1265.2a2.4,2.4 0 1,0 4.8,0a2.4,2.4 0 1,0 -4.8,0M751.4,1252.9a2.4,2.4 0 1,0 4.8,0a2.4,2.4 0 1,0 -4.8,0M761.6,1267.3a2.4,2.4 0 1,0 4.8,0a2.4,2.4 0 1,0 -4.8,0M783.5,1291.9a2.4,2.4 0 1,0 4.8,0a2.4,2.4 0 1,0 -4.8,0M798.8,1288.0a2.4,2.4 0 1,0 4.8,0a2.4,2.4 0 1,0 -4.8,0M804.7,1293.9a2.4,2.4 0 1,0 4.8,0a2.4,2.4 0 1,0 -4.8,0M826.2,1303.5a2.4,2.4 0 1,0 4.8,0a2.4,2.4 0 1,0 -4.8,0M834.6,1298.1a2.4,2.4 0 1,0 4.8,0a2.4,2.4 0 1,0 -4.8,0M676.7,1248.5a2.4,2.4 0 1,0 4.8,0a2.4,2.4 0 1,0 -4.8,0M685.2,1249.5a2.4,2.4 0 1,0 4.8,0a2.4,2.4 0 1,0 -4.8,0M705.4,1257.3a2.4,2.4 0 1,0 4.8,0a2.4,2.4 0 1,0 -4.8,0M718.4,1267.2a2.4,2.4 0 1,0 4.8,0a2.4,2.4 0 1,0 -4.8,0M728.0,1275.6a2.4,2.4 0 1,0 4.8,0a2.4,2.4 0 1,0 -4.8,0M753.2,1275.8a2.4,2.4 0 1,0 4.8,0a2.4,2.4 0 1,0 -4.8,0M770.3,1317.3a2.4,2.4 0 1,0 4.8,0a2.4,2.4 0 1,0 -4.8,0M778.2,1300.4a2.4,2.4 0 1,0 4.8,0a2.4,2.4 0 1,0 -4.8,0M800.2,1298.8a2.4,2.4 0 1,0 4.8,0a2.4,2.4 0 1,0 -4.8,0M808.6,1300.5a2.4,2.4 0 1,0 4.8,0a2.4,2.4 0 1,0 -4.8,0M821.7,1319.6a2.4,2.4 0 1,0 4.8,0a2.4,2.4 0 1,0 -4.8,0M842.8,1312.9a2.4,2.4 0 1,0 4.8,0a2.4,2.4 0 1,0 -4.8,0M677.6,1257.4a2.4,2.4 0 1,0 4.8,0a2.4,2.4 0 1,0 -4.8,0M686.6,1260.6a2.4,2.4 0 1,0 4.8,0a2.4,2.4 0 1,0 -4.8,0M706.4,1266.8a2.4,2.4 0 1,0 4.8,0a2.4,2.4 0 1,0 -4.8,0M720.5,1270.1a2.4,2.4 0 1,0 4.8,0a2.4,2.4 0 1,0 -4.8,0M734.9,1276.6a2.4,2.4 0 1,0 4.8,0a2.4,2.4 0 1,0 -4.8,0M745.7,1279.0a2.4,2.4 0 1,0 4.8,0a2.4,2.4 0 1,0 -4.8,0M762.0,1262.5a2.4,2.4 0 1,0 4.8,0a2.4,2.4 0 1,0 -4.8,0M786.5,1316.9a2.4,2.4 0 1,0 4.8,0a2.4,2.4 0 1,0 -4.8,0M799.0,1299.6a2.4,2.4 0 1,0 4.8,0a2.4,2.4 0 1,0 -4.8,0M810.6,1304.7a2.4,2.4 0 1,0 4.8,0a2.4,2.4 0 1,0 -4.8,0M820.5,1328.3a2.4,2.4 0 1,0 4.8,0a2.4,2.4 0 1,0 -4.8,0M835.7,1315.5a2.4,2.4 0 1,0 4.8,0a2.4,2.4 0 1,0 -4.8,0M654.3,1247.9a2.4,2.4 0 1,0 4.8,0a2.4,2.4 0 1,0 -4.8,0M672.1,1249.6a2.4,2.4 0 1,0 4.8,0a2.4,2.4 0 1,0 -4.8,0M688.8,1255.6a2.4,2.4 0 1,0 4.8,0a2.4,2.4 0 1,0 -4.8,0M704.8,1263.1a2.4,2.4 0 1,0 4.8,0a2.4,2.4 0 1,0 -4.8,0M711.7,1268.7a2.4,2.4 0 1,0 4.8,0a2.4,2.4 0 1,0 -4.8,0M728.7,1272.2a2.4,2.4 0 1,0 4.8,0a2.4,2.4 0 1,0 -4.8,0M751.4,1271.4a2.4,2.4 0 1,0 4.8,0a2.4,2.4 0 1,0 -4.8,0M767.1,1288.2a2.4,2.4 0 1,0 4.8,0a2.4,2.4 0 1,0 -4.8,0M785.2,1296.9a2.4,2.4 0 1,0 4.8,0a2.4,2.4 0 1,0 -4.8,0M793.3,1283.7a2.4,2.4 0 1,0 4.8,0a2.4,2.4 0 1,0 -4.8,0M808.5,1310.4a2.4,2.4 0 1,0 4.8,0a2.4,2.4 0 1,0 -4.8,0M819.5,1300.8a2.4,2.4 0 1,0 4.8,0a2.4,2.4 0 1,0 -4.8,0M841.1,1304.4a2.4,2.4 0 1,0 4.8,0a2.4,2.4 0 1,0 -4.8,0M675.5,1245.2a2.4,2.4 0 1,0 4.8,0a2.4,2.4 0 1,0 -4.8,0M688.3,1253.7a2.4,2.4 0 1,0 4.8,0a2.4,2.4 0 1,0 -4.8,0M699.3,1256.5a2.4,2.4 0 1,0 4.8,0a2.4,2.4 0 1,0 -4.8,0M712.3,1264.4a2.4,2.4 0 1,0 4.8,0a2.4,2.4 0 1,0 -4.8,0M731.1,1271.4a2.4,2.4 0 1,0 4.8,0a2.4,2.4 0 1,0 -4.8,0M750.6,1271.4a2.4,2.4 0 1,0 4.8,0a2.4,2.4 0 1,0 -4.8,0M764.5,1269.1a2.4,2.4 0 1,0 4.8,0a2.4,2.4 0 1,0 -4.8,0M778.7,1297.4a2.4,2.4 0 1,0 4.8,0a2.4,2.4 0 1,0 -4.8,0M798.3,1304.0a2.4,2.4 0 1,0 4.8,0a2.4,2.4 0 1,0 -4.8,0M810.0,1298.1a2.4,2.4 0 1,0 4.8,0a2.4,2.4 0 1,0 -4.8,0M826.1,1307.1a2.4,2.4 0 1,0 4.8,0a2.4,2.4 0 1,0 -4.8,0M842.4,1307.8a2.4,2.4 0 1,0 4.8,0a2.4,2.4 0 1,0 -4.8,0M652.8,1236.5a2.4,2.4 0 1,0 4.8,0a2.4,2.4 0 1,0 -4.8,0M663.2,1240.7a2.4,2.4 0 1,0 4.8,0a2.4,2.4 0 1,0 -4.8,0M677.5,1249.5a2.4,2.4 0 1,0 4.8,0a2.4,2.4 0 1,0 -4.8,0M684.1,1244.5a2.4,2.4 0 1,0 4.8,0a2.4,2.4 0 1,0 -4.8,0M696.6,1249.6a2.4,2.4 0 1,0 4.8,0a2.4,2.4 0 1,0 -4.8,0M716.1,1255.3a2.4,2.4 0 1,0 4.8,0a2.4,2.4 0 1,0 -4.8,0M733.0,1260.1a2.4,2.4 0 1,0 4.8,0a2.4,2.4 0 1,0 -4.8,0M749.0,1271.7a2.4,2.4 0 1,0 4.8,0a2.4,2.4 0 1,0 -4.8,0M770.5,1279.9a2.4,2.4 0 1,0 4.8,0a2.4,2.4 0 1,0 -4.8,0M784.1,1278.5a2.4,2.4 0 1,0 4.8,0a2.4,2.4 0 1,0 -4.8,0M799.2,1294.0a2.4,2.4 0 1,0 4.8,0a2.4,2.4 0 1,0 -4.8,0M804.9,1297.2a2.4,2.4 0 1,0 4.8,0a2.4,2.4 0 1,0 -4.8,0M822.4,1273.9a2.4,2.4 0 1,0 4.8,0a2.4,2.4 0 1,0 -4.8,0M840.9,1310.3a2.4,2.4 0 1,0 4.8,0a2.4,2.4 0 1,0 -4.8,0M679.5,1255.0a2.4,2.4 0 1,0 4.8,0a2.4,2.4 0 1,0 -4.8,0M688.0,1257.0a2.4,2.4 0 1,0 4.8,0a2.4,2.4 0 1,0 -4.8,0M705.0,1265.2a2.4,2.4 0 1,0 4.8,0a2.4,2.4 0 1,0 -4.8,0M719.0,1277.4a2.4,2.4 0 1,0 4.8,0a2.4,2.4 0 1,0 -4.8,0M735.9,1279.0a2.4,2.4 0 1,0 4.8,0a2.4,2.4 0 1,0 -4.8,0M752.2,1281.7a2.4,2.4 0 1,0 4.8,0a2.4,2.4 0 1,0 -4.8,0M770.4,1290.6a2.4,2.4 0 1,0 4.8,0a2.4,2.4 0 1,0 -4.8,0M783.9,1290.7a2.4,2.4 0 1,0 4.8,0a2.4,2.4 0 1,0 -4.8,0M796.4,1332.8a2.4,2.4 0 1,0 4.8,0a2.4,2.4 0 1,0 -4.8,0M811.4,1308.1a2.4,2.4 0 1,0 4.8,0a2.4,2.4 0 1,0 -4.8,0M824.9,1315.1a2.4,2.4 0 1,0 4.8,0a2.4,2.4 0 1,0 -4.8,0M837.3,1319.1a2.4,2.4 0 1,0 4.8,0a2.4,2.4 0 1,0 -4.8,0M649.9,1263.8a2.4,2.4 0 1,0 4.8,0a2.4,2.4 0 1,0 -4.8,0M657.4,1263.2a2.4,2.4 0 1,0 4.8,0a2.4,2.4 0 1,0 -4.8,0M670.9,1274.9a2.4,2.4 0 1,0 4.8,0a2.4,2.4 0 1,0 -4.8,0M683.7,1278.1a2.4,2.4 0 1,0 4.8,0a2.4,2.4 0 1,0 -4.8,0M703.6,1281.9a2.4,2.4 0 1,0 4.8,0a2.4,2.4 0 1,0 -4.8,0M716.9,1286.7a2.4,2.4 0 1,0 4.8,0a2.4,2.4 0 1,0 -4.8,0M729.8,1294.6a2.4,2.4 0 1,0 4.8,0a2.4,2.4 0 1,0 -4.8,0M745.2,1299.6a2.4,2.4 0 1,0 4.8,0a2.4,2.4 0 1,0 -4.8,0M763.7,1304.1a2.4,2.4 0 1,0 4.8,0a2.4,2.4 0 1,0 -4.8,0M779.2,1309.9a2.4,2.4 0 1,0 4.8,0a2.4,2.4 0 1,0 -4.8,0M798.8,1327.3a2.4,2.4 0 1,0 4.8,0a2.4,2.4 0 1,0 -4.8,0M807.4,1326.7a2.4,2.4 0 1,0 4.8,0a2.4,2.4 0 1,0 -4.8,0M822.4,1304.5a2.4,2.4 0 1,0 4.8,0a2.4,2.4 0 1,0 -4.8,0M841.2,1326.6a2.4,2.4 0 1,0 4.8,0a2.4,2.4 0 1,0 -4.8,0M670.7,1249.5a2.4,2.4 0 1,0 4.8,0a2.4,2.4 0 1,0 -4.8,0M682.9,1254.5a2.4,2.4 0 1,0 4.8,0a2.4,2.4 0 1,0 -4.8,0M698.0,1258.8a2.4,2.4 0 1,0 4.8,0a2.4,2.4 0 1,0 -4.8,0M714.2,1270.9a2.4,2.4 0 1,0 4.8,0a2.4,2.4 0 1,0 -4.8,0M730.1,1273.2a2.4,2.4 0 1,0 4.8,0a2.4,2.4 0 1,0 -4.8,0M752.0,1285.5a2.4,2.4 0 1,0 4.8,0a2.4,2.4 0 1,0 -4.8,0M766.0,1320.4a2.4,2.4 0 1,0 4.8,0a2.4,2.4 0 1,0 -4.8,0M783.9,1282.9a2.4,2.4 0 1,0 4.8,0a2.4,2.4 0 1,0 -4.8,0M801.1,1292.3a2.4,2.4 0 1,0 4.8,0a2.4,2.4 0 1,0 -4.8,0M807.0,1307.8a2.4,2.4 0 1,0 4.8,0a2.4,2.4 0 1,0 -4.8,0M822.3,1309.1a2.4,2.4 0 1,0 4.8,0a2.4,2.4 0 1,0 -4.8,0M834.5,1358.2a2.4,2.4 0 1,0 4.8,0a2.4,2.4 0 1,0 -4.8,0M667.5,1244.7a2.4,2.4 0 1,0 4.8,0a2.4,2.4 0 1,0 -4.8,0M682.9,1249.1a2.4,2.4 0 1,0 4.8,0a2.4,2.4 0 1,0 -4.8,0M704.8,1263.7a2.4,2.4 0 1,0 4.8,0a2.4,2.4 0 1,0 -4.8,0M714.1,1267.2a2.4,2.4 0 1,0 4.8,0a2.4,2.4 0 1,0 -4.8,0M730.6,1274.7a2.4,2.4 0 1,0 4.8,0a2.4,2.4 0 1,0 -4.8,0M744.1,1282.8a2.4,2.4 0 1,0 4.8,0a2.4,2.4 0 1,0 -4.8,0M763.9,1280.5a2.4,2.4 0 1,0 4.8,0a2.4,2.4 0 1,0 -4.8,0M782.2,1349.9a2.4,2.4 0 1,0 4.8,0a2.4,2.4 0 1,0 -4.8,0M798.3,1308.1a2.4,2.4 0 1,0 4.8,0a2.4,2.4 0 1,0 -4.8,0M807.9,1305.9a2.4,2.4 0 1,0 4.8,0a2.4,2.4 0 1,0 -4.8,0M823.8,1305.3a2.4,2.4 0 1,0 4.8,0a2.4,2.4 0 1,0 -4.8,0M834.1,1327.1a2.4,2.4 0 1,0 4.8,0a2.4,2.4 0 1,0 -4.8,0M656.2,1241.3a2.4,2.4 0 1,0 4.8,0a2.4,2.4 0 1,0 -4.8,0M670.7,1246.9a2.4,2.4 0 1,0 4.8,0a2.4,2.4 0 1,0 -4.8,0M688.7,1254.7a2.4,2.4 0 1,0 4.8,0a2.4,2.4 0 1,0 -4.8,0M699.8,1252.6a2.4,2.4 0 1,0 4.8,0a2.4,2.4 0 1,0 -4.8,0M720.4,1262.3a2.4,2.4 0 1,0 4.8,0a2.4,2.4 0 1,0 -4.8,0M733.2,1266.2a2.4,2.4 0 1,0 4.8,0a2.4,2.4 0 1,0 -4.8,0M750.6,1270.6a2.4,2.4 0 1,0 4.8,0a2.4,2.4 0 1,0 -4.8,0M764.2,1271.0a2.4,2.4 0 1,0 4.8,0a2.4,2.4 0 1,0 -4.8,0M785.8,1285.1a2.4,2.4 0 1,0 4.8,0a2.4,2.4 0 1,0 -4.8,0M792.1,1282.8a2.4,2.4 0 1,0 4.8,0a2.4,2.4 0 1,0 -4.8,0M805.7,1300.5a2.4,2.4 0 1,0 4.8,0a2.4,2.4 0 1,0 -4.8,0M817.8,1293.7a2.4,2.4 0 1,0 4.8,0a2.4,2.4 0 1,0 -4.8,0M839.8,1305.3a2.4,2.4 0 1,0 4.8,0a2.4,2.4 0 1,0 -4.8,0M674.5,1245.4a2.4,2.4 0 1,0 4.8,0a2.4,2.4 0 1,0 -4.8,0M691.1,1257.4a2.4,2.4 0 1,0 4.8,0a2.4,2.4 0 1,0 -4.8,0M704.4,1260.3a2.4,2.4 0 1,0 4.8,0a2.4,2.4 0 1,0 -4.8,0M717.6,1265.9a2.4,2.4 0 1,0 4.8,0a2.4,2.4 0 1,0 -4.8,0M733.6,1271.6a2.4,2.4 0 1,0 4.8,0a2.4,2.4 0 1,0 -4.8,0M743.5,1281.0a2.4,2.4 0 1,0 4.8,0a2.4,2.4 0 1,0 -4.8,0M764.2,1292.5a2.4,2.4 0 1,0 4.8,0a2.4,2.4 0 1,0 -4.8,0M781.0,1294.9a2.4,2.4 0 1,0 4.8,0a2.4,2.4 0 1,0 -4.8,0M797.7,1305.4a2.4,2.4 0 1,0 4.8,0a2.4,2.4 0 1,0 -4.8,0M805.3,1326.3a2.4,2.4 0 1,0 4.8,0a2.4,2.4 0 1,0 -4.8,0M820.7,1307.3a2.4,2.4 0 1,0 4.8,0a2.4,2.4 0 1,0 -4.8,0M838.1,1322.2a2.4,2.4 0 1,0 4.8,0a2.4,2.4 0 1,0 -4.8,0M655.7,1242.3a2.4,2.4 0 1,0 4.8,0a2.4,2.4 0 1,0 -4.8,0M674.5,1243.7a2.4,2.4 0 1,0 4.8,0a2.4,2.4 0 1,0 -4.8,0M688.3,1258.5a2.4,2.4 0 1,0 4.8,0a2.4,2.4 0 1,0 -4.8,0M699.8,1258.3a2.4,2.4 0 1,0 4.8,0a2.4,2.4 0 1,0 -4.8,0M720.2,1270.4a2.4,2.4 0 1,0 4.8,0a2.4,2.4 0 1,0 -4.8,0M731.1,1269.3a2.4,2.4 0 1,0 4.8,0a2.4,2.4 0 1,0 -4.8,0M748.0,1276.1a2.4,2.4 0 1,0 4.8,0a2.4,2.4 0 1,0 -4.8,0M762.1,1288.7a2.4,2.4 0 1,0 4.8,0a2.4,2.4 0 1,0 -4.8,0M787.3,1278.2a2.4,2.4 0 1,0 4.8,0a2.4,2.4 0 1,0 -4.8,0M792.5,1294.4a2.4,2.4 0 1,0 4.8,0a2.4,2.4 0 1,0 -4.8,0M813.3,1328.4a2.4,2.4 0 1,0 4.8,0a2.4,2.4 0 1,0 -4.8,0M822.4,1298.9a2.4,2.4 0 1,0 4.8,0a2.4,2.4 0 1,0 -4.8,0M838.7,1294.1a2.4,2.4 0 1,0 4.8,0a2.4,2.4 0 1,0 -4.8,0M676.0,1250.2a2.4,2.4 0 1,0 4.8,0a2.4,2.4 0 1,0 -4.8,0M685.1,1258.6a2.4,2.4 0 1,0 4.8,0a2.4,2.4 0 1,0 -4.8,0M702.4,1262.3a2.4,2.4 0 1,0 4.8,0a2.4,2.4 0 1,0 -4.8,0M719.0,1269.5a2.4,2.4 0 1,0 4.8,0a2.4,2.4 0 1,0 -4.8,0M727.6,1275.8a2.4,2.4 0 1,0 4.8,0a2.4,2.4 0 1,0 -4.8,0M745.3,1281.3a2.4,2.4 0 1,0 4.8,0a2.4,2.4 0 1,0 -4.8,0M765.6,1277.8a2.4,2.4 0 1,0 4.8,0a2.4,2.4 0 1,0 -4.8,0M778.9,1308.1a2.4,2.4 0 1,0 4.8,0a2.4,2.4 0 1,0 -4.8,0M795.0,1305.8a2.4,2.4 0 1,0 4.8,0a2.4,2.4 0 1,0 -4.8,0M810.0,1313.5a2.4,2.4 0 1,0 4.8,0a2.4,2.4 0 1,0 -4.8,0M818.6,1331.4a2.4,2.4 0 1,0 4.8,0a2.4,2.4 0 1,0 -4.8,0M838.2,1318.7a2.4,2.4 0 1,0 4.8,0a2.4,2.4 0 1,0 -4.8,0M682.6,1259.6a2.4,2.4 0 1,0 4.8,0a2.4,2.4 0 1,0 -4.8,0M701.7,1267.6a2.4,2.4 0 1,0 4.8,0a2.4,2.4 0 1,0 -4.8,0M716.2,1271.0a2.4,2.4 0 1,0 4.8,0a2.4,2.4 0 1,0 -4.8,0M731.9,1275.8a2.4,2.4 0 1,0 4.8,0a2.4,2.4 0 1,0 -4.8,0M752.4,1275.7a2.4,2.4 0 1,0 4.8,0a2.4,2.4 0 1,0 -4.8,0M764.1,1279.5a2.4,2.4 0 1,0 4.8,0a2.4,2.4 0 1,0 -4.8,0M778.0,1292.2a2.4,2.4 0 1,0 4.8,0a2.4,2.4 0 1,0 -4.8,0M798.4,1295.0a2.4,2.4 0 1,0 4.8,0a2.4,2.4 0 1,0 -4.8,0M813.3,1300.9a2.4,2.4 0 1,0 4.8,0a2.4,2.4 0 1,0 -4.8,0M824.2,1298.0a2.4,2.4 0 1,0 4.8,0a2.4,2.4 0 1,0 -4.8,0M839.0,1293.5a2.4,2.4 0 1,0 4.8,0a2.4,2.4 0 1,0 -4.8,0M663.2,1243.6a2.4,2.4 0 1,0 4.8,0a2.4,2.4 0 1,0 -4.8,0M676.8,1245.7a2.4,2.4 0 1,0 4.8,0a2.4,2.4 0 1,0 -4.8,0M683.5,1245.5a2.4,2.4 0 1,0 4.8,0a2.4,2.4 0 1,0 -4.8,0M703.9,1254.7a2.4,2.4 0 1,0 4.8,0a2.4,2.4 0 1,0 -4.8,0M716.6,1259.7a2.4,2.4 0 1,0 4.8,0a2.4,2.4 0 1,0 -4.8,0M736.6,1269.1a2.4,2.4 0 1,0 4.8,0a2.4,2.4 0 1,0 -4.8,0M744.3,1271.4a2.4,2.4 0 1,0 4.8,0a2.4,2.4 0 1,0 -4.8,0M768.8,1288.0a2.4,2.4 0 1,0 4.8,0a2.4,2.4 0 1,0 -4.8,0M778.7,1275.5a2.4,2.4 0 1,0 4.8,0a2.4,2.4 0 1,0 -4.8,0M796.6,1290.9a2.4,2.4 0 1,0 4.8,0a2.4,2.4 0 1,0 -4.8,0M813.8,1283.5a2.4,2.4 0 1,0 4.8,0a2.4,2.4 0 1,0 -4.8,0M816.9,1294.8a2.4,2.4 0 1,0 4.8,0a2.4,2.4 0 1,0 -4.8,0M835.5,1284.5a2.4,2.4 0 1,0 4.8,0a2.4,2.4 0 1,0 -4.8,0M665.3,1249.5a2.4,2.4 0 1,0 4.8,0a2.4,2.4 0 1,0 -4.8,0M670.4,1256.4a2.4,2.4 0 1,0 4.8,0a2.4,2.4 0 1,0 -4.8,0M690.1,1259.8a2.4,2.4 0 1,0 4.8,0a2.4,2.4 0 1,0 -4.8,0M706.4,1266.2a2.4,2.4 0 1,0 4.8,0a2.4,2.4 0 1,0 -4.8,0M712.9,1269.2a2.4,2.4 0 1,0 4.8,0a2.4,2.4 0 1,0 -4.8,0M733.9,1280.7a2.4,2.4 0 1,0 4.8,0a2.4,2.4 0 1,0 -4.8,0M745.2,1283.2a2.4,2.4 0 1,0 4.8,0a2.4,2.4 0 1,0 -4.8,0M769.7,1291.8a2.4,2.4 0 1,0 4.8,0a2.4,2.4 0 1,0 -4.8,0M778.0,1299.2a2.4,2.4 0 1,0 4.8,0a2.4,2.4 0 1,0 -4.8,0M792.2,1308.8a2.4,2.4 0 1,0 4.8,0a2.4,2.4 0 1,0 -4.8,0M811.6,1318.8a2.4,2.4 0 1,0 4.8,0a2.4,2.4 0 1,0 -4.8,0M820.0,1327.2a2.4,2.4 0 1,0 4.8,0a2.4,2.4 0 1,0 -4.8,0M842.0,1316.0a2.4,2.4 0 1,0 4.8,0a2.4,2.4 0 1,0 -4.8,0M673.2,1248.0a2.4,2.4 0 1,0 4.8,0a2.4,2.4 0 1,0 -4.8,0M684.1,1252.9a2.4,2.4 0 1,0 4.8,0a2.4,2.4 0 1,0 -4.8,0M702.9,1259.3a2.4,2.4 0 1,0 4.8,0a2.4,2.4 0 1,0 -4.8,0M711.8,1258.1a2.4,2.4 0 1,0 4.8,0a2.4,2.4 0 1,0 -4.8,0M737.3,1270.3a2.4,2.4 0 1,0 4.8,0a2.4,2.4 0 1,0 -4.8,0M747.7,1272.2a2.4,2.4 0 1,0 4.8,0a2.4,2.4 0 1,0 -4.8,0M766.2,1285.2a2.4,2.4 0 1,0 4.8,0a2.4,2.4 0 1,0 -4.8,0M782.8,1287.5a2.4,2.4 0 1,0 4.8,0a2.4,2.4 0 1,0 -4.8,0M791.6,1280.3a2.4,2.4 0 1,0 4.8,0a2.4,2.4 0 1,0 -4.8,0M810.3,1293.6a2.4,2.4 0 1,0 4.8,0a2.4,2.4 0 1,0 -4.8,0M819.8,1290.2a2.4,2.4 0 1,0 4.8,0a2.4,2.4 0 1,0 -4.8,0M835.5,1308.2a2.4,2.4 0 1,0 4.8,0a2.4,2.4 0 1,0 -4.8,0M672.8,1272.4a2.4,2.4 0 1,0 4.8,0a2.4,2.4 0 1,0 -4.8,0M689.2,1279.8a2.4,2.4 0 1,0 4.8,0a2.4,2.4 0 1,0 -4.8,0M701.6,1288.3a2.4,2.4 0 1,0 4.8,0a2.4,2.4 0 1,0 -4.8,0M716.0,1289.1a2.4,2.4 0 1,0 4.8,0a2.4,2.4 0 1,0 -4.8,0M736.0,1297.9a2.4,2.4 0 1,0 4.8,0a2.4,2.4 0 1,0 -4.8,0M750.2,1306.9a2.4,2.4 0 1,0 4.8,0a2.4,2.4 0 1,0 -4.8,0M766.1,1306.3a2.4,2.4 0 1,0 4.8,0a2.4,2.4 0 1,0 -4.8,0M787.0,1316.0a2.4,2.4 0 1,0 4.8,0a2.4,2.4 0 1,0 -4.8,0M792.9,1315.8a2.4,2.4 0 1,0 4.8,0a2.4,2.4 0 1,0 -4.8,0M812.1,1337.0a2.4,2.4 0 1,0 4.8,0a2.4,2.4 0 1,0 -4.8,0M818.6,1331.8a2.4,2.4 0 1,0 4.8,0a2.4,2.4 0 1,0 -4.8,0M839.1,1322.4a2.4,2.4 0 1,0 4.8,0a2.4,2.4 0 1,0 -4.8,0M678.4,1249.7a2.4,2.4 0 1,0 4.8,0a2.4,2.4 0 1,0 -4.8,0M682.0,1249.5a2.4,2.4 0 1,0 4.8,0a2.4,2.4 0 1,0 -4.8,0M705.5,1258.1a2.4,2.4 0 1,0 4.8,0a2.4,2.4 0 1,0 -4.8,0M716.6,1261.6a2.4,2.4 0 1,0 4.8,0a2.4,2.4 0 1,0 -4.8,0M733.0,1266.2a2.4,2.4 0 1,0 4.8,0a2.4,2.4 0 1,0 -4.8,0M751.2,1277.5a2.4,2.4 0 1,0 4.8,0a2.4,2.4 0 1,0 -4.8,0M763.2,1277.3a2.4,2.4 0 1,0 4.8,0a2.4,2.4 0 1,0 -4.8,0M779.0,1277.8a2.4,2.4 0 1,0 4.8,0a2.4,2.4 0 1,0 -4.8,0M794.3,1287.2a2.4,2.4 0 1,0 4.8,0a2.4,2.4 0 1,0 -4.8,0M804.7,1294.2a2.4,2.4 0 1,0 4.8,0a2.4,2.4 0 1,0 -4.8,0M820.1,1323.1a2.4,2.4 0 1,0 4.8,0a2.4,2.4 0 1,0 -4.8,0M839.3,1282.5a2.4,2.4 0 1,0 4.8,0a2.4,2.4 0 1,0 -4.8,0M664.6,1243.7a2.4,2.4 0 1,0 4.8,0a2.4,2.4 0 1,0 -4.8,0M676.2,1246.6a2.4,2.4 0 1,0 4.8,0a2.4,2.4 0 1,0 -4.8,0M681.7,1246.0a2.4,2.4 0 1,0 4.8,0a2.4,2.4 0 1,0 -4.8,0M698.9,1255.1a2.4,2.4 0 1,0 4.8,0a2.4,2.4 0 1,0 -4.8,0M719.8,1260.8a2.4,2.4 0 1,0 4.8,0a2.4,2.4 0 1,0 -4.8,0M728.9,1264.8a2.4,2.4 0 1,0 4.8,0a2.4,2.4 0 1,0 -4.8,0M747.3,1274.4a2.4,2.4 0 1,0 4.8,0a2.4,2.4 0 1,0 -4.8,0M763.8,1291.6a2.4,2.4 0 1,0 4.8,0a2.4,2.4 0 1,0 -4.8,0M781.8,1296.0a2.4,2.4 0 1,0 4.8,0a2.4,2.4 0 1,0 -4.8,0M791.9,1292.2a2.4,2.4 0 1,0 4.8,0a2.4,2.4 0 1,0 -4.8,0M804.6,1297.6a2.4,2.4 0 1,0 4.8,0a2.4,2.4 0 1,0 -4.8,0M826.9,1296.8a2.4,2.4 0 1,0 4.8,0a2.4,2.4 0 1,0 -4.8,0M840.7,1317.1a2.4,2.4 0 1,0 4.8,0a2.4,2.4 0 1,0 -4.8,0M661.5,1257.9a2.4,2.4 0 1,0 4.8,0a2.4,2.4 0 1,0 -4.8,0M676.5,1260.2a2.4,2.4 0 1,0 4.8,0a2.4,2.4 0 1,0 -4.8,0M683.5,1261.9a2.4,2.4 0 1,0 4.8,0a2.4,2.4 0 1,0 -4.8,0M699.9,1268.3a2.4,2.4 0 1,0 4.8,0a2.4,2.4 0 1,0 -4.8,0M712.8,1275.5a2.4,2.4 0 1,0 4.8,0a2.4,2.4 0 1,0 -4.8,0M733.0,1287.1a2.4,2.4 0 1,0 4.8,0a2.4,2.4 0 1,0 -4.8,0M744.9,1290.0a2.4,2.4 0 1,0 4.8,0a2.4,2.4 0 1,0 -4.8,0M762.9,1294.3a2.4,2.4 0 1,0 4.8,0a2.4,2.4 0 1,0 -4.8,0M779.7,1306.2a2.4,2.4 0 1,0 4.8,0a2.4,2.4 0 1,0 -4.8,0M795.9,1302.8a2.4,2.4 0 1,0 4.8,0a2.4,2.4 0 1,0 -4.8,0M807.4,1325.0a2.4,2.4 0 1,0 4.8,0a2.4,2.4 0 1,0 -4.8,0M821.4,1314.7a2.4,2.4 0 1,0 4.8,0a2.4,2.4 0 1,0 -4.8,0M843.0,1319.6a2.4,2.4 0 1,0 4.8,0a2.4,2.4 0 1,0 -4.8,0M646.1,1239.1a2.4,2.4 0 1,0 4.8,0a2.4,2.4 0 1,0 -4.8,0M658.8,1245.2a2.4,2.4 0 1,0 4.8,0a2.4,2.4 0 1,0 -4.8,0M672.6,1245.3a2.4,2.4 0 1,0 4.8,0a2.4,2.4 0 1,0 -4.8,0M682.1,1246.9a2.4,2.4 0 1,0 4.8,0a2.4,2.4 0 1,0 -4.8,0M705.3,1252.8a2.4,2.4 0 1,0 4.8,0a2.4,2.4 0 1,0 -4.8,0M714.2,1257.9a2.4,2.4 0 1,0 4.8,0a2.4,2.4 0 1,0 -4.8,0M735.2,1259.9a2.4,2.4 0 1,0 4.8,0a2.4,2.4 0 1,0 -4.8,0M748.5,1269.1a2.4,2.4 0 1,0 4.8,0a2.4,2.4 0 1,0 -4.8,0M761.4,1274.2a2.4,2.4 0 1,0 4.8,0a2.4,2.4 0 1,0 -4.8,0M781.5,1278.1a2.4,2.4 0 1,0 4.8,0a2.4,2.4 0 1,0 -4.8,0M793.6,1266.5a2.4,2.4 0 1,0 4.8,0a2.4,2.4 0 1,0 -4.8,0M804.7,1278.1a2.4,2.4 0 1,0 4.8,0a2.4,2.4 0 1,0 -4.8,0M818.4,1289.9a2.4,2.4 0 1,0 4.8,0a2.4,2.4 0 1,0 -4.8,0M839.0,1325.3a2.4,2.4 0 1,0 4.8,0a2.4,2.4 0 1,0 -4.8,0M685.4,1248.4a2.4,2.4 0 1,0 4.8,0a2.4,2.4 0 1,0 -4.8,0M699.4,1253.2a2.4,2.4 0 1,0 4.8,0a2.4,2.4 0 1,0 -4.8,0M717.7,1260.4a2.4,2.4 0 1,0 4.8,0a2.4,2.4 0 1,0 -4.8,0M736.7,1264.9a2.4,2.4 0 1,0 4.8,0a2.4,2.4 0 1,0 -4.8,0M745.5,1269.4a2.4,2.4 0 1,0 4.8,0a2.4,2.4 0 1,0 -4.8,0M767.8,1269.7a2.4,2.4 0 1,0 4.8,0a2.4,2.4 0 1,0 -4.8,0M784.2,1280.2a2.4,2.4 0 1,0 4.8,0a2.4,2.4 0 1,0 -4.8,0M800.7,1279.6a2.4,2.4 0 1,0 4.8,0a2.4,2.4 0 1,0 -4.8,0M813.0,1281.9a2.4,2.4 0 1,0 4.8,0a2.4,2.4 0 1,0 -4.8,0M819.3,1306.3a2.4,2.4 0 1,0 4.8,0a2.4,2.4 0 1,0 -4.8,0M839.4,1299.6a2.4,2.4 0 1,0 4.8,0a2.4,2.4 0 1,0 -4.8,0M674.5,1247.0a2.4,2.4 0 1,0 4.8,0a2.4,2.4 0 1,0 -4.8,0M681.5,1251.2a2.4,2.4 0 1,0 4.8,0a2.4,2.4 0 1,0 -4.8,0M700.4,1256.2a2.4,2.4 0 1,0 4.8,0a2.4,2.4 0 1,0 -4.8,0M714.6,1265.2a2.4,2.4 0 1,0 4.8,0a2.4,2.4 0 1,0 -4.8,0M728.1,1268.6a2.4,2.4 0 1,0 4.8,0a2.4,2.4 0 1,0 -4.8,0M747.4,1272.2a2.4,2.4 0 1,0 4.8,0a2.4,2.4 0 1,0 -4.8,0M761.4,1276.9a2.4,2.4 0 1,0 4.8,0a2.4,2.4 0 1,0 -4.8,0M782.5,1279.8a2.4,2.4 0 1,0 4.8,0a2.4,2.4 0 1,0 -4.8,0M797.1,1300.2a2.4,2.4 0 1,0 4.8,0a2.4,2.4 0 1,0 -4.8,0M809.0,1289.7a2.4,2.4 0 1,0 4.8,0a2.4,2.4 0 1,0 -4.8,0M820.2,1309.5a2.4,2.4 0 1,0 4.8,0a2.4,2.4 0 1,0 -4.8,0M835.6,1315.3a2.4,2.4 0 1,0 4.8,0a2.4,2.4 0 1,0 -4.8,0M681.6,1251.1a2.4,2.4 0 1,0 4.8,0a2.4,2.4 0 1,0 -4.8,0M700.3,1263.3a2.4,2.4 0 1,0 4.8,0a2.4,2.4 0 1,0 -4.8,0M720.0,1272.7a2.4,2.4 0 1,0 4.8,0a2.4,2.4 0 1,0 -4.8,0M727.9,1278.6a2.4,2.4 0 1,0 4.8,0a2.4,2.4 0 1,0 -4.8,0M744.7,1285.2a2.4,2.4 0 1,0 4.8,0a2.4,2.4 0 1,0 -4.8,0M765.9,1294.2a2.4,2.4 0 1,0 4.8,0a2.4,2.4 0 1,0 -4.8,0M780.6,1292.6a2.4,2.4 0 1,0 4.8,0a2.4,2.4 0 1,0 -4.8,0M794.8,1316.0a2.4,2.4 0 1,0 4.8,0a2.4,2.4 0 1,0 -4.8,0M814.1,1325.3a2.4,2.4 0 1,0 4.8,0a2.4,2.4 0 1,0 -4.8,0M818.4,1323.8a2.4,2.4 0 1,0 4.8,0a2.4,2.4 0 1,0 -4.8,0M834.9,1321.7a2.4,2.4 0 1,0 4.8,0a2.4,2.4 0 1,0 -4.8,0M674.0,1246.8a2.4,2.4 0 1,0 4.8,0a2.4,2.4 0 1,0 -4.8,0M691.0,1252.7a2.4,2.4 0 1,0 4.8,0a2.4,2.4 0 1,0 -4.8,0M704.7,1255.7a2.4,2.4 0 1,0 4.8,0a2.4,2.4 0 1,0 -4.8,0M712.5,1259.8a2.4,2.4 0 1,0 4.8,0a2.4,2.4 0 1,0 -4.8,0M733.8,1266.2a2.4,2.4 0 1,0 4.8,0a2.4,2.4 0 1,0 -4.8,0M748.2,1270.2a2.4,2.4 0 1,0 4.8,0a2.4,2.4 0 1,0 -4.8,0M766.5,1275.1a2.4,2.4 0 1,0 4.8,0a2.4,2.4 0 1,0 -4.8,0M781.2,1274.4a2.4,2.4 0 1,0 4.8,0a2.4,2.4 0 1,0 -4.8,0M794.0,1279.2a2.4,2.4 0 1,0 4.8,0a2.4,2.4 0 1,0 -4.8,0M811.8,1281.9a2.4,2.4 0 1,0 4.8,0a2.4,2.4 0 1,0 -4.8,0M822.3,1304.4a2.4,2.4 0 1,0 4.8,0a2.4,2.4 0 1,0 -4.8,0M835.4,1311.7a2.4,2.4 0 1,0 4.8,0a2.4,2.4 0 1,0 -4.8,0M675.1,1248.7a2.4,2.4 0 1,0 4.8,0a2.4,2.4 0 1,0 -4.8,0M684.6,1252.2a2.4,2.4 0 1,0 4.8,0a2.4,2.4 0 1,0 -4.8,0M699.8,1260.1a2.4,2.4 0 1,0 4.8,0a2.4,2.4 0 1,0 -4.8,0M718.5,1267.8a2.4,2.4 0 1,0 4.8,0a2.4,2.4 0 1,0 -4.8,0M736.0,1272.8a2.4,2.4 0 1,0 4.8,0a2.4,2.4 0 1,0 -4.8,0M751.6,1277.5a2.4,2.4 0 1,0 4.8,0a2.4,2.4 0 1,0 -4.8,0M766.6,1300.7a2.4,2.4 0 1,0 4.8,0a2.4,2.4 0 1,0 -4.8,0M781.7,1299.8a2.4,2.4 0 1,0 4.8,0a2.4,2.4 0 1,0 -4.8,0M798.3,1299.4a2.4,2.4 0 1,0 4.8,0a2.4,2.4 0 1,0 -4.8,0M810.5,1308.5a2.4,2.4 0 1,0 4.8,0a2.4,2.4 0 1,0 -4.8,0M825.2,1321.2a2.4,2.4 0 1,0 4.8,0a2.4,2.4 0 1,0 -4.8,0M841.1,1340.9a2.4,2.4 0 1,0 4.8,0a2.4,2.4 0 1,0 -4.8,0M686.1,1256.8a2.4,2.4 0 1,0 4.8,0a2.4,2.4 0 1,0 -4.8,0M697.6,1263.5a2.4,2.4 0 1,0 4.8,0a2.4,2.4 0 1,0 -4.8,0M714.2,1277.8a2.4,2.4 0 1,0 4.8,0a2.4,2.4 0 1,0 -4.8,0M727.8,1280.6a2.4,2.4 0 1,0 4.8,0a2.4,2.4 0 1,0 -4.8,0M748.8,1280.0a2.4,2.4 0 1,0 4.8,0a2.4,2.4 0 1,0 -4.8,0M765.7,1309.6a2.4,2.4 0 1,0 4.8,0a2.4,2.4 0 1,0 -4.8,0M781.3,1307.1a2.4,2.4 0 1,0 4.8,0a2.4,2.4 0 1,0 -4.8,0M794.3,1294.5a2.4,2.4 0 1,0 4.8,0a2.4,2.4 0 1,0 -4.8,0M812.3,1305.9a2.4,2.4 0 1,0 4.8,0a2.4,2.4 0 1,0 -4.8,0M825.3,1351.3a2.4,2.4 0 1,0 4.8,0a2.4,2.4 0 1,0 -4.8,0M835.9,1323.6a2.4,2.4 0 1,0 4.8,0a2.4,2.4 0 1,0 -4.8,0M655.0,1269.1a2.4,2.4 0 1,0 4.8,0a2.4,2.4 0 1,0 -4.8,0M673.5,1277.1a2.4,2.4 0 1,0 4.8,0a2.4,2.4 0 1,0 -4.8,0M685.0,1275.8a2.4,2.4 0 1,0 4.8,0a2.4,2.4 0 1,0 -4.8,0M699.0,1283.4a2.4,2.4 0 1,0 4.8,0a2.4,2.4 0 1,0 -4.8,0M711.4,1286.7a2.4,2.4 0 1,0 4.8,0a2.4,2.4 0 1,0 -4.8,0M728.1,1296.0a2.4,2.4 0 1,0 4.8,0a2.4,2.4 0 1,0 -4.8,0M752.3,1305.2a2.4,2.4 0 1,0 4.8,0a2.4,2.4 0 1,0 -4.8,0M764.0,1310.2a2.4,2.4 0 1,0 4.8,0a2.4,2.4 0 1,0 -4.8,0M778.3,1315.2a2.4,2.4 0 1,0 4.8,0a2.4,2.4 0 1,0 -4.8,0M793.0,1307.2a2.4,2.4 0 1,0 4.8,0a2.4,2.4 0 1,0 -4.8,0M809.1,1321.8a2.4,2.4 0 1,0 4.8,0a2.4,2.4 0 1,0 -4.8,0M826.9,1326.9a2.4,2.4 0 1,0 4.8,0a2.4,2.4 0 1,0 -4.8,0M835.0,1348.8a2.4,2.4 0 1,0 4.8,0a2.4,2.4 0 1,0 -4.8,0M658.5,1253.6a2.4,2.4 0 1,0 4.8,0a2.4,2.4 0 1,0 -4.8,0M673.9,1250.1a2.4,2.4 0 1,0 4.8,0a2.4,2.4 0 1,0 -4.8,0M681.4,1254.6a2.4,2.4 0 1,0 4.8,0a2.4,2.4 0 1,0 -4.8,0M698.5,1268.2a2.4,2.4 0 1,0 4.8,0a2.4,2.4 0 1,0 -4.8,0M720.5,1273.5a2.4,2.4 0 1,0 4.8,0a2.4,2.4 0 1,0 -4.8,0M727.6,1278.6a2.4,2.4 0 1,0 4.8,0a2.4,2.4 0 1,0 -4.8,0M748.6,1270.5a2.4,2.4 0 1,0 4.8,0a2.4,2.4 0 1,0 -4.8,0M769.0,1286.9a2.4,2.4 0 1,0 4.8,0a2.4,2.4 0 1,0 -4.8,0M785.5,1303.2a2.4,2.4 0 1,0 4.8,0a2.4,2.4 0 1,0 -4.8,0M798.5,1318.6a2.4,2.4 0 1,0 4.8,0a2.4,2.4 0 1,0 -4.8,0M808.3,1306.4a2.4,2.4 0 1,0 4.8,0a2.4,2.4 0 1,0 -4.8,0M825.0,1327.4a2.4,2.4 0 1,0 4.8,0a2.4,2.4 0 1,0 -4.8,0M841.3,1335.6a2.4,2.4 0 1,0 4.8,0a2.4,2.4 0 1,0 -4.8,0M659.5,1243.7a2.4,2.4 0 1,0 4.8,0a2.4,2.4 0 1,0 -4.8,0M676.1,1256.6a2.4,2.4 0 1,0 4.8,0a2.4,2.4 0 1,0 -4.8,0M683.4,1255.7a2.4,2.4 0 1,0 4.8,0a2.4,2.4 0 1,0 -4.8,0M703.9,1261.5a2.4,2.4 0 1,0 4.8,0a2.4,2.4 0 1,0 -4.8,0M716.4,1263.6a2.4,2.4 0 1,0 4.8,0a2.4,2.4 0 1,0 -4.8,0M734.3,1276.6a2.4,2.4 0 1,0 4.8,0a2.4,2.4 0 1,0 -4.8,0M745.1,1276.1a2.4,2.4 0 1,0 4.8,0a2.4,2.4 0 1,0 -4.8,0M761.9,1267.7a2.4,2.4 0 1,0 4.8,0a2.4,2.4 0 1,0 -4.8,0M778.9,1278.1a2.4,2.4 0 1,0 4.8,0a2.4,2.4 0 1,0 -4.8,0M794.7,1297.8a2.4,2.4 0 1,0 4.8,0a2.4,2.4 0 1,0 -4.8,0M808.6,1296.9a2.4,2.4 0 1,0 4.8,0a2.4,2.4 0 1,0 -4.8,0M817.0,1310.1a2.4,2.4 0 1,0 4.8,0a2.4,2.4 0 1,0 -4.8,0M838.1,1305.0a2.4,2.4 0 1,0 4.8,0a2.4,2.4 0 1,0 -4.8,0M685.9,1253.4a2.4,2.4 0 1,0 4.8,0a2.4,2.4 0 1,0 -4.8,0M697.9,1256.4a2.4,2.4 0 1,0 4.8,0a2.4,2.4 0 1,0 -4.8,0M717.3,1269.1a2.4,2.4 0 1,0 4.8,0a2.4,2.4 0 1,0 -4.8,0M731.3,1275.4a2.4,2.4 0 1,0 4.8,0a2.4,2.4 0 1,0 -4.8,0M749.8,1276.8a2.4,2.4 0 1,0 4.8,0a2.4,2.4 0 1,0 -4.8,0M763.0,1292.8a2.4,2.4 0 1,0 4.8,0a2.4,2.4 0 1,0 -4.8,0M783.7,1291.0a2.4,2.4 0 1,0 4.8,0a2.4,2.4 0 1,0 -4.8,0M800.1,1345.0a2.4,2.4 0 1,0 4.8,0a2.4,2.4 0 1,0 -4.8,0M812.9,1311.5a2.4,2.4 0 1,0 4.8,0a2.4,2.4 0 1,0 -4.8,0M823.2,1320.7a2.4,2.4 0 1,0 4.8,0a2.4,2.4 0 1,0 -4.8,0M838.1,1324.0a2.4,2.4 0 1,0 4.8,0a2.4,2.4 0 1,0 -4.8,0M676.0,1267.4a2.4,2.4 0 1,0 4.8,0a2.4,2.4 0 1,0 -4.8,0M684.5,1268.6a2.4,2.4 0 1,0 4.8,0a2.4,2.4 0 1,0 -4.8,0M703.8,1279.9a2.4,2.4 0 1,0 4.8,0a2.4,2.4 0 1,0 -4.8,0M720.8,1283.7a2.4,2.4 0 1,0 4.8,0a2.4,2.4 0 1,0 -4.8,0M731.6,1289.0a2.4,2.4 0 1,0 4.8,0a2.4,2.4 0 1,0 -4.8,0M752.0,1288.8a2.4,2.4 0 1,0 4.8,0a2.4,2.4 0 1,0 -4.8,0M762.1,1310.8a2.4,2.4 0 1,0 4.8,0a2.4,2.4 0 1,0 -4.8,0M787.4,1309.0a2.4,2.4 0 1,0 4.8,0a2.4,2.4 0 1,0 -4.8,0M796.1,1324.0a2.4,2.4 0 1,0 4.8,0a2.4,2.4 0 1,0 -4.8,0M806.6,1317.9a2.4,2.4 0 1,0 4.8,0a2.4,2.4 0 1,0 -4.8,0M825.3,1354.4a2.4,2.4 0 1,0 4.8,0a2.4,2.4 0 1,0 -4.8,0M839.5,1331.6a2.4,2.4 0 1,0 4.8,0a2.4,2.4 0 1,0 -4.8,0M677.3,1258.8a2.4,2.4 0 1,0 4.8,0a2.4,2.4 0 1,0 -4.8,0M686.8,1261.7a2.4,2.4 0 1,0 4.8,0a2.4,2.4 0 1,0 -4.8,0M705.5,1269.6a2.4,2.4 0 1,0 4.8,0a2.4,2.4 0 1,0 -4.8,0M718.9,1279.3a2.4,2.4 0 1,0 4.8,0a2.4,2.4 0 1,0 -4.8,0M729.0,1280.4a2.4,2.4 0 1,0 4.8,0a2.4,2.4 0 1,0 -4.8,0M747.0,1289.0a2.4,2.4 0 1,0 4.8,0a2.4,2.4 0 1,0 -4.8,0M761.8,1289.3a2.4,2.4 0 1,0 4.8,0a2.4,2.4 0 1,0 -4.8,0M777.9,1301.8a2.4,2.4 0 1,0 4.8,0a2.4,2.4 0 1,0 -4.8,0M794.6,1309.1a2.4,2.4 0 1,0 4.8,0a2.4,2.4 0 1,0 -4.8,0M812.9,1321.2a2.4,2.4 0 1,0 4.8,0a2.4,2.4 0 1,0 -4.8,0M825.3,1313.7a2.4,2.4 0 1,0 4.8,0a2.4,2.4 0 1,0 -4.8,0M834.2,1324.0a2.4,2.4 0 1,0 4.8,0a2.4,2.4 0 1,0 -4.8,0M674.3,1254.7a2.4,2.4 0 1,0 4.8,0a2.4,2.4 0 1,0 -4.8,0M683.1,1256.6a2.4,2.4 0 1,0 4.8,0a2.4,2.4 0 1,0 -4.8,0M697.7,1260.7a2.4,2.4 0 1,0 4.8,0a2.4,2.4 0 1,0 -4.8,0M717.9,1272.2a2.4,2.4 0 1,0 4.8,0a2.4,2.4 0 1,0 -4.8,0M732.2,1277.1a2.4,2.4 0 1,0 4.8,0a2.4,2.4 0 1,0 -4.8,0M744.6,1284.9a2.4,2.4 0 1,0 4.8,0a2.4,2.4 0 1,0 -4.8,0M762.0,1297.4a2.4,2.4 0 1,0 4.8,0a2.4,2.4 0 1,0 -4.8,0M786.9,1310.0a2.4,2.4 0 1,0 4.8,0a2.4,2.4 0 1,0 -4.8,0M797.3,1302.5a2.4,2.4 0 1,0 4.8,0a2.4,2.4 0 1,0 -4.8,0M807.9,1319.2a2.4,2.4 0 1,0 4.8,0a2.4,2.4 0 1,0 -4.8,0M818.9,1306.8a2.4,2.4 0 1,0 4.8,0a2.4,2.4 0 1,0 -4.8,0M843.0,1331.5a2.4,2.4 0 1,0 4.8,0a2.4,2.4 0 1,0 -4.8,0M664.5,1240.0a2.4,2.4 0 1,0 4.8,0a2.4,2.4 0 1,0 -4.8,0M678.0,1246.5a2.4,2.4 0 1,0 4.8,0a2.4,2.4 0 1,0 -4.8,0M685.2,1249.2a2.4,2.4 0 1,0 4.8,0a2.4,2.4 0 1,0 -4.8,0M703.9,1255.7a2.4,2.4 0 1,0 4.8,0a2.4,2.4 0 1,0 -4.8,0M717.0,1260.6a2.4,2.4 0 1,0 4.8,0a2.4,2.4 0 1,0 -4.8,0M732.0,1269.4a2.4,2.4 0 1,0 4.8,0a2.4,2.4 0 1,0 -4.8,0M743.9,1275.2a2.4,2.4 0 1,0 4.8,0a2.4,2.4 0 1,0 -4.8,0M765.1,1279.1a2.4,2.4 0 1,0 4.8,0a2.4,2.4 0 1,0 -4.8,0M780.3,1282.9a2.4,2.4 0 1,0 4.8,0a2.4,2.4 0 1,0 -4.8,0M795.6,1346.2a2.4,2.4 0 1,0 4.8,0a2.4,2.4 0 1,0 -4.8,0M813.8,1297.2a2.4,2.4 0 1,0 4.8,0a2.4,2.4 0 1,0 -4.8,0M819.8,1302.2a2.4,2.4 0 1,0 4.8,0a2.4,2.4 0 1,0 -4.8,0M840.0,1318.5a2.4,2.4 0 1,0 4.8,0a2.4,2.4 0 1,0 -4.8,0M671.8,1253.8a2.4,2.4 0 1,0 4.8,0a2.4,2.4 0 1,0 -4.8,0M686.0,1260.1a2.4,2.4 0 1,0 4.8,0a2.4,2.4 0 1,0 -4.8,0M700.1,1262.2a2.4,2.4 0 1,0 4.8,0a2.4,2.4 0 1,0 -4.8,0M715.6,1269.1a2.4,2.4 0 1,0 4.8,0a2.4,2.4 0 1,0 -4.8,0M730.7,1277.1a2.4,2.4 0 1,0 4.8,0a2.4,2.4 0 1,0 -4.8,0M750.0,1280.7a2.4,2.4 0 1,0 4.8,0a2.4,2.4 0 1,0 -4.8,0M766.9,1292.4a2.4,2.4 0 1,0 4.8,0a2.4,2.4 0 1,0 -4.8,0M787.2,1301.9a2.4,2.4 0 1,0 4.8,0a2.4,2.4 0 1,0 -4.8,0M800.9,1305.7a2.4,2.4 0 1,0 4.8,0a2.4,2.4 0 1,0 -4.8,0M814.2,1304.6a2.4,2.4 0 1,0 4.8,0a2.4,2.4 0 1,0 -4.8,0M820.9,1306.3a2.4,2.4 0 1,0 4.8,0a2.4,2.4 0 1,0 -4.8,0M841.3,1316.1a2.4,2.4 0 1,0 4.8,0a2.4,2.4 0 1,0 -4.8,0M678.9,1250.5a2.4,2.4 0 1,0 4.8,0a2.4,2.4 0 1,0 -4.8,0M688.6,1253.2a2.4,2.4 0 1,0 4.8,0a2.4,2.4 0 1,0 -4.8,0M704.2,1260.7a2.4,2.4 0 1,0 4.8,0a2.4,2.4 0 1,0 -4.8,0M712.1,1262.7a2.4,2.4 0 1,0 4.8,0a2.4,2.4 0 1,0 -4.8,0M732.2,1268.6a2.4,2.4 0 1,0 4.8,0a2.4,2.4 0 1,0 -4.8,0M743.4,1273.4a2.4,2.4 0 1,0 4.8,0a2.4,2.4 0 1,0 -4.8,0M769.5,1314.5a2.4,2.4 0 1,0 4.8,0a2.4,2.4 0 1,0 -4.8,0M787.0,1291.0a2.4,2.4 0 1,0 4.8,0a2.4,2.4 0 1,0 -4.8,0M800.1,1278.4a2.4,2.4 0 1,0 4.8,0a2.4,2.4 0 1,0 -4.8,0M804.5,1287.9a2.4,2.4 0 1,0 4.8,0a2.4,2.4 0 1,0 -4.8,0M820.4,1296.8a2.4,2.4 0 1,0 4.8,0a2.4,2.4 0 1,0 -4.8,0M838.4,1358.2a2.4,2.4 0 1,0 4.8,0a2.4,2.4 0 1,0 -4.8,0M667.4,1240.6a2.4,2.4 0 1,0 4.8,0a2.4,2.4 0 1,0 -4.8,0M685.4,1248.5a2.4,2.4 0 1,0 4.8,0a2.4,2.4 0 1,0 -4.8,0M702.6,1254.9a2.4,2.4 0 1,0 4.8,0a2.4,2.4 0 1,0 -4.8,0M719.6,1263.0a2.4,2.4 0 1,0 4.8,0a2.4,2.4 0 1,0 -4.8,0M737.2,1269.3a2.4,2.4 0 1,0 4.8,0a2.4,2.4 0 1,0 -4.8,0M747.5,1277.7a2.4,2.4 0 1,0 4.8,0a2.4,2.4 0 1,0 -4.8,0M760.9,1281.8a2.4,2.4 0 1,0 4.8,0a2.4,2.4 0 1,0 -4.8,0M779.0,1318.4a2.4,2.4 0 1,0 4.8,0a2.4,2.4 0 1,0 -4.8,0M799.4,1287.3a2.4,2.4 0 1,0 4.8,0a2.4,2.4 0 1,0 -4.8,0M811.6,1295.1a2.4,2.4 0 1,0 4.8,0a2.4,2.4 0 1,0 -4.8,0M824.1,1321.9a2.4,2.4 0 1,0 4.8,0a2.4,2.4 0 1,0 -4.8,0M834.6,1331.0a2.4,2.4 0 1,0 4.8,0a2.4,2.4 0 1,0 -4.8,0" fill="none" stroke="#808080" stroke-width="0.7"/>
<line x1="646.1" y1="1236.8" x2="841.4" y2="1311" stroke="#e0141a" stroke-width="2.6"/>
</g>
<line x1="653.3" y1="1326.1" x2="684.6" y2="1326.1" stroke="#999" stroke-width="1"/>
<circle cx="669.5" cy="1326.1" r="5" fill="#fff" stroke="#888" stroke-width="1"/>
<text x="693.30" y="1330.8" font-size="18.50" fill="#000" font-style="italic">F</text>
<text x="703.40" y="1335.0" font-size="12.50" fill="#000" textLength="17.8" lengthAdjust="spacingAndGlyphs">D-I</text>
<line x1="653.3" y1="1348.1" x2="684.6" y2="1348.1" stroke="#e0141a" stroke-width="2.6"/>
<text x="692.20" y="1352.9" font-size="18.50" fill="#000">⟨</text>
<text x="698.50" y="1352.9" font-size="18.50" fill="#000" font-style="italic">F</text>
<text x="709.79" y="1357.0" font-size="12.50" fill="#000" textLength="11.3" lengthAdjust="spacingAndGlyphs">fit</text>
<text x="719.50" y="1352.9" font-size="18.50" fill="#000">⟩</text>
<rect x="993.8" y="855.5" width="330.70000000000005" height="597.0" fill="#fff"/>
<rect x="1055.4" y="857" width="267.8" height="590.5" fill="#e6f2f9"/>
<path d="M1032.0,861.0 1032.3,1000.0 1032.8,1150.0 1033.3,1250.0 1033.7,1320.0 1034.1,1342.0 1035.2,1350.0 1036.2,1351.5 1037.0,1351.0 1037.7,1329.5 1038.4,1310.0 1039.0,1292.2 1039.7,1275.9 1040.4,1261.0 1041.0,1247.3 1041.7,1234.7 1042.4,1223.0 1043.0,1212.2 1043.7,1202.2 1044.3,1192.9 1045.0,1184.2 1045.7,1176.2 1046.3,1168.7 1047.0,1161.6 1047.7,1155.1 1048.3,1148.9 1049.0,1143.1 1049.7,1137.7 1050.3,1132.5 1051.0,1127.7 1051.6,1123.1 1052.3,1118.8 1053.0,1114.8 1053.6,1110.9 1054.3,1107.3 1055.0,1103.8 1055.6,1100.5 1056.3,1097.4 1057.0,1094.4 1057.6,1091.6 1058.3,1088.9 1058.9,1086.4 1059.6,1083.9 1060.3,1081.6 1060.9,1079.4 1061.6,1077.3 1062.3,1075.2 1062.9,1073.3 1063.6,1071.4 1064.2,1069.6 1064.9,1067.9 1065.6,1066.3 1066.2,1064.7 1066.9,1063.2 1067.6,1061.7 1068.2,1060.3 1068.9,1059.0 1069.6,1057.7 1070.2,1056.4 1070.9,1055.2 1071.5,1054.1 1072.2,1052.9 1072.9,1051.9 1073.5,1050.8 1074.2,1049.8 1074.9,1048.8 1075.5,1047.9 1076.2,1047.0 1076.9,1046.1 1077.5,1045.3 1078.2,1044.5 1078.8,1043.7 1079.5,1042.9 1080.2,1042.2 1080.8,1041.4 1081.5,1040.7 1082.2,1040.1 1082.8,1039.4 1083.5,1038.8 1084.2,1038.1 1084.8,1037.5 1085.5,1037.0 1086.1,1036.4 1086.8,1035.8 1087.5,1035.3 1088.1,1034.8 1088.8,1034.3 1089.5,1033.8 1090.1,1033.3 1090.8,1032.9 1091.5,1032.4 1092.1,1032.0 1092.8,1031.5 1093.4,1031.1 1094.1,1030.7 1094.8,1030.3 1095.4,1029.9 1096.1,1029.5 1096.8,1029.2 1097.4,1028.8 1098.1,1028.5 1098.7,1028.1 1099.4,1027.8 1100.1,1027.5 1100.7,1027.2 1101.4,1026.8 1102.1,1026.5 1102.7,1026.2 1103.4,1026.0 1104.1,1025.7 1104.7,1025.4 1105.4,1025.1 1106.0,1024.9 1106.7,1024.6 1107.4,1024.4 1108.0,1024.1 1108.7,1023.9 1109.4,1023.6 1110.0,1023.4 1110.7,1023.2 1111.4,1023.0 1112.0,1022.7 1112.7,1022.5 1113.3,1022.3 1114.0,1022.1 1114.7,1021.9 1115.3,1021.7 1116.0,1021.5 1116.7,1021.3 1117.3,1021.2 1118.0,1021.0 1118.7,1020.8 1119.3,1020.6 1120.0,1020.5 1120.6,1020.3 1121.3,1020.1 1122.0,1020.0 1122.6,1019.8 1123.3,1019.7 1124.0,1019.5 1124.6,1019.4 1125.3,1019.2 1126.0,1019.1 1126.6,1018.9 1127.3,1018.8 1127.9,1018.7 1128.6,1018.5 1129.3,1018.4 1129.9,1018.3 1130.6,1018.1 1131.3,1018.0 1131.9,1017.9 1132.6,1017.8 1133.2,1017.7 1133.9,1017.6 1134.6,1017.4 1135.2,1017.3 1135.9,1017.2 1136.6,1017.1 1137.2,1017.0 1137.9,1016.9 1138.6,1016.8 1139.2,1016.7 1139.9,1016.6 1140.5,1016.5 1141.2,1016.4 1141.9,1016.3 1142.5,1016.2 1143.2,1016.1 1143.9,1016.0 1144.5,1015.9 1145.2,1015.9 1145.9,1015.8 1146.5,1015.7 1147.2,1015.6 1147.8,1015.5 1148.5,1015.4 1149.2,1015.4 1149.8,1015.3 1150.5,1015.2 1151.2,1015.1 1151.8,1015.1 1152.5,1015.0 1153.2,1014.9 1153.8,1014.8 1154.5,1014.8 1155.1,1014.7 1155.8,1014.6 1156.5,1014.6 1157.1,1014.5 1157.8,1014.4 1158.5,1014.4 1159.1,1014.3 1159.8,1014.2 1160.5,1014.2 1161.1,1014.1 1161.8,1014.1 1162.4,1014.0 1163.1,1013.9 1163.8,1013.9 1164.4,1013.8 1165.1,1013.8 1165.8,1013.7 1166.4,1013.7 1167.1,1013.6 1167.8,1013.6 1168.4,1013.5 1169.1,1013.4 1169.7,1013.4 1170.4,1013.3 1171.1,1013.3 1171.7,1013.2 1172.4,1013.2 1173.1,1013.2 1173.7,1013.1 1174.4,1013.1 1175.0,1013.0 1175.7,1013.0 1176.4,1012.9 1177.0,1012.9 1177.7,1012.8 1178.4,1012.8 1179.0,1012.7 1179.7,1012.7 1180.4,1012.7 1181.0,1012.6 1181.7,1012.6 1182.3,1012.5 1183.0,1012.5 1183.7,1012.5 1184.3,1012.4 1185.0,1012.4 1185.7,1012.3 1186.3,1012.3 1187.0,1012.3 1187.7,1012.2 1188.3,1012.2 1189.0,1012.2 1189.6,1012.1 1190.3,1012.1 1191.0,1012.1 1191.6,1012.0 1192.3,1012.0 1193.0,1012.0 1193.6,1011.9 1194.3,1011.9 1195.0,1011.9 1195.6,1011.8 1196.3,1011.8 1196.9,1011.8 1197.6,1011.7 1198.3,1011.7 1198.9,1011.7 1199.6,1011.6 1200.3,1011.6 1200.9,1011.6 1201.6,1011.6 1202.3,1011.5 1202.9,1011.5 1203.6,1011.5 1204.2,1011.4 1204.9,1011.4 1205.6,1011.4 1206.2,1011.4 1206.9,1011.3 1207.6,1011.3 1208.2,1011.3 1208.9,1011.3 1209.5,1011.2 1210.2,1011.2 1210.9,1011.2 1211.5,1011.2 1212.2,1011.1 1212.9,1011.1 1213.5,1011.1 1214.2,1011.1 1214.9,1011.0 1215.5,1011.0 1216.2,1011.0 1216.8,1011.0 1217.5,1011.0 1218.2,1010.9 1218.8,1010.9 1219.5,1010.9 1220.2,1010.9 1220.8,1010.8 1221.5,1010.8 1222.2,1010.8 1222.8,1010.8 1223.5,1010.8 1224.1,1010.7 1224.8,1010.7 1225.5,1010.7 1226.1,1010.7 1226.8,1010.7 1227.5,1010.6 1228.1,1010.6 1228.8,1010.6 1229.5,1010.6 1230.1,1010.6 1230.8,1010.6 1231.4,1010.5 1232.1,1010.5 1232.8,1010.5 1233.4,1010.5 1234.1,1010.5 1234.8,1010.4 1235.4,1010.4 1236.1,1010.4 1236.8,1010.4 1237.4,1010.4 1238.1,1010.4 1238.7,1010.3 1239.4,1010.3 1240.1,1010.3 1240.7,1010.3 1241.4,1010.3 1242.1,1010.3 1242.7,1010.3 1243.4,1010.2 1244.0,1010.2 1244.7,1010.2 1245.4,1010.2 1246.0,1010.2 1246.7,1010.2 1247.4,1010.1 1248.0,1010.1 1248.7,1010.1 1249.4,1010.1 1250.0,1010.1 1250.7,1010.1 1251.3,1010.1 1252.0,1010.1 1252.7,1010.0 1253.3,1010.0 1254.0,1010.0 1254.7,1010.0 1255.3,1010.0 1256.0,1010.0 1256.7,1010.0 1257.3,1009.9 1258.0,1009.9 1258.6,1009.9 1259.3,1009.9 1260.0,1009.9 1260.6,1009.9 1261.3,1009.9 1262.0,1009.9 1262.6,1009.8 1263.3,1009.8 1264.0,1009.8 1264.6,1009.8 1265.3,1009.8 1265.9,1009.8 1266.6,1009.8 1267.3,1009.8 1267.9,1009.8 1268.6,1009.7 1269.3,1009.7 1269.9,1009.7 1270.6,1009.7 1271.3,1009.7 1271.9,1009.7 1272.6,1009.7 1273.2,1009.7 1273.9,1009.7 1274.6,1009.6 1275.2,1009.6 1275.9,1009.6 1276.6,1009.6 1277.2,1009.6 1277.9,1009.6 1278.5,1009.6 1279.2,1009.6 1279.9,1009.6 1280.5,1009.6 1281.2,1009.5 1281.9,1009.5 1282.5,1009.5 1283.2,1009.5 1283.9,1009.5 1284.5,1009.5 1285.2,1009.5 1285.8,1009.5 1286.5,1009.5 1287.2,1009.5 1287.8,1009.5 1288.5,1009.4 1289.2,1009.4 1289.8,1009.4 1290.5,1009.4 1291.2,1009.4 1291.8,1009.4 1292.5,1009.4 1293.1,1009.4 1293.8,1009.4 1294.5,1009.4 1295.1,1009.4 1295.8,1009.4 1296.5,1009.3 1297.1,1009.3 1297.8,1009.3 1298.5,1009.3 1299.1,1009.3 1299.8,1009.3 1300.4,1009.3 1301.1,1009.3 1301.8,1009.3 1302.4,1009.3 1303.1,1009.3 1303.8,1009.3 1304.4,1009.3 1305.1,1009.2 1305.8,1009.2 1306.4,1009.2 1307.1,1009.2 1307.7,1009.2 1308.4,1009.2 1309.1,1009.2 1309.7,1009.2 1310.4,1009.2 1311.1,1009.2 1311.7,1009.2 1312.4,1009.2 1313.1,1009.2 1313.7,1009.2 1314.4,1009.2 1315.0,1009.1 1315.7,1009.1 1316.4,1009.1 1317.0,1009.1 1317.7,1009.1 1318.4,1009.1 1319.0,1009.1 1319.7,1009.1" fill="none" stroke="#32393d" stroke-width="3.4" stroke-linejoin="round"/>
<path d="M1032.0,861.0 1032.3,1000.0 1032.8,1150.0 1033.3,1250.0 1033.7,1320.0 1034.1,1342.0 1035.2,1350.0 1036.2,1351.5 1037.0,1351.0 1037.7,1329.5 1038.4,1310.0 1039.0,1292.2 1039.7,1275.9 1040.4,1261.0 1041.0,1247.3 1041.7,1234.7 1042.4,1223.0 1043.0,1212.2 1043.7,1202.2 1044.3,1192.9 1045.0,1184.2 1045.7,1176.2 1046.3,1168.7 1047.0,1161.6 1047.7,1155.1 1048.3,1148.9 1049.0,1143.1 1049.7,1137.7 1050.3,1132.5 1051.0,1127.7 1051.6,1123.1 1052.3,1118.8 1053.0,1114.8 1053.6,1110.9 1054.3,1107.3 1055.0,1103.8 1055.6,1100.5 1056.3,1097.4 1057.0,1094.4 1057.6,1091.6 1058.3,1088.9 1058.9,1086.4 1059.6,1083.9 1060.3,1081.6 1060.9,1079.4 1061.6,1077.3 1062.3,1075.2 1062.9,1073.3 1063.6,1071.4 1064.2,1069.6 1064.9,1067.9 1065.6,1066.3 1066.2,1064.7 1066.9,1063.2 1067.6,1061.7 1068.2,1060.3 1068.9,1059.0 1069.6,1057.7 1070.2,1056.4 1070.9,1055.2 1071.5,1054.1 1072.2,1052.9 1072.9,1051.9 1073.5,1050.8 1074.2,1049.8 1074.9,1048.8 1075.5,1047.9 1076.2,1047.0 1076.9,1046.1 1077.5,1045.3 1078.2,1044.5 1078.8,1043.7 1079.5,1042.9 1080.2,1042.2 1080.8,1041.4 1081.5,1040.7 1082.2,1040.1 1082.8,1039.4 1083.5,1038.8 1084.2,1038.1 1084.8,1037.5 1085.5,1037.0 1086.1,1036.4 1086.8,1035.8 1087.5,1035.3 1088.1,1034.8 1088.8,1034.3 1089.5,1033.8 1090.1,1033.3 1090.8,1032.9 1091.5,1032.4 1092.1,1032.0 1092.8,1031.5 1093.4,1031.1 1094.1,1030.7 1094.8,1030.3 1095.4,1029.9 1096.1,1029.5 1096.8,1029.2 1097.4,1028.8 1098.1,1028.5 1098.7,1028.1 1099.4,1027.8 1100.1,1027.5 1100.7,1027.2 1101.4,1026.8 1102.1,1026.5 1102.7,1026.2 1103.4,1026.0 1104.1,1025.7 1104.7,1025.4 1105.4,1025.1 1106.0,1024.9 1106.7,1024.6 1107.4,1024.4 1108.0,1024.1 1108.7,1023.9 1109.4,1023.6 1110.0,1023.4 1110.7,1023.2 1111.4,1023.0 1112.0,1022.7 1112.7,1022.5 1113.3,1022.3 1114.0,1022.1 1114.7,1021.9 1115.3,1021.7 1116.0,1021.5 1116.7,1021.3 1117.3,1021.2 1118.0,1021.0 1118.7,1020.8 1119.3,1020.6 1120.0,1020.5 1120.6,1020.3 1121.3,1020.1 1122.0,1020.0 1122.6,1019.8 1123.3,1019.7 1124.0,1019.5 1124.6,1019.4 1125.3,1019.2 1126.0,1019.1 1126.6,1018.9 1127.3,1018.8 1127.9,1018.7 1128.6,1018.5 1129.3,1018.4 1129.9,1018.3 1130.6,1018.1 1131.3,1018.0 1131.9,1017.9 1132.6,1017.8 1133.2,1017.7 1133.9,1017.6 1134.6,1017.4 1135.2,1017.3 1135.9,1017.2 1136.6,1017.1 1137.2,1017.0 1137.9,1016.9 1138.6,1016.8 1139.2,1016.7 1139.9,1016.6 1140.5,1016.5 1141.2,1016.4 1141.9,1016.3 1142.5,1016.2 1143.2,1016.1 1143.9,1016.0 1144.5,1015.9 1145.2,1015.9 1145.9,1015.8 1146.5,1015.7 1147.2,1015.6 1147.8,1015.5 1148.5,1015.4 1149.2,1015.4 1149.8,1015.3 1150.5,1015.2 1151.2,1015.1 1151.8,1015.1 1152.5,1015.0 1153.2,1014.9 1153.8,1014.8 1154.5,1014.8 1155.1,1014.7 1155.8,1014.6 1156.5,1014.6 1157.1,1014.5 1157.8,1014.4 1158.5,1014.4 1159.1,1014.3 1159.8,1014.2 1160.5,1014.2 1161.1,1014.1 1161.8,1014.1 1162.4,1014.0 1163.1,1013.9 1163.8,1013.9 1164.4,1013.8 1165.1,1013.8 1165.8,1013.7 1166.4,1013.7 1167.1,1013.6 1167.8,1013.6 1168.4,1013.5 1169.1,1013.4 1169.7,1013.4 1170.4,1013.3 1171.1,1013.3 1171.7,1013.2 1172.4,1013.2 1173.1,1013.2 1173.7,1013.1 1174.4,1013.1 1175.0,1013.0 1175.7,1013.0 1176.4,1012.9 1177.0,1012.9 1177.7,1012.8 1178.4,1012.8 1179.0,1012.7 1179.7,1012.7 1180.4,1012.7 1181.0,1012.6 1181.7,1012.6 1182.3,1012.5 1183.0,1012.5 1183.7,1012.5 1184.3,1012.4 1185.0,1012.4 1185.7,1012.3 1186.3,1012.3 1187.0,1012.3 1187.7,1012.2 1188.3,1012.2 1189.0,1012.2 1189.6,1012.1 1190.3,1012.1 1191.0,1012.1 1191.6,1012.0 1192.3,1012.0 1193.0,1012.0 1193.6,1011.9 1194.3,1011.9 1195.0,1011.9 1195.6,1011.8 1196.3,1011.8 1196.9,1011.8 1197.6,1011.7 1198.3,1011.7 1198.9,1011.7 1199.6,1011.6 1200.3,1011.6 1200.9,1011.6 1201.6,1011.6 1202.3,1011.5 1202.9,1011.5 1203.6,1011.5 1204.2,1011.4 1204.9,1011.4 1205.6,1011.4 1206.2,1011.4 1206.9,1011.3 1207.6,1011.3 1208.2,1011.3 1208.9,1011.3 1209.5,1011.2 1210.2,1011.2 1210.9,1011.2 1211.5,1011.2 1212.2,1011.1 1212.9,1011.1 1213.5,1011.1 1214.2,1011.1 1214.9,1011.0 1215.5,1011.0 1216.2,1011.0 1216.8,1011.0 1217.5,1011.0 1218.2,1010.9 1218.8,1010.9 1219.5,1010.9 1220.2,1010.9 1220.8,1010.8 1221.5,1010.8 1222.2,1010.8 1222.8,1010.8 1223.5,1010.8 1224.1,1010.7 1224.8,1010.7 1225.5,1010.7 1226.1,1010.7 1226.8,1010.7 1227.5,1010.6 1228.1,1010.6 1228.8,1010.6 1229.5,1010.6 1230.1,1010.6 1230.8,1010.6 1231.4,1010.5 1232.1,1010.5 1232.8,1010.5 1233.4,1010.5 1234.1,1010.5 1234.8,1010.4 1235.4,1010.4 1236.1,1010.4 1236.8,1010.4 1237.4,1010.4 1238.1,1010.4 1238.7,1010.3 1239.4,1010.3 1240.1,1010.3 1240.7,1010.3 1241.4,1010.3 1242.1,1010.3 1242.7,1010.3 1243.4,1010.2 1244.0,1010.2 1244.7,1010.2 1245.4,1010.2 1246.0,1010.2 1246.7,1010.2 1247.4,1010.1 1248.0,1010.1 1248.7,1010.1 1249.4,1010.1 1250.0,1010.1 1250.7,1010.1 1251.3,1010.1 1252.0,1010.1 1252.7,1010.0 1253.3,1010.0 1254.0,1010.0 1254.7,1010.0 1255.3,1010.0 1256.0,1010.0 1256.7,1010.0 1257.3,1009.9 1258.0,1009.9 1258.6,1009.9 1259.3,1009.9 1260.0,1009.9 1260.6,1009.9 1261.3,1009.9 1262.0,1009.9 1262.6,1009.8 1263.3,1009.8 1264.0,1009.8 1264.6,1009.8 1265.3,1009.8 1265.9,1009.8 1266.6,1009.8 1267.3,1009.8 1267.9,1009.8 1268.6,1009.7 1269.3,1009.7 1269.9,1009.7 1270.6,1009.7 1271.3,1009.7 1271.9,1009.7 1272.6,1009.7 1273.2,1009.7 1273.9,1009.7 1274.6,1009.6 1275.2,1009.6 1275.9,1009.6 1276.6,1009.6 1277.2,1009.6 1277.9,1009.6 1278.5,1009.6 1279.2,1009.6 1279.9,1009.6 1280.5,1009.6 1281.2,1009.5 1281.9,1009.5 1282.5,1009.5 1283.2,1009.5 1283.9,1009.5 1284.5,1009.5 1285.2,1009.5 1285.8,1009.5 1286.5,1009.5 1287.2,1009.5 1287.8,1009.5 1288.5,1009.4 1289.2,1009.4 1289.8,1009.4 1290.5,1009.4 1291.2,1009.4 1291.8,1009.4 1292.5,1009.4 1293.1,1009.4 1293.8,1009.4 1294.5,1009.4 1295.1,1009.4 1295.8,1009.4 1296.5,1009.3 1297.1,1009.3 1297.8,1009.3 1298.5,1009.3 1299.1,1009.3 1299.8,1009.3 1300.4,1009.3 1301.1,1009.3 1301.8,1009.3 1302.4,1009.3 1303.1,1009.3 1303.8,1009.3 1304.4,1009.3 1305.1,1009.2 1305.8,1009.2 1306.4,1009.2 1307.1,1009.2 1307.7,1009.2 1308.4,1009.2 1309.1,1009.2 1309.7,1009.2 1310.4,1009.2 1311.1,1009.2 1311.7,1009.2 1312.4,1009.2 1313.1,1009.2 1313.7,1009.2 1314.4,1009.2 1315.0,1009.1 1315.7,1009.1 1316.4,1009.1 1317.0,1009.1 1317.7,1009.1 1318.4,1009.1 1319.0,1009.1 1319.7,1009.1" fill="none" stroke="#000" stroke-width="3.4" stroke-linejoin="round" clip-path="url(#clipY)"/>
<path d="M1034.7,1449.3 1035.2,1425.7 1035.6,1403.9 1036.1,1383.8 1036.6,1365.1 1037.1,1347.8 1037.6,1331.8 1038.1,1316.8 1038.6,1302.9 1039.1,1289.8 1039.6,1277.6 1040.1,1266.2 1040.6,1255.5 1041.1,1245.4 1041.6,1236.0 1042.1,1227.1 1042.6,1218.7 1043.1,1210.7 1043.6,1203.2 1044.1,1196.1 1044.6,1189.4 1045.1,1183.1 1045.6,1177.0 1046.1,1171.3 1046.6,1165.9 1047.1,1160.7 1047.6,1155.7 1048.1,1151.1 1048.6,1146.6 1049.1,1142.3 1049.6,1138.2 1050.1,1134.3 1050.6,1130.6 1051.1,1127.0 1051.6,1123.6 1052.1,1120.3 1052.6,1117.2 1053.1,1114.2 1053.6,1111.3 1054.1,1108.6 1054.6,1105.9 1055.1,1103.3 1055.6,1100.9 1056.1,1098.5 1056.5,1096.2 1057.0,1094.0 1057.5,1091.9 1058.0,1089.9 1058.5,1087.9 1059.0,1086.0 1059.5,1084.2 1060.0,1082.4 1060.5,1080.7 1061.0,1079.1 1061.5,1077.5 1062.0,1075.9 1062.5,1074.4 1063.0,1073.0 1063.5,1071.6 1064.0,1070.2 1064.5,1068.9 1065.0,1067.7 1065.5,1066.4 1066.0,1065.2 1066.5,1064.1 1067.0,1063.0 1067.5,1061.9 1068.0,1060.8 1068.5,1059.8 1069.0,1058.8 1069.5,1057.8 1070.0,1056.9 1070.5,1055.9 1071.0,1055.0 1071.5,1054.2 1072.0,1053.3 1072.5,1052.5 1073.0,1051.7 1073.5,1050.9 1074.0,1050.2 1074.5,1049.4 1075.0,1048.7 1075.5,1048.0 1076.0,1047.3 1076.5,1046.7 1077.0,1046.0 1077.4,1045.4 1077.9,1044.8 1078.4,1044.1 1078.9,1043.6 1079.4,1043.0 1079.9,1042.4 1080.4,1041.9 1080.9,1041.3 1081.4,1040.8 1081.9,1040.3 1082.4,1039.8 1082.9,1039.3 1083.4,1038.8 1083.9,1038.4 1084.4,1037.9 1084.9,1037.5 1085.4,1037.0 1085.9,1036.6 1086.4,1036.2 1086.9,1035.8 1087.4,1035.4 1087.9,1035.0 1088.4,1034.6 1088.9,1034.2 1089.4,1033.8 1089.9,1033.5 1090.4,1033.1 1090.9,1032.8 1091.4,1032.4 1091.9,1032.1 1092.4,1031.8 1092.9,1031.5 1093.4,1031.2 1093.9,1030.9 1094.4,1030.5 1094.9,1030.3 1095.4,1030.0 1095.9,1029.7 1096.4,1029.4 1096.9,1029.1 1097.4,1028.9 1097.9,1028.6 1098.3,1028.3 1098.8,1028.1 1099.3,1027.8 1099.8,1027.6 1100.3,1027.3 1100.8,1027.1 1101.3,1026.9 1101.8,1026.6 1102.3,1026.4 1102.8,1026.2 1103.3,1026.0 1103.8,1025.8 1104.3,1025.6 1104.8,1025.4 1105.3,1025.2 1105.8,1025.0 1106.3,1024.8 1106.8,1024.6 1107.3,1024.4 1107.8,1024.2 1108.3,1024.0 1108.8,1023.8 1109.3,1023.7 1109.8,1023.5 1110.3,1023.3 1110.8,1023.1 1111.3,1023.0 1111.8,1022.8 1112.3,1022.7 1112.8,1022.5 1113.3,1022.3 1113.8,1022.2 1114.3,1022.0 1114.8,1021.9 1115.3,1021.7 1115.8,1021.6 1116.3,1021.5 1116.8,1021.3 1117.3,1021.2 1117.8,1021.0 1118.3,1020.9 1118.8,1020.8 1119.2,1020.7 1119.7,1020.5 1120.2,1020.4 1120.7,1020.3 1121.2,1020.2 1121.7,1020.0 1122.2,1019.9 1122.7,1019.8 1123.2,1019.7 1123.7,1019.6 1124.2,1019.5 1124.7,1019.3 1125.2,1019.2 1125.7,1019.1 1126.2,1019.0 1126.7,1018.9 1127.2,1018.8 1127.7,1018.7 1128.2,1018.6 1128.7,1018.5 1129.2,1018.4 1129.7,1018.3 1130.2,1018.2 1130.7,1018.1 1131.2,1018.0 1131.7,1017.9 1132.2,1017.9 1132.7,1017.8 1133.2,1017.7 1133.7,1017.6 1134.2,1017.5 1134.7,1017.4 1135.2,1017.3 1135.7,1017.3 1136.2,1017.2 1136.7,1017.1 1137.2,1017.0 1137.7,1016.9 1138.2,1016.9 1138.7,1016.8 1139.2,1016.7 1139.7,1016.6 1140.1,1016.6 1140.6,1016.5 1141.1,1016.4 1141.6,1016.3 1142.1,1016.3 1142.6,1016.2 1143.1,1016.1 1143.6,1016.1 1144.1,1016.0 1144.6,1015.9 1145.1,1015.9 1145.6,1015.8 1146.1,1015.7 1146.6,1015.7 1147.1,1015.6 1147.6,1015.6 1148.1,1015.5 1148.6,1015.4 1149.1,1015.4 1149.6,1015.3 1150.1,1015.3 1150.6,1015.2 1151.1,1015.1 1151.6,1015.1 1152.1,1015.0 1152.6,1015.0 1153.1,1014.9 1153.6,1014.9 1154.1,1014.8 1154.6,1014.8 1155.1,1014.7 1155.6,1014.7 1156.1,1014.6 1156.6,1014.6 1157.1,1014.5 1157.6,1014.5 1158.1,1014.4 1158.6,1014.4 1159.1,1014.3 1159.6,1014.3 1160.1,1014.2 1160.6,1014.2 1161.0,1014.1 1161.5,1014.1 1162.0,1014.0 1162.5,1014.0 1163.0,1013.9 1163.5,1013.9 1164.0,1013.9 1164.5,1013.8 1165.0,1013.8 1165.5,1013.7 1166.0,1013.7 1166.5,1013.7 1167.0,1013.6 1167.5,1013.6 1168.0,1013.5 1168.5,1013.5 1169.0,1013.5 1169.5,1013.4 1170.0,1013.4 1170.5,1013.3 1171.0,1013.3 1171.5,1013.3 1172.0,1013.2 1172.5,1013.2 1173.0,1013.2 1173.5,1013.1 1174.0,1013.1 1174.5,1013.0 1175.0,1013.0 1175.5,1013.0 1176.0,1012.9 1176.5,1012.9 1177.0,1012.9 1177.5,1012.8 1178.0,1012.8 1178.5,1012.8 1179.0,1012.7 1179.5,1012.7 1180.0,1012.7 1180.5,1012.7 1181.0,1012.6 1181.5,1012.6 1182.0,1012.6 1182.4,1012.5 1182.9,1012.5 1183.4,1012.5 1183.9,1012.4 1184.4,1012.4 1184.9,1012.4 1185.4,1012.4 1185.9,1012.3 1186.4,1012.3 1186.9,1012.3 1187.4,1012.2 1187.9,1012.2 1188.4,1012.2 1188.9,1012.2 1189.4,1012.1 1189.9,1012.1 1190.4,1012.1 1190.9,1012.1 1191.4,1012.0 1191.9,1012.0 1192.4,1012.0 1192.9,1012.0 1193.4,1011.9 1193.9,1011.9 1194.4,1011.9 1194.9,1011.9 1195.4,1011.8 1195.9,1011.8 1196.4,1011.8 1196.9,1011.8 1197.4,1011.7 1197.9,1011.7 1198.4,1011.7 1198.9,1011.7 1199.4,1011.7 1199.9,1011.6 1200.4,1011.6 1200.9,1011.6 1201.4,1011.6 1201.9,1011.5 1202.4,1011.5 1202.9,1011.5 1203.3,1011.5 1203.8,1011.5 1204.3,1011.4 1204.8,1011.4 1205.3,1011.4 1205.8,1011.4 1206.3,1011.4 1206.8,1011.3 1207.3,1011.3 1207.8,1011.3 1208.3,1011.3 1208.8,1011.3 1209.3,1011.2 1209.8,1011.2 1210.3,1011.2 1210.8,1011.2 1211.3,1011.2 1211.8,1011.2 1212.3,1011.1 1212.8,1011.1 1213.3,1011.1 1213.8,1011.1 1214.3,1011.1 1214.8,1011.0 1215.3,1011.0 1215.8,1011.0 1216.3,1011.0 1216.8,1011.0 1217.3,1011.0 1217.8,1010.9 1218.3,1010.9 1218.8,1010.9 1219.3,1010.9 1219.8,1010.9 1220.3,1010.9 1220.8,1010.9 1221.3,1010.8 1221.8,1010.8 1222.3,1010.8 1222.8,1010.8 1223.3,1010.8 1223.8,1010.8 1224.2,1010.7 1224.7,1010.7 1225.2,1010.7 1225.7,1010.7 1226.2,1010.7 1226.7,1010.7 1227.2,1010.7 1227.7,1010.6 1228.2,1010.6 1228.7,1010.6 1229.2,1010.6 1229.7,1010.6 1230.2,1010.6 1230.7,1010.6 1231.2,1010.5 1231.7,1010.5 1232.2,1010.5 1232.7,1010.5 1233.2,1010.5 1233.7,1010.5 1234.2,1010.5 1234.7,1010.5 1235.2,1010.4 1235.7,1010.4 1236.2,1010.4 1236.7,1010.4 1237.2,1010.4 1237.7,1010.4 1238.2,1010.4 1238.7,1010.3 1239.2,1010.3 1239.7,1010.3 1240.2,1010.3 1240.7,1010.3 1241.2,1010.3 1241.7,1010.3 1242.2,1010.3 1242.7,1010.3 1243.2,1010.2 1243.7,1010.2 1244.2,1010.2 1244.7,1010.2 1245.1,1010.2 1245.6,1010.2 1246.1,1010.2 1246.6,1010.2 1247.1,1010.2 1247.6,1010.1 1248.1,1010.1 1248.6,1010.1 1249.1,1010.1 1249.6,1010.1 1250.1,1010.1 1250.6,1010.1 1251.1,1010.1 1251.6,1010.1 1252.1,1010.0 1252.6,1010.0 1253.1,1010.0 1253.6,1010.0 1254.1,1010.0 1254.6,1010.0 1255.1,1010.0 1255.6,1010.0 1256.1,1010.0 1256.6,1010.0 1257.1,1009.9 1257.6,1009.9 1258.1,1009.9 1258.6,1009.9 1259.1,1009.9 1259.6,1009.9 1260.1,1009.9 1260.6,1009.9 1261.1,1009.9 1261.6,1009.9 1262.1,1009.9 1262.6,1009.8 1263.1,1009.8 1263.6,1009.8 1264.1,1009.8 1264.6,1009.8 1265.1,1009.8 1265.6,1009.8 1266.0,1009.8 1266.5,1009.8 1267.0,1009.8 1267.5,1009.8 1268.0,1009.8 1268.5,1009.7 1269.0,1009.7 1269.5,1009.7 1270.0,1009.7 1270.5,1009.7 1271.0,1009.7 1271.5,1009.7 1272.0,1009.7 1272.5,1009.7 1273.0,1009.7 1273.5,1009.7 1274.0,1009.7 1274.5,1009.6 1275.0,1009.6 1275.5,1009.6 1276.0,1009.6 1276.5,1009.6 1277.0,1009.6 1277.5,1009.6 1278.0,1009.6 1278.5,1009.6 1279.0,1009.6 1279.5,1009.6 1280.0,1009.6 1280.5,1009.6 1281.0,1009.6 1281.5,1009.5 1282.0,1009.5 1282.5,1009.5 1283.0,1009.5 1283.5,1009.5 1284.0,1009.5 1284.5,1009.5 1285.0,1009.5 1285.5,1009.5 1286.0,1009.5 1286.5,1009.5 1286.9,1009.5 1287.4,1009.5 1287.9,1009.5 1288.4,1009.4 1288.9,1009.4 1289.4,1009.4 1289.9,1009.4 1290.4,1009.4 1290.9,1009.4 1291.4,1009.4 1291.9,1009.4 1292.4,1009.4 1292.9,1009.4 1293.4,1009.4 1293.9,1009.4 1294.4,1009.4 1294.9,1009.4 1295.4,1009.4 1295.9,1009.4 1296.4,1009.3 1296.9,1009.3 1297.4,1009.3 1297.9,1009.3 1298.4,1009.3 1298.9,1009.3 1299.4,1009.3 1299.9,1009.3 1300.4,1009.3 1300.9,1009.3 1301.4,1009.3 1301.9,1009.3 1302.4,1009.3 1302.9,1009.3 1303.4,1009.3 1303.9,1009.3 1304.4,1009.3 1304.9,1009.3 1305.4,1009.2 1305.9,1009.2 1306.4,1009.2 1306.9,1009.2 1307.4,1009.2 1307.8,1009.2 1308.3,1009.2 1308.8,1009.2 1309.3,1009.2 1309.8,1009.2 1310.3,1009.2 1310.8,1009.2 1311.3,1009.2 1311.8,1009.2 1312.3,1009.2 1312.8,1009.2 1313.3,1009.2 1313.8,1009.2 1314.3,1009.2 1314.8,1009.1 1315.3,1009.1 1315.8,1009.1 1316.3,1009.1 1316.8,1009.1 1317.3,1009.1 1317.8,1009.1 1318.3,1009.1 1318.8,1009.1 1319.3,1009.1 1319.8,1009.1" fill="none" stroke="#f7b216" stroke-width="3.4" stroke-dasharray="9 9"/>
<path d="M1034.8,861 L1034.8,975 C1035.5,995 1037.5,1006 1046,1007.8 L1322,1007.8" fill="none" stroke="#6a2dc8" stroke-width="3.4" stroke-dasharray="2.4 2.4"/>
<path d="M1016.7,1137.0 1020.0,1135.1 1023.3,1133.3 1026.6,1131.6 1029.9,1129.8 1033.2,1128.1 1036.5,1126.4 1039.8,1124.7 1043.0,1123.1 1046.3,1121.5 1049.6,1119.9 1052.8,1118.3 1056.0,1116.8 1059.3,1115.2 1062.5,1113.7 1065.7,1112.3 1069.0,1110.8 1072.2,1109.4 1075.4,1108.0 1078.6,1106.6 1081.8,1105.3 1085.0,1103.9 1088.1,1102.6 1091.3,1101.3 1094.5,1100.1 1097.6,1098.8 1100.8,1097.6 1104.0,1096.4 1107.1,1095.2 1110.2,1094.0 1113.4,1092.8 1116.5,1091.7 1119.6,1090.5 1122.7,1089.4 1125.8,1088.4 1128.9,1087.3 1132.0,1086.2 1135.1,1085.2 1138.2,1084.1 1141.3,1083.1 1144.4,1082.1 1147.4,1081.2 1150.5,1080.2 1153.6,1079.2 1156.6,1078.3 1159.7,1077.4 1162.7,1076.5 1165.7,1075.6 1168.8,1074.7 1171.8,1073.8 1174.8,1073.0 1177.8,1072.1 1180.8,1071.3 1183.8,1070.5 1186.8,1069.7 1189.8,1068.9 1192.8,1068.1 1195.8,1067.3 1198.8,1066.5 1201.7,1065.8 1204.7,1065.1 1207.7,1064.3 1210.6,1063.6 1213.6,1062.9 1216.5,1062.2 1219.5,1061.5 1222.4,1060.8 1225.3,1060.2 1228.2,1059.5 1231.2,1058.9 1234.1,1058.2 1237.0,1057.6 1239.9,1057.0 1242.8,1056.4 1245.7,1055.8 1248.6,1055.2 1251.4,1054.6 1254.3,1054.0 1257.2,1053.4 1260.1,1052.9 1262.9,1052.3 1265.8,1051.8 1268.6,1051.2 1271.5,1050.7 1274.3,1050.2 1277.2,1049.6 1280.0,1049.1 1282.8,1048.6 1285.7,1048.1 1288.5,1047.6 1291.3,1047.2 1294.1,1046.7 1296.9,1046.2 1299.7,1045.8 1302.5,1045.3 1305.3,1044.8 1308.1,1044.4 1310.9,1044.0 1313.6,1043.5 1316.4,1043.1 1319.2,1042.7" fill="none" stroke="#dc3c3c" stroke-width="3.4"/>
<rect x="994.5" y="857" width="58.1" height="590.5" fill="#fffa14" opacity="0.3"/>
<rect x="993.8" y="855.5" width="330.70000000000005" height="597.0" fill="none" stroke="#333" stroke-width="1.3"/>
<line x1="989.6" y1="861.0" x2="993.8" y2="861.0" stroke="#333" stroke-width="1.2"/>
<text x="986.50" y="869.0" font-size="22.40" fill="#000" text-anchor="end">0.5</text>
<line x1="989.6" y1="1007.8" x2="993.8" y2="1007.8" stroke="#333" stroke-width="1.2"/>
<text x="986.50" y="1015.8" font-size="22.40" fill="#000" text-anchor="end">0.0</text>
<line x1="989.6" y1="1154.6" x2="993.8" y2="1154.6" stroke="#333" stroke-width="1.2"/>
<text x="986.50" y="1162.6" font-size="22.40" fill="#000" text-anchor="end">-0.5</text>
<line x1="989.6" y1="1301.4" x2="993.8" y2="1301.4" stroke="#333" stroke-width="1.2"/>
<text x="986.50" y="1309.4" font-size="22.40" fill="#000" text-anchor="end">-1.0</text>
<line x1="989.6" y1="1448.2" x2="993.8" y2="1448.2" stroke="#333" stroke-width="1.2"/>
<text x="986.50" y="1456.2" font-size="22.40" fill="#000" text-anchor="end">-1.5</text>
<line x1="1016.7" y1="1452.5" x2="1016.7" y2="1457.5" stroke="#333" stroke-width="1.2"/>
<text x="1016.70" y="1481.5" font-size="22.40" fill="#000" text-anchor="middle">1.00</text>
<line x1="1097.6" y1="1452.5" x2="1097.6" y2="1457.5" stroke="#333" stroke-width="1.2"/>
<text x="1097.64" y="1481.5" font-size="22.40" fill="#000" text-anchor="middle">1.05</text>
<line x1="1174.8" y1="1452.5" x2="1174.8" y2="1457.5" stroke="#333" stroke-width="1.2"/>
<text x="1174.82" y="1481.5" font-size="22.40" fill="#000" text-anchor="middle">1.10</text>
<line x1="1248.6" y1="1452.5" x2="1248.6" y2="1457.5" stroke="#333" stroke-width="1.2"/>
<text x="1248.57" y="1481.5" font-size="22.40" fill="#000" text-anchor="middle">1.15</text>
<line x1="1319.2" y1="1452.5" x2="1319.2" y2="1457.5" stroke="#333" stroke-width="1.2"/>
<text x="1319.17" y="1481.5" font-size="22.40" fill="#000" text-anchor="middle">1.20</text>
<text x="1159.50" y="1516.0" font-size="21.60" fill="#000" text-anchor="middle" font-style="italic">r/d</text>
<g transform="translate(923.9,1186.5) rotate(-90)">
<text x="0.00" y="0.0" font-size="23.40" fill="#000" font-style="italic">F</text>
<text x="21.00" y="0.0" font-size="23.40" fill="#000">(pN)</text>
</g>
<line x1="1134.5" y1="888.2" x2="1177.7" y2="888.2" stroke="#6a2dc8" stroke-width="3.4" stroke-dasharray="2.4 2.4"/>
<line x1="1134.5" y1="918.1" x2="1177.7" y2="918.1" stroke="#eeb43a" stroke-width="3.4" stroke-dasharray="9 9"/>
<line x1="1134.5" y1="947.9" x2="1177.7" y2="947.9" stroke="#32393d" stroke-width="3.6"/>
<line x1="1134.5" y1="977.9" x2="1177.7" y2="977.9" stroke="#dc3c3c" stroke-width="3.6"/>
<text x="1188.50" y="895.6" font-size="23.40" fill="#3b4247" font-style="italic">F</text>
<text x="1202.26" y="900.3" font-size="15.50" fill="#3b4247" textLength="13.5" lengthAdjust="spacingAndGlyphs">el</text>
<text x="1188.50" y="925.5" font-size="23.40" fill="#3b4247" font-style="italic">F</text>
<text x="1202.95" y="930.2" font-size="15.50" fill="#3b4247" textLength="32.1" lengthAdjust="spacingAndGlyphs">vdW</text>
<text x="1188.50" y="985.3" font-size="23.40" fill="#3b4247" font-style="italic">F</text>
<text x="1202.76" y="990.0" font-size="15.50" fill="#3b4247" textLength="13.4" lengthAdjust="spacingAndGlyphs">fit</text>
<text x="1188.50" y="955.3" font-size="23.40" fill="#3b4247" font-style="italic">F</text>
<text x="1202.26" y="960.0" font-size="15.50" fill="#3b4247" textLength="13.5" lengthAdjust="spacingAndGlyphs">el</text>
<text x="1215.50" y="955.3" font-size="23.40" fill="#3b4247">+</text>
<text x="1229.00" y="955.3" font-size="23.40" fill="#3b4247" font-style="italic">F</text>
<text x="1243.45" y="960.0" font-size="15.50" fill="#3b4247" textLength="32.1" lengthAdjust="spacingAndGlyphs">vdW</text>
<line x1="1100.6" y1="1131.8" x2="1072.9" y2="1124.7" stroke="#000" stroke-width="4.2"/>
<polygon points="1057.4,1120.7 1076.9,1116.9 1072.7,1133.4" fill="#000"/>
<line x1="1073.2" y1="1386.0" x2="1048.9" y2="1365.5" stroke="#000" stroke-width="4.2"/>
<polygon points="1036.7,1355.2 1055.9,1360.3 1045.0,1373.3" fill="#000"/>
<text x="1108.58" y="1139.5" font-size="23.32" fill="#000" textLength="29.8" lengthAdjust="spacingAndGlyphs" font-style="italic">r/d</text>
<text x="1143.26" y="1139.5" font-size="23.32" fill="#000" textLength="82.6" lengthAdjust="spacingAndGlyphs">≈1.023</text>
<polygon points="994.5,1217.8 1010.5,1209.3 1010.5,1215.5 1036.6,1215.5 1036.6,1209.3 1052.6,1217.8 1036.6,1226.3 1036.6,1220.1 1010.5,1220.1 1010.5,1226.3" fill="#848484"/>
<polygon points="1053.5,1217.8 1069.5,1209.3 1069.5,1215.5 1304.2,1215.5 1304.2,1209.3 1320.2,1217.8 1304.2,1226.3 1304.2,1220.1 1069.5,1220.1 1069.5,1226.3" fill="#848484"/>
<polyline points="1021.4,1218 1044.7,1270.4 1072.8,1270.4" fill="none" stroke="#777" stroke-width="1"/>
<text x="1094.34" y="1243.2" font-size="24.86" fill="#000" textLength="164.7" lengthAdjust="spacingAndGlyphs">D-I dominant</text>
<text x="1078.10" y="1280.1" font-size="24.86" fill="#000" textLength="183.7" lengthAdjust="spacingAndGlyphs">vdW dominant</text>
<text x="1083.45" y="1398.3" font-size="24.86" fill="#000" textLength="131.6" lengthAdjust="spacingAndGlyphs">Secondary</text>
<text x="1083.87" y="1435.0" font-size="24.86" fill="#000" textLength="213.7" lengthAdjust="spacingAndGlyphs">energy minimum</text>
</svg></body></html>
